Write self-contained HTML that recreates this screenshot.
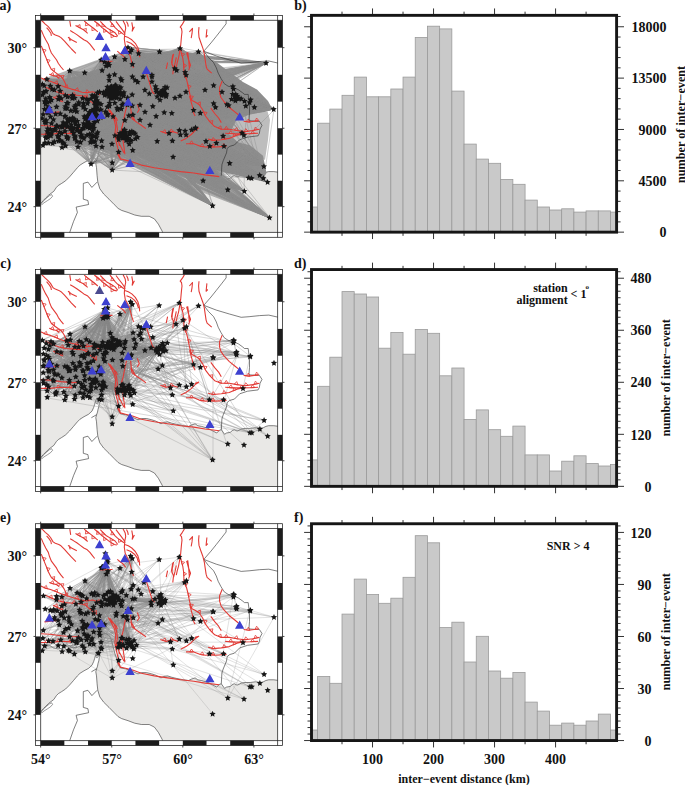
<!DOCTYPE html><html><head><meta charset="utf-8"><style>
html,body{margin:0;padding:0;background:#fff;}
svg{display:block;}
.t14{font-family:"Liberation Serif", serif;font-weight:bold;font-size:14px;fill:#111;}
.t12{font-family:"Liberation Serif", serif;font-weight:bold;font-size:12px;fill:#111;}
.t7{font-family:"Liberation Serif", serif;font-weight:bold;font-size:7px;fill:#111;}
.ty{font-family:"Liberation Serif", serif;font-weight:bold;font-size:12.2px;fill:#111;}
</style></head><body>
<svg width="685" height="785" viewBox="0 0 685 785">
<rect width="685" height="785" fill="#fff"/>
<g transform="translate(0,0.00)">
<clipPath id="mc0"><rect x="40.65" y="20.30" width="236.95" height="212.10"/></clipPath>
<g clip-path="url(#mc0)">
<rect x="40.65" y="20.30" width="236.95" height="212.10" fill="#fff"/>
<path d="M39.0 136.1 L40.6 136.1 L45.0 136.1 L49.7 137.2 L53.2 139.6 L57.9 140.7 L61.4 140.2 L66.0 138.4 L69.5 137.2 L71.9 139.0 L75.4 139.6 L78.9 138.4 L82.4 137.2 L85.9 135.5 L89.4 133.1 L92.9 130.8 L95.0 127.0 L97.0 124.5 L101.0 124.6 L106.0 125.5 L109.5 127.5 L111.5 132.0 L113.0 138.0 L114.8 145.0 L116.8 150.9 L118.5 157.1 L120.3 159.7 L125.5 160.6 L130.8 162.4 L138.0 165.7 L141.3 164.4 L146.5 164.4 L151.8 165.7 L155.7 167.0 L161.0 169.7 L163.6 168.3 L167.6 167.7 L171.5 169.0 L176.8 170.3 L183.3 171.6 L188.6 172.3 L191.2 171.0 L195.1 169.7 L197.8 171.6 L201.6 172.3 L208.1 174.3 L216.7 178.9 L219.3 176.2 L221.3 175.6 L224.6 180.2 L226.5 178.9 L230.5 178.2 L232.4 176.2 L234.4 175.6 L237.0 176.9 L239.0 176.2 L241.0 174.9 L245.0 174.3 L250.2 174.3 L255.4 173.6 L260.7 174.3 L263.3 173.6 L265.9 172.3 L268.6 171.6 L273.8 171.6 L279.0 172.3 L279.0 234.0 L163.0 234.0 L162.3 231.4 L158.4 224.2 L154.4 218.9 L149.2 216.3 L141.3 216.3 L134.7 215.0 L128.1 212.5 L121.6 210.4 L118.1 208.4 L114.2 204.5 L109.0 199.2 L103.7 194.0 L99.8 188.7 L97.8 182.1 L97.1 175.6 L96.5 167.7 L95.8 163.6 L96.6 160.6 L97.5 158.0 L98.0 155.3 L98.8 152.7 L99.3 149.2 L98.8 146.1 L97.5 144.8 L96.2 145.2 L95.4 147.5 L94.6 150.5 L93.6 153.5 L92.0 157.0 L88.5 160.2 L84.0 162.6 L80.0 165.1 L77.4 167.7 L73.5 172.3 L69.5 176.9 L65.6 180.8 L61.7 183.4 L58.4 185.4 L56.4 187.4 L53.8 191.3 L51.1 193.3 L48.5 195.3 L45.9 197.9 L43.3 200.5 L40.6 203.8 L39.0 205.0 Z" fill="#e9e8e6" stroke="#333" stroke-width="0.6"/>
<path d="M41.2 203.6 L43.5 200.8 L46.5 198.2 L49.5 195.6 L51.6 194.6 L52.6 196.2 L50.5 198.6 L47.5 200.6 L44.0 202.8 L41.8 204.6 Z" fill="#fff" stroke="#333" stroke-width="0.5"/>
<path d="M70.8 137.5 L73.0 136.6 L76.2 137.1 L76.4 138.9 L73.5 139.5 L71.0 139.1 Z" fill="#fff" stroke="#333" stroke-width="0.5"/>
<path d="M96.0 147.5 L97.2 146.0 L98.3 147.2 L97.5 149.5 L96.3 149.4 Z" fill="#fff" stroke="#333" stroke-width="0.5"/>
<path d="M40.0 79.5 L48.7 76.8 L59.4 73.2 L70.0 69.6 L82.5 65.2 L95.0 60.7 L103.9 58.1 L114.6 54.5 L127.0 51.0 L137.7 49.7 L160.0 50.0 L160.0 53.0 L137.0 55.0 L119.3 61.0 L101.6 68.0 L80.4 76.0 L59.2 81.0 L40.0 87.0 Z" fill="#b4b4b4"/><path d="M232.0 112.0 L250.0 110.0 L266.0 106.0 L270.0 120.0 L268.0 140.0 L265.0 160.0 L250.0 150.0 L236.0 146.0 L226.0 136.0 L228.0 120.0 Z" fill="#bdbdbd"/><path d="M40.0 86.0 L59.2 80.5 L80.4 75.5 L101.6 67.0 L119.3 60.5 L137.0 54.5 L158.1 52.5 L179.3 51.0 L198.8 54.0 L214.7 61.0 L228.8 71.5 L243.0 82.0 L257.0 89.5 L268.0 101.0 L272.0 108.5 L264.1 112.0 L250.0 114.0 L236.0 121.0 L229.0 134.6 L236.0 141.7 L250.0 145.2 L263.0 155.8 L266.5 173.0 L263.0 179.5 L250.0 177.0 L228.8 173.5 L214.7 170.0 L193.5 166.4 L172.3 161.1 L151.1 157.6 L133.4 155.8 L119.3 152.3 L108.7 150.5 L98.1 148.7 L83.9 145.2 L66.3 141.7 L52.1 138.1 L40.0 136.4 Z" fill="#8e8e8e"/><path d="M213 206l-170 -121M213 206l-136 -75M213 206l-136 -75M213 206l-140 -85M213 206l-86 -70M213 206l-117 -94M213 206l-94 -70M213 206l-75 -68M213 206l-169 -113M213 206l-81 -65M213 206l-116 -98M213 206l-145 -109M213 206l-103 -126M213 206l-111 -59M213 206l-166 -85M213 206l-140 -86M213 206l-92 -118M213 206l-162 -120M213 206l-119 -82M213 206l-144 -84M213 206l-98 -108M213 206l-129 -99M213 206l-133 -74M213 206l-86 -70M213 206l-98 -103M213 206l-134 -103M213 206l-116 -98M213 206l-82 -66M213 206l-89 -110M213 206l-148 -74M213 206l-106 -113M213 206l-170 -111M213 206l-91 -111M213 206l-107 -114M213 206l-99 -116M213 206l-90 -73M213 206l-158 -116M213 206l-120 -88M213 206l-155 -80M213 206l-120 -79M213 206l-88 -74M213 206l-154 -109M213 206l-163 -98M213 206l-93 -112M213 206l-88 -70M213 206l-145 -109M213 206l-98 -117M213 206l-125 -86M213 206l-139 -87M213 206l-91 -101M213 206l-107 -113M213 206l-103 -110M213 206l-84 -90M213 206l-94 -70M213 206l-84 -90M213 206l-156 -80M213 206l-136 -94M213 206l-164 -93M213 206l-162 -120M213 206l-114 -103M213 206l-146 -83M213 206l-117 -92M213 206l-169 -91M213 206l-94 -70M213 206l-86 -65M213 206l-148 -90M213 206l-145 -86M213 206l-88 -74M213 206l-148 -90M213 206l-147 -110M213 206l-99 -112M213 206l-102 -111M213 206l-168 -97M213 206l-94 -70M213 206l-103 -126M213 206l-77 -67M213 206l-92 -118M213 206l-103 -100M213 206l-105 -99M213 206l-146 -103M213 206l-80 -111M213 206l-117 -97M213 206l-90 -102M213 206l-97 -118M213 206l-163 -104M213 206l-154 -107M213 206l-168 -85M213 206l-140 -108M213 206l-162 -89M213 206l-130 -107M213 206l-118 -84M213 206l-105 -115M213 206l-167 -102M213 206l-96 -118M213 206l-151 -107M213 206l-140 -86M213 206l-152 -92M213 206l-168 -97M213 206l-98 -113M213 206l-116 -100M213 206l-129 -100M213 206l-133 -74M213 206l-156 -99M213 206l-111 -59M213 206l-162 -89M213 206l-77 -67M213 206l-83 -72M213 206l-162 -76M213 206l-117 -89M213 206l-118 -84M213 206l-156 -99M213 206l-95 -98M213 206l-92 -118M213 206l-87 -68M213 206l-133 -74M213 206l-87 -73M213 206l-89 -113M213 206l-115 -89M213 206l-100 -112M213 206l-140 -75M213 206l-126 -80M213 206l-98 -103M213 206l-136 -75M213 206l-120 -110M213 206l-154 -107M213 206l-130 -77M213 206l-92 -118M213 206l-161 -82M213 206l-162 -120M213 206l-154 -109M213 206l-86 -70M213 206l-98 -108M213 206l-147 -99M213 206l-170 -121M213 206l-117 -101M213 206l-86 -70M213 206l-97 -117M213 206l-142 -95M213 206l-149 -83M213 206l-163 -109M213 206l-148 -74M213 206l-123 -78M213 206l-88 -74M213 206l-91 -101M213 206l-90 -68M213 206l-146 -80M213 206l-170 -121M213 206l-112 -88M213 206l-141 -81M213 206l-170 -121M213 206l-168 -120M213 206l-151 -79M213 206l-104 -116M213 206l-105 -119M213 206l-145 -80M213 206l-120 -75M213 206l-120 -110M213 206l-126 -88M213 206l-145 -103M213 206l-128 -87M270 218l-211 -131M270 218l-154 -132M270 218l-209 -127M270 218l-172 -125M270 218l-183 -94M270 218l-172 -125M270 218l-220 -110M270 218l-162 -131M270 218l-151 -78M270 218l-209 -127M270 218l-164 -125M270 218l-160 -126M270 218l-197 -97M270 218l-161 -128M270 218l-197 -119M270 218l-164 -106M270 218l-177 -87M270 218l-192 -97M270 218l-147 -82M270 218l-198 -88M270 218l-224 -114M270 218l-220 -116M270 218l-204 -109M270 218l-204 -101M270 218l-199 -90M270 218l-160 -112M270 218l-162 -123M270 218l-138 -77M270 218l-146 -125M270 218l-132 -136M270 218l-213 -92M270 218l-140 -86M270 218l-151 -126M270 218l-183 -94M270 218l-145 -97M270 218l-208 -119M270 218l-201 -96M270 218l-204 -111M270 218l-173 -114M270 218l-155 -120M270 218l-175 -96M270 218l-225 -96M270 218l-227 -123M270 218l-200 -99M270 218l-175 -108M270 218l-142 -78M270 218l-160 -112M270 218l-140 -83M270 218l-142 -113M270 218l-154 -127M270 218l-169 -108M270 218l-153 -122M270 218l-140 -74M270 218l-175 -121M270 218l-180 -105M270 218l-200 -99M270 218l-174 -104M270 218l-174 -113M270 218l-152 -110M270 218l-180 -103M270 218l-151 -126M270 218l-177 -87M270 218l-199 -90M270 218l-215 -89M270 218l-153 -130M270 218l-202 -98M270 218l-183 -100M270 218l-154 -132M270 218l-155 -129M270 218l-152 -124M270 218l-150 -84M270 218l-138 -77M270 218l-156 -128M270 218l-143 -81M270 218l-140 -85M270 218l-180 -105M270 218l-132 -80M270 218l-225 -96M270 218l-177 -91M270 218l-164 -125M270 218l-180 -94M270 218l-162 -131M270 218l-156 -122M270 218l-182 -96M270 218l-155 -120M270 218l-174 -101M270 218l-198 -93M270 218l-184 -99M270 218l-180 -90M270 218l-146 -84M270 218l-194 -93M270 218l-182 -102M270 218l-204 -102M270 218l-182 -114M270 218l-142 -80M270 218l-177 -105M270 218l-162 -125M270 218l-150 -124M270 218l-143 -82M270 218l-222 -106M270 218l-134 -79M270 218l-222 -86M270 218l-174 -106M270 218l-136 -85M270 218l-197 -100M270 218l-175 -96M270 218l-155 -82M270 218l-145 -87M270 218l-204 -102M270 218l-187 -119M270 218l-208 -91M270 218l-160 -115M270 218l-134 -137M270 218l-215 -128M270 218l-173 -114M270 218l-199 -90M270 218l-178 -119M270 218l-227 -99M270 218l-219 -132M270 218l-149 -125M270 218l-162 -103M270 218l-208 -119M270 218l-159 -131M270 218l-162 -111M270 218l-197 -122M270 218l-219 -88M270 218l-138 -86M270 218l-154 -132M270 218l-224 -114M270 218l-178 -90M270 218l-202 -91M270 218l-214 -87M270 218l-222 -86M270 218l-147 -113M270 218l-220 -107M270 218l-175 -109M270 218l-161 -122M270 218l-153 -129M270 218l-175 -116M270 218l-146 -84M270 218l-172 -102M270 218l-220 -120M270 218l-140 -84M270 218l-193 -106M270 218l-179 -105M270 218l-172 -97M270 218l-204 -93M270 218l-217 -128M270 218l-187 -89M270 218l-145 -88M270 218l-177 -91M270 218l-186 -110M270 218l-134 -84M270 218l-182 -91M270 218l-208 -119M270 218l-224 -95M270 218l-195 -120M270 218l-154 -127M270 218l-220 -107M270 218l-174 -106M270 218l-155 -115M270 218l-208 -92M270 218l-204 -86M270 218l-149 -119M270 218l-155 -129M270 218l-143 -77M270 218l-137 -112M270 218l-152 -126M270 218l-183 -94M270 218l-147 -84M270 218l-136 -85M270 218l-179 -105M270 218l-134 -137M270 218l-182 -117M270 218l-224 -119M270 218l-172 -125M270 218l-200 -99M270 218l-180 -103M270 218l-147 -85M270 218l-223 -97M270 218l-160 -137M270 218l-223 -97M270 218l-224 -114M270 218l-221 -110M270 218l-137 -123M270 218l-178 -90M270 218l-162 -102M270 218l-155 -120M270 218l-200 -99M270 218l-220 -107M266 63l-132 70M266 63l-136 -11M266 63l-141 70M266 63l-188 84M266 63l-149 24M266 63l-165 -3M266 63l-128 -10M266 63l-135 78M266 63l-182 76M266 63l-138 35M266 63l-172 59M266 63l-152 -6M266 63l-107 -11M266 63l-148 28M266 63l-215 37M266 63l-153 54M266 63l-198 57M266 63l-107 -11M266 63l-136 -11M266 63l-134 43M266 63l-204 62M266 63l-86 -15M266 63l-141 -4M266 63l-208 74M266 63l-165 -3M266 63l-192 65M266 63l-180 63M266 63l-195 64M266 63l-175 36M266 63l-174 53M266 63l-221 41M266 63l-141 -4M266 63l-216 34M266 63l-206 51M266 63l-198 74M266 63l-199 64M266 63l-166 46M266 63l-174 64M266 63l-154 35M266 63l-218 50M266 63l-128 -10M266 63l-171 33M266 63l-141 -4M266 63l-152 -6M266 63l-187 39M266 63l-216 34M266 63l-138 -16M266 63l-213 57M266 63l-138 -16M266 63l-223 82M266 63l-171 46M266 63l-194 67M266 63l-208 36M266 63l-133 52M266 63l-171 46M266 63l-146 36M266 63l-140 72M266 63l-143 31M266 63l-151 28M266 63l-138 -16M266 63l-189 65M266 63l-68 -11M266 63l-135 -13M266 63l-201 62M266 63l-223 29M266 63l-170 74M266 63l-135 -13M266 63l-128 -10M266 63l-138 -16M266 63l-183 40M266 63l-141 -4M266 63l-169 46M266 63l-192 56M266 63l-187 39M266 63l-107 -11M266 63l-136 -11M266 63l-128 -10M266 63l-165 -3M266 63l-147 73M266 63l-189 58M266 63l-146 36M266 63l-161 28M266 63l-213 80M266 63l-134 68M266 63l-136 77M266 63l-148 28M266 63l-152 25M266 63l-173 61M266 63l-205 78M266 63l-177 52M266 63l-172 46M266 63l-145 24M266 63l-191 46M266 63l-208 23M266 63l-176 50M266 63l-136 -11M266 63l-165 -3M266 63l-158 27M266 63l-173 63M266 63l-141 -4M266 63l-180 55M266 63l-201 45M266 63l-169 52M266 63l-135 -13M266 63l-136 -11M266 63l-170 83M266 63l-170 48M266 63l-208 73M266 63l-183 44M266 63l-179 40M274 109l-178 37M274 109l-179 -13M274 109l-142 -60M274 109l-173 8M274 109l-196 19M274 109l-227 11M274 109l-178 37M274 109l-225 34M274 109l-149 23M274 109l-163 -22M274 109l-228 -11M274 109l-159 -52M274 109l-199 1M274 109l-114 -58M274 109l-180 -12M274 109l-144 -57M274 109l-75 -58M274 109l-94 -61M274 109l-94 -61M274 109l-166 -18M274 109l-182 32M274 109l-180 32M274 109l-157 -12M274 109l-200 10M274 109l-152 -15M274 109l-142 -60M274 109l-192 25M274 109l-136 -27M274 109l-201 12M274 109l-182 1M274 109l-210 34M274 109l-135 -56M274 109l-142 -60M274 109l-151 28M274 109l-161 -17M274 109l-168 -16M274 109l-206 -12M274 109l-198 15M274 109l-231 -14M274 109l-149 -50M274 109l-166 5M274 109l-159 -52M274 109l-159 -52M274 109l-192 27M274 109l-157 -11M274 109l-214 -18M274 109l-226 4M274 109l-135 -56M274 109l-160 -12M274 109l-228 29M274 109l-158 -19M274 109l-217 17M274 109l-149 -50M274 109l-154 -15M274 109l-189 7M274 109l-211 33M274 109l-114 -58M274 109l-201 -14M274 109l-172 -49M274 109l-149 -50M274 109l-172 -49M274 109l-231 36M274 109l-149 -50M274 109l-195 -7M274 109l-144 -57M274 109l-226 2M274 109l-232 9M274 109l-149 -50M274 109l-164 -3M274 109l-94 -61M274 109l-184 15M274 109l-189 7M274 109l-201 -11M274 109l-229 -0M274 109l-160 -20M274 109l-178 8M274 109l-197 2M274 109l-149 21M274 109l-187 26M274 109l-162 35M274 109l-185 18M274 109l-189 10M274 109l-151 -15M274 109l-229 -0M274 109l-223 27M274 109l-179 -0M274 109l-197 21M274 109l-157 -11M274 109l-166 -17M274 109l-94 -61M274 109l-156 -18M274 109l-149 -50M274 109l-146 -62M274 109l-181 8M274 109l-197 32M274 109l-216 17M274 109l-155 27M274 109l-149 -50M274 109l-142 -60M274 109l-206 -12M274 109l-176 12M274 109l-183 4M274 109l-157 -16M274 109l-164 -3M274 109l-183 -11M274 109l-75 -58M274 109l-187 -10M274 109l-224 -12M274 109l-149 -50M274 109l-149 -50M274 109l-181 27M274 109l-114 -58M274 109l-144 -57M274 109l-187 26M274 109l-176 7M274 109l-219 -19M274 109l-184 6M274 109l-159 -52M274 109l-178 4M274 109l-142 -60M268 182l-222 -59M268 182l-173 -73M268 182l-153 -85M268 182l-201 -74M268 182l-184 -59M268 182l-173 -80M268 182l-175 -70M268 182l-195 -84M268 182l-176 -55M268 182l-218 -72M268 182l-164 -90M268 182l-138 -50M268 182l-133 -48M268 182l-224 -90M268 182l-218 -74M268 182l-142 -44M268 182l-153 -85M268 182l-202 -57M268 182l-140 -44M268 182l-160 -90M268 182l-145 -78M268 182l-140 -44M268 182l-222 -78M268 182l-171 -85M268 182l-161 -89M268 182l-130 -100M268 182l-155 -89M268 182l-198 -63M268 182l-171 -77M268 182l-207 -91M268 182l-166 -41M268 182l-149 -91M268 182l-145 -49M268 182l-147 -90M268 182l-140 -77M268 182l-188 -50M268 182l-224 -68M268 182l-181 -58M268 182l-145 -49M268 182l-138 -48M268 182l-200 -56M268 182l-218 -74M268 182l-144 -88M268 182l-192 -61M268 182l-178 -58M268 182l-195 -86M268 182l-147 -95M268 182l-207 -91M268 182l-223 -73M268 182l-182 -73M268 182l-171 -79M268 182l-146 -73M268 182l-173 -73M268 182l-220 -70M268 182l-226 -64M268 182l-162 -70M268 182l-144 -86M268 182l-203 -51M268 182l-167 -65M268 182l-143 -52M268 182l-155 -88M268 182l-157 -95M268 182l-197 -55M268 182l-184 -76M268 182l-133 -48M268 182l-219 -69M268 182l-138 -49M268 182l-172 -68M268 182l-144 -48M268 182l-184 -76M268 182l-175 -65M268 182l-142 -46M268 182l-180 -55M268 182l-174 -85M268 182l-135 -87M268 182l-176 -72M268 182l-200 -63M268 182l-142 -49M268 182l-167 -65M268 182l-181 -65M268 182l-192 -73M268 182l-200 -56M268 182l-189 -78M268 182l-216 -82M268 182l-171 -74M268 182l-171 -75M268 182l-225 -98M268 182l-170 -89M268 182l-202 -74M268 182l-200 -56M268 182l-153 -47M268 182l-194 -54M268 182l-167 -65M268 182l-183 -66M268 182l-175 -87M268 182l-140 -42M268 182l-200 -79M268 182l-156 -89M268 182l-144 -86M268 182l-193 -71M268 182l-145 -88M268 182l-149 -91M268 182l-189 -78M268 182l-162 -70M268 182l-209 -83M268 182l-223 -96M268 182l-143 -52M268 182l-160 -68M268 182l-138 -48M268 182l-192 -58M268 182l-180 -62M268 182l-191 -51M268 182l-181 -58M268 182l-173 -73M268 182l-218 -81M268 182l-180 -62M268 182l-195 -87M268 182l-166 -35M268 182l-172 -68M268 182l-217 -53M264 166l-131 -52M264 166l-173 -32M264 166l-168 -59M264 166l-219 -46M264 166l-139 -35M264 166l-177 -31M264 166l-139 -107M264 166l-139 -107M264 166l-185 -41M264 166l-65 -115M264 166l-168 -55M264 166l-166 -74M264 166l-193 -56M264 166l-134 -114M264 166l-134 -114M264 166l-136 -62M264 166l-150 -73M264 166l-132 -72M264 166l-139 -28M264 166l-210 -77M264 166l-185 -64M264 166l-199 -41M264 166l-212 -77M264 166l-134 -114M264 166l-154 -64M264 166l-216 -54M264 166l-209 -36M264 166l-132 -72M264 166l-163 -57M264 166l-206 -67M264 166l-139 -107M264 166l-132 -117M264 166l-180 -43M264 166l-216 -29M264 166l-132 -117M264 166l-136 -119M264 166l-221 -82M264 166l-179 -48M264 166l-84 -118M264 166l-216 -38M264 166l-222 -48M264 166l-175 -54M264 166l-216 -38M264 166l-104 -115M264 166l-138 -30M264 166l-125 -113M264 166l-134 -114M264 166l-201 -44M264 166l-132 -117M264 166l-181 -68M264 166l-220 -74M264 166l-166 -51M264 166l-199 -60M264 166l-144 -67M264 166l-160 -74M264 166l-152 -80M264 166l-194 -38M264 166l-219 -24M264 166l-210 -25M264 166l-166 -34M264 166l-153 -68M264 166l-145 -79M264 166l-84 -118M264 166l-132 -117M264 166l-185 -41M264 166l-148 -76M264 166l-206 -80M264 166l-134 -114M264 166l-177 -51M264 166l-163 -107M264 166l-163 -107M264 166l-163 -107M264 166l-134 -114M264 166l-175 -52M264 166l-212 -34M264 166l-84 -118M264 166l-197 -59M264 166l-148 -77M264 166l-174 -43M264 166l-209 -36M264 166l-147 -78M264 166l-216 -29M264 166l-168 -50M264 166l-136 -119M264 166l-157 -80M264 166l-130 -34M264 166l-212 -43M264 166l-199 -41M264 166l-147 -73M264 166l-170 -44M264 166l-150 -69M264 166l-139 -107M264 166l-149 -63M264 166l-134 -114M264 166l-140 -37M264 166l-149 -110M264 166l-214 -69M264 166l-178 -49M264 166l-104 -115M264 166l-197 -30M244 191l-153 -64M244 191l-133 -98M244 191l-135 -88M244 191l-194 -74M244 191l-179 -66M244 191l-119 -55M244 191l-126 -56M244 191l-158 -92M244 191l-139 -98M244 191l-120 -59M244 191l-196 -78M244 191l-178 -83M244 191l-152 -76M244 191l-182 -64M244 191l-150 -63M244 191l-143 -50M244 191l-192 -102M244 191l-121 -54M244 191l-167 -70M244 191l-122 -86M244 191l-202 -107M244 191l-143 -50M244 191l-137 -76M244 191l-142 -44M244 191l-118 -56M244 191l-172 -60M244 191l-139 -98M244 191l-200 -90M244 191l-195 -90M244 191l-149 -82M244 191l-126 -100M244 191l-202 -107M244 191l-117 -93M244 191l-149 -86M244 191l-121 -54M244 191l-173 -64M244 191l-173 -64M244 191l-181 -69M244 191l-119 -58M244 191l-148 -88M244 191l-132 -97M244 191l-200 -90M244 191l-128 -93M244 191l-199 -70M244 191l-171 -70M244 191l-167 -60M244 191l-157 -64M244 191l-169 -70M244 191l-191 -72M244 191l-179 -75M244 191l-198 -71M244 191l-170 -72M244 191l-201 -99M244 191l-196 -78M244 191l-135 -85M244 191l-140 -96M244 191l-179 -96M244 191l-150 -69M244 191l-148 -84M244 191l-172 -60M244 191l-143 -81M244 191l-131 -75M244 191l-165 -59M244 191l-172 -61M244 191l-152 -81M244 191l-193 -68M244 191l-202 -96M244 191l-152 -74M244 191l-107 -109M244 191l-131 -95M244 191l-117 -86M244 191l-130 -99M244 191l-109 -57M244 191l-192 -102M244 191l-122 -56M244 191l-170 -63M244 191l-122 -59M244 191l-135 -88M244 191l-202 -96M244 191l-143 -87M228 190l-144 -83M228 190l-144 -83M228 190l-135 -77M228 190l-182 -91M228 190l-121 -75M228 190l-139 -78M228 190l-140 -89M228 190l-114 -92M228 190l-180 -77M228 190l-113 -54M228 190l-118 -98M228 190l-107 -81M228 190l-100 -50M228 190l-138 -62M228 190l-133 -81M228 190l-160 -64M228 190l-138 -62M228 190l-122 -98M228 190l-153 -83M228 190l-108 -91M228 190l-155 -72M228 190l-132 -73M228 190l-145 -91M228 190l-104 -54M228 190l-178 -82M228 190l-117 -92M228 190l-149 -87M228 190l-173 -59M228 190l-96 -58M228 190l-172 -76M228 190l-101 -54M228 190l-167 -91M228 190l-144 -83M228 190l-180 -61M228 190l-103 -57M228 190l-161 -87M228 190l-90 -52M228 190l-178 -82M228 190l-161 -82M228 190l-92 -51M228 190l-117 -103M228 190l-177 -60M228 190l-170 -91M228 190l-112 -92M228 190l-180 -78M228 190l-182 -98M228 190l-109 -50M228 190l-105 -96M228 190l-132 -76M228 190l-135 -72M228 190l-102 -54M228 190l-182 -67M228 190l-136 -79M228 190l-119 -94M228 190l-140 -70M228 190l-163 -73M228 190l-159 -71M228 190l-96 -95M228 190l-133 -85M228 190l-131 -84M228 190l-104 -97M228 190l-133 -93M228 190l-168 -76M228 190l-144 -66M228 190l-129 -87M228 190l-133 -93M228 190l-114 -100M228 190l-181 -78M228 190l-126 -49M228 190l-171 -64M228 190l-156 -91M228 190l-109 -50M228 190l-120 -98M228 190l-182 -86M228 190l-111 -96M228 190l-115 -97M228 190l-160 -63M228 190l-152 -65M228 190l-140 -69M228 190l-122 -97M203 181l-117 -57M203 181l-158 -72M203 181l-124 -76M203 181l-87 -83M203 181l-76 -44M203 181l-91 -37M203 181l-70 -66M203 181l-92 -94M203 181l-68 -42M203 181l-123 -49M203 181l-88 -78M203 181l-87 -95M203 181l-78 -48M203 181l-115 -60M203 181l-115 -61M203 181l-145 -94M203 181l-94 -100M203 181l-79 -88M203 181l-80 -87M203 181l-147 -67M203 181l-86 -87M203 181l-120 -77M203 181l-134 -62M203 181l-79 -47M203 181l-89 -93M203 181l-128 -60M203 181l-156 -79M203 181l-118 -72M203 181l-146 -54M203 181l-126 -60M203 181l-93 -82M203 181l-131 -50M203 181l-74 -65M203 181l-106 -73M203 181l-84 -44M203 181l-117 -63M203 181l-120 -82M203 181l-85 -89M203 181l-115 -59M203 181l-136 -78M203 181l-90 -87M203 181l-87 -83M203 181l-120 -82M203 181l-78 -48M203 181l-68 -47M203 181l-87 -83M203 181l-117 -55M203 181l-104 -78M203 181l-141 -55M203 181l-157 -58M203 181l-111 -65M203 181l-83 -88M203 181l-89 -88M203 181l-112 -82M203 181l-113 -57M203 181l-77 -45M203 181l-130 -63M203 181l-122 -49M203 181l-89 -93M203 181l-138 -49M91 164l159 -61M91 164l-31 -32M91 164l75 -70M91 164l25 -78M91 164l-17 -31M91 164l153 -29M91 164l115 -23M91 164l160 -64M91 164l19 -68M91 164l15 -52M91 164l-41 -34M91 164l-25 -27M91 164l41 -32M91 164l84 -96M91 164l-23 -44M91 164l123 -78M91 164l133 -18M91 164l27 -73M91 164l73 -52M91 164l-49 -46M91 164l-44 -53M91 164l20 -73M91 164l-44 -53M91 164l-46 -63M91 164l-39 -33M91 164l78 -31M91 164l-24 -56M91 164l69 -71M91 164l-45 -43M91 164l5 -57M91 164l5 -52M91 164l142 -70M91 164l4 -67M91 164l32 -68M91 164l6 -55M91 164l-24 -56M91 164l71 -68M91 164l29 -72M91 164l68 -112M91 164l-2 -52M91 164l24 -61M91 164l29 -72M91 164l-16 -28M91 164l33 -34M91 164l32 -68M91 164l-26 -68M91 164l40 -23M91 164l18 -84M91 164l10 -60M91 164l-26 -47M91 164l15 -72M91 164l2 -51M91 164l-45 -41M91 164l-42 -54M91 164l17 -74M91 164l141 -65M91 164l28 -77M91 164l89 -29M91 164l-44 -62M91 164l-24 -41M112 170l-5 -77M112 170l-5 -79M112 170l-64 -41M112 170l2 -81M112 170l-20 -60M112 170l139 8M112 170l31 -93M112 170l18 -36M112 170l-28 -31M112 170l112 -24M112 170l64 -100M112 170l25 -88M112 170l-2 -74M112 170l124 -73M112 170l-45 -31M112 170l-45 -31M112 170l10 -37M112 170l-54 -84M112 170l14 -32M112 170l53 -83M112 170l-26 -52M112 170l154 -107M112 170l-60 -39M112 170l-2 -75M112 170l-40 -52M112 170l83 -42M112 170l-35 -42M112 170l-15 -55M112 170l-7 -77M112 170l154 -107M112 170l124 -72M112 170l-5 -83M112 170l-47 -53M112 170l-38 -72M112 170l-50 -44M112 170l-58 -41M112 170l13 -50M112 170l-66 -78M112 170l52 -75M112 170l115 -66M112 170l18 -36M112 170l-23 -58M112 170l98 -24M112 170l54 -73M112 170l54 -73M112 170l41 -64M112 170l-55 -44M112 170l44 -54M112 170l20 -64M112 170l-2 -74M160 52l-8 23M160 52l-52 55M160 52l-115 34M160 52l-62 41M160 52l53 154M160 52l-114 85M160 52l62 40M160 52l-114 85M160 52l4 40M160 52l80 47M160 52l5 41M160 52l74 37M160 52l-92 74M160 52l-79 79M160 52l-88 78M160 52l-24 28M160 52l-94 80M160 52l4 41M160 52l-99 89M160 52l-32 46M160 52l-30 82M160 52l-32 86M160 52l-36 42M160 52l-93 56M160 52l-77 47M160 52l-30 80M160 52l-45 51M160 52l-101 35M160 52l-2 90M160 52l-84 69M160 52l-105 77M160 52l77 45M160 52l-51 44M160 52l-111 61M160 52l-79 91M160 52l-67 75M160 52l-70 60M160 52l-32 86M160 52l73 35M160 52l64 84M160 52l82 81M160 52l5 38M160 52l-28 89M160 52l-30 81M160 52l-108 79M160 52l27 23M160 52l-92 45M160 52l-56 41M160 52l-114 69M160 52l-93 74M160 52l-46 36M160 52l77 46M160 52l54 52M160 52l56 56M160 52l-63 52M160 52l34 58M160 52l-69 90M160 52l100 124M160 52l-107 37M160 52l-62 63M180 48l-93 55M180 48l52 51M180 48l-67 45M180 48l-119 85M180 48l-64 49M180 48l-70 46M180 48l-16 45M180 48l-27 58M180 48l83 130M180 48l-134 43M180 48l62 84M180 48l-63 60M180 48l-131 60M180 48l-107 50M180 48l-97 57M180 48l6 27M180 48l48 141M180 48l-35 64M180 48l-126 41M180 48l-42 89M180 48l64 143M180 48l-31 45M180 48l-133 54M180 48l-88 62M180 48l-119 78M180 48l-88 67M180 48l-18 47M180 48l-134 75M180 48l-128 83M180 48l-72 42M180 48l-66 44M180 48l53 38M180 48l-99 88M180 48l6 27M180 48l-86 74M180 48l-107 50M180 48l-63 45M180 48l26 93M180 48l-123 58M180 48l-113 60M180 48l57 48M180 48l-81 54M180 48l-87 82M180 48l-14 46M180 48l-24 41M180 48l-93 55M180 48l-97 50M180 48l-72 43M180 48l-134 90M180 48l-103 79M180 48l-84 89M180 48l16 79M180 48l-112 78M180 48l-72 42M180 48l-133 63M180 48l-130 53M180 48l-134 55M180 48l-85 57M180 48l-134 88M198 52l26 94M198 52l-25 105M198 52l-81 42M198 52l-87 41M198 52l-154 70M198 52l-72 84M198 52l-137 82M198 52l-123 85M198 52l-80 84M198 52l-7 78M198 52l37 43M198 52l-116 77M198 52l-123 85M198 52l-126 44M198 52l-34 41M198 52l-81 36M198 52l-89 51M198 52l-78 47M198 52l-155 94M198 52l-38 40M198 52l44 81M198 52l-26 89M198 52l-101 81M198 52l-101 41M198 52l-70 64M198 52l-108 61M198 52l-39 41M198 52l-33 44M198 52l-138 39M198 52l-91 39M198 52l-86 46M198 52l-117 83M198 52l-153 52M198 52l-63 82M198 52l-80 39M198 52l-91 41M198 52l-107 89M198 52l-105 72M198 52l-152 40M198 52l-80 84M198 52l-49 42M198 52l-149 59M198 52l-118 79M198 52l-73 84M198 52l-115 55M198 52l-126 78M198 52l-75 82M198 52l-108 83M198 52l-142 74M198 52l-69 81M198 52l-13 20M198 52l-32 42M198 52l-150 91M198 52l-76 82M198 52l47 54M198 52l-108 61M198 52l-7 78M198 52l-78 82M198 52l75 58M198 52l-138 89M251 100l-164 18M251 100l-189 26M251 100l-171 32M251 100l-143 -9M251 100l-136 -43M251 100l-149 -40M251 100l-180 29M251 100l-167 24M251 100l-119 -50M251 100l-121 35M251 100l-136 -43M251 100l-167 7M251 100l-167 28M251 100l-209 19M251 100l-196 -10M251 100l-126 -40M251 100l-207 -7M251 100l-130 -7M251 100l-200 30M251 100l-129 5M251 100l-156 10M251 100l-154 1M251 100l-126 32M251 100l-135 -14M251 100l-136 -43M251 100l-135 -14M251 100l-128 33M251 100l-135 -14M251 100l-52 -48M251 100l-112 -46M251 100l-183 3M251 100l-152 3M251 100l-112 -46M251 100l-201 8M251 100l-177 19M251 100l-184 23M251 100l-71 -51M251 100l-203 12M251 100l-158 16M251 100l-141 -8M251 100l-121 -48M251 100l-149 -40M251 100l-187 23M251 100l-203 12M251 100l-174 31M251 100l-71 -51M251 100l-175 9M251 100l-203 32M251 100l-136 -43M251 100l-184 9M251 100l-149 47M251 100l-135 -14M251 100l-190 41M251 100l-180 11M251 100l-112 -46M251 100l-149 -40M251 100l-190 -9M251 100l-71 -51M251 100l-134 -2M251 100l-158 16M70 71l38 20M70 71l3 25M70 71l-21 72M70 71l41 24M70 71l22 25M70 71l4 58M70 71l111 64M70 71l154 75M70 71l66 68M70 71l68 11M70 71l44 17M70 71l4 62M70 71l198 111M70 71l110 25M70 71l44 26M70 71l31 39M70 71l165 26M70 71l-3 32M70 71l95 22M70 71l26 46M70 71l-26 21M70 71l3 50M70 71l47 37M70 71l147 72M70 71l46 17M70 71l25 31M70 71l4 62M70 71l-25 38M70 71l-4 36M70 71l-5 61M70 71l-27 74M70 71l47 17M70 71l-25 72M70 71l-7 72M70 71l34 22M70 71l62 61M70 71l-11 65M70 71l-11 70M70 71l46 18M70 71l46 20M70 71l62 35M70 71l170 28M70 71l8 50M70 71l45 14M70 71l93 20M70 71l24 57M70 71l-11 26M70 71l153 65M70 71l154 75M70 71l152 21M70 71l21 42M70 71l-8 56M70 71l49 65M70 71l50 18M70 71l18 51M70 71l194 108M70 71l50 28M70 71l-20 37M70 71l-18 60M70 71l-17 73M70 71l37 44M70 71l27 63M70 71l18 30M70 71l43 46M70 71l41 27M70 71l95 19M70 71l46 20M70 71l-10 43M70 71l40 21M70 71l164 18M85 73l27 26M85 73l6 62M85 73l13 60M85 73l160 28M85 73l151 28M85 73l-2 64M85 73l17 74M85 73l80 22M85 73l-22 55M85 73l139 73M85 73l3 31M85 73l152 24M85 73l51 66M85 73l81 22M85 73l60 17M85 73l8 54M85 73l-39 18M85 73l65 21M85 73l36 20M85 73l111 55M85 73l185 145M85 73l-4 59M85 73l34 19M85 73l41 64M85 73l-40 29M85 73l-1 35M85 73l23 14M85 73l148 21M85 73l3 47M85 73l67 4M85 73l80 15M85 73l-3 64M85 73l71 17M85 73l81 23M85 73l30 30M85 73l-10 34M85 73l-6 53M85 73l29 25M85 73l-6 30M85 73l132 70M85 73l80 22M85 73l-17 47M85 73l154 26M85 73l2 63M85 73l-39 26M85 73l100 58M85 73l160 28M85 73l-23 61M85 73l29 20M85 73l10 24M85 73l-18 35M85 73l-19 52M85 73l22 43M85 73l9 55M85 73l92 -2M85 73l-1 66M85 73l68 34M85 73l-39 31M85 73l111 55M85 73l-12 23M85 73l160 28M85 73l-30 56M85 73l-37 59M85 73l53 65M85 73l34 64M85 73l6 70M85 73l87 40M85 73l11 32M85 73l21 20M85 73l29 20M102 70l-20 64M102 70l-19 58M102 70l3 21M102 70l-14 30M102 70l-37 46M102 70l50 11M102 70l-15 29M102 70l-24 76M102 70l-18 53M102 70l-47 59M102 70l-35 68M102 70l73 -2M102 70l142 121M102 70l-28 48M102 70l1 22M102 70l133 25M102 70l-19 67M102 70l-20 66M102 70l-27 51M102 70l-5 46M102 70l108 76M102 70l148 29M102 70l-41 70M102 70l-30 49M102 70l-25 51M102 70l-15 45M102 70l161 108M102 70l51 36M102 70l28 64M102 70l33 68M102 70l126 119M102 70l26 68M102 70l-10 65M102 70l-8 65M102 70l77 60M102 70l7 26M102 70l15 23M102 70l55 19M102 70l24 67M102 70l134 27M102 70l16 21M102 70l-57 72M102 70l27 74M102 70l12 27M102 70l-5 39M102 70l-15 45M102 70l-28 36M102 70l134 26M102 70l22 22M102 70l-11 28M47 79l187 10M47 79l72 57M47 79l73 20M47 79l82 36M47 79l71 12M47 79l21 58M47 79l117 13M47 79l177 67M47 79l109 10M47 79l49 38M47 79l180 25M47 79l188 21M47 79l118 11M47 79l117 33M47 79l119 15M47 79l190 17M47 79l-2 64M47 79l213 96M47 79l204 20M47 79l20 46M47 79l177 67M47 79l46 56M47 79l96 -3M47 79l67 13M47 79l29 30M47 79l67 18M47 79l52 24M47 79l1 28M47 79l55 61M47 79l82 36M47 79l106 27M47 79l77 56M47 79l202 98M47 79l14 19M47 79l46 47M47 79l223 138M47 79l73 9M47 79l0 52M47 79l21 48M47 79l20 44M47 79l66 10M47 79l15 46M47 79l10 27M47 79l18 37M47 79l41 42M47 79l217 87M47 79l113 21M44 86l47 13M44 86l78 48M44 86l47 13M44 86l72 -0M44 86l56 32M44 86l61 7M44 86l225 132M44 86l129 71M44 86l30 12M44 86l11 45M44 86l8 45M44 86l34 40M44 86l18 42M44 86l151 42M44 86l28 13M44 86l89 29M44 86l191 10M44 86l219 93M44 86l2 35M44 86l73 8M44 86l80 7M44 86l23 34M44 86l86 49M44 86l36 46M44 86l87 55M44 86l70 12M44 86l58 61M44 86l136 10M44 86l70 12M44 86l56 32M44 86l51 11M44 86l63 1M44 86l123 2M44 86l8 58M44 86l69 7M44 86l78 -5M44 86l106 39M44 86l50 10M44 86l189 1M44 86l112 4M108 63l-12 40M108 63l54 27M108 63l17 67M108 63l-28 68M108 63l-30 84M108 63l14 69M108 63l48 26M108 63l-57 60M108 63l-64 46M108 63l-64 46M108 63l15 75M108 63l-48 77M108 63l-22 36M108 63l-14 46M108 63l-14 59M108 63l-30 84M108 63l57 24M108 63l15 31M108 63l-31 58M108 63l53 32M108 63l58 31M108 63l6 34M108 63l127 31M108 63l-12 83M108 63l4 81M108 63l37 27M108 63l-14 59M108 63l-20 64M108 63l52 37M108 63l1 33M108 63l126 32M108 63l-46 79M108 63l-57 60M108 63l-55 56M108 63l-52 62M108 63l-60 49M108 63l48 29M108 63l-16 52M108 63l24 31M108 63l-58 23M108 63l-25 65M108 63l134 70M108 63l-41 33M108 63l71 67M108 63l143 115M108 63l-4 32M108 63l16 66M108 63l-66 21M108 63l158 -0M108 63l-21 58M101 60l162 118M101 60l13 38M101 60l59 40M101 60l34 79M101 60l132 27M101 60l127 130M101 60l-9 58M101 60l168 158M101 60l4 52M101 60l65 37M101 60l-2 32M101 60l16 34M101 60l72 97M101 60l-47 69M101 60l78 70M101 60l-26 77M101 60l-8 64M101 60l63 33M101 60l18 76M101 60l72 97M101 60l-31 69M101 60l22 36M101 60l-45 66M101 60l64 36M101 60l13 29M101 60l63 33M101 60l21 73M101 60l-9 53M101 60l68 73M101 60l32 73M101 60l-7 50M101 60l112 44M101 60l-9 67M101 60l-34 49M101 60l42 17M101 60l63 53M101 60l-8 64M101 60l115 83M101 60l145 46M101 60l26 38M101 60l-50 64M101 60l-57 26M101 60l-51 57M101 60l8 43M101 60l34 79M101 60l-0 44M101 60l-24 61M101 60l56 81M101 60l105 81M101 60l-34 49M115 57l-18 77M115 57l4 79M115 57l50 38M115 57l2 32M115 57l-47 70M115 57l48 34M115 57l58 84M115 57l-27 70M115 57l-25 67M115 57l-20 40M115 57l84 -5M115 57l129 78M115 57l52 37M115 57l-42 39M115 57l71 35M115 57l-42 63M115 57l17 84M115 57l-23 71M115 57l137 122M115 57l-53 70M115 57l-68 64M115 57l-57 69M115 57l42 60M115 57l101 51M115 57l101 51M115 57l-48 69M115 57l145 119M115 57l-21 40M115 57l-37 71M115 57l52 40M115 57l62 14M115 57l-27 65M115 57l-20 52M115 57l-53 77M115 57l131 49M115 57l134 121M115 57l9 37M115 57l-55 75M115 57l-40 79M115 57l-19 60M132 50l120 129M132 50l-5 86M132 50l-37 59M132 50l48 -1M132 50l-66 96M132 50l74 92M132 50l-4 48M132 50l-37 46M132 50l-84 79M132 50l-39 46M132 50l26 47M132 50l-59 46M132 50l-7 81M132 50l-21 49M132 50l-66 75M132 50l32 44M132 50l-48 78M132 50l-65 58M132 50l-42 85M132 50l-48 58M132 50l-13 42M132 50l-68 73M132 50l-36 96M132 50l48 46M132 50l-14 60M132 50l-1 90M132 50l-35 84M132 50l101 37M132 50l135 13M132 50l-9 55M132 50l-24 43M132 50l-82 61M132 50l-14 44M132 50l132 117M132 50l32 43M132 50l64 79M132 50l-64 89M132 50l142 60M132 50l-73 87M132 50l104 45M254 107l-162 8M254 107l-147 8M254 107l-211 7M254 107l-130 -48M254 107l-196 29M254 107l-148 -15M254 107l-74 -59M254 107l-159 -2M254 107l-188 -4M254 107l-95 -56M254 107l-157 9M254 107l-158 30M254 107l-140 -14M254 107l-192 35M254 107l-208 -16M254 107l-188 -4M254 107l-146 -11M254 107l-74 -59M254 107l-116 -54M254 107l-145 -27M254 107l-208 -16M254 107l-183 20M254 107l-197 19M254 107l-147 -13M254 107l-192 40M254 107l-171 -2M254 107l-116 -54M254 107l-199 23M254 107l-172 30M254 107l-162 8M254 107l-176 40M254 107l-140 -14M254 107l-210 15M254 107l-126 -60M254 107l-141 -15M254 107l-189 -1M254 107l-180 28M254 107l-123 -58M254 107l-95 -56M254 107l-95 -56M254 107l-156 -4M254 107l-56 -56M254 107l-144 -20M254 107l-182 10M254 107l-127 -3M254 107l-126 -60M254 107l-182 10M254 107l-138 -9M254 107l-140 -51M254 107l-56 -56M254 107l-126 -60M254 107l-192 40M254 107l-141 -15M254 107l-167 19M254 107l-153 -48M254 107l-74 -59M254 107l-124 -55M254 107l-153 -48M254 107l-122 8M254 107l-172 21M246 106l-151 -9M246 106l-197 37M246 106l-200 31M246 106l-198 2M246 106l-159 -7M246 106l-199 25M246 106l-150 6M246 106l-107 -52M246 106l-162 -3M246 106l-131 -49M246 106l-134 38M246 106l-130 -8M246 106l-107 -52M246 106l-114 -56M246 106l-152 16M246 106l-171 32M246 106l-158 -2M246 106l-181 25M246 106l-173 -8M246 106l-153 12M246 106l-173 -11M246 106l-129 2M246 106l-118 32M246 106l-165 36M246 106l-86 -54M246 106l-116 -54M246 106l-180 1M246 106l-149 -6M246 106l-114 -56M246 106l-120 34M246 106l-199 25M246 106l-132 -18M246 106l-162 -3M246 106l-47 -54M246 106l-121 -47M246 106l-114 -11M246 106l-116 -54M246 106l-194 18M246 106l-197 28M246 106l-185 -8M246 106l-179 2M246 106l-114 -56M246 106l-182 37M246 106l-149 -1M246 106l-183 21M246 106l-118 -58M246 106l-180 -10M246 106l-107 -52M246 106l-86 -54M246 106l-152 22M260 175l-153 -60M260 175l-138 -81M260 175l-135 -37M260 175l-169 -62M260 175l-173 -76M260 175l-187 -77M260 175l-214 -84M260 175l-163 -72M260 175l-137 -72M260 175l-187 -80M260 175l-137 -72M260 175l-146 -86M260 175l-134 -35M260 175l-145 -40M260 175l-165 -80M260 175l-160 -83M260 175l-187 -54M260 175l-135 -55M260 175l-150 -95M260 175l-152 -61M260 175l-170 -52M260 175l-216 -83M260 175l-189 -48M260 175l-146 -78M260 175l-158 -35M260 175l-214 -52M260 175l-200 -84M260 175l-146 -78M260 175l-135 -42M260 175l-208 -75M260 175l-137 -72M260 175l-140 -87M260 175l-143 -88M260 175l-140 -82M260 175l-165 -80M260 175l-166 -79M260 175l-150 -84M260 175l-212 -44M260 175l-214 -52M260 175l-154 -84M260 175l-143 -82M260 175l-185 -65M260 175l-214 -84M260 175l-187 -54M260 175l-143 -82M260 175l-153 -83M260 175l-137 -38M260 175l-139 -83M260 175l-146 -83M260 175l-169 -77M260 175l-143 -88M260 175l-217 -91M260 175l-163 -67M260 175l-172 -72M260 175l-205 -45M260 175l-202 -49M260 175l-149 -85M260 175l-195 -59M260 175l-217 -81M260 175l-213 -55M252 178l-139 -85M252 178l-151 -61M252 178l-141 -91M252 178l-144 -63M252 178l-188 -56M252 178l-185 -70M252 178l-164 -63M252 178l-207 -56M252 178l-200 -55M252 178l-144 -71M252 178l-185 -70M252 178l-127 -46M252 178l-163 -51M252 178l-195 -53M252 178l-146 -87M252 178l-164 -59M252 178l-189 -51M252 178l-134 -87M252 178l-186 -62M252 178l-124 -40M252 178l-156 -61M252 178l-123 -63M252 178l-185 -55M252 178l-154 -69M252 178l-122 -46M252 178l-159 -63M252 178l-181 -50M252 178l-201 -92M252 178l-209 -94M252 178l-164 -78M252 178l-177 -80M252 178l-129 -45M252 178l-136 -93M252 178l-159 -66M252 178l-122 -45M252 178l-203 -66M252 178l-138 -86M252 178l-129 -43M252 178l-138 -82M252 178l-155 -81M252 178l-126 -45M252 178l-119 -73M252 178l-141 -88M252 178l-138 -62M252 178l-191 -87M252 178l-140 -85M252 178l-157 -50M252 178l-200 -55M252 178l-130 -84M252 178l-143 -88M252 178l-179 -80M252 178l-142 -82M252 178l-142 -72M252 178l-184 -75M252 178l-130 -69M252 178l-138 -86M252 178l-159 -63M252 178l-133 -87M252 178l-146 -87M252 178l-165 -53M160 100l-95 9M67 125l-20 -46M245 101l19 77M52 133l0 -44M165 87l-119 33M120 94l-22 15M93 136l-5 -9M59 97l38 24M233 94l-114 45M65 125l26 2M75 136l32 -43M44 86l220 81M194 110l-124 -39M50 86l55 6M79 104l40 31M93 127l-0 -14M244 135l-67 -65M96 146l-5 18M126 138l3 -22M100 110l-24 32M117 88l39 1M91 99l-2 16M81 136l44 -6M117 94l2 -6M95 109l69 -16M153 106l-37 -16M128 98l-4 36M115 103l-57 -17M236 97l-1 -2M166 95l-96 24M94 142l142 -44M122 80l-55 45M116 98l-21 7M123 94l-42 41M153 106l-75 21M117 88l45 7M117 88l11 9M46 99l47 14M95 117l-1 11M157 89l78 8M96 112l-50 25M73 98l194 -35M81 131l-30 -45M56 114l54 -18M111 86l-67 -1M87 104l20 -10M63 142l97 -42M93 113l71 -20M129 144l-37 -34M45 109l50 -4M134 133l-30 -40M166 97l-120 42M86 126l-28 -40M157 141l76 -52M87 135l22 -55M108 114l20 26M92 116l-6 8M123 104l-39 35M224 146l-148 -41M116 86l-64 45M46 104l187 -17M203 181l-144 -40M79 104l14 11M72 98l-20 33M45 101l30 5M67 108l16 29M76 109l47 28M156 116l-63 25M62 148l187 30M244 191l-185 -59M75 121l-15 -7M111 91l2 26M227 104l10 -8M125 59l-37 44M125 138l112 -41M203 181l71 -71M157 89l-112 33M230 163l-170 -50M61 98l36 7M63 123l9 -27M45 101l3 36M164 112l-39 20M90 124l12 23M66 146l120 -74M130 132l-63 -9M73 121l36 -41M119 140l145 39M122 136l122 56M236 95l-69 -7M166 94l-3 -3M57 107l39 10M45 121l36 10M59 141l52 -54M260 175l-128 -70M48 129l116 -35M118 91l131 11M229 106l-157 19M82 135l46 -37M180 48l66 58M65 117l51 -28M47 79l75 1M115 89l-69 15M46 92l62 23M126 138l-80 -17M95 97l97 33M229 106l-115 -13M92 141l-8 -18M107 93l-33 40M96 112l128 35M130 134l-6 0M162 90l-44 46M87 116l27 -23M93 124l15 -61M140 120l-12 18M73 118l102 -20M61 133l6 5M46 99l22 28M67 125l-12 4M88 121l30 -11M45 143l130 -45M88 127l91 3M124 130l32 -40M205 90l5 56M92 110l41 5M124 93l93 50M160 93l56 14M59 141l79 -4M47 131l-3 -30M97 93l43 12M138 82l-76 45M132 50l25 42M166 95l34 18M156 90l-42 8M88 101l28 -3M223 136l-158 -41M77 112l137 -26M196 128l-130 -3M156 116l107 62M56 114l97 -8M130 134l-20 -43M94 97l141 -1M70 71l-26 21M132 95l109 4M58 136l46 -43M98 115l-30 4M270 218l-94 -120M114 94l113 11M121 79l12 36M47 131l73 -43M140 120l-80 12M95 97l108 84M84 128l13 -20M130 133l-38 -22M205 90l-89 -1M101 110l65 -15M123 94l-27 11M224 146l-100 -14M108 91l-44 52M117 88l13 44M62 126l15 5M126 135l-60 -13M162 90l-106 36M92 96l-25 31M119 87l-59 27M110 103l-28 32M110 95l-43 9M111 91l-47 52M115 88l3 47M120 92l-49 32M84 128l40 -32M93 118l18 -19M70 129l-20 -43M71 127l46 -32M91 99l155 7M115 136l-57 -9M113 94l37 31M83 103l27 -16M95 97l71 -2M117 94l17 39M179 130l-23 -41M66 146l22 -26M161 92l-114 19M93 124l-3 -11M227 104l-138 10M58 126l37 -17M105 95l-30 42M164 93l-42 39M90 128l23 -30M237 96l-141 18M112 98l1 -5M216 143l-127 -19M103 93l27 -41M131 140l-14 -42M96 105l-53 -10M164 93l-73 20M185 131l-93 -0M97 105l-6 33M124 93l-23 12M119 152l19 -70M104 62l23 43M116 98l-51 48M67 123l52 13M74 128l-6 9M119 152l97 -45M140 120l-15 13M81 131l14 -29M46 137l182 53M99 92l15 1M108 114l56 -21M46 138l22 -18M206 141l-105 -24M156 90l7 3M254 107l-174 35M139 54l-14 82M71 111l54 21M165 90l80 11M186 135l-128 2M107 107l-62 -3M98 133l59 -41M89 115l6 -6M97 100l-14 28M106 66l-41 65M84 117l13 -1M46 121l77 13M119 140l114 -53M113 94l123 1M130 134l-10 -40M61 127l53 -39M97 105l-16 26M108 90l-41 49M121 79l-71 7M172 113l52 33M89 134l-47 -50M67 108l45 -10M99 92l15 11M94 97l7 7M91 139l71 -44M60 91l3 32M124 130l-5 -41M270 218l-175 -116M117 94l-51 52M156 87l-37 5M123 138l-28 -29M58 99l57 36M115 85l-6 -5M87 99l1 21M164 93l-113 43M70 129l23 13M113 96l5 40M96 138l-35 -39M252 178l-135 -81M61 98l51 72M117 96l-22 14M90 128l-25 -12M128 138l-53 -31M115 88l3 48M61 133l31 -16M235 101l-113 37M126 140l-51 -4M97 93l-35 50M106 112l-54 21M115 57l-31 82M124 130l0 8M109 65l-17 50M120 94l-51 28M65 131l63 7M113 93l-37 16M120 133l-19 -23M165 87l-70 18M83 103l13 -6M74 128l38 34M83 107l153 -10M153 106l-33 -18M43 114l80 24M106 112l136 21M74 128l34 -36M50 102l67 -6M46 137l30 -32M164 93l-44 6M48 113l84 -36M56 114l17 7M196 128l-122 1M172 141l-53 -54M49 108l107 8M75 138l152 -34M96 114l90 -39M192 130l-69 3M93 127l131 20M107 87l-23 -14M164 93l-27 44M185 72l30 35M123 96l110 -7M52 89l54 -23M125 130l44 3M124 130l-6 22M160 100l-87 18M49 108l195 83M42 85l124 10M97 134l67 -39M124 130l-56 7M62 127l10 -31M119 152l-55 -9M194 110l-146 -8M48 137l85 13M67 103l6 15M118 110l134 69M145 90l-31 2M89 112l146 -14M125 59l111 38M110 96l-32 25M74 119l5 -15M167 87l-44 8M128 138l11 -85M108 91l6 5M93 136l37 -2M109 96l34 -19M133 150l-10 -15M237 98l-156 39M57 107l4 7M230 163l-73 -74M164 93l-80 31M116 89l119 8M83 103l-12 24M67 126l65 -62M233 86l-58 -18M69 121l26 -26M72 98l-3 -28M92 116l-38 -26M65 107l-0 25M58 86l66 6M119 136l-76 9M125 133l-57 -30M92 96l9 14M75 121l48 17M67 125l1 1M156 87l-62 37M114 92l-30 36M95 109l155 -9M72 98l52 -6M115 136l25 -31M128 98l-33 44M210 146l23 -60M164 93l-34 39M96 105l36 26M48 143l18 -6M92 127l144 -30M214 86l-148 21M88 119l-42 -16M143 77l30 80M117 94l-25 48M114 93l-69 9M108 92l-29 33M76 125l34 -22M68 97l160 93M58 136l29 -10M73 98l23 16M99 103l-49 -1M71 111l22 2M89 115l16 -3M65 109l67 23M83 103l36 -16M92 110l141 -24M163 94l-101 32M48 129l53 -19M94 110l-35 -13M132 50l-17 86M97 109l-0 -4M58 137l176 -40M60 91l15 45M123 94l-5 -3M94 128l-20 -17M73 121l-14 15M80 142l93 15M135 139l-42 -3M72 130l18 -2M120 92l-8 1M120 92l-38 6M87 116l-41 5M198 52l-70 -4M236 97l-152 -24M72 120l18 23M97 121l24 -34M67 125l9 -1M115 88l-53 54M130 134l-17 -44M116 89l-3 7M77 121l108 -49M198 52l52 48M129 116l-19 -24M198 52l-135 71M196 128l-69 12M119 140l-44 -4M94 136l-9 -63M120 88l45 2M83 107l144 83M274 109l-198 -0M164 93l-111 51M45 121l86 20M160 93l-77 35M95 117l-28 9M76 105l137 101M57 107l59 -18M50 97l47 6M153 106l-78 -8M96 97l11 -5M65 117l6 8M119 136l-32 -1M123 94l-36 5M175 98l-132 -3M132 106l-72 35M162 96l-66 18M123 134l4 -29M83 98l53 40M123 94l-77 44M116 89l-5 9M62 148l49 -61M229 106l-124 -44M166 94l-99 9M70 71l194 108M84 117l56 -12M152 82l-26 55M161 92l80 7M236 98l-190 1M117 88l55 25M128 48l-58 81M96 146l-21 -10M180 96l33 110M50 86l-3 43M251 100l-199 0M139 54l-72 69M92 116l-11 19M93 113l-48 -3M120 133l10 -81M83 107l166 -5M249 178l-132 -70M86 124l94 -75M66 137l-19 -8M108 114l-52 12M105 95l8 21M96 146l-53 -1M117 96l-68 38M88 121l-25 22M94 97l-21 21M196 128l-4 1M116 98l-28 29M169 133l-73 -30M72 96l-14 3M45 109l78 -5M214 104l-56 -7M84 139l-9 -17M106 92l-21 -19M46 99l40 27M130 133l-5 -1M91 139l71 -48M79 125l39 -34M172 113l42 -28M88 122l-21 1M117 94l4 -1M196 128l18 -24M58 86l59 7M128 98l-33 24M46 123l110 -36M86 126l36 7M52 133l5 -7M236 95l-161 41M67 108l17 -5M117 88l-74 7M214 104l-146 35M123 96l-11 2M224 146l-147 -18M46 138l68 -42M120 99l-30 25M128 138l-33 3M132 106l-38 22M268 182l-26 -49M111 98l20 42M123 134l-7 -46M118 110l3 -22M92 96l27 40M117 96l-24 22M109 96l-60 38M113 96l-13 14M96 107l84 -11M57 107l101 34M115 89l118 5M96 114l-17 12M81 136l40 -49M107 93l-59 9M119 136l-71 -34M109 106l-51 -20M61 98l102 -4M126 140l-47 -36M180 96l-65 -21M49 110l194 25M117 88l82 -37M249 178l-138 -83M124 93l76 20M115 89l70 -17M160 93l-63 7M68 137l-23 -36M130 134l-57 -1M101 60l23 76M94 128l-27 -2M128 48l-44 69M135 80l-18 7M88 101l6 1M71 111l26 -10M124 134l-78 -11M46 99l71 -11M49 108l116 -21M71 127l62 23M117 88l-24 39M70 71l20 44M108 114l-19 1M58 136l66 -43M128 138l77 -48M83 103l168 75M233 86l-182 49M250 103l-167 35M123 138l-72 -21M121 88l-44 34M118 91l-37 40M97 93l16 -0M145 90l11 26M113 94l9 39M79 103l16 -1M130 132l33 -38M166 97l3 37M107 87l-29 38M153 106l-110 -22M156 90l-39 4M82 137l84 -40M76 125l-8 -28M173 157l-123 -55M124 132l-20 -70M152 82l-68 35M115 136l9 -6M132 106l-18 -12M54 90l96 35M108 91l-24 16M126 140l37 -48M223 136l-140 -38M115 103l-6 -27M96 97l137 -11M115 89l-24 53M60 132l67 3M48 113l69 -19M83 137l32 -52M160 100l-94 37M99 92l29 -45M57 107l-2 -17M65 125l37 -55M119 152l-74 -30M162 96l-39 42M101 110l63 -17M85 73l165 30M268 182l-154 -92M95 97l36 44M125 130l138 48M65 131l44 -51M93 136l65 -39M67 103l95 -7M121 95l-49 23M47 131l117 -38M250 103l-192 33M65 131l115 -83M263 178l-99 -85M149 94l-65 45M128 98l-15 -5M143 77l21 17M88 119l76 -27M46 99l63 -34M83 107l-37 31M180 48l52 51M118 110l55 31M125 133l-80 -11M47 102l219 -39M73 98l-27 25M130 133l107 -36M149 94l-33 -5M175 68l-125 40M43 145l78 -51M237 96l-192 8M111 91l126 6M118 91l-37 43M160 100l-117 14M72 130l12 9M112 170l2 -113M46 121l65 -30M83 107l79 -17M65 109l49 -21M206 141l-110 -44M46 138l5 -21M117 94l-47 35M117 94l-57 39M90 128l15 -66M93 136l-16 -24M206 141l-85 -32M88 122l34 -17M236 98l-35 15M52 131l45 7M114 88l115 18M120 94l144 85M50 102l43 11M239 99l-143 5M152 77l93 24M53 143l207 32M126 135l-39 -32M122 133l-76 5M242 133l-145 1M60 132l2 -5M246 106l-10 -8M58 136l10 -39M102 141l75 -70M45 101l51 12M165 90l-94 21M88 122l93 13M101 104l-5 -1M83 103l-32 20M180 48l-120 84M56 114l18 5M74 107l-31 39M116 98l-23 44M58 136l70 -88M108 91l-62 13M237 98l-137 -5M120 99l-69 24M71 111l110 24M71 125l-20 -25M49 108l16 0M88 127l19 -12M43 114l71 -22M128 140l-42 -22M46 99l26 -0M126 135l-46 -4M46 104l62 -13M87 135l154 -36M106 92l-27 13M101 118l-20 14M115 103l10 27M140 120l-43 -20M164 93l81 8M52 133l4 -19M234 89l-166 48M99 103l-32 5M48 113l12 1M48 129l59 -36M244 135l-148 11M131 140l-6 -10M130 134l-21 -69M166 95l-70 10M87 116l-41 7M61 133l105 -39M242 133l-154 -11M114 92l-1 4M86 126l-35 10M101 104l-29 -6M74 133l-13 -6M119 136l-41 -8M122 132l-32 2M157 141l-71 -15M115 136l6 -48M196 128l-78 -34M244 191l2 -85M244 135l-169 2M95 109l-12 -2M166 97l-70 9M53 143l8 -3M48 113l60 -23M117 94l55 20M47 131l90 6M72 98l45 11M60 114l1 20M66 137l35 -32M110 92l126 9M84 117l16 -7M68 137l-23 -17M123 134l-76 -22M123 134l-34 1M96 107l143 -9M112 98l1 18M69 121l169 -25M145 90l-23 45M72 131l108 4M117 88l-21 29M94 122l-17 19M74 119l48 14M85 73l9 69M66 146l27 -19M95 109l-3 -13M96 97l-50 26M106 93l-40 14M60 132l57 -24M93 127l-49 -34M62 126l54 -36M236 95l-113 41M44 86l50 50M88 101l-21 8M50 86l199 17M65 116l48 -26M56 114l46 33M157 141l-68 -13M132 106l-14 -15M140 120l-69 -9M61 98l-1 42M111 86l-52 10M112 163l11 -68M162 96l-41 3M175 98l-11 14M123 134l-15 -70M91 113l-14 28M43 114l62 -3M94 102l-16 3M164 93l-19 -3M65 116l43 -26M198 52l-31 36M68 97l82 -3M121 88l-15 -22M83 107l77 -7M120 94l132 85M164 93l-78 16M244 135l-112 -71M214 86l-164 12M180 96l-63 -2M224 146l-170 -56M165 90l-50 7M62 127l5 -31M108 91l50 50M75 137l42 -43M115 136l119 -47M85 119l-38 -17M175 68l-98 73M222 92l-174 16M196 128l-112 10M235 96l-140 46M117 94l-24 22M100 110l12 -16M164 95l-76 6M92 96l118 51M106 92l-40 4M45 121l37 16M45 101l77 31M43 114l-1 -30M115 89l-15 3M115 57l12 79M62 127l-5 8M108 91l-63 10M152 82l-106 22M106 66l-34 65M69 119l97 -25M48 108l165 -4M89 115l8 -10M135 80l-92 12M113 96l54 -9M48 112l109 -23M95 105l142 -9M107 87l65 54M185 72l-111 47M79 104l-6 -6M97 134l-33 9M124 93l-76 15M79 125l158 -28M61 133l203 33M119 152l7 -16M88 119l-23 -24M119 87l-73 16M97 134l1 -19M107 93l18 43M246 106l-14 -7M67 125l28 -3M237 98l-103 35M172 141l-92 -10M152 82l-36 7M94 97l31 41M157 89l107 89M86 124l10 -16M110 96l-17 40M236 98l-117 38M89 115l56 -3M251 100l-129 9M58 86l14 43M194 110l-136 17M227 104l-134 26M123 96l-36 39M115 57l-44 54M152 75l-37 28M97 100l59 -11M72 120l161 -31M152 75l-109 39M164 93l8 20M114 88l10 8M89 134l104 -24M213 206l-135 -78M81 136l75 -50M132 64l-58 46M96 105l27 32M83 103l84 -16M96 105l1 0M87 104l27 -1M101 110l16 -21M203 181l-71 -49M97 108l11 -17M96 112l9 -16M48 108l189 -12M46 138l55 -28M91 99l-49 20M97 105l17 -8M68 103l186 4M96 146l-19 -18M114 98l79 13M52 89l153 1M138 82l65 99M152 75l8 18M120 99l-68 34M157 97l-75 41M44 86l6 0M69 121l48 -28M131 141l-35 -3M172 113l-107 -5M69 119l63 -13M130 134l56 -42M244 135l-119 3M99 103l-40 34M61 133l17 -29M43 95l78 4M129 116l28 26M54 142l109 -48M107 93l-10 15M60 91l61 -3M93 127l39 -77M73 133l181 -25M185 131l-94 33M164 93l42 48M50 97l75 41M87 116l53 4M77 112l-31 25M73 121l79 -39M109 106l-8 -46M98 115l144 18M113 94l20 -17M164 92l-96 45M91 135l-25 -28M94 102l-29 44M156 90l-34 15M102 147l-6 -42M102 141l7 -77M46 138l61 -23M57 107l37 -10M67 123l31 -6M140 120l-31 -24M223 136l-91 -59M206 141l-113 -10M78 147l-7 -20M47 111l18 -3M88 119l13 -10M233 86l-69 6M70 71l174 64M62 126l155 18M124 130l-62 -3M94 128l21 -40M160 100l-45 -43M42 85l21 59M160 100l-40 33M232 99l-122 -3M152 82l-37 54M112 144l-42 -73M133 115l-25 -1M52 133l98 -8M95 97l-20 42M79 125l16 -24M115 89l-72 6M130 132l-18 12M125 59l-77 54M46 123l2 -11M163 94l-74 18M54 90l57 3M98 115l32 19M47 79l32 23M67 108l50 -15M84 128l68 -46M111 86l-42 33M152 77l99 23M124 134l-38 -16M108 91l5 71M116 86l-0 5M48 113l41 -1M97 105l98 23M106 112l17 24M47 131l45 -19M165 90l-33 42M206 141l-141 -35M97 93l154 86M128 138l-53 -31M59 97l68 8M110 95l49 -43M52 133l-1 -47M45 109l64 -13M116 91l111 14M97 105l-30 2M115 136l41 -44M43 95l82 37M164 93l-41 2M98 115l-4 -18M67 108l147 -22M107 87l-14 55M133 115l-22 -17M180 48l-83 60M186 75l-98 26M203 181l-89 -88M68 103l118 -11M164 93l-65 10M233 86l-137 60M114 98l-49 18M97 108l-46 28M117 96l-30 22M166 97l19 -24M92 110l31 -7M87 99l7 23M234 89l-17 54M122 133l63 -2M53 143l37 -20M58 86l4 41M90 128l35 2M67 103l59 35M97 116l25 16M96 138l-2 -42M125 133l-24 -29M89 115l-39 -29M64 143l169 -49M93 127l8 -22M51 124l41 3M164 95l-94 34M194 110l-107 25M86 124l-14 -26M249 178l-134 -42M58 136l30 -14M79 103l2 40M49 108l184 -22M163 91l-91 5M50 130l65 -44M123 94l-17 -1M114 92l-69 9M83 98l-16 38M110 92l-38 33M112 170l13 -40M234 89l-150 18M157 97l-92 12M114 92l52 2M90 124l27 -36M160 100l-100 32M126 140l-41 -21M120 99l-49 28M77 128l-35 -33M123 104l-78 5M79 125l44 -31M71 111l25 35M252 178l-156 -65M67 123l48 -25M62 126l63 -5M75 136l47 -55M254 107l-169 12M241 99l-69 14M252 178l-131 -79M194 110l23 33M46 91l25 20M72 120l94 -26M167 87l-74 54M232 99l-133 4M82 135l150 -35M180 48l-134 42M122 105l-34 17M107 93l-15 17M192 130l-84 -37M74 107l132 34M99 103l62 -11M47 131l44 -33M180 96l-108 2M80 132l18 -15M97 93l12 10M67 125l48 -69M89 115l28 -21M58 127l51 -37M98 115l-0 6M117 96l11 -48M73 121l27 -29M145 90l61 51M118 91l16 41M96 103l78 -35M79 104l149 85M185 131l-94 33M149 94l-49 16M132 50l-30 10M88 127l-43 -23M70 71l3 27M117 88l-30 35M50 102l45 4M268 182l-173 -60M60 91l170 72M165 87l-1 25M127 136l-31 -19M97 121l88 10M123 138l-17 -45M70 71l-18 53M51 136l-3 -28M122 133l115 -37M72 98l164 -2M113 117l-4 -20M115 57l57 56M120 94l1 -15M72 130l133 -40M102 70l55 19M95 142l140 -45M117 88l8 42M244 191l-145 -88M143 77l88 22M251 100l-126 38M117 88l21 50M94 142l-48 -38M49 134l58 -41M194 110l34 80M101 110l21 26M128 138l-31 -4M86 118l78 -24M90 124l73 -33M230 163l-117 -69M143 77l-3 28M115 88l9 50M65 131l85 -6M121 109l39 -9M55 130l111 -36M75 98l158 -4M42 85l80 51M46 123l70 -25M56 126l9 -10M186 75l-62 60M152 82l-23 62M210 146l-84 -6M79 125l53 -76M123 137l-6 -29M76 105l88 -12M114 98l-39 27M252 178l-129 -46M57 107l210 -44M126 140l-18 -50M270 218l-152 -110M246 106l-124 30M85 109l27 61M109 106l22 35M161 92l-114 39M250 103l-130 -9M84 128l3 -29M169 133l-90 -31M53 143l-7 -45M58 136l10 -33M74 119l111 12M152 77l-44 13M131 141l-8 -7M50 102l32 35M110 96l13 -2M111 86l-16 25M166 95l-70 9M180 135l-72 -45M89 134l146 -37M123 133l11 -0M52 89l-1 47M108 91l3 7M185 131l-129 -5M73 133l92 -45M49 108l46 9M245 101l-51 9M274 109l-216 -23M58 86l52 10M132 50l20 32M152 77l-82 -6M74 107l39 -19M124 132l-42 5M48 143l59 -51M124 130l-49 -9M73 118l164 -20M162 90l-100 37M123 94l-18 1M268 182l-209 -45M74 107l19 -10M107 107l15 -3M150 125l-35 -37M166 95l67 -8M64 143l200 23M46 121l86 -44M79 103l106 -30M83 106l45 10M110 103l123 -9M92 127l23 -24M79 125l29 -18M115 89l-17 26M61 133l-15 -13M86 118l120 24M192 130l-29 -35M250 103l-160 10M76 109l-23 -20M43 145l81 -16M115 103l58 54M121 88l115 7M118 91l67 -19M73 98l55 40M233 94l-185 18M229 106l-139 18M56 126l41 -33M87 99l-20 8M117 108l76 2M96 97l37 35M127 136l-39 -21M101 104l-6 -8M216 107l-148 12M244 135l-198 -31M117 94l52 40M172 113l65 -16M117 94l45 2M55 129l64 7M127 105l-31 33M169 133l-72 -25M101 60l8 46M76 105l1 25M126 138l-61 -42M109 65l-12 67M114 93l150 74M120 92l-46 14M69 121l29 -6M67 126l-9 -27M132 64l-66 44M120 99l32 -17M74 133l36 -41M44 86l48 32M143 77l-28 12M235 101l-134 9M109 65l64 92M79 103l48 34M46 104l55 13M121 88l89 59M54 90l-6 53M196 128l-69 8M117 88l-3 5M135 134l-37 -19M84 124l-36 8M124 130l5 3M104 62l-22 75M52 89l38 24M101 60l-32 11M120 88l-66 1M163 91l-106 36M175 98l-103 33M92 110l-46 -6M80 132l186 -69M169 133l-101 -30M42 84l121 8M76 105l-31 16M122 136l44 -42M87 99l9 6M108 114l-35 19M110 103l118 87M122 136l54 -65M236 98l-120 -9M126 138l-73 6M125 133l-20 -38M86 118l129 -10M94 97l58 -20M117 88l49 9M132 50l-77 40M55 130l107 -40M127 136l34 -44M163 91l-118 18M46 138l25 -13M124 130l-29 -21M43 95l10 -6M138 82l-70 15M93 124l-51 -6M89 115l12 -11M114 88l10 46M55 129l19 -10M71 125l3 8M44 86l70 3M233 94l-184 40M126 138l119 -37M65 131l162 -27M94 102l-39 12M89 112l159 66M140 120l-22 -10M244 191l-202 -96M67 126l182 -24M138 82l-14 14M164 93l-112 38M51 100l27 47M163 91l-116 40M67 103l-23 -17M192 130l-104 -29M74 133l-24 -31M102 141l-50 -10M116 86l10 52M99 92l74 65M102 141l50 -64M108 91l-0 -1M128 138l-63 -32M116 98l-58 39M96 97l-31 34M235 101l-127 -5M46 123l71 -15M120 133l-1 3M102 147l164 -84M66 146l61 -10M102 147l23 -14M213 206l-40 -49M235 97l-177 29M77 121l-19 20M97 100l55 -19M166 95l-118 43M43 114l37 17M164 112l-89 -7M91 164l-3 -45M56 126l14 3M42 118l3 -9M161 92l-92 29M130 134l26 -45M119 136l-29 -12M76 125l32 -33M95 142l-34 -43M266 63l-204 62M46 104l168 -0M47 79l81 25M132 77l-66 46M67 103l163 60M161 92l42 89M164 93l-74 30M116 89l-25 24M270 218l-154 -129M214 86l-86 -38M68 137l49 -42M96 97l18 -9M115 136l4 0M95 105l110 -15M82 137l-16 -11M92 141l65 -52M117 88l5 -8M96 114l66 -23M160 52l-44 34M74 107l69 -30M85 109l-39 28M117 94l-29 27M175 98l-120 32M114 92l18 13M65 125l133 -73M120 99l-53 -2M101 104l63 -11M74 111l21 -2M138 82l-72 26M106 92l57 -1M235 101l-130 -8M62 126l68 8M241 99l-114 37M180 96l-56 39M68 127l47 9M249 178l15 0M230 163l-123 -68M186 75l-81 16M274 109l-10 69M160 93l-92 33M45 143l72 -35M180 96l-54 42M61 98l94 -12M121 88l-31 36M53 143l45 -11M164 93l-38 40M97 93l118 15M97 100l33 32M118 91l3 -4M233 86l-124 -11M73 98l163 3M200 113l-128 7M50 130l55 -38M73 95l20 40M67 123l-8 14M164 93l-80 35M106 66l-18 53M234 89l-175 48M117 94l-43 35M75 138l131 3M43 145l221 21M118 91l-75 1M83 107l-9 21M87 104l30 -16M85 119l95 -70M236 95l-139 39M66 137l-6 -46M108 92l138 14M93 136l29 -41M72 131l107 -0M44 86l21 39M77 112l76 -5M43 145l53 -34M125 133l88 -47M49 134l48 -37M60 91l-3 36M164 93l-31 40M43 114l31 5M58 99l63 -21M91 113l27 -22M161 92l-115 29M73 121l51 13M93 113l3 -4M252 178l-136 -93M175 68l-125 42M110 96l12 40M92 127l143 -30M117 94l-71 43M216 143l-149 -17M43 95l137 36M71 125l16 -9M110 92l2 -5M94 128l-22 2M116 98l69 33M216 107l-98 2M42 84l2 25M245 101l-164 30M172 141l-93 -9M123 134l-26 -28M130 52l-51 52M61 133l5 -10M244 191l-85 -98M95 105l91 -30M50 86l63 10M52 131l39 -32M223 136l-101 -3M48 143l23 -16M42 118l197 -20M115 103l-22 24M274 109l-151 -15M72 130l22 -8M109 96l-1 -5M84 124l41 12M123 104l22 8M80 132l31 -41M86 118l168 -10M86 124l94 -75M206 141l-118 -22M244 191l-112 -96M76 109l110 22M110 103l5 -6M95 105l134 0M94 102l15 4M160 52l-51 38M49 110l38 5M108 114l0 -24M46 137l29 0M173 157l-94 -53M116 98l-0 -12M117 94l147 73M111 86l-56 28M239 99l-143 -1M67 108l59 32M205 90l-72 25M241 99l-164 29M93 118l-4 9M152 75l-32 17M117 94l120 2M186 75l53 24M179 130l-29 -5M62 127l10 -6M117 88l-17 5M109 96l155 70M51 117l72 19M108 63l-52 62M132 132l-25 -37M107 115l73 -67M101 118l-43 9M47 131l1 6M126 136l-20 -70M119 136l-56 7M49 108l16 17M123 94l-52 33M101 60l128 103M58 136l63 -27M121 79l-20 39M163 94l-92 34M115 57l159 52M233 94l-70 -4M123 137l-66 -12M112 163l-54 -27M83 129l122 -39M124 135l2 5M90 128l33 10M97 134l-4 -7M241 99l19 77M101 110l16 -16M111 91l19 -39M53 143l14 -21M52 131l-6 -39M67 108l178 83M80 132l11 32M175 98l-52 6M50 102l89 -48M186 92l-124 56M175 68l-98 62M102 147l-42 -33M83 98l118 15M65 131l170 -34M67 139l58 -3M95 96l-10 21M46 121l44 -7M62 148l11 -30M114 94l1 -5M96 103l17 -14M97 109l33 25M65 131l60 5M196 128l-26 5M44 86l47 49M128 140l66 -30M43 114l75 -23M87 99l41 -52M164 93l-84 38M76 125l26 22M117 88l-71 10M94 97l-18 12M121 79l-45 46M216 107l-91 22M210 146l58 36M69 119l41 -23M70 71l25 25M90 124l27 -36M95 117l45 3M48 137l-1 -6M102 70l84 22M123 104l63 31M92 127l26 -18M77 128l12 6M58 99l104 -5M88 122l128 -14M75 138l34 -42M90 142l33 -39M124 130l-77 -17M250 103l-85 -13M128 140l-36 -30M76 105l54 -53M95 109l13 -2M152 75l-13 -21M46 92l127 65M135 134l-18 -26M98 133l-37 -42M96 114l-51 -5M91 99l-4 17M97 121l-48 -19M223 136l-126 -20M104 62l-15 72M108 114l-19 20M54 142l49 -49M57 107l18 31M244 191l-160 -118M107 107l-13 -10M224 146l-86 -9M156 87l80 11M65 117l19 22M120 88l-14 -22M103 93l-49 -3M109 96l-15 1M186 75l-57 69M203 181l-71 -116M74 119l3 23M156 116l-114 -32M80 142l-35 -38M50 102l5 27M95 97l-4 2M53 120l181 -24M108 114l-50 -15M76 125l33 -35M164 112l-70 15M62 126l30 2M109 106l13 26M115 57l99 47M75 136l16 -23M88 122l-45 -27M109 76l-7 -5M96 138l84 -89M67 108l68 26M108 90l-64 12M112 170l-30 -33M66 146l99 -56M94 110l85 21M115 57l-12 14M157 141l-65 -15M75 121l17 5M120 99l20 21M109 65l-8 45M113 117l24 21M130 134l34 -40M114 93l119 1M87 99l10 1M67 103l119 -11M96 103l-19 38M186 75l-135 25M93 124l-42 9M83 107l36 -20M132 106l-47 13M119 87l-62 39M93 124l-47 -45M124 132l51 -34M97 121l167 45M46 104l134 26M196 128l-148 1M109 106l2 -13M230 163l-157 -45M68 137l-6 -12M62 127l30 -10M114 98l-5 -6M106 93l90 36M164 93l-1 -3M213 206l-130 -77M67 126l-25 -8M74 119l22 -22M165 87l-116 23M132 50l34 46M93 124l-28 22M96 97l11 -4M60 91l106 4M72 130l16 -3M68 120l165 -26M59 141l3 -42M109 106l-17 30M65 107l50 -16M94 142l-47 -50M97 93l-51 -1M241 99l-164 22M93 118l-23 -47M164 112l-72 0M91 139l159 -39M108 91l-29 34M162 96l-46 -5M88 121l25 -28M67 123l42 -27M109 76l-58 24M222 92l-129 26M85 119l80 -29M84 128l-22 20M92 116l22 -18M145 90l-37 17M108 63l-62 75M233 94l-52 41M89 115l-6 -9M93 113l59 -38M249 178l-125 -85M110 92l46 -5M68 127l118 -35M114 94l116 70M242 133l-148 -36M111 98l45 -12M85 119l38 -25M69 121l15 2M166 97l-46 37M132 132l-24 -68M228 190l-103 -130M119 136l-52 -33M235 101l-187 33M86 126l66 -44M108 91l61 42M130 133l-63 -25M83 107l-5 -5M97 121l-37 20M119 140l95 -54M94 142l130 4M203 181l-133 -52M130 134l-8 1M96 114l24 -21M216 143l-98 -4M97 100l0 16M72 98l2 30M133 150l-58 -40M46 99l20 -3M167 87l-70 45M51 136l33 -19M138 137l-67 -9M46 137l120 -42M65 125l102 -38M107 115l-30 6M122 132l-8 -76M97 121l-42 9M92 110l39 31M79 103l19 14M270 218l-225 -109M113 94l-51 32M156 116l-30 24M115 57l-24 78M94 110l-44 -24M115 57l12 84M117 96l-68 12M46 104l134 -56M228 190l-139 -75M77 121l46 -25M118 91l-24 5M96 97l19 -9M125 133l119 58" fill="none" stroke="#8e8e8e" stroke-width="0.4"/>
<path d="M226.1 19.5 L226.1 23.8 L221.5 29.7 L216.3 36.3 L211.0 42.9 L203.8 51.2 M203.8 51.2 L216.3 56.0 L229.4 59.9 L241.2 63.2 L249.1 62.6 L259.6 61.5 L268.8 61.0 L279.0 63.3 M203.8 51.2 L208.4 57.3 L213.6 62.6 L216.3 67.8 L218.2 73.1 L220.9 78.3 L224.2 83.6 L228.1 86.2 L233.4 87.5 L238.6 89.9 L242.6 92.8 L244.5 94.4 L248.2 94.4 L248.9 100.3 L249.5 106.9 L249.5 113.5 L248.9 120.7 L254.1 121.1 L259.4 121.3 L262.0 125.3 L260.0 129.2 L259.4 133.2 L258.1 135.8 L247.6 137.1 L239.7 139.7 L234.4 145.0 L229.8 146.3 L227.2 148.3 L226.5 152.9 L223.2 160.8 L221.9 164.8 L221.3 175.6 M97.1 182.1 L91.9 187.4 L87.9 182.1 L83.3 183.4 L83.3 199.2 L87.9 200.5 L88.6 204.5 L76.1 207.1 L77.4 212.4 L73.5 221.6 L69.5 233.0 M91.4 163.6 L96.6 160.6" fill="none" stroke="#2a2a2a" stroke-width="0.6"/>
<path d="M40.5 19.8 L42.2 21.0 L45.3 24.1 L48.3 26.7 L50.5 29.3 L53.1 33.7 L55.3 35.0 L58.8 36.3 L61.0 37.6 L64.5 41.1 L68.0 45.1 L71.5 49.0 L75.9 53.4 M46.6 27.6 L48.8 30.2 L50.9 33.3 L51.4 35.9 M41.3 30.2 L43.5 35.4 L45.7 39.8 L48.3 44.2 L49.6 48.6 L51.4 53.0 L54.0 56.5 L56.6 60.0 L58.4 63.5 L61.0 67.0 L63.5 70.0 M41.3 45.9 L43.1 50.3 L44.8 54.7 L46.6 59.1 L48.3 63.5 L50.1 67.0 L51.4 69.4 L54.9 72.1 L58.4 74.7 L61.0 76.4 L63.6 79.9 L65.4 83.4 L66.3 86.9 M69.8 21.0 L70.7 26.7 M70.2 30.6 L73.3 32.4 L76.8 34.6 L80.3 37.2 L83.8 39.8 L87.3 41.6 L89.9 44.2 L92.6 47.7 L94.7 50.3 M68.0 37.2 L71.5 39.8 L76.8 42.5 M68.9 37.0 L70.2 41.2 M75.5 25.4 L79.4 27.6 L83.4 29.7 L87.7 33.3 M84.2 21.0 L87.3 23.6 L90.8 26.2 L94.3 28.9 L97.8 31.9 M94.3 21.0 L96.9 23.2 L98.7 24.9 M95.0 21.4 L98.5 24.1 L102.0 27.6 L105.5 30.2 L109.9 33.7 L114.3 36.3 L116.9 36.8 M100.3 21.4 L102.9 24.1 L106.4 27.6 L110.8 30.2 L115.1 32.8 L117.8 36.3 M109.9 21.0 L112.5 24.1 L115.1 27.6 L117.8 30.2 L120.4 31.9 L123.9 34.6 M116.0 21.4 L118.6 24.9 L121.3 28.4 L123.9 31.9 L125.2 34.6 M123.0 20.5 L125.2 24.9 L125.7 28.4 L124.8 32.8 L124.3 39.0 L125.2 45.1 L127.4 49.5 L130.0 55.6 L131.8 62.6 L133.5 67.8 M126.5 21.4 L127.8 24.1 L128.3 26.7 M131.8 22.3 L132.7 27.6 L132.2 31.1 L134.4 26.7 M124.8 36.3 L128.3 37.6 L131.8 39.8 L135.3 43.3 L137.9 47.7 L139.2 52.1 L139.7 57.3 M126.5 41.6 L130.9 43.3 L134.4 46.0 L137.0 49.5 L138.4 53.8 M117.3 51.2 L120.4 53.8 L123.0 55.6 L125.7 59.1 M100.3 61.7 L112.5 61.3 M184.2 20.0 L184.2 21.0 L182.4 24.1 L180.2 27.1 L181.5 28.4 L182.0 31.9 L181.5 36.3 L181.1 40.7 L180.7 45.1 L180.2 48.6 L179.3 53.8 L178.5 58.2 L177.2 62.6 L176.3 67.0 M180.7 49.5 L181.5 53.8 L182.8 58.2 L183.7 64.3 L184.0 74.3 L186.6 79.6 L187.9 84.8 L189.2 91.4 L190.5 97.0 L192.0 100.5 L195.0 102.0 L199.0 104.5 L202.5 109.5 L205.5 116.0 L209.5 121.3 L214.7 126.6 L221.3 129.2 M189.5 96.0 L192.5 106.9 L193.8 113.5 L195.1 116.1 M189.4 31.9 L192.5 28.4 L192.0 33.7 L191.2 38.1 M199.0 27.1 L198.6 31.9 L199.0 37.2 L200.8 42.5 L203.0 48.6 L204.3 53.8 L205.2 60.0 L206.1 66.0 L207.1 69.1 L211.7 73.1 M206.9 29.3 L206.1 37.2 L207.8 35.4 M173.6 53.8 L172.3 60.0 L171.9 65.2 M176.3 57.3 L175.0 63.5 L173.6 68.8 M187.7 52.1 L188.5 58.2 L189.0 64.3 L189.4 68.8 M167.6 62.5 L166.2 69.0 M172.8 54.6 L171.5 62.5 L173.5 67.7 L172.8 74.3 M186.6 52.6 L188.6 59.8 L190.5 65.1 L188.6 70.4 M146.5 73.6 L148.5 79.6 L150.5 86.1 L152.4 92.0 L154.5 94.0 M222.2 81.0 L219.6 87.5 L219.6 93.0 L221.0 97.5 L224.2 102.0 L229.4 107.5 L235.1 112.1 L238.4 114.8 M243.6 121.3 L249.0 122.0 L254.0 121.3 L258.0 120.8 M221.3 129.2 L229.2 129.2 L237.0 130.5 L244.9 131.6 L252.8 130.5 L259.4 129.2 M225.2 133.2 L233.1 133.8 L241.0 133.8 L250.2 133.6 L258.1 133.2 M208.1 139.1 L213.4 140.4 L221.3 139.7 L229.2 138.4 L237.0 135.1 L242.3 133.8 M186.0 143.7 L193.8 143.7 L200.4 146.3 L205.5 147.0 L210.8 146.6 L216.0 147.0 L221.3 146.6 L226.5 146.3 M210.8 108.2 L214.7 113.5 L218.6 118.0 L221.3 122.6 M195.0 129.2 L199.0 128.0 M160.3 131.2 L166.2 133.2 L172.8 131.6 L178.1 133.2 M180.7 141.0 L186.0 138.4 L191.2 134.5 L195.1 130.5 L199.1 127.9 M130.8 113.5 L132.1 118.7 L137.3 122.6 L141.3 125.3 L145.9 128.6 M137.3 104.3 L139.3 109.5 L137.3 112.8 M121.6 126.6 L122.2 131.6 L122.9 139.7 L124.2 148.9 L124.9 154.2 M108.3 109.2 L111.6 115.0 L114.5 120.8 L115.7 126.6 L114.9 134.9 L116.1 141.5 L117.8 148.1 L119.0 154.7 L120.7 159.7 M109.9 110.1 L114.1 115.9 L116.5 122.5 L117.4 129.1 L116.5 136.5 L119.0 143.2 L121.5 148.1 L124.0 153.1 M126.5 106.8 L124.8 114.2 L123.2 122.5 L121.5 129.1 L119.9 134.9 M110.8 112.5 L116.5 118.3 L117.4 120.8 M130.6 106.8 L131.4 114.2 L134.7 120.0 M115.0 136.0 L118.5 140.0 L119.5 146.0 M117.7 154.4 L120.3 158.8 L125.5 160.1 L132.6 161.9 L141.3 165.1 L154.4 167.7 L167.6 169.7 L180.7 171.6 L193.8 173.0 L205.0 174.9 L219.3 176.6 M49.2 74.2 L53.1 75.6 L56.6 76.4 L58.8 78.2 M40.5 77.8 L41.8 78.2 L45.3 79.9 L50.5 81.3 L55.8 83.4 L61.0 85.6 L66.3 87.4 L71.5 89.1 L76.8 90.5 L82.0 92.2 L87.3 92.6 L92.6 91.8 L96.1 93.1 L100.0 94.8 M45.3 86.9 L49.6 89.1 L54.9 91.3 L60.1 93.1 L65.4 94.4 L70.7 94.8 L76.8 95.3 L82.0 95.7 L85.5 97.0 L89.0 100.1 L93.4 103.6 L96.9 106.2 M53.1 97.0 L57.5 99.2 L61.9 101.4 M44.4 113.7 L59.3 111.9 M40.5 125.5 L50.0 126.0 L61.0 127.5 L73.0 128.5 L80.0 128.0 M40.5 134.3 L50.0 134.3 L61.0 133.1 L72.0 133.7" fill="none" stroke="#e23a35" stroke-width="1.1" stroke-linejoin="round"/>
<path d="M42.7 49.2L46.1 50.0L44.1 52.8ZM46.7 59.4L50.1 60.2L48.1 63.0ZM51.4 69.4L54.7 68.3L54.4 71.7ZM60.5 75.7L63.9 75.5L62.7 78.7ZM43.7 79.5L46.3 77.2L47.4 80.5ZM54.2 82.7L57.1 80.8L57.7 84.2ZM64.4 86.8L67.2 84.6L68.0 88.0ZM74.9 90.0L77.5 87.7L78.6 91.0ZM85.6 92.9L87.0 89.7L89.4 92.3ZM96.3 93.2L99.2 91.3L99.8 94.7ZM48.9 88.8L51.8 86.9L52.4 90.3ZM60.1 93.1L62.7 90.7L63.8 94.0ZM72.0 94.9L74.1 92.2L75.7 95.2ZM84.1 95.8L87.5 94.9L87.0 98.3ZM93.3 103.5L96.6 102.3L96.4 105.8ZM224.4 129.2L226.3 126.3L228.2 129.2ZM234.3 130.1L236.7 127.5L238.1 130.7ZM244.2 131.7L245.7 128.6L248.0 131.2ZM254.1 130.2L255.4 127.0L257.8 129.5ZM228.8 133.5L230.9 130.7L232.6 133.8ZM239.8 133.8L241.6 130.9L243.6 133.7ZM250.8 133.6L252.5 130.6L254.6 133.4ZM211.6 140.6L213.2 137.5L215.3 140.2ZM222.5 139.5L223.9 136.3L226.2 138.9ZM233.1 136.8L233.7 133.4L236.6 135.3ZM246.2 121.6L248.4 119.0L249.9 122.1ZM255.1 121.2L256.6 118.0L258.9 120.7ZM189.6 143.7L191.5 140.8L193.4 143.7ZM200.1 146.3L202.4 143.6L203.9 146.8ZM211.0 146.6L213.2 143.9L214.8 146.9ZM222.0 146.6L223.7 143.6L225.8 146.3ZM162.3 131.9L165.0 129.7L165.9 133.1ZM170.0 132.3L171.1 129.0L173.7 131.4ZM97.2 22.8L96.5 26.2L99.9 25.5ZM103.8 28.9L103.6 32.4L106.8 31.2ZM111.0 34.3L111.1 37.8L114.2 36.3ZM102.4 23.6L101.7 27.0L105.1 26.3ZM110.2 29.8L110.3 33.3L113.4 31.8ZM111.9 23.3L110.7 26.6L114.2 26.4ZM118.6 30.7L118.6 34.2L121.8 32.8ZM76.9 26.2L80.0 24.6L80.2 28.1ZM83.1 29.4L86.4 28.4L86.0 31.9ZM85.8 22.3L85.4 25.8L88.7 24.8ZM92.1 27.2L91.9 30.7L95.2 29.6ZM50.2 74.6L53.0 72.5L53.8 75.9ZM56.1 76.0L59.4 75.0L59.1 78.4ZM54.1 97.5L57.1 95.7L57.5 99.2ZM59.5 100.2L62.4 98.4L62.8 101.9ZM44.6 134.3L46.5 131.4L48.4 134.3ZM56.6 133.6L58.1 130.5L60.3 133.2ZM68.5 133.5L70.6 130.7L72.3 133.7ZM181.3 53.1L184.6 54.1L182.4 56.7ZM183.7 63.8L186.6 65.6L183.8 67.6ZM184.2 74.7L187.6 75.1L185.9 78.1ZM187.9 85.0L191.2 86.3L188.7 88.7ZM190.0 95.8L193.4 96.4L191.5 99.3ZM197.2 103.4L200.3 101.9L200.4 105.4ZM203.7 112.0L207.1 112.5L205.2 115.4ZM209.5 121.3L212.9 120.6L212.1 124.0ZM218.0 127.9L220.8 125.9L221.5 129.3Z" fill="none" stroke="#e23a35" stroke-width="0.8" stroke-linejoin="round"/>
<path d="M159.5 48.5L160.4 50.5L162.6 50.8L161.0 52.3L161.4 54.5L159.5 53.4L157.6 54.5L158.0 52.3L156.4 50.8L158.6 50.5ZM180.0 45.2L180.9 47.2L183.1 47.5L181.5 49.0L181.9 51.2L180.0 50.1L178.1 51.2L178.5 49.0L176.9 47.5L179.1 47.2ZM198.4 48.5L199.3 50.5L201.5 50.8L199.9 52.3L200.3 54.5L198.4 53.4L196.5 54.5L196.9 52.3L195.3 50.8L197.5 50.5ZM266.1 59.8L267.0 61.8L269.2 62.1L267.6 63.6L268.0 65.8L266.1 64.7L264.2 65.8L264.6 63.6L263.0 62.1L265.2 61.8ZM174.7 65.2L175.6 67.2L177.8 67.5L176.2 69.0L176.6 71.2L174.7 70.1L172.8 71.2L173.2 69.0L171.6 67.5L173.8 67.2ZM176.6 67.1L177.5 69.1L179.7 69.4L178.1 70.9L178.5 73.1L176.6 72.0L174.7 73.1L175.1 70.9L173.5 69.4L175.7 69.1ZM185.1 69.0L186.0 71.0L188.2 71.3L186.6 72.8L187.0 75.0L185.1 73.9L183.2 75.0L183.6 72.8L182.0 71.3L184.2 71.0ZM186.1 71.8L187.0 73.8L189.2 74.1L187.6 75.6L188.0 77.8L186.1 76.7L184.2 77.8L184.6 75.6L183.0 74.1L185.2 73.8ZM151.9 71.8L152.8 73.8L155.0 74.1L153.4 75.6L153.8 77.8L151.9 76.7L150.0 77.8L150.4 75.6L148.8 74.1L151.0 73.8ZM151.9 78.4L152.8 80.4L155.0 80.7L153.4 82.2L153.8 84.4L151.9 83.3L150.0 84.4L150.4 82.2L148.8 80.7L151.0 80.4ZM213.6 82.2L214.5 84.2L216.7 84.5L215.1 86.0L215.5 88.2L213.6 87.1L211.7 88.2L212.1 86.0L210.5 84.5L212.7 84.2ZM232.9 83.2L233.8 85.2L236.0 85.5L234.4 87.0L234.8 89.2L232.9 88.1L231.0 89.2L231.4 87.0L229.8 85.5L232.0 85.2ZM233.5 85.7L234.4 87.7L236.6 88.0L235.0 89.5L235.4 91.7L233.5 90.6L231.6 91.7L232.0 89.5L230.4 88.0L232.6 87.7ZM237.3 92.7L238.2 94.7L240.4 95.0L238.8 96.5L239.2 98.7L237.3 97.6L235.4 98.7L235.8 96.5L234.2 95.0L236.4 94.7ZM239.2 95.5L240.1 97.5L242.3 97.8L240.7 99.3L241.1 101.5L239.2 100.4L237.3 101.5L237.7 99.3L236.1 97.8L238.3 97.5ZM235.4 97.4L236.3 99.4L238.5 99.7L236.9 101.2L237.3 103.4L235.4 102.3L233.5 103.4L233.9 101.2L232.3 99.7L234.5 99.4ZM241.1 95.5L242.0 97.5L244.2 97.8L242.6 99.3L243.0 101.5L241.1 100.4L239.2 101.5L239.6 99.3L238.0 97.8L240.2 97.5ZM231.6 95.9L232.5 97.9L234.7 98.2L233.1 99.7L233.5 101.9L231.6 100.8L229.7 101.9L230.1 99.7L228.5 98.2L230.7 97.9ZM250.6 96.5L251.5 98.5L253.7 98.8L252.1 100.3L252.5 102.5L250.6 101.4L248.7 102.5L249.1 100.3L247.5 98.8L249.7 98.5ZM249.6 99.3L250.5 101.3L252.7 101.6L251.1 103.1L251.5 105.3L249.6 104.2L247.7 105.3L248.1 103.1L246.5 101.6L248.7 101.3ZM245.8 102.7L246.7 104.7L248.9 105.0L247.3 106.5L247.7 108.7L245.8 107.6L243.9 108.7L244.3 106.5L242.7 105.0L244.9 104.7ZM254.4 104.1L255.3 106.1L257.5 106.4L255.9 107.9L256.3 110.1L254.4 109.0L252.5 110.1L252.9 107.9L251.3 106.4L253.5 106.1ZM273.7 106.0L274.6 108.0L276.8 108.3L275.2 109.8L275.6 112.0L273.7 110.9L271.8 112.0L272.2 109.8L270.6 108.3L272.8 108.0ZM213.6 100.3L214.5 102.3L216.7 102.6L215.1 104.1L215.5 106.3L213.6 105.2L211.7 106.3L212.1 104.1L210.5 102.6L212.7 102.3ZM215.5 104.1L216.4 106.1L218.6 106.4L217.0 107.9L217.4 110.1L215.5 109.0L213.6 110.1L214.0 107.9L212.4 106.4L214.6 106.1ZM226.9 101.2L227.8 103.2L230.0 103.5L228.4 105.0L228.8 107.2L226.9 106.1L225.0 107.2L225.4 105.0L223.8 103.5L226.0 103.2ZM228.7 102.2L229.6 104.2L231.8 104.5L230.2 106.0L230.6 108.2L228.7 107.1L226.8 108.2L227.2 106.0L225.6 104.5L227.8 104.2ZM180.0 92.7L180.9 94.7L183.1 95.0L181.5 96.5L181.9 98.7L180.0 97.6L178.1 98.7L178.5 96.5L176.9 95.0L179.1 94.7ZM152.8 103.1L153.7 105.1L155.9 105.4L154.3 106.9L154.7 109.1L152.8 108.0L150.9 109.1L151.3 106.9L149.7 105.4L151.9 105.1ZM164.2 109.2L165.1 111.2L167.3 111.5L165.7 113.0L166.1 115.2L164.2 114.1L162.3 115.2L162.7 113.0L161.1 111.5L163.3 111.2ZM171.8 109.9L172.7 111.9L174.9 112.2L173.3 113.7L173.7 115.9L171.8 114.8L169.9 115.9L170.3 113.7L168.7 112.2L170.9 111.9ZM156.1 113.0L157.0 115.0L159.2 115.3L157.6 116.8L158.0 119.0L156.1 117.9L154.2 119.0L154.6 116.8L153.0 115.3L155.2 115.0ZM193.6 106.9L194.5 108.9L196.7 109.2L195.1 110.7L195.5 112.9L193.6 111.8L191.7 112.9L192.1 110.7L190.5 109.2L192.7 108.9ZM200.3 109.8L201.2 111.8L203.4 112.1L201.8 113.6L202.2 115.8L200.3 114.7L198.4 115.8L198.8 113.6L197.2 112.1L199.4 111.8ZM195.5 124.4L196.4 126.4L198.6 126.7L197.0 128.2L197.4 130.4L195.5 129.3L193.6 130.4L194.0 128.2L192.4 126.7L194.6 126.4ZM169.0 130.0L169.9 132.0L172.1 132.3L170.5 133.8L170.9 136.0L169.0 134.9L167.1 136.0L167.5 133.8L165.9 132.3L168.1 132.0ZM179.4 127.1L180.3 129.1L182.5 129.4L180.9 130.9L181.3 133.1L179.4 132.0L177.5 133.1L177.9 130.9L176.3 129.4L178.5 129.1ZM185.1 127.7L186.0 129.7L188.2 130.0L186.6 131.5L187.0 133.7L185.1 132.6L183.2 133.7L183.6 131.5L182.0 130.0L184.2 129.7ZM180.4 131.5L181.3 133.5L183.5 133.8L181.9 135.3L182.3 137.5L180.4 136.4L178.5 137.5L178.9 135.3L177.3 133.8L179.5 133.5ZM186.1 131.5L187.0 133.5L189.2 133.8L187.6 135.3L188.0 137.5L186.1 136.4L184.2 137.5L184.6 135.3L183.0 133.8L185.2 133.5ZM191.7 126.6L192.6 128.6L194.8 128.9L193.2 130.4L193.6 132.6L191.7 131.5L189.8 132.6L190.2 130.4L188.6 128.9L190.8 128.6ZM195.5 125.2L196.4 127.2L198.6 127.5L197.0 129.0L197.4 131.2L195.5 130.1L193.6 131.2L194.0 129.0L192.4 127.5L194.6 127.2ZM157.2 138.0L158.1 140.0L160.3 140.3L158.7 141.8L159.1 144.0L157.2 142.9L155.3 144.0L155.7 141.8L154.1 140.3L156.3 140.0ZM172.4 137.6L173.3 139.6L175.5 139.9L173.9 141.4L174.3 143.6L172.4 142.5L170.5 143.6L170.9 141.4L169.3 139.9L171.5 139.6ZM206.0 138.0L206.9 140.0L209.1 140.3L207.5 141.8L207.9 144.0L206.0 142.9L204.1 144.0L204.5 141.8L202.9 140.3L205.1 140.0ZM209.8 142.9L210.7 144.9L212.9 145.2L211.3 146.7L211.7 148.9L209.8 147.8L207.9 148.9L208.3 146.7L206.7 145.2L208.9 144.9ZM216.4 139.8L217.3 141.8L219.5 142.1L217.9 143.6L218.3 145.8L216.4 144.7L214.5 145.8L214.9 143.6L213.3 142.1L215.5 141.8ZM224.0 142.9L224.9 144.9L227.1 145.2L225.5 146.7L225.9 148.9L224.0 147.8L222.1 148.9L222.5 146.7L220.9 145.2L223.1 144.9ZM223.1 132.8L224.0 134.8L226.2 135.1L224.6 136.6L225.0 138.8L223.1 137.7L221.2 138.8L221.6 136.6L220.0 135.1L222.2 134.8ZM242.0 129.6L242.9 131.6L245.1 131.9L243.5 133.4L243.9 135.6L242.0 134.5L240.1 135.6L240.5 133.4L238.9 131.9L241.1 131.6ZM243.9 131.9L244.8 133.9L247.0 134.2L245.4 135.7L245.8 137.9L243.9 136.8L242.0 137.9L242.4 135.7L240.8 134.2L243.0 133.9ZM173.1 153.7L174.0 155.7L176.2 156.0L174.6 157.5L175.0 159.7L173.1 158.6L171.2 159.7L171.6 157.5L170.0 156.0L172.2 155.7ZM229.7 160.0L230.6 162.0L232.8 162.3L231.2 163.8L231.6 166.0L229.7 164.9L227.8 166.0L228.2 163.8L226.6 162.3L228.8 162.0ZM263.9 163.2L264.8 165.2L267.0 165.5L265.4 167.0L265.8 169.2L263.9 168.1L262.0 169.2L262.4 167.0L260.8 165.5L263.0 165.2ZM203.1 177.4L204.0 179.4L206.2 179.7L204.6 181.2L205.0 183.4L203.1 182.3L201.2 183.4L201.6 181.2L200.0 179.7L202.2 179.4ZM227.8 186.5L228.7 188.5L230.9 188.8L229.3 190.3L229.7 192.5L227.8 191.4L225.9 192.5L226.3 190.3L224.7 188.8L226.9 188.5ZM244.3 187.9L245.2 189.9L247.4 190.2L245.8 191.7L246.2 193.9L244.3 192.8L242.4 193.9L242.8 191.7L241.2 190.2L243.4 189.9ZM248.7 174.6L249.6 176.6L251.8 176.9L250.2 178.4L250.6 180.6L248.7 179.5L246.8 180.6L247.2 178.4L245.6 176.9L247.8 176.6ZM251.5 175.1L252.4 177.1L254.6 177.4L253.0 178.9L253.4 181.1L251.5 180.0L249.6 181.1L250.0 178.9L248.4 177.4L250.6 177.1ZM259.7 172.1L260.6 174.1L262.8 174.4L261.2 175.9L261.6 178.1L259.7 177.0L257.8 178.1L258.2 175.9L256.6 174.4L258.8 174.1ZM263.3 175.1L264.2 177.1L266.4 177.4L264.8 178.9L265.2 181.1L263.3 180.0L261.4 181.1L261.8 178.9L260.2 177.4L262.4 177.1ZM267.6 178.9L268.5 180.9L270.7 181.2L269.1 182.7L269.5 184.9L267.6 183.8L265.7 184.9L266.1 182.7L264.5 181.2L266.7 180.9ZM212.6 202.5L213.5 204.5L215.7 204.8L214.1 206.3L214.5 208.5L212.6 207.4L210.7 208.5L211.1 206.3L209.5 204.8L211.7 204.5ZM269.5 214.4L270.4 216.4L272.6 216.7L271.0 218.2L271.4 220.4L269.5 219.3L267.6 220.4L268.0 218.2L266.4 216.7L268.6 216.4ZM91.0 160.7L91.9 162.7L94.1 163.0L92.5 164.5L92.9 166.7L91.0 165.6L89.1 166.7L89.5 164.5L87.9 163.0L90.1 162.7ZM112.2 166.7L113.1 168.7L115.3 169.0L113.7 170.5L114.1 172.7L112.2 171.6L110.3 172.7L110.7 170.5L109.1 169.0L111.3 168.7ZM112.2 159.5L113.1 161.5L115.3 161.8L113.7 163.3L114.1 165.5L112.2 164.4L110.3 165.5L110.7 163.3L109.1 161.8L111.3 161.5ZM132.7 147.0L133.6 149.0L135.8 149.3L134.2 150.8L134.6 153.0L132.7 151.9L130.8 153.0L131.2 150.8L129.6 149.3L131.8 149.0ZM118.6 148.8L119.5 150.8L121.7 151.1L120.1 152.6L120.5 154.8L118.6 153.7L116.7 154.8L117.1 152.6L115.5 151.1L117.7 150.8ZM101.6 137.5L102.5 139.5L104.7 139.8L103.1 141.3L103.5 143.5L101.6 142.4L99.7 143.5L100.1 141.3L98.5 139.8L100.7 139.5ZM69.7 67.6L70.6 69.6L72.8 69.9L71.2 71.4L71.6 73.6L69.7 72.5L67.8 73.6L68.2 71.4L66.6 69.9L68.8 69.6ZM84.7 69.4L85.6 71.4L87.8 71.7L86.2 73.2L86.6 75.4L84.7 74.3L82.8 75.4L83.2 73.2L81.6 71.7L83.8 71.4ZM102.1 67.2L103.0 69.2L105.2 69.5L103.6 71.0L104.0 73.2L102.1 72.1L100.2 73.2L100.6 71.0L99.0 69.5L101.2 69.2ZM108.3 60.1L109.2 62.1L111.4 62.4L109.8 63.9L110.2 66.1L108.3 65.0L106.4 66.1L106.8 63.9L105.2 62.4L107.4 62.1ZM109.2 61.9L110.1 63.9L112.3 64.2L110.7 65.7L111.1 67.9L109.2 66.8L107.3 67.9L107.7 65.7L106.1 64.2L108.3 63.9ZM101.2 56.6L102.1 58.6L104.3 58.9L102.7 60.4L103.1 62.6L101.2 61.5L99.3 62.6L99.7 60.4L98.1 58.9L100.3 58.6ZM114.6 53.5L115.5 55.5L117.7 55.8L116.1 57.3L116.5 59.5L114.6 58.4L112.7 59.5L113.1 57.3L111.5 55.8L113.7 55.5ZM124.9 56.0L125.8 58.0L128.0 58.3L126.4 59.8L126.8 62.0L124.9 60.9L123.0 62.0L123.4 59.8L121.8 58.3L124.0 58.0ZM131.5 46.4L132.4 48.4L134.6 48.7L133.0 50.2L133.4 52.4L131.5 51.3L129.6 52.4L130.0 50.2L128.4 48.7L130.6 48.4ZM138.6 50.3L139.5 52.3L141.7 52.6L140.1 54.1L140.5 56.3L138.6 55.2L136.7 56.3L137.1 54.1L135.5 52.6L137.7 52.3ZM132.4 61.0L133.3 63.0L135.5 63.3L133.9 64.8L134.3 67.0L132.4 65.9L130.5 67.0L130.9 64.8L129.3 63.3L131.5 63.0ZM109.2 72.6L110.1 74.6L112.3 74.9L110.7 76.4L111.1 78.6L109.2 77.5L107.3 78.6L107.7 76.4L106.1 74.9L108.3 74.6ZM114.6 71.3L115.5 73.3L117.7 73.6L116.1 75.1L116.5 77.3L114.6 76.2L112.7 77.3L113.1 75.1L111.5 73.6L113.7 73.3ZM109.2 77.0L110.1 79.0L112.3 79.3L110.7 80.8L111.1 83.0L109.2 81.9L107.3 83.0L107.7 80.8L106.1 79.3L108.3 79.0ZM120.8 75.3L121.7 77.3L123.9 77.6L122.3 79.1L122.7 81.3L120.8 80.2L118.9 81.3L119.3 79.1L117.7 77.6L119.9 77.3ZM121.7 77.0L122.6 79.0L124.8 79.3L123.2 80.8L123.6 83.0L121.7 81.9L119.8 83.0L120.2 80.8L118.6 79.3L120.8 79.0ZM132.4 73.5L133.3 75.5L135.5 75.8L133.9 77.3L134.3 79.5L132.4 78.4L130.5 79.5L130.9 77.3L129.3 75.8L131.5 75.5ZM135.1 77.0L136.0 79.0L138.2 79.3L136.6 80.8L137.0 83.0L135.1 81.9L133.2 83.0L133.6 80.8L132.0 79.3L134.2 79.0ZM137.7 78.8L138.6 80.8L140.8 81.1L139.2 82.6L139.6 84.8L137.7 83.7L135.8 84.8L136.2 82.6L134.6 81.1L136.8 80.8ZM143.1 73.5L144.0 75.5L146.2 75.8L144.6 77.3L145.0 79.5L143.1 78.4L141.2 79.5L141.6 77.3L140.0 75.8L142.2 75.5ZM152.0 73.5L152.9 75.5L155.1 75.8L153.5 77.3L153.9 79.5L152.0 78.4L150.1 79.5L150.5 77.3L148.9 75.8L151.1 75.5ZM144.9 86.8L145.8 88.8L148.0 89.1L146.4 90.6L146.8 92.8L144.9 91.7L143.0 92.8L143.4 90.6L141.8 89.1L144.0 88.8ZM149.3 90.4L150.2 92.4L152.4 92.7L150.8 94.2L151.2 96.4L149.3 95.3L147.4 96.4L147.8 94.2L146.2 92.7L148.4 92.4ZM155.5 83.3L156.4 85.3L158.6 85.6L157.0 87.1L157.4 89.3L155.5 88.2L153.6 89.3L154.0 87.1L152.4 85.6L154.6 85.3ZM156.4 88.6L157.3 90.6L159.5 90.9L157.9 92.4L158.3 94.6L156.4 93.5L154.5 94.6L154.9 92.4L153.3 90.9L155.5 90.6ZM46.9 76.1L47.8 78.1L50.0 78.4L48.4 79.9L48.8 82.1L46.9 81.0L45.0 82.1L45.4 79.9L43.8 78.4L46.0 78.1ZM44.2 82.4L45.1 84.4L47.3 84.7L45.7 86.2L46.1 88.4L44.2 87.3L42.3 88.4L42.7 86.2L41.1 84.7L43.3 84.4ZM46.0 87.7L46.9 89.7L49.1 90.0L47.5 91.5L47.9 93.7L46.0 92.6L44.1 93.7L44.5 91.5L42.9 90.0L45.1 89.7ZM128.0 44.2L128.9 46.2L131.1 46.5L129.5 48.0L129.9 50.2L128.0 49.1L126.1 50.2L126.5 48.0L124.9 46.5L127.1 46.2ZM130.0 48.7L130.9 50.7L133.1 51.0L131.5 52.5L131.9 54.7L130.0 53.6L128.1 54.7L128.5 52.5L126.9 51.0L129.1 50.7ZM104.5 58.7L105.4 60.7L107.6 61.0L106.0 62.5L106.4 64.7L104.5 63.6L102.6 64.7L103.0 62.5L101.4 61.0L103.6 60.7ZM106.0 62.7L106.9 64.7L109.1 65.0L107.5 66.5L107.9 68.7L106.0 67.6L104.1 68.7L104.5 66.5L102.9 65.0L105.1 64.7ZM140.0 101.7L140.9 103.7L143.1 104.0L141.5 105.5L141.9 107.7L140.0 106.6L138.1 107.7L138.5 105.5L136.9 104.0L139.1 103.7ZM145.0 108.7L145.9 110.7L148.1 111.0L146.5 112.5L146.9 114.7L145.0 113.6L143.1 114.7L143.5 112.5L141.9 111.0L144.1 110.7ZM150.0 121.7L150.9 123.7L153.1 124.0L151.5 125.5L151.9 127.7L150.0 126.6L148.1 127.7L148.5 125.5L146.9 124.0L149.1 123.7ZM140.0 116.7L140.9 118.7L143.1 119.0L141.5 120.5L141.9 122.7L140.0 121.6L138.1 122.7L138.5 120.5L136.9 119.0L139.1 118.7ZM62.0 144.2L62.9 146.2L65.1 146.5L63.5 148.0L63.9 150.2L62.0 149.1L60.1 150.2L60.5 148.0L58.9 146.5L61.1 146.2ZM65.6 142.5L66.5 144.5L68.7 144.8L67.1 146.3L67.5 148.5L65.6 147.4L63.7 148.5L64.1 146.3L62.5 144.8L64.7 144.5ZM78.0 143.7L78.9 145.7L81.1 146.0L79.5 147.5L79.9 149.7L78.0 148.6L76.1 149.7L76.5 147.5L74.9 146.0L77.1 145.7ZM96.0 142.7L96.9 144.7L99.1 145.0L97.5 146.5L97.9 148.7L96.0 147.6L94.1 148.7L94.5 146.5L92.9 145.0L95.1 144.7ZM102.0 143.7L102.9 145.7L105.1 146.0L103.5 147.5L103.9 149.7L102.0 148.6L100.1 149.7L100.5 147.5L98.9 146.0L101.1 145.7ZM112.0 140.7L112.9 142.7L115.1 143.0L113.5 144.5L113.9 146.7L112.0 145.6L110.1 146.7L110.5 144.5L108.9 143.0L111.1 142.7ZM160.0 96.7L160.9 98.7L163.1 99.0L161.5 100.5L161.9 102.7L160.0 101.6L158.1 102.7L158.5 100.5L156.9 99.0L159.1 98.7ZM175.0 94.7L175.9 96.7L178.1 97.0L176.5 98.5L176.9 100.7L175.0 99.6L173.1 100.7L173.5 98.5L171.9 97.0L174.1 96.7ZM186.0 88.7L186.9 90.7L189.1 91.0L187.5 92.5L187.9 94.7L186.0 93.6L184.1 94.7L184.5 92.5L182.9 91.0L185.1 90.7ZM205.0 86.7L205.9 88.7L208.1 89.0L206.5 90.5L206.9 92.7L205.0 91.6L203.1 92.7L203.5 90.5L201.9 89.0L204.1 88.7ZM222.0 88.7L222.9 90.7L225.1 91.0L223.5 92.5L223.9 94.7L222.0 93.6L220.1 94.7L220.5 92.5L218.9 91.0L221.1 90.7ZM120.1 95.8L121.0 97.8L123.2 98.1L121.6 99.6L122.0 101.8L120.1 100.7L118.1 101.8L118.6 99.6L116.9 98.1L119.2 97.8ZM113.4 86.5L114.3 88.5L116.5 88.8L114.9 90.3L115.3 92.5L113.4 91.4L111.4 92.5L111.9 90.3L110.2 88.8L112.4 88.5ZM107.0 89.8L107.9 91.9L110.1 92.1L108.5 93.6L108.9 95.8L107.0 94.7L105.1 95.8L105.5 93.6L103.9 92.1L106.1 91.9ZM107.4 83.7L108.3 85.7L110.5 85.9L108.9 87.5L109.3 89.6L107.4 88.5L105.4 89.6L105.9 87.5L104.2 85.9L106.4 85.7ZM114.1 90.3L115.0 92.3L117.2 92.5L115.6 94.0L116.0 96.2L114.1 95.1L112.2 96.2L112.6 94.0L111.0 92.5L113.2 92.3ZM116.0 85.9L116.9 87.9L119.1 88.1L117.5 89.7L117.9 91.8L116.0 90.7L114.1 91.8L114.5 89.7L112.9 88.1L115.1 87.9ZM113.0 89.4L114.0 91.4L116.2 91.7L114.5 93.2L115.0 95.4L113.0 94.3L111.1 95.4L111.5 93.2L109.9 91.7L112.1 91.4ZM104.7 92.0L105.6 94.0L107.9 94.2L106.2 95.7L106.7 97.9L104.7 96.8L102.8 97.9L103.2 95.7L101.6 94.2L103.8 94.0ZM114.8 99.7L115.7 101.8L117.9 102.0L116.3 103.5L116.7 105.7L114.8 104.6L112.8 105.7L113.3 103.5L111.6 102.0L113.8 101.8ZM114.1 89.1L115.0 91.1L117.3 91.4L115.6 92.9L116.1 95.1L114.1 94.0L112.2 95.1L112.6 92.9L111.0 91.4L113.2 91.1ZM119.8 90.5L120.7 92.6L122.9 92.8L121.3 94.3L121.7 96.5L119.8 95.4L117.8 96.5L118.3 94.3L116.6 92.8L118.8 92.6ZM118.0 88.2L118.9 90.2L121.1 90.4L119.5 92.0L119.9 94.1L118.0 93.0L116.1 94.1L116.5 92.0L114.9 90.4L117.1 90.2ZM114.2 94.0L115.1 96.0L117.3 96.3L115.7 97.8L116.1 100.0L114.2 98.9L112.3 100.0L112.7 97.8L111.1 96.3L113.3 96.0ZM116.8 90.2L117.8 92.3L120.0 92.5L118.3 94.0L118.8 96.2L116.8 95.1L114.9 96.2L115.3 94.0L113.7 92.5L115.9 92.3ZM107.0 91.6L108.0 93.6L110.2 93.9L108.6 95.4L109.0 97.5L107.0 96.5L105.1 97.5L105.5 95.4L103.9 93.9L106.1 93.6ZM113.4 92.7L114.4 94.7L116.6 95.0L114.9 96.5L115.4 98.7L113.4 97.6L111.5 98.7L111.9 96.5L110.3 95.0L112.5 94.7ZM114.2 94.3L115.1 96.3L117.3 96.6L115.7 98.1L116.1 100.2L114.2 99.2L112.2 100.2L112.7 98.1L111.1 96.6L113.3 96.3ZM112.7 90.5L113.6 92.6L115.9 92.8L114.2 94.3L114.7 96.5L112.7 95.4L110.8 96.5L111.2 94.3L109.6 92.8L111.8 92.6ZM116.7 85.1L117.6 87.2L119.8 87.4L118.2 88.9L118.6 91.1L116.7 90.0L114.7 91.1L115.2 88.9L113.5 87.4L115.7 87.2ZM110.8 87.6L111.7 89.6L113.9 89.9L112.3 91.4L112.7 93.6L110.8 92.5L108.9 93.6L109.3 91.4L107.7 89.9L109.9 89.6ZM123.9 89.3L124.8 91.3L127.0 91.6L125.4 93.1L125.8 95.3L123.9 94.2L122.0 95.3L122.4 93.1L120.8 91.6L123.0 91.3ZM116.6 92.3L117.5 94.3L119.7 94.6L118.1 96.1L118.5 98.3L116.6 97.2L114.6 98.3L115.1 96.1L113.4 94.6L115.7 94.3ZM111.5 83.2L112.4 85.2L114.6 85.5L113.0 87.0L113.4 89.2L111.5 88.1L109.5 89.2L109.9 87.0L108.3 85.5L110.5 85.2ZM118.3 88.0L119.2 90.0L121.4 90.3L119.8 91.8L120.2 94.0L118.3 92.9L116.4 94.0L116.8 91.8L115.2 90.3L117.4 90.0ZM116.9 84.2L117.9 86.2L120.1 86.5L118.5 88.0L118.9 90.2L116.9 89.1L115.0 90.2L115.4 88.0L113.8 86.5L116.0 86.2ZM110.6 95.0L111.5 97.0L113.7 97.3L112.1 98.8L112.5 100.9L110.6 99.9L108.7 100.9L109.1 98.8L107.5 97.3L109.7 97.0ZM120.9 84.2L121.8 86.2L124.0 86.5L122.4 88.0L122.8 90.2L120.9 89.1L118.9 90.2L119.4 88.0L117.7 86.5L119.9 86.2ZM105.7 89.5L106.6 91.5L108.8 91.8L107.2 93.3L107.6 95.5L105.7 94.4L103.7 95.5L104.2 93.3L102.5 91.8L104.7 91.5ZM117.0 90.4L117.9 92.4L120.1 92.7L118.5 94.2L118.9 96.3L117.0 95.3L115.1 96.3L115.5 94.2L113.9 92.7L116.1 92.4ZM114.7 85.5L115.6 87.6L117.8 87.8L116.2 89.3L116.6 91.5L114.7 90.4L112.7 91.5L113.2 89.3L111.5 87.8L113.7 87.6ZM116.2 94.4L117.2 96.4L119.4 96.7L117.7 98.2L118.2 100.4L116.2 99.3L114.3 100.4L114.7 98.2L113.1 96.7L115.3 96.4ZM110.6 83.7L111.5 85.7L113.7 86.0L112.1 87.5L112.5 89.6L110.6 88.6L108.7 89.6L109.1 87.5L107.5 86.0L109.7 85.7ZM108.8 92.9L109.8 94.9L112.0 95.2L110.3 96.7L110.8 98.9L108.8 97.8L106.9 98.9L107.3 96.7L105.7 95.2L107.9 94.9ZM103.5 89.3L104.4 91.3L106.6 91.6L105.0 93.1L105.4 95.3L103.5 94.2L101.5 95.3L102.0 93.1L100.3 91.6L102.5 91.3ZM107.5 89.1L108.5 91.2L110.7 91.4L109.1 92.9L109.5 95.1L107.5 94.0L105.6 95.1L106.0 92.9L104.4 91.4L106.6 91.2ZM111.7 89.8L112.6 91.8L114.8 92.0L113.2 93.6L113.6 95.7L111.7 94.7L109.7 95.7L110.1 93.6L108.5 92.0L110.7 91.8ZM121.3 91.5L122.2 93.5L124.4 93.7L122.8 95.3L123.2 97.4L121.3 96.4L119.3 97.4L119.8 95.3L118.1 93.7L120.3 93.5ZM120.3 89.1L121.3 91.1L123.5 91.4L121.8 92.9L122.3 95.1L120.3 94.0L118.4 95.1L118.8 92.9L117.2 91.4L119.4 91.1ZM110.4 91.3L111.3 93.3L113.5 93.6L111.9 95.1L112.3 97.3L110.4 96.2L108.4 97.3L108.9 95.1L107.2 93.6L109.4 93.3ZM97.4 89.5L98.3 91.6L100.5 91.8L98.9 93.3L99.3 95.5L97.4 94.4L95.5 95.5L95.9 93.3L94.3 91.8L96.5 91.6ZM113.9 84.5L114.8 86.5L117.0 86.8L115.4 88.3L115.8 90.5L113.9 89.4L111.9 90.5L112.4 88.3L110.7 86.8L112.9 86.5ZM115.6 87.4L116.5 89.4L118.7 89.6L117.1 91.1L117.5 93.3L115.6 92.2L113.6 93.3L114.0 91.1L112.4 89.6L114.6 89.4ZM99.5 88.8L100.4 90.8L102.6 91.1L101.0 92.6L101.4 94.8L99.5 93.7L97.5 94.8L98.0 92.6L96.3 91.1L98.5 90.8ZM107.6 87.5L108.5 89.5L110.8 89.8L109.1 91.3L109.6 93.5L107.6 92.4L105.7 93.5L106.1 91.3L104.5 89.8L106.7 89.5ZM112.2 95.0L113.1 97.0L115.3 97.2L113.7 98.7L114.1 100.9L112.2 99.8L110.2 100.9L110.7 98.7L109.0 97.2L111.2 97.0ZM113.6 89.6L114.5 91.6L116.7 91.9L115.1 93.4L115.5 95.6L113.6 94.5L111.6 95.6L112.1 93.4L110.4 91.9L112.6 91.6ZM115.1 82.1L116.1 84.1L118.3 84.4L116.6 85.9L117.1 88.1L115.1 87.0L113.2 88.1L113.6 85.9L112.0 84.4L114.2 84.1ZM119.8 85.2L120.8 87.2L123.0 87.5L121.3 89.0L121.8 91.1L119.8 90.1L117.9 91.1L118.3 89.0L116.7 87.5L118.9 87.2ZM115.4 85.0L116.3 87.0L118.6 87.2L116.9 88.8L117.4 90.9L115.4 89.9L113.5 90.9L113.9 88.8L112.3 87.2L114.5 87.0ZM107.6 88.0L108.6 90.1L110.8 90.3L109.1 91.8L109.6 94.0L107.6 92.9L105.7 94.0L106.1 91.8L104.5 90.3L106.7 90.1ZM123.4 92.6L124.4 94.6L126.6 94.9L124.9 96.4L125.4 98.6L123.4 97.5L121.5 98.6L121.9 96.4L120.3 94.9L122.5 94.6ZM109.7 88.5L110.6 90.5L112.8 90.8L111.2 92.3L111.6 94.5L109.7 93.4L107.7 94.5L108.2 92.3L106.5 90.8L108.7 90.5ZM106.7 89.6L107.6 91.6L109.8 91.8L108.2 93.3L108.6 95.5L106.7 94.4L104.7 95.5L105.2 93.3L103.5 91.8L105.7 91.6ZM109.8 92.7L110.8 94.8L113.0 95.0L111.4 96.5L111.8 98.7L109.8 97.6L107.9 98.7L108.3 96.5L106.7 95.0L108.9 94.8ZM105.5 88.3L106.5 90.3L108.7 90.6L107.0 92.1L107.5 94.3L105.5 93.2L103.6 94.3L104.0 92.1L102.4 90.6L104.6 90.3ZM108.4 86.7L109.3 88.7L111.5 89.0L109.9 90.5L110.3 92.7L108.4 91.6L106.4 92.7L106.9 90.5L105.2 89.0L107.4 88.7ZM116.9 90.2L117.8 92.2L120.0 92.5L118.4 94.0L118.9 96.2L116.9 95.1L115.0 96.2L115.4 94.0L113.8 92.5L116.0 92.2ZM116.2 94.7L117.1 96.7L119.4 97.0L117.7 98.5L118.2 100.7L116.2 99.6L114.3 100.7L114.7 98.5L113.1 97.0L115.3 96.7ZM119.3 83.9L120.3 86.0L122.5 86.2L120.8 87.7L121.3 89.9L119.3 88.8L117.4 89.9L117.8 87.7L116.2 86.2L118.4 86.0ZM116.0 82.3L116.9 84.3L119.1 84.6L117.5 86.1L117.9 88.3L116.0 87.2L114.0 88.3L114.4 86.1L112.8 84.6L115.0 84.3ZM48.1 104.3L49.1 106.3L51.3 106.5L49.6 108.1L50.1 110.2L48.1 109.2L46.2 110.2L46.6 108.1L45.0 106.5L47.2 106.3ZM58.2 83.0L59.1 85.0L61.3 85.3L59.7 86.8L60.1 89.0L58.2 87.9L56.2 89.0L56.6 86.8L55.0 85.3L57.2 85.0ZM42.4 81.1L43.3 83.1L45.5 83.4L43.9 84.9L44.3 87.1L42.4 86.0L40.5 87.1L40.9 84.9L39.3 83.4L41.5 83.1ZM60.1 87.7L61.1 89.7L63.3 90.0L61.6 91.5L62.1 93.7L60.1 92.6L58.2 93.7L58.6 91.5L57.0 90.0L59.2 89.7ZM44.6 98.2L45.6 100.2L47.8 100.5L46.1 102.0L46.6 104.2L44.6 103.1L42.7 104.2L43.1 102.0L41.5 100.5L43.7 100.2ZM50.3 82.6L51.2 84.7L53.4 84.9L51.8 86.4L52.2 88.6L50.3 87.5L48.3 88.6L48.8 86.4L47.1 84.9L49.3 84.7ZM45.8 95.5L46.8 97.5L49.0 97.7L47.3 99.3L47.8 101.4L45.8 100.4L43.9 101.4L44.3 99.3L42.7 97.7L44.9 97.5ZM46.0 88.3L47.0 90.4L49.2 90.6L47.5 92.1L48.0 94.3L46.0 93.2L44.1 94.3L44.5 92.1L42.9 90.6L45.1 90.4ZM59.1 93.4L60.0 95.5L62.2 95.7L60.6 97.2L61.0 99.4L59.1 98.3L57.1 99.4L57.6 97.2L55.9 95.7L58.1 95.5ZM49.7 94.0L50.7 96.0L52.9 96.2L51.2 97.8L51.7 99.9L49.7 98.8L47.8 99.9L48.2 97.8L46.6 96.2L48.8 96.0ZM42.6 91.5L43.5 93.5L45.7 93.8L44.1 95.3L44.5 97.5L42.6 96.4L40.6 97.5L41.1 95.3L39.4 93.8L41.6 93.5ZM52.1 86.0L53.0 88.0L55.2 88.2L53.6 89.8L54.0 91.9L52.1 90.8L50.2 91.9L50.6 89.8L49.0 88.2L51.2 88.0ZM44.6 105.9L45.5 107.9L47.7 108.2L46.1 109.7L46.5 111.9L44.6 110.8L42.7 111.9L43.1 109.7L41.5 108.2L43.7 107.9ZM54.2 86.6L55.2 88.6L57.4 88.8L55.7 90.3L56.2 92.5L54.2 91.4L52.3 92.5L52.7 90.3L51.1 88.8L53.3 88.6ZM56.5 103.6L57.5 105.6L59.7 105.9L58.0 107.4L58.5 109.5L56.5 108.5L54.6 109.5L55.0 107.4L53.4 105.9L55.6 105.6ZM42.5 81.2L43.4 83.2L45.6 83.5L44.0 85.0L44.4 87.2L42.5 86.1L40.6 87.2L41.0 85.0L39.4 83.5L41.6 83.2ZM45.5 100.8L46.4 102.8L48.7 103.1L47.0 104.6L47.5 106.8L45.5 105.7L43.6 106.8L44.0 104.6L42.4 103.1L44.6 102.8ZM45.8 100.4L46.8 102.4L49.0 102.7L47.4 104.2L47.8 106.4L45.8 105.3L43.9 106.4L44.3 104.2L42.7 102.7L44.9 102.4ZM58.3 96.0L59.2 98.0L61.4 98.2L59.8 99.7L60.2 101.9L58.3 100.8L56.3 101.9L56.8 99.7L55.1 98.2L57.3 98.0ZM47.3 108.0L48.2 110.0L50.4 110.3L48.8 111.8L49.2 114.0L47.3 112.9L45.4 114.0L45.8 111.8L44.2 110.3L46.4 110.0ZM61.1 95.2L62.1 97.2L64.3 97.4L62.7 99.0L63.1 101.1L61.1 100.0L59.2 101.1L59.6 99.0L58.0 97.4L60.2 97.2ZM47.4 98.9L48.3 100.9L50.5 101.1L48.9 102.6L49.3 104.8L47.4 103.7L45.4 104.8L45.9 102.6L44.2 101.1L46.4 100.9ZM51.5 96.8L52.4 98.8L54.6 99.1L53.0 100.6L53.4 102.8L51.5 101.7L49.5 102.8L50.0 100.6L48.3 99.1L50.5 98.8ZM49.7 98.4L50.6 100.4L52.8 100.6L51.2 102.2L51.6 104.3L49.7 103.3L47.8 104.3L48.2 102.2L46.6 100.6L48.8 100.4ZM43.4 89.1L44.3 91.1L46.5 91.3L44.9 92.9L45.4 95.0L43.4 93.9L41.5 95.0L41.9 92.9L40.3 91.3L42.5 91.1ZM65.2 105.2L66.2 107.2L68.4 107.5L66.7 109.0L67.2 111.2L65.2 110.1L63.3 111.2L63.7 109.0L62.1 107.5L64.3 107.2ZM49.4 104.7L50.3 106.8L52.5 107.0L50.9 108.5L51.3 110.7L49.4 109.6L47.4 110.7L47.8 108.5L46.2 107.0L48.4 106.8ZM49.4 107.0L50.4 109.0L52.6 109.3L51.0 110.8L51.4 113.0L49.4 111.9L47.5 113.0L47.9 110.8L46.3 109.3L48.5 109.0ZM89.3 111.7L90.2 113.7L92.4 114.0L90.8 115.5L91.2 117.6L89.3 116.6L87.4 117.6L87.8 115.5L86.2 114.0L88.4 113.7ZM72.6 92.1L73.5 94.1L75.7 94.4L74.1 95.9L74.5 98.1L72.6 97.0L70.6 98.1L71.1 95.9L69.4 94.4L71.6 94.1ZM93.9 93.5L94.8 95.5L97.0 95.8L95.4 97.3L95.8 99.5L93.9 98.4L91.9 99.5L92.4 97.3L90.7 95.8L92.9 95.5ZM91.9 137.9L92.8 139.9L95.0 140.2L93.4 141.7L93.8 143.9L91.9 142.8L89.9 143.9L90.4 141.7L88.7 140.2L90.9 139.9ZM83.4 99.9L84.3 102.0L86.5 102.2L84.9 103.7L85.3 105.9L83.4 104.8L81.4 105.9L81.9 103.7L80.3 102.2L82.5 102.0ZM93.5 138.4L94.4 140.5L96.6 140.7L95.0 142.2L95.4 144.4L93.5 143.3L91.6 144.4L92.0 142.2L90.4 140.7L92.6 140.5ZM87.9 116.1L88.9 118.1L91.1 118.4L89.4 119.9L89.9 122.1L87.9 121.0L86.0 122.1L86.4 119.9L84.8 118.4L87.0 118.1ZM76.9 108.4L77.8 110.4L80.0 110.6L78.4 112.1L78.8 114.3L76.9 113.2L74.9 114.3L75.3 112.1L73.7 110.6L75.9 110.4ZM71.0 124.1L71.9 126.1L74.1 126.3L72.5 127.8L72.9 130.0L71.0 128.9L69.1 130.0L69.5 127.8L67.9 126.3L70.1 126.1ZM78.7 101.0L79.7 103.0L81.9 103.3L80.2 104.8L80.7 107.0L78.7 105.9L76.8 107.0L77.2 104.8L75.6 103.3L77.8 103.0ZM67.6 123.7L68.5 125.7L70.7 125.9L69.1 127.5L69.5 129.6L67.6 128.5L65.6 129.6L66.0 127.5L64.4 125.9L66.6 125.7ZM74.1 115.7L75.0 117.7L77.2 118.0L75.6 119.5L76.0 121.7L74.1 120.6L72.1 121.7L72.6 119.5L70.9 118.0L73.1 117.7ZM75.1 133.5L76.0 135.6L78.2 135.8L76.6 137.3L77.0 139.5L75.1 138.4L73.1 139.5L73.6 137.3L71.9 135.8L74.1 135.6ZM94.6 92.6L95.5 94.6L97.7 94.8L96.1 96.4L96.5 98.5L94.6 97.5L92.6 98.5L93.1 96.4L91.5 94.8L93.7 94.6ZM70.8 107.4L71.8 109.5L74.0 109.7L72.3 111.2L72.8 113.4L70.8 112.3L68.9 113.4L69.3 111.2L67.7 109.7L69.9 109.5ZM97.6 129.3L98.5 131.3L100.7 131.5L99.1 133.1L99.5 135.2L97.6 134.2L95.6 135.2L96.1 133.1L94.4 131.5L96.6 131.3ZM75.5 101.9L76.5 103.9L78.7 104.2L77.0 105.7L77.5 107.9L75.5 106.8L73.6 107.9L74.0 105.7L72.4 104.2L74.6 103.9ZM86.9 131.9L87.9 133.9L90.1 134.2L88.4 135.7L88.9 137.9L86.9 136.8L85.0 137.9L85.4 135.7L83.8 134.2L86.0 133.9ZM95.7 108.2L96.6 110.2L98.8 110.5L97.2 112.0L97.6 114.2L95.7 113.1L93.8 114.2L94.2 112.0L92.6 110.5L94.8 110.2ZM94.0 124.7L94.9 126.7L97.1 127.0L95.5 128.5L95.9 130.7L94.0 129.6L92.1 130.7L92.5 128.5L90.9 127.0L93.1 126.7ZM80.5 139.0L81.4 141.0L83.6 141.3L82.0 142.8L82.4 145.0L80.5 143.9L78.5 145.0L79.0 142.8L77.3 141.3L79.5 141.0ZM72.0 126.5L72.9 128.5L75.1 128.8L73.5 130.3L73.9 132.5L72.0 131.4L70.0 132.5L70.5 130.3L68.8 128.8L71.0 128.5ZM66.9 99.8L67.8 101.9L70.0 102.1L68.4 103.6L68.8 105.8L66.9 104.7L64.9 105.8L65.4 103.6L63.7 102.1L65.9 101.9ZM95.0 101.9L95.9 103.9L98.1 104.2L96.5 105.7L96.9 107.9L95.0 106.8L93.0 107.9L93.5 105.7L91.8 104.2L94.0 103.9ZM89.8 120.5L90.7 122.5L92.9 122.8L91.3 124.3L91.7 126.5L89.8 125.4L87.9 126.5L88.3 124.3L86.7 122.8L88.9 122.5ZM92.6 109.4L93.5 111.4L95.7 111.6L94.1 113.2L94.5 115.3L92.6 114.3L90.7 115.3L91.1 113.2L89.5 111.6L91.7 111.4ZM75.6 105.7L76.5 107.7L78.7 108.0L77.1 109.5L77.5 111.6L75.6 110.6L73.6 111.6L74.1 109.5L72.4 108.0L74.6 107.7ZM93.5 120.7L94.4 122.7L96.6 123.0L95.0 124.5L95.4 126.7L93.5 125.6L91.6 126.7L92.0 124.5L90.4 123.0L92.6 122.7ZM96.4 134.3L97.4 136.3L99.6 136.6L98.0 138.1L98.4 140.3L96.4 139.2L94.5 140.3L94.9 138.1L93.3 136.6L95.5 136.3ZM68.6 118.2L69.5 120.2L71.7 120.4L70.1 121.9L70.5 124.1L68.6 123.0L66.7 124.1L67.1 121.9L65.5 120.4L67.7 120.2ZM67.5 93.6L68.5 95.6L70.7 95.9L69.1 97.4L69.5 99.5L67.5 98.5L65.6 99.5L66.0 97.4L64.4 95.9L66.6 95.6ZM66.5 133.3L67.4 135.3L69.6 135.6L68.0 137.1L68.4 139.2L66.5 138.2L64.5 139.2L65.0 137.1L63.4 135.6L65.6 135.3ZM90.8 131.5L91.7 133.5L93.9 133.7L92.3 135.3L92.7 137.4L90.8 136.4L88.9 137.4L89.3 135.3L87.7 133.7L89.9 133.5ZM75.6 121.2L76.5 123.2L78.7 123.5L77.1 125.0L77.5 127.2L75.6 126.1L73.7 127.2L74.1 125.0L72.5 123.5L74.7 123.2ZM90.6 109.8L91.5 111.9L93.7 112.1L92.1 113.6L92.5 115.8L90.6 114.7L88.6 115.8L89.1 113.6L87.4 112.1L89.7 111.9ZM83.4 102.4L84.3 104.5L86.5 104.7L84.9 106.2L85.3 108.4L83.4 107.3L81.5 108.4L81.9 106.2L80.3 104.7L82.5 104.5ZM66.8 104.5L67.7 106.5L69.9 106.8L68.3 108.3L68.7 110.5L66.8 109.4L64.8 110.5L65.3 108.3L63.6 106.8L65.8 106.5ZM94.3 118.8L95.2 120.8L97.4 121.1L95.8 122.6L96.2 124.8L94.3 123.7L92.3 124.8L92.8 122.6L91.1 121.1L93.4 120.8ZM95.5 113.7L96.4 115.7L98.6 116.0L97.0 117.5L97.4 119.6L95.5 118.6L93.5 119.6L93.9 117.5L92.3 116.0L94.5 115.7ZM73.4 129.5L74.4 131.5L76.6 131.8L74.9 133.3L75.4 135.4L73.4 134.4L71.5 135.4L71.9 133.3L70.3 131.8L72.5 131.5ZM92.1 92.3L93.1 94.3L95.3 94.6L93.7 96.1L94.1 98.3L92.1 97.2L90.2 98.3L90.6 96.1L89.0 94.6L91.2 94.3ZM86.8 96.1L87.7 98.1L89.9 98.4L88.3 99.9L88.7 102.1L86.8 101.0L84.9 102.1L85.3 99.9L83.7 98.4L85.9 98.1ZM67.9 134.2L68.8 136.2L71.1 136.5L69.4 138.0L69.9 140.2L67.9 139.1L66.0 140.2L66.4 138.0L64.8 136.5L67.0 136.2ZM65.4 103.2L66.3 105.2L68.5 105.5L66.9 107.0L67.3 109.2L65.4 108.1L63.4 109.2L63.9 107.0L62.2 105.5L64.4 105.2ZM97.6 111.9L98.5 113.9L100.7 114.2L99.1 115.7L99.5 117.9L97.6 116.8L95.7 117.9L96.1 115.7L94.5 114.2L96.7 113.9ZM67.9 99.7L68.9 101.8L71.1 102.0L69.4 103.5L69.9 105.7L67.9 104.6L66.0 105.7L66.4 103.5L64.8 102.0L67.0 101.8ZM72.2 127.4L73.1 129.4L75.3 129.7L73.7 131.2L74.1 133.4L72.2 132.3L70.3 133.4L70.7 131.2L69.1 129.7L71.3 129.4ZM67.5 135.4L68.4 137.4L70.6 137.7L69.0 139.2L69.4 141.4L67.5 140.3L65.6 141.4L66.0 139.2L64.4 137.7L66.6 137.4ZM76.9 138.3L77.8 140.3L80.0 140.6L78.4 142.1L78.8 144.2L76.9 143.2L74.9 144.2L75.4 142.1L73.7 140.6L75.9 140.3ZM94.9 105.8L95.8 107.8L98.1 108.1L96.4 109.6L96.9 111.8L94.9 110.7L93.0 111.8L93.4 109.6L91.8 108.1L94.0 107.8ZM72.6 114.6L73.5 116.6L75.8 116.9L74.1 118.4L74.6 120.6L72.6 119.5L70.7 120.6L71.1 118.4L69.5 116.9L71.7 116.6ZM67.4 123.0L68.3 125.0L70.5 125.3L68.9 126.8L69.3 129.0L67.4 127.9L65.5 129.0L65.9 126.8L64.3 125.3L66.5 125.0ZM65.3 92.2L66.3 94.2L68.5 94.5L66.9 96.0L67.3 98.2L65.3 97.1L63.4 98.2L63.8 96.0L62.2 94.5L64.4 94.2ZM97.4 105.9L98.3 107.9L100.5 108.2L98.9 109.7L99.3 111.9L97.4 110.8L95.5 111.9L95.9 109.7L94.3 108.2L96.5 107.9ZM84.3 113.3L85.2 115.3L87.4 115.6L85.8 117.1L86.2 119.3L84.3 118.2L82.3 119.3L82.8 117.1L81.1 115.6L83.4 115.3ZM74.7 94.7L75.6 96.7L77.8 97.0L76.2 98.5L76.6 100.7L74.7 99.6L72.7 100.7L73.1 98.5L71.5 97.0L73.7 96.7ZM95.1 138.3L96.0 140.3L98.2 140.5L96.6 142.0L97.0 144.2L95.1 143.1L93.1 144.2L93.5 142.0L91.9 140.5L94.1 140.3ZM97.0 97.0L97.9 99.1L100.1 99.3L98.5 100.8L98.9 103.0L97.0 101.9L95.0 103.0L95.5 100.8L93.8 99.3L96.0 99.1ZM71.3 121.4L72.2 123.4L74.5 123.6L72.8 125.1L73.3 127.3L71.3 126.2L69.4 127.3L69.8 125.1L68.2 123.6L70.4 123.4ZM97.3 117.8L98.2 119.8L100.5 120.0L98.8 121.5L99.3 123.7L97.3 122.6L95.4 123.7L95.8 121.5L94.2 120.0L96.4 119.8ZM87.4 123.5L88.3 125.5L90.5 125.7L88.9 127.3L89.3 129.4L87.4 128.4L85.5 129.4L85.9 127.3L84.3 125.7L86.5 125.5ZM72.8 117.7L73.7 119.7L75.9 120.0L74.3 121.5L74.7 123.7L72.8 122.6L70.9 123.7L71.3 121.5L69.7 120.0L71.9 119.7ZM74.4 103.5L75.4 105.5L77.6 105.8L76.0 107.3L76.4 109.5L74.4 108.4L72.5 109.5L72.9 107.3L71.3 105.8L73.5 105.5ZM66.8 105.2L67.7 107.2L69.9 107.5L68.3 109.0L68.7 111.1L66.8 110.1L64.8 111.1L65.3 109.0L63.6 107.5L65.8 107.2ZM97.4 113.2L98.4 115.2L100.6 115.5L98.9 117.0L99.4 119.2L97.4 118.1L95.5 119.2L95.9 117.0L94.3 115.5L96.5 115.2ZM86.2 122.6L87.1 124.6L89.3 124.9L87.7 126.4L88.1 128.6L86.2 127.5L84.2 128.6L84.7 126.4L83.0 124.9L85.2 124.6ZM96.0 110.4L96.9 112.5L99.1 112.7L97.5 114.2L97.9 116.4L96.0 115.3L94.0 116.4L94.5 114.2L92.8 112.7L95.1 112.5ZM74.4 107.4L75.4 109.4L77.6 109.7L75.9 111.2L76.4 113.4L74.4 112.3L72.5 113.4L72.9 111.2L71.3 109.7L73.5 109.4ZM74.8 132.4L75.7 134.4L77.9 134.6L76.3 136.2L76.7 138.3L74.8 137.2L72.8 138.3L73.3 136.2L71.6 134.6L73.8 134.4ZM94.4 106.2L95.3 108.3L97.5 108.5L95.9 110.0L96.3 112.2L94.4 111.1L92.4 112.2L92.9 110.0L91.2 108.5L93.4 108.3ZM75.4 117.8L76.3 119.8L78.5 120.1L76.9 121.6L77.3 123.8L75.4 122.7L73.4 123.8L73.9 121.6L72.2 120.1L74.4 119.8ZM83.7 120.3L84.6 122.3L86.8 122.6L85.2 124.1L85.6 126.3L83.7 125.2L81.7 126.3L82.2 124.1L80.5 122.6L82.8 122.3ZM72.3 92.7L73.3 94.7L75.5 95.0L73.8 96.5L74.3 98.6L72.3 97.6L70.4 98.6L70.8 96.5L69.2 95.0L71.4 94.7ZM72.3 95.2L73.2 97.2L75.4 97.5L73.8 99.0L74.2 101.1L72.3 100.1L70.3 101.1L70.8 99.0L69.1 97.5L71.4 97.2ZM82.7 95.1L83.7 97.1L85.9 97.4L84.2 98.9L84.7 101.1L82.7 100.0L80.8 101.1L81.2 98.9L79.6 97.4L81.8 97.1ZM66.6 122.2L67.5 124.2L69.7 124.5L68.1 126.0L68.5 128.2L66.6 127.1L64.6 128.2L65.0 126.0L63.4 124.5L65.6 124.2ZM73.9 129.7L74.8 131.7L77.0 132.0L75.4 133.5L75.8 135.7L73.9 134.6L71.9 135.7L72.4 133.5L70.7 132.0L73.0 131.7ZM80.8 133.1L81.7 135.1L83.9 135.4L82.3 136.9L82.7 139.1L80.8 138.0L78.8 139.1L79.3 136.9L77.6 135.4L79.8 135.1ZM69.2 115.8L70.2 117.8L72.4 118.0L70.7 119.6L71.2 121.7L69.2 120.7L67.3 121.7L67.7 119.6L66.1 118.0L68.3 117.8ZM91.0 95.4L92.0 97.4L94.2 97.7L92.5 99.2L93.0 101.4L91.0 100.3L89.1 101.4L89.5 99.2L87.9 97.7L90.1 97.4ZM96.3 100.0L97.2 102.0L99.4 102.3L97.8 103.8L98.2 106.0L96.3 104.9L94.3 106.0L94.8 103.8L93.1 102.3L95.3 102.0ZM90.4 139.0L91.3 141.0L93.5 141.3L91.9 142.8L92.3 144.9L90.4 143.9L88.5 144.9L88.9 142.8L87.3 141.3L89.5 141.0ZM91.9 107.0L92.9 109.1L95.1 109.3L93.4 110.8L93.9 113.0L91.9 111.9L90.0 113.0L90.4 110.8L88.8 109.3L91.0 109.1ZM67.6 116.4L68.6 118.4L70.8 118.7L69.1 120.2L69.6 122.4L67.6 121.3L65.7 122.4L66.1 120.2L64.5 118.7L66.7 118.4ZM95.3 105.8L96.2 107.8L98.4 108.1L96.8 109.6L97.2 111.8L95.3 110.7L93.3 111.8L93.8 109.6L92.1 108.1L94.3 107.8ZM94.4 98.5L95.3 100.5L97.5 100.8L95.9 102.3L96.3 104.5L94.4 103.4L92.4 104.5L92.9 102.3L91.2 100.8L93.5 100.5ZM95.0 93.2L95.9 95.2L98.1 95.5L96.5 97.0L96.9 99.2L95.0 98.1L93.0 99.2L93.4 97.0L91.8 95.5L94.0 95.2ZM74.7 135.0L75.7 137.1L77.9 137.3L76.3 138.8L76.7 141.0L74.7 139.9L72.8 141.0L73.2 138.8L71.6 137.3L73.8 137.1ZM91.3 135.2L92.3 137.3L94.5 137.5L92.8 139.0L93.3 141.2L91.3 140.1L89.4 141.2L89.8 139.0L88.2 137.5L90.4 137.3ZM92.6 127.5L93.5 129.5L95.7 129.8L94.1 131.3L94.5 133.5L92.6 132.4L90.6 133.5L91.1 131.3L89.4 129.8L91.7 129.5ZM87.4 100.3L88.4 102.3L90.6 102.5L89.0 104.0L89.4 106.2L87.4 105.1L85.5 106.2L85.9 104.0L84.3 102.5L86.5 102.3ZM78.7 99.3L79.6 101.3L81.8 101.6L80.2 103.1L80.6 105.2L78.7 104.2L76.8 105.2L77.2 103.1L75.6 101.6L77.8 101.3ZM88.3 123.8L89.2 125.8L91.4 126.0L89.8 127.5L90.2 129.7L88.3 128.6L86.4 129.7L86.8 127.5L85.2 126.0L87.4 125.8ZM72.6 94.8L73.5 96.8L75.7 97.1L74.1 98.6L74.5 100.8L72.6 99.7L70.6 100.8L71.1 98.6L69.4 97.1L71.7 96.8ZM96.8 130.5L97.7 132.5L99.9 132.8L98.3 134.3L98.7 136.5L96.8 135.4L94.8 136.5L95.2 134.3L93.6 132.8L95.8 132.5ZM55.2 127.1L56.1 129.1L58.3 129.4L56.7 130.9L57.1 133.1L55.2 132.0L53.2 133.1L53.7 130.9L52.0 129.4L54.3 129.1ZM62.4 124.1L63.4 126.1L65.6 126.4L63.9 127.9L64.4 130.1L62.4 129.0L60.5 130.1L60.9 127.9L59.3 126.4L61.5 126.1ZM51.5 120.2L52.4 122.2L54.6 122.5L53.0 124.0L53.4 126.2L51.5 125.1L49.6 126.2L50.0 124.0L48.4 122.5L50.6 122.2ZM48.2 109.5L49.1 111.5L51.3 111.8L49.7 113.3L50.1 115.5L48.2 114.4L46.3 115.5L46.7 113.3L45.1 111.8L47.3 111.5ZM57.5 122.9L58.4 124.9L60.7 125.1L59.0 126.7L59.5 128.8L57.5 127.8L55.6 128.8L56.0 126.7L54.4 125.1L56.6 124.9ZM55.7 110.8L56.6 112.8L58.8 113.1L57.2 114.6L57.6 116.8L55.7 115.7L53.8 116.8L54.2 114.6L52.6 113.1L54.8 112.8ZM50.5 113.4L51.4 115.4L53.7 115.7L52.0 117.2L52.5 119.4L50.5 118.3L48.6 119.4L49.0 117.2L47.4 115.7L49.6 115.4ZM45.0 117.5L45.9 119.5L48.1 119.8L46.5 121.3L46.9 123.5L45.0 122.4L43.1 123.5L43.5 121.3L41.9 119.8L44.1 119.5ZM61.9 122.2L62.8 124.2L65.0 124.5L63.4 126.0L63.8 128.2L61.9 127.1L60.0 128.2L60.4 126.0L58.8 124.5L61.0 124.2ZM51.6 129.5L52.6 131.5L54.8 131.8L53.1 133.3L53.6 135.5L51.6 134.4L49.7 135.5L50.1 133.3L48.5 131.8L50.7 131.5ZM47.6 109.0L48.5 111.0L50.7 111.2L49.1 112.7L49.5 114.9L47.6 113.8L45.7 114.9L46.1 112.7L44.5 111.2L46.7 111.0ZM54.7 125.7L55.6 127.7L57.8 128.0L56.2 129.5L56.6 131.7L54.7 130.6L52.7 131.7L53.2 129.5L51.6 128.0L53.8 127.7ZM57.6 123.6L58.5 125.6L60.7 125.9L59.1 127.4L59.5 129.6L57.6 128.5L55.6 129.6L56.1 127.4L54.4 125.9L56.6 125.6ZM58.5 133.6L59.4 135.6L61.6 135.8L60.0 137.4L60.4 139.5L58.5 138.5L56.5 139.5L57.0 137.4L55.3 135.8L57.5 135.6ZM47.7 125.5L48.7 127.6L50.9 127.8L49.2 129.3L49.7 131.5L47.7 130.4L45.8 131.5L46.2 129.3L44.6 127.8L46.8 127.6ZM53.5 116.4L54.4 118.4L56.6 118.6L55.0 120.1L55.4 122.3L53.5 121.2L51.6 122.3L52.0 120.1L50.4 118.6L52.6 118.4ZM51.9 127.8L52.8 129.8L55.0 130.0L53.4 131.5L53.8 133.7L51.9 132.6L50.0 133.7L50.4 131.5L48.8 130.0L51.0 129.8ZM63.8 139.9L64.7 141.9L66.9 142.2L65.3 143.7L65.7 145.9L63.8 144.8L61.8 145.9L62.3 143.7L60.6 142.2L62.8 141.9ZM48.6 130.7L49.5 132.7L51.7 133.0L50.1 134.5L50.5 136.6L48.6 135.6L46.7 136.6L47.1 134.5L45.5 133.0L47.7 132.7ZM43.2 111.1L44.1 113.2L46.3 113.4L44.7 114.9L45.1 117.1L43.2 116.0L41.2 117.1L41.7 114.9L40.0 113.4L42.2 113.2ZM54.3 138.5L55.2 140.6L57.4 140.8L55.8 142.3L56.2 144.5L54.3 143.4L52.3 144.5L52.8 142.3L51.1 140.8L53.3 140.6ZM45.8 134.7L46.8 136.8L49.0 137.0L47.3 138.5L47.8 140.7L45.8 139.6L43.9 140.7L44.3 138.5L42.7 137.0L44.9 136.8ZM63.2 119.3L64.1 121.3L66.3 121.6L64.7 123.1L65.1 125.3L63.2 124.2L61.3 125.3L61.7 123.1L60.1 121.6L62.3 121.3ZM58.6 137.6L59.6 139.6L61.8 139.8L60.1 141.4L60.6 143.5L58.6 142.4L56.7 143.5L57.1 141.4L55.5 139.8L57.7 139.6ZM50.9 132.5L51.8 134.6L54.1 134.8L52.4 136.3L52.9 138.5L50.9 137.4L49.0 138.5L49.4 136.3L47.8 134.8L50.0 134.6ZM59.7 128.9L60.6 130.9L62.8 131.2L61.2 132.7L61.6 134.9L59.7 133.8L57.7 134.9L58.2 132.7L56.5 131.2L58.7 130.9ZM62.6 139.2L63.5 141.2L65.7 141.5L64.1 143.0L64.5 145.2L62.6 144.1L60.6 145.2L61.0 143.0L59.4 141.5L61.6 141.2ZM65.0 128.1L66.0 130.1L68.2 130.4L66.5 131.9L67.0 134.1L65.0 133.0L63.1 134.1L63.5 131.9L61.9 130.4L64.1 130.1ZM46.2 117.2L47.2 119.2L49.4 119.5L47.7 121.0L48.2 123.2L46.2 122.1L44.3 123.2L44.7 121.0L43.1 119.5L45.3 119.2ZM47.2 128.1L48.2 130.1L50.4 130.3L48.7 131.9L49.2 134.0L47.2 132.9L45.3 134.0L45.7 131.9L44.1 130.3L46.3 130.1ZM60.2 110.5L61.1 112.5L63.3 112.8L61.7 114.3L62.1 116.4L60.2 115.4L58.2 116.4L58.7 114.3L57.0 112.8L59.3 112.5ZM58.4 133.1L59.3 135.1L61.5 135.4L59.9 136.9L60.3 139.1L58.4 138.0L56.4 139.1L56.9 136.9L55.2 135.4L57.4 135.1ZM50.4 126.2L51.3 128.2L53.5 128.5L51.9 130.0L52.3 132.2L50.4 131.1L48.4 132.2L48.8 130.0L47.2 128.5L49.4 128.2ZM46.0 133.5L46.9 135.5L49.1 135.8L47.5 137.3L47.9 139.5L46.0 138.4L44.0 139.5L44.4 137.3L42.8 135.8L45.0 135.5ZM43.0 142.1L43.9 144.1L46.1 144.3L44.5 145.9L44.9 148.0L43.0 146.9L41.0 148.0L41.5 145.9L39.8 144.3L42.0 144.1ZM61.4 130.1L62.3 132.1L64.5 132.3L62.9 133.9L63.3 136.0L61.4 135.0L59.5 136.0L59.9 133.9L58.3 132.3L60.5 132.1ZM48.4 139.7L49.4 141.8L51.6 142.0L49.9 143.5L50.4 145.7L48.4 144.6L46.5 145.7L46.9 143.5L45.3 142.0L47.5 141.8ZM65.0 113.4L66.0 115.4L68.2 115.7L66.5 117.2L67.0 119.4L65.0 118.3L63.1 119.4L63.5 117.2L61.9 115.7L64.1 115.4ZM60.6 137.3L61.5 139.3L63.8 139.6L62.1 141.1L62.6 143.3L60.6 142.2L58.7 143.3L59.1 141.1L57.5 139.6L59.7 139.3ZM57.8 132.5L58.8 134.5L61.0 134.8L59.3 136.3L59.8 138.5L57.8 137.4L55.9 138.5L56.3 136.3L54.7 134.8L56.9 134.5ZM52.7 140.1L53.6 142.1L55.8 142.4L54.2 143.9L54.6 146.1L52.7 145.0L50.7 146.1L51.2 143.9L49.5 142.4L51.8 142.1ZM65.3 121.7L66.2 123.7L68.4 124.0L66.8 125.5L67.2 127.7L65.3 126.6L63.4 127.7L63.8 125.5L62.2 124.0L64.4 123.7ZM61.3 123.4L62.2 125.4L64.4 125.7L62.8 127.2L63.2 129.4L61.3 128.3L59.3 129.4L59.8 127.2L58.1 125.7L60.3 125.4ZM46.0 119.8L46.9 121.8L49.1 122.0L47.5 123.6L47.9 125.7L46.0 124.6L44.0 125.7L44.4 123.6L42.8 122.0L45.0 121.8ZM45.0 139.6L46.0 141.6L48.2 141.9L46.5 143.4L47.0 145.6L45.0 144.5L43.1 145.6L43.5 143.4L41.9 141.9L44.1 141.6ZM65.0 112.8L66.0 114.8L68.2 115.0L66.5 116.5L67.0 118.7L65.0 117.6L63.1 118.7L63.5 116.5L61.9 115.0L64.1 114.8ZM56.4 122.6L57.3 124.6L59.6 124.9L57.9 126.4L58.4 128.5L56.4 127.5L54.5 128.5L54.9 126.4L53.3 124.9L55.5 124.6ZM44.8 118.7L45.8 120.8L48.0 121.0L46.3 122.5L46.8 124.7L44.8 123.6L42.9 124.7L43.3 122.5L41.7 121.0L43.9 120.8ZM48.0 134.2L48.9 136.2L51.1 136.5L49.5 138.0L49.9 140.2L48.0 139.1L46.0 140.2L46.5 138.0L44.8 136.5L47.0 136.2ZM42.1 115.2L43.0 117.2L45.2 117.4L43.6 118.9L44.0 121.1L42.1 120.0L40.2 121.1L40.6 118.9L39.0 117.4L41.2 117.2ZM82.7 125.2L83.6 127.3L85.8 127.5L84.2 129.0L84.6 131.2L82.7 130.1L80.7 131.2L81.2 129.0L79.5 127.5L81.7 127.3ZM77.4 117.8L78.3 119.9L80.5 120.1L78.9 121.6L79.3 123.8L77.4 122.7L75.4 123.8L75.8 121.6L74.2 120.1L76.4 119.9ZM86.4 120.6L87.4 122.6L89.6 122.9L87.9 124.4L88.4 126.6L86.4 125.5L84.5 126.6L84.9 124.4L83.3 122.9L85.5 122.6ZM82.1 133.2L83.0 135.3L85.2 135.5L83.6 137.0L84.0 139.2L82.1 138.1L80.2 139.2L80.6 137.0L79.0 135.5L81.2 135.3ZM82.6 133.9L83.6 135.9L85.8 136.2L84.2 137.7L84.6 139.9L82.6 138.8L80.7 139.9L81.1 137.7L79.5 136.2L81.7 135.9ZM83.9 135.3L84.9 137.3L87.1 137.6L85.4 139.1L85.9 141.3L83.9 140.2L82.0 141.3L82.4 139.1L80.8 137.6L83.0 137.3ZM87.3 112.4L88.2 114.4L90.4 114.7L88.8 116.2L89.2 118.4L87.3 117.3L85.3 118.4L85.7 116.2L84.1 114.7L86.3 114.4ZM92.7 123.2L93.6 125.3L95.8 125.5L94.2 127.0L94.6 129.2L92.7 128.1L90.7 129.2L91.2 127.0L89.5 125.5L91.7 125.3ZM70.2 125.5L71.2 127.5L73.4 127.8L71.8 129.3L72.2 131.5L70.2 130.4L68.3 131.5L68.7 129.3L67.1 127.8L69.3 127.5ZM85.1 115.7L86.0 117.7L88.2 117.9L86.6 119.5L87.0 121.6L85.1 120.5L83.1 121.6L83.6 119.5L81.9 117.9L84.2 117.7ZM79.7 128.5L80.7 130.5L82.9 130.8L81.3 132.3L81.7 134.5L79.7 133.4L77.8 134.5L78.2 132.3L76.6 130.8L78.8 130.5ZM93.9 132.7L94.8 134.7L97.0 135.0L95.4 136.5L95.8 138.7L93.9 137.6L91.9 138.7L92.4 136.5L90.7 135.0L93.0 134.7ZM92.6 132.5L93.5 134.6L95.7 134.8L94.1 136.3L94.5 138.5L92.6 137.4L90.6 138.5L91.1 136.3L89.4 134.8L91.6 134.6ZM66.6 119.6L67.5 121.6L69.7 121.9L68.1 123.4L68.5 125.6L66.6 124.5L64.7 125.6L65.1 123.4L63.5 121.9L65.7 121.6ZM85.3 105.9L86.2 107.9L88.4 108.2L86.8 109.7L87.3 111.9L85.3 110.8L83.4 111.9L83.8 109.7L82.2 108.2L84.4 107.9ZM89.4 130.9L90.3 133.0L92.5 133.2L90.9 134.7L91.3 136.9L89.4 135.8L87.5 136.9L87.9 134.7L86.3 133.2L88.5 133.0ZM78.6 122.0L79.5 124.1L81.7 124.3L80.1 125.8L80.5 128.0L78.6 126.9L76.6 128.0L77.1 125.8L75.4 124.3L77.6 124.1ZM77.4 124.6L78.4 126.6L80.6 126.9L78.9 128.4L79.4 130.5L77.4 129.5L75.5 130.5L75.9 128.4L74.3 126.9L76.5 126.6ZM83.7 124.6L84.6 126.7L86.9 126.9L85.2 128.4L85.7 130.6L83.7 129.5L81.8 130.6L82.2 128.4L80.6 126.9L82.8 126.7ZM76.8 127.4L77.8 129.4L80.0 129.7L78.4 131.2L78.8 133.4L76.8 132.3L74.9 133.4L75.3 131.2L73.7 129.7L75.9 129.4ZM81.6 131.4L82.5 133.4L84.8 133.6L83.1 135.1L83.6 137.3L81.6 136.2L79.7 137.3L80.1 135.1L78.5 133.6L80.7 133.4ZM86.2 114.3L87.1 116.3L89.3 116.6L87.7 118.1L88.1 120.3L86.2 119.2L84.3 120.3L84.7 118.1L83.1 116.6L85.3 116.3ZM73.9 125.2L74.8 127.2L77.0 127.5L75.4 129.0L75.8 131.2L73.9 130.1L72.0 131.2L72.4 129.0L70.8 127.5L73.0 127.2ZM80.6 128.0L81.5 130.0L83.7 130.3L82.1 131.8L82.5 134.0L80.6 132.9L78.7 134.0L79.1 131.8L77.5 130.3L79.7 130.0ZM89.6 124.8L90.6 126.9L92.8 127.1L91.2 128.6L91.6 130.8L89.6 129.7L87.7 130.8L88.1 128.6L86.5 127.1L88.7 126.9ZM72.2 116.3L73.1 118.4L75.3 118.6L73.7 120.1L74.1 122.3L72.2 121.2L70.3 122.3L70.7 120.1L69.1 118.6L71.3 118.4ZM88.0 117.3L88.9 119.4L91.1 119.6L89.5 121.1L89.9 123.3L88.0 122.2L86.1 123.3L86.5 121.1L84.9 119.6L87.1 119.4ZM91.8 124.1L92.7 126.1L94.9 126.3L93.3 127.9L93.7 130.0L91.8 128.9L89.8 130.0L90.3 127.9L88.6 126.3L90.8 126.1ZM87.6 118.5L88.6 120.5L90.8 120.8L89.1 122.3L89.6 124.5L87.6 123.4L85.7 124.5L86.1 122.3L84.5 120.8L86.7 120.5ZM83.3 104.0L84.2 106.0L86.4 106.3L84.8 107.8L85.2 109.9L83.3 108.9L81.4 109.9L81.8 107.8L80.2 106.3L82.4 106.0ZM126.0 134.5L126.9 136.6L129.1 136.8L127.5 138.3L127.9 140.5L126.0 139.4L124.0 140.5L124.5 138.3L122.8 136.8L125.0 136.6ZM122.5 130.0L123.4 132.0L125.7 132.3L124.0 133.8L124.5 136.0L122.5 134.9L120.6 136.0L121.0 133.8L119.4 132.3L121.6 132.0ZM126.7 132.9L127.7 134.9L129.9 135.2L128.2 136.7L128.7 138.9L126.7 137.8L124.8 138.9L125.2 136.7L123.6 135.2L125.8 134.9ZM123.0 134.9L123.9 136.9L126.1 137.1L124.5 138.7L124.9 140.8L123.0 139.7L121.0 140.8L121.5 138.7L119.8 137.1L122.0 136.9ZM118.8 136.3L119.7 138.3L121.9 138.5L120.3 140.1L120.7 142.2L118.8 141.2L116.8 142.2L117.3 140.1L115.6 138.5L117.8 138.3ZM120.0 130.1L120.9 132.1L123.1 132.3L121.5 133.9L121.9 136.0L120.0 134.9L118.0 136.0L118.5 133.9L116.8 132.3L119.1 132.1ZM133.7 129.5L134.6 131.5L136.8 131.8L135.2 133.3L135.6 135.5L133.7 134.4L131.7 135.5L132.2 133.3L130.5 131.8L132.7 131.5ZM118.7 132.9L119.7 135.0L121.9 135.2L120.2 136.7L120.7 138.9L118.7 137.8L116.8 138.9L117.2 136.7L115.6 135.2L117.8 135.0ZM122.4 129.1L123.3 131.1L125.5 131.4L123.9 132.9L124.3 135.1L122.4 134.0L120.5 135.1L120.9 132.9L119.3 131.4L121.5 131.1ZM123.5 130.3L124.4 132.3L126.6 132.6L125.0 134.1L125.4 136.3L123.5 135.2L121.6 136.3L122.0 134.1L120.4 132.6L122.6 132.3ZM122.1 129.4L123.1 131.4L125.3 131.7L123.6 133.2L124.1 135.4L122.1 134.3L120.2 135.4L120.6 133.2L119.0 131.7L121.2 131.4ZM135.1 130.5L136.0 132.6L138.2 132.8L136.6 134.3L137.0 136.5L135.1 135.4L133.1 136.5L133.6 134.3L131.9 132.8L134.1 132.6ZM131.9 128.2L132.8 130.2L135.0 130.5L133.4 132.0L133.8 134.2L131.9 133.1L129.9 134.2L130.4 132.0L128.7 130.5L130.9 130.2ZM129.7 128.7L130.7 130.7L132.9 131.0L131.2 132.5L131.7 134.7L129.7 133.6L127.8 134.7L128.2 132.5L126.6 131.0L128.8 130.7ZM124.7 134.7L125.6 136.8L127.8 137.0L126.2 138.5L126.6 140.7L124.7 139.6L122.8 140.7L123.2 138.5L121.6 137.0L123.8 136.8ZM124.3 126.4L125.3 128.4L127.5 128.7L125.9 130.2L126.3 132.4L124.3 131.3L122.4 132.4L122.8 130.2L121.2 128.7L123.4 128.4ZM124.2 132.2L125.2 134.2L127.4 134.5L125.7 136.0L126.2 138.2L124.2 137.1L122.3 138.2L122.7 136.0L121.1 134.5L123.3 134.2ZM129.9 129.5L130.8 131.5L133.0 131.8L131.4 133.3L131.8 135.5L129.9 134.4L127.9 135.5L128.4 133.3L126.7 131.8L128.9 131.5ZM125.5 132.9L126.4 134.9L128.6 135.2L127.0 136.7L127.4 138.9L125.5 137.8L123.6 138.9L124.0 136.7L122.4 135.2L124.6 134.9ZM118.8 132.4L119.7 134.4L121.9 134.6L120.3 136.1L120.7 138.3L118.8 137.2L116.8 138.3L117.2 136.1L115.6 134.6L117.8 134.4ZM122.9 134.1L123.8 136.1L126.0 136.4L124.4 137.9L124.8 140.1L122.9 139.0L120.9 140.1L121.4 137.9L119.7 136.4L121.9 136.1ZM126.4 132.2L127.4 134.2L129.6 134.4L128.0 136.0L128.4 138.1L126.4 137.1L124.5 138.1L124.9 136.0L123.3 134.4L125.5 134.2ZM114.9 132.4L115.9 134.4L118.1 134.6L116.4 136.1L116.9 138.3L114.9 137.2L113.0 138.3L113.4 136.1L111.8 134.6L114.0 134.4ZM125.1 129.7L126.1 131.7L128.3 132.0L126.7 133.5L127.1 135.6L125.1 134.6L123.2 135.6L123.6 133.5L122.0 132.0L124.2 131.7ZM124.4 128.7L125.4 130.7L127.6 130.9L126.0 132.4L126.4 134.6L124.4 133.5L122.5 134.6L122.9 132.4L121.3 130.9L123.5 130.7ZM127.9 134.8L128.8 136.8L131.0 137.1L129.4 138.6L129.8 140.8L127.9 139.7L125.9 140.8L126.4 138.6L124.7 137.1L126.9 136.8ZM130.0 131.0L130.9 133.1L133.1 133.3L131.5 134.8L131.9 137.0L130.0 135.9L128.0 137.0L128.5 134.8L126.8 133.3L129.1 133.1ZM135.4 135.4L136.3 137.5L138.5 137.7L136.9 139.2L137.3 141.4L135.4 140.3L133.5 141.4L133.9 139.2L132.3 137.7L134.5 137.5ZM122.3 132.3L123.2 134.3L125.4 134.5L123.8 136.0L124.2 138.2L122.3 137.1L120.3 138.2L120.8 136.0L119.1 134.5L121.3 134.3ZM118.9 132.3L119.8 134.3L122.0 134.6L120.4 136.1L120.8 138.3L118.9 137.2L116.9 138.3L117.3 136.1L115.7 134.6L117.9 134.3ZM130.6 136.8L131.5 138.8L133.7 139.0L132.1 140.5L132.5 142.7L130.6 141.6L128.6 142.7L129.1 140.5L127.4 139.0L129.6 138.8ZM124.9 127.0L125.8 129.0L128.0 129.3L126.4 130.8L126.8 132.9L124.9 131.9L123.0 132.9L123.4 130.8L121.8 129.3L124.0 129.0ZM126.2 137.1L127.1 139.1L129.3 139.3L127.7 140.8L128.1 143.0L126.2 141.9L124.2 143.0L124.6 140.8L123.0 139.3L125.2 139.1ZM127.7 136.8L128.7 138.8L130.9 139.1L129.2 140.6L129.7 142.8L127.7 141.7L125.8 142.8L126.2 140.6L124.6 139.1L126.8 138.8ZM131.1 137.7L132.1 139.7L134.3 140.0L132.6 141.5L133.1 143.7L131.1 142.6L129.2 143.7L129.6 141.5L128.0 140.0L130.2 139.7ZM130.0 130.6L130.9 132.6L133.1 132.9L131.5 134.4L131.9 136.5L130.0 135.5L128.1 136.5L128.5 134.4L126.9 132.9L129.1 132.6ZM129.2 140.8L130.2 142.8L132.4 143.1L130.7 144.6L131.2 146.8L129.2 145.7L127.3 146.8L127.7 144.6L126.1 143.1L128.3 142.8ZM124.4 126.8L125.3 128.8L127.5 129.0L125.9 130.6L126.4 132.7L124.4 131.6L122.5 132.7L122.9 130.6L121.3 129.0L123.5 128.8ZM137.5 134.0L138.5 136.0L140.7 136.3L139.0 137.8L139.5 140.0L137.5 138.9L135.6 140.0L136.0 137.8L134.4 136.3L136.6 136.0ZM123.9 130.8L124.8 132.8L127.0 133.0L125.4 134.5L125.8 136.7L123.9 135.6L121.9 136.7L122.4 134.5L120.7 133.0L122.9 132.8ZM89.2 108.9L90.2 110.9L92.4 111.2L90.7 112.7L91.2 114.9L89.2 113.8L87.3 114.9L87.7 112.7L86.1 111.2L88.3 110.9ZM101.0 100.9L101.9 102.9L104.1 103.2L102.5 104.7L102.9 106.9L101.0 105.8L99.1 106.9L99.5 104.7L97.9 103.2L100.1 102.9ZM97.0 102.1L98.0 104.2L100.2 104.4L98.5 105.9L99.0 108.1L97.0 107.0L95.1 108.1L95.5 105.9L93.9 104.4L96.1 104.2ZM107.5 103.6L108.4 105.6L110.6 105.9L109.0 107.4L109.4 109.6L107.5 108.5L105.5 109.6L106.0 107.4L104.3 105.9L106.5 105.6ZM109.7 99.7L110.6 101.7L112.8 102.0L111.2 103.5L111.6 105.6L109.7 104.6L107.7 105.6L108.2 103.5L106.5 102.0L108.7 101.7ZM95.7 101.8L96.6 103.8L98.9 104.1L97.2 105.6L97.7 107.8L95.7 106.7L93.8 107.8L94.2 105.6L92.6 104.1L94.8 103.8ZM96.2 104.2L97.2 106.2L99.4 106.4L97.7 107.9L98.2 110.1L96.2 109.0L94.3 110.1L94.7 107.9L93.1 106.4L95.3 106.2ZM107.2 112.0L108.1 114.0L110.3 114.2L108.7 115.7L109.1 117.9L107.2 116.8L105.2 117.9L105.7 115.7L104.0 114.2L106.2 114.0ZM92.5 112.4L93.4 114.4L95.6 114.6L94.0 116.2L94.4 118.3L92.5 117.3L90.6 118.3L91.0 116.2L89.4 114.6L91.6 114.4ZM100.7 114.2L101.6 116.3L103.8 116.5L102.2 118.0L102.6 120.2L100.7 119.1L98.7 120.2L99.2 118.0L97.5 116.5L99.7 116.3ZM98.8 99.7L99.8 101.7L102.0 102.0L100.3 103.5L100.8 105.6L98.8 104.6L96.9 105.6L97.3 103.5L95.7 102.0L97.9 101.7ZM105.5 108.4L106.5 110.5L108.7 110.7L107.0 112.2L107.5 114.4L105.5 113.3L103.6 114.4L104.0 112.2L102.4 110.7L104.6 110.5ZM96.8 104.8L97.7 106.9L99.9 107.1L98.3 108.6L98.7 110.8L96.8 109.7L94.9 110.8L95.3 108.6L93.7 107.1L95.9 106.9ZM100.9 106.6L101.8 108.6L104.1 108.8L102.4 110.4L102.9 112.5L100.9 111.5L99.0 112.5L99.4 110.4L97.8 108.8L100.0 108.6ZM88.0 97.5L88.9 99.5L91.1 99.7L89.5 101.3L89.9 103.4L88.0 102.4L86.1 103.4L86.5 101.3L84.9 99.7L87.1 99.5ZM100.4 106.3L101.3 108.3L103.5 108.5L101.9 110.0L102.3 112.2L100.4 111.1L98.4 112.2L98.9 110.0L97.2 108.5L99.5 108.3ZM96.3 94.1L97.3 96.2L99.5 96.4L97.8 97.9L98.3 100.1L96.3 99.0L94.4 100.1L94.8 97.9L93.2 96.4L95.4 96.2ZM109.4 102.9L110.3 104.9L112.5 105.1L110.9 106.6L111.3 108.8L109.4 107.7L107.5 108.8L107.9 106.6L106.3 105.1L108.5 104.9ZM92.7 114.3L93.6 116.3L95.8 116.5L94.2 118.1L94.6 120.2L92.7 119.2L90.7 120.2L91.2 118.1L89.5 116.5L91.7 116.3ZM107.9 110.9L108.9 112.9L111.1 113.2L109.4 114.7L109.9 116.9L107.9 115.8L106.0 116.9L106.4 114.7L104.8 113.2L107.0 112.9ZM165.9 91.4L166.9 93.4L169.1 93.7L167.4 95.2L167.9 97.4L165.9 96.3L164.0 97.4L164.4 95.2L162.8 93.7L165.0 93.4ZM159.6 89.8L160.5 91.8L162.7 92.1L161.1 93.6L161.5 95.8L159.6 94.7L157.7 95.8L158.1 93.6L156.5 92.1L158.7 91.8ZM164.2 91.6L165.2 93.6L167.4 93.9L165.8 95.4L166.2 97.6L164.2 96.5L162.3 97.6L162.7 95.4L161.1 93.9L163.3 93.6ZM164.7 86.7L165.6 88.7L167.8 89.0L166.2 90.5L166.6 92.6L164.7 91.6L162.7 92.6L163.2 90.5L161.5 89.0L163.7 88.7ZM160.9 88.7L161.8 90.7L164.0 91.0L162.4 92.5L162.8 94.7L160.9 93.6L158.9 94.7L159.4 92.5L157.7 91.0L160.0 90.7ZM162.3 87.1L163.2 89.1L165.5 89.4L163.8 90.9L164.3 93.0L162.3 92.0L160.4 93.0L160.8 90.9L159.2 89.4L161.4 89.1ZM156.6 86.1L157.5 88.1L159.8 88.3L158.1 89.8L158.6 92.0L156.6 90.9L154.7 92.0L155.1 89.8L153.5 88.3L155.7 88.1ZM164.1 89.7L165.0 91.7L167.2 91.9L165.6 93.5L166.0 95.6L164.1 94.6L162.1 95.6L162.6 93.5L160.9 91.9L163.1 91.7ZM165.0 84.0L166.0 86.1L168.2 86.3L166.5 87.8L167.0 90.0L165.0 88.9L163.1 90.0L163.5 87.8L161.9 86.3L164.1 86.1ZM161.5 92.4L162.5 94.4L164.7 94.7L163.0 96.2L163.5 98.3L161.5 97.3L159.6 98.3L160.0 96.2L158.4 94.7L160.6 94.4ZM156.1 86.5L157.1 88.5L159.3 88.7L157.6 90.2L158.1 92.4L156.1 91.3L154.2 92.4L154.6 90.2L153.0 88.7L155.2 88.5ZM157.2 93.3L158.1 95.4L160.3 95.6L158.7 97.1L159.1 99.3L157.2 98.2L155.2 99.3L155.7 97.1L154.0 95.6L156.2 95.4ZM163.1 88.0L164.0 90.0L166.2 90.3L164.6 91.8L165.0 93.9L163.1 92.9L161.2 93.9L161.6 91.8L160.0 90.3L162.2 90.0ZM163.5 89.4L164.5 91.4L166.7 91.7L165.0 93.2L165.5 95.4L163.5 94.3L161.6 95.4L162.0 93.2L160.4 91.7L162.6 91.4ZM166.2 93.2L167.1 95.2L169.3 95.5L167.7 97.0L168.1 99.2L166.2 98.1L164.2 99.2L164.7 97.0L163.0 95.5L165.2 95.2ZM166.2 90.7L167.1 92.7L169.3 93.0L167.7 94.5L168.1 96.7L166.2 95.6L164.3 96.7L164.7 94.5L163.1 93.0L165.3 92.7ZM165.7 92.1L166.6 94.2L168.8 94.4L167.2 95.9L167.6 98.1L165.7 97.0L163.7 98.1L164.2 95.9L162.5 94.4L164.7 94.2ZM167.1 84.2L168.0 86.2L170.2 86.5L168.6 88.0L169.0 90.2L167.1 89.1L165.1 90.2L165.6 88.0L163.9 86.5L166.1 86.2ZM164.2 89.9L165.1 92.0L167.3 92.2L165.7 93.7L166.1 95.9L164.2 94.8L162.3 95.9L162.7 93.7L161.1 92.2L163.3 92.0ZM163.6 89.0L164.5 91.0L166.7 91.2L165.1 92.7L165.5 94.9L163.6 93.8L161.6 94.9L162.1 92.7L160.4 91.2L162.6 91.0ZM162.7 91.2L163.7 93.2L165.9 93.5L164.2 95.0L164.7 97.2L162.7 96.1L160.8 97.2L161.2 95.0L159.6 93.5L161.8 93.2ZM163.7 90.1L164.6 92.1L166.8 92.4L165.2 93.9L165.6 96.1L163.7 95.0L161.8 96.1L162.2 93.9L160.6 92.4L162.8 92.1ZM234.8 92.6L235.7 94.6L237.9 94.8L236.3 96.3L236.7 98.5L234.8 97.4L232.8 98.5L233.3 96.3L231.6 94.8L233.9 94.6ZM235.8 91.2L236.7 93.3L238.9 93.5L237.3 95.0L237.7 97.2L235.8 96.1L233.8 97.2L234.2 95.0L232.6 93.5L234.8 93.3ZM236.5 93.6L237.4 95.6L239.6 95.9L238.0 97.4L238.4 99.5L236.5 98.5L234.5 99.5L234.9 97.4L233.3 95.9L235.5 95.6ZM232.6 90.9L233.5 92.9L235.7 93.1L234.1 94.6L234.6 96.8L232.6 95.7L230.7 96.8L231.1 94.6L229.5 93.1L231.7 92.9ZM236.6 94.3L237.5 96.3L239.7 96.5L238.1 98.0L238.5 100.2L236.6 99.1L234.7 100.2L235.1 98.0L233.5 96.5L235.7 96.3ZM244.5 97.9L245.5 99.9L247.7 100.1L246.0 101.6L246.5 103.8L244.5 102.7L242.6 103.8L243.0 101.6L241.4 100.1L243.6 99.9ZM235.7 94.5L236.6 96.5L238.8 96.7L237.2 98.2L237.6 100.4L235.7 99.3L233.7 100.4L234.1 98.2L232.5 96.7L234.7 96.5ZM235.0 93.7L235.9 95.7L238.1 96.0L236.5 97.5L236.9 99.7L235.0 98.6L233.0 99.7L233.5 97.5L231.8 96.0L234.0 95.7ZM122.9 100.4L123.8 102.4L126.0 102.7L124.4 104.2L124.8 106.4L122.9 105.3L121.0 106.4L121.4 104.2L119.8 102.7L122.0 102.4ZM121.3 105.6L122.2 107.7L124.4 107.9L122.8 109.4L123.2 111.6L121.3 110.5L119.3 111.6L119.8 109.4L118.1 107.9L120.3 107.7ZM128.9 112.4L129.8 114.5L132.0 114.7L130.4 116.2L130.8 118.4L128.9 117.3L126.9 118.4L127.4 116.2L125.7 114.7L127.9 114.5ZM117.1 104.8L118.1 106.8L120.3 107.0L118.7 108.5L119.1 110.7L117.1 109.6L115.2 110.7L115.6 108.5L114.0 107.0L116.2 106.8ZM122.8 91.1L123.7 93.1L125.9 93.3L124.3 94.9L124.7 97.0L122.8 95.9L120.8 97.0L121.2 94.9L119.6 93.3L121.8 93.1ZM123.2 90.8L124.1 92.9L126.3 93.1L124.7 94.6L125.1 96.8L123.2 95.7L121.3 96.8L121.7 94.6L120.1 93.1L122.3 92.9ZM124.8 117.1L125.8 119.1L128.0 119.4L126.3 120.9L126.8 123.1L124.8 122.0L122.9 123.1L123.3 120.9L121.7 119.4L123.9 119.1ZM132.8 111.6L133.8 113.6L136.0 113.9L134.3 115.4L134.8 117.6L132.8 116.5L130.9 117.6L131.3 115.4L129.7 113.9L131.9 113.6ZM132.2 91.4L133.1 93.4L135.3 93.7L133.7 95.2L134.1 97.4L132.2 96.3L130.2 97.4L130.7 95.2L129.0 93.7L131.2 93.4ZM127.5 101.6L128.4 103.6L130.6 103.8L129.0 105.3L129.4 107.5L127.5 106.4L125.5 107.5L126.0 105.3L124.3 103.8L126.6 103.6ZM127.6 94.5L128.5 96.5L130.7 96.8L129.1 98.3L129.5 100.4L127.6 99.4L125.7 100.4L126.1 98.3L124.5 96.8L126.7 96.5ZM113.1 113.3L114.0 115.3L116.2 115.6L114.6 117.1L115.0 119.3L113.1 118.2L111.2 119.3L111.6 117.1L110.0 115.6L112.2 115.3ZM132.2 102.5L133.1 104.6L135.3 104.8L133.7 106.3L134.1 108.5L132.2 107.4L130.2 108.5L130.6 106.3L129.0 104.8L131.2 104.6ZM122.1 101.8L123.0 103.8L125.2 104.1L123.6 105.6L124.0 107.8L122.1 106.7L120.1 107.8L120.5 105.6L118.9 104.1L121.1 103.8ZM117.6 106.5L118.5 108.5L120.7 108.7L119.1 110.2L119.5 112.4L117.6 111.3L115.6 112.4L116.1 110.2L114.4 108.7L116.6 108.5Z" fill="#161616"/>
<path d="M99.6 31.7L104.2 40.0L94.9 40.0ZM106.0 42.9L110.7 51.2L101.3 51.2ZM105.5 52.0L110.2 60.3L100.8 60.3ZM124.8 45.7L129.4 54.0L120.1 54.0ZM146.3 65.7L151.0 74.0L141.7 74.0ZM128.1 97.5L132.8 105.8L123.4 105.8ZM49.4 105.0L54.0 113.3L44.8 113.3ZM92.1 112.0L96.8 120.3L87.4 120.3ZM101.1 110.8L105.8 119.1L96.4 119.1ZM239.7 112.3L244.3 120.6L235.0 120.6ZM130.1 158.6L134.8 166.9L125.4 166.9ZM209.8 165.7L214.5 174.0L205.2 174.0Z" fill="#3d40cf"/>
</g></g>
<rect x="40.65" y="15.50" width="23.70" height="4.80" fill="#1c1c1c"/>
<rect x="40.65" y="232.40" width="23.70" height="4.90" fill="#1c1c1c"/>
<rect x="88.04" y="15.50" width="23.70" height="4.80" fill="#1c1c1c"/>
<rect x="88.04" y="232.40" width="23.70" height="4.90" fill="#1c1c1c"/>
<rect x="135.43" y="15.50" width="23.69" height="4.80" fill="#1c1c1c"/>
<rect x="135.43" y="232.40" width="23.69" height="4.90" fill="#1c1c1c"/>
<rect x="182.82" y="15.50" width="23.69" height="4.80" fill="#1c1c1c"/>
<rect x="182.82" y="232.40" width="23.69" height="4.90" fill="#1c1c1c"/>
<rect x="230.21" y="15.50" width="23.70" height="4.80" fill="#1c1c1c"/>
<rect x="230.21" y="232.40" width="23.70" height="4.90" fill="#1c1c1c"/>
<rect x="35.50" y="20.30" width="5.15" height="27.38" fill="#1c1c1c"/>
<rect x="277.60" y="20.30" width="4.85" height="27.38" fill="#1c1c1c"/>
<rect x="35.50" y="74.79" width="5.15" height="26.85" fill="#1c1c1c"/>
<rect x="277.60" y="74.79" width="4.85" height="26.85" fill="#1c1c1c"/>
<rect x="35.50" y="128.24" width="5.15" height="26.36" fill="#1c1c1c"/>
<rect x="277.60" y="128.24" width="4.85" height="26.36" fill="#1c1c1c"/>
<rect x="35.50" y="180.74" width="5.15" height="25.93" fill="#1c1c1c"/>
<rect x="277.60" y="180.74" width="4.85" height="25.93" fill="#1c1c1c"/>
<rect x="35.50" y="15.50" width="246.95" height="221.80" fill="none" stroke="#1c1c1c" stroke-width="0.75"/>
<path d="M35.50 20.30H282.45M35.50 232.40H282.45M40.65 15.50V237.30M277.60 15.50V237.30" fill="none" stroke="#1c1c1c" stroke-width="0.75"/>
<path d="M40.65 15.50V13.50M40.65 237.30V239.30M111.74 15.50V13.50M111.74 237.30V239.30M182.82 15.50V13.50M182.82 237.30V239.30M253.91 15.50V13.50M253.91 237.30V239.30M35.50 206.67H33.50M282.45 206.67H284.45M35.50 128.24H33.50M282.45 128.24H284.45M35.50 47.68H33.50M282.45 47.68H284.45" stroke="#1c1c1c" stroke-width="0.8" fill="none"/>
<text x="27" y="212.07" text-anchor="end" class="t14">24&#176;</text>
<text x="27" y="133.64" text-anchor="end" class="t14">27&#176;</text>
<text x="27" y="53.08" text-anchor="end" class="t14">30&#176;</text>
<g fill="#c9c9c9" stroke="#9a9a9a" stroke-width="0.8"><rect x="311.50" y="207.00" width="6.10" height="25.15"/><rect x="317.60" y="123.20" width="12.20" height="108.95"/><rect x="329.81" y="109.10" width="12.20" height="123.05"/><rect x="342.01" y="95.30" width="12.20" height="136.85"/><rect x="354.21" y="77.10" width="12.20" height="155.05"/><rect x="366.42" y="96.80" width="12.20" height="135.35"/><rect x="378.62" y="96.80" width="12.20" height="135.35"/><rect x="390.83" y="89.00" width="12.20" height="143.15"/><rect x="403.03" y="77.10" width="12.20" height="155.05"/><rect x="415.23" y="37.50" width="12.20" height="194.65"/><rect x="427.44" y="26.20" width="12.20" height="205.95"/><rect x="439.64" y="28.90" width="12.20" height="203.25"/><rect x="451.85" y="91.10" width="12.20" height="141.05"/><rect x="464.05" y="144.10" width="12.20" height="88.05"/><rect x="476.25" y="159.10" width="12.20" height="73.05"/><rect x="488.46" y="163.30" width="12.20" height="68.85"/><rect x="500.66" y="179.50" width="12.20" height="52.65"/><rect x="512.87" y="184.30" width="12.20" height="47.85"/><rect x="525.07" y="200.10" width="12.20" height="32.05"/><rect x="537.27" y="207.00" width="12.20" height="25.15"/><rect x="549.48" y="210.00" width="12.20" height="22.15"/><rect x="561.68" y="208.80" width="12.20" height="23.35"/><rect x="573.89" y="212.10" width="12.20" height="20.05"/><rect x="586.09" y="210.90" width="12.20" height="21.25"/><rect x="598.29" y="210.90" width="12.20" height="21.25"/><rect x="610.50" y="212.10" width="6.10" height="20.05"/></g>
<path d="M311.50 232.15H304.10M616.60 232.15H624.00M311.50 221.88H307.50M616.60 221.88H620.60M311.50 211.61H307.50M616.60 211.61H620.60M311.50 201.34H307.50M616.60 201.34H620.60M311.50 191.07H307.50M616.60 191.07H620.60M311.50 180.80H304.10M616.60 180.80H624.00M311.50 170.53H307.50M616.60 170.53H620.60M311.50 160.26H307.50M616.60 160.26H620.60M311.50 149.99H307.50M616.60 149.99H620.60M311.50 139.72H307.50M616.60 139.72H620.60M311.50 129.46H304.10M616.60 129.46H624.00M311.50 119.19H307.50M616.60 119.19H620.60M311.50 108.92H307.50M616.60 108.92H620.60M311.50 98.65H307.50M616.60 98.65H620.60M311.50 88.38H307.50M616.60 88.38H620.60M311.50 78.11H304.10M616.60 78.11H624.00M311.50 67.84H307.50M616.60 67.84H620.60M311.50 57.57H307.50M616.60 57.57H620.60M311.50 47.30H307.50M616.60 47.30H620.60M311.50 37.03H307.50M616.60 37.03H620.60M311.50 26.76H304.10M616.60 26.76H624.00M311.50 16.49H307.50M616.60 16.49H620.60M342.01 15.35V11.65M342.01 232.15V235.85M372.52 15.35V8.45M372.52 232.15V239.05M403.03 15.35V11.65M403.03 232.15V235.85M433.54 15.35V8.45M433.54 232.15V239.05M464.05 15.35V11.65M464.05 232.15V235.85M494.56 15.35V8.45M494.56 232.15V239.05M525.07 15.35V11.65M525.07 232.15V235.85M555.58 15.35V8.45M555.58 232.15V239.05M586.09 15.35V11.65M586.09 232.15V235.85" stroke="#1c1c1c" stroke-width="0.9" fill="none"/>
<rect x="311.50" y="15.35" width="305.10" height="216.80" fill="none" stroke="#161616" stroke-width="2.9"/>
<text x="666.5" y="237.35" text-anchor="end" class="t14">0</text>
<text x="666.5" y="186.00" text-anchor="end" class="t14">4500</text>
<text x="666.5" y="134.66" text-anchor="end" class="t14">9000</text>
<text x="666.5" y="83.31" text-anchor="end" class="t14">13500</text>
<text x="666.5" y="31.96" text-anchor="end" class="t14">18000</text>
<g transform="translate(0,254.10)">
<clipPath id="mc1"><rect x="40.65" y="20.30" width="236.95" height="212.10"/></clipPath>
<g clip-path="url(#mc1)">
<rect x="40.65" y="20.30" width="236.95" height="212.10" fill="#fff"/>
<path d="M39.0 136.1 L40.6 136.1 L45.0 136.1 L49.7 137.2 L53.2 139.6 L57.9 140.7 L61.4 140.2 L66.0 138.4 L69.5 137.2 L71.9 139.0 L75.4 139.6 L78.9 138.4 L82.4 137.2 L85.9 135.5 L89.4 133.1 L92.9 130.8 L95.0 127.0 L97.0 124.5 L101.0 124.6 L106.0 125.5 L109.5 127.5 L111.5 132.0 L113.0 138.0 L114.8 145.0 L116.8 150.9 L118.5 157.1 L120.3 159.7 L125.5 160.6 L130.8 162.4 L138.0 165.7 L141.3 164.4 L146.5 164.4 L151.8 165.7 L155.7 167.0 L161.0 169.7 L163.6 168.3 L167.6 167.7 L171.5 169.0 L176.8 170.3 L183.3 171.6 L188.6 172.3 L191.2 171.0 L195.1 169.7 L197.8 171.6 L201.6 172.3 L208.1 174.3 L216.7 178.9 L219.3 176.2 L221.3 175.6 L224.6 180.2 L226.5 178.9 L230.5 178.2 L232.4 176.2 L234.4 175.6 L237.0 176.9 L239.0 176.2 L241.0 174.9 L245.0 174.3 L250.2 174.3 L255.4 173.6 L260.7 174.3 L263.3 173.6 L265.9 172.3 L268.6 171.6 L273.8 171.6 L279.0 172.3 L279.0 234.0 L163.0 234.0 L162.3 231.4 L158.4 224.2 L154.4 218.9 L149.2 216.3 L141.3 216.3 L134.7 215.0 L128.1 212.5 L121.6 210.4 L118.1 208.4 L114.2 204.5 L109.0 199.2 L103.7 194.0 L99.8 188.7 L97.8 182.1 L97.1 175.6 L96.5 167.7 L95.8 163.6 L96.6 160.6 L97.5 158.0 L98.0 155.3 L98.8 152.7 L99.3 149.2 L98.8 146.1 L97.5 144.8 L96.2 145.2 L95.4 147.5 L94.6 150.5 L93.6 153.5 L92.0 157.0 L88.5 160.2 L84.0 162.6 L80.0 165.1 L77.4 167.7 L73.5 172.3 L69.5 176.9 L65.6 180.8 L61.7 183.4 L58.4 185.4 L56.4 187.4 L53.8 191.3 L51.1 193.3 L48.5 195.3 L45.9 197.9 L43.3 200.5 L40.6 203.8 L39.0 205.0 Z" fill="#e9e8e6" stroke="#333" stroke-width="0.6"/>
<path d="M41.2 203.6 L43.5 200.8 L46.5 198.2 L49.5 195.6 L51.6 194.6 L52.6 196.2 L50.5 198.6 L47.5 200.6 L44.0 202.8 L41.8 204.6 Z" fill="#fff" stroke="#333" stroke-width="0.5"/>
<path d="M70.8 137.5 L73.0 136.6 L76.2 137.1 L76.4 138.9 L73.5 139.5 L71.0 139.1 Z" fill="#fff" stroke="#333" stroke-width="0.5"/>
<path d="M96.0 147.5 L97.2 146.0 L98.3 147.2 L97.5 149.5 L96.3 149.4 Z" fill="#fff" stroke="#333" stroke-width="0.5"/>
<path d="M95 91l-46 26M44 105l95 -24M112 90l-20 44M159 95l-92 -8M80 112l-4 11M105 98l19 -4M130 139l-7 -4M105 107l10 -14M209 146l-53 -51M183 66l-61 40M124 141l-27 -13M86 86l30 5M122 135l-1 -4M192 130l-12 -81M102 146l-9 -19M123 137l10 14M87 142l-4 -41M51 110l-3 6M135 94l-10 39M157 98l-51 34M61 98l-14 3M84 117l-19 29M67 87l18 -14M120 88l40 7M108 63l4 43M81 102l31 -15M125 87l-17 5M85 126l6 11M83 143l4 -30M80 139l27 -47M179 131l-34 -34M123 112l48 22M129 131l2 -30M85 73l25 7M86 136l81 -47M105 98l-63 -12M131 101l-31 20M125 94l-33 39M128 135l-14 -39M186 73l-28 22M91 133l32 -3M83 143l19 -8M213 206l-101 -112M117 86l46 3M110 91l20 12M65 146l37 -55M130 103l-10 -43M157 98l-34 14M103 131l-30 -31M99 145l-14 -10M186 73l-25 18M57 97l8 15M103 134l-36 -47M112 90l-23 9M61 98l5 44M96 126l17 -33M97 99l14 -8M105 98l-3 -9M116 91l-1 1M118 137l50 -48M142 85l-25 5M135 94l-17 -4M129 135l-16 -42M134 139l16 -66M123 112l18 -33M119 152l75 -42M49 133l55 -41M43 119l74 20M153 83l-73 55M81 130l8 8M106 133l-58 -17M91 130l137 60M112 90l-7 8M162 111l-108 8M102 146l-2 -50M134 85l-31 49M117 90l1 45M114 85l-38 56M119 152l73 -22M107 99l16 14M186 73l-132 47M89 138l23 -48M111 89l20 12M90 88l66 9M122 106l-54 -15M87 109l-18 19M61 98l-15 -9M122 106l-5 28M111 89l-44 24M158 94l-71 6M252 179l-187 -66M70 86l-4 1M95 125l-47 -22M112 94l-28 46M101 91l-7 -0M110 91l-67 36M85 121l29 -26M135 94l-37 -2M66 142l170 -43M108 89l-32 53M81 102l12 -1M128 133l-16 -43M102 93l-7 -2M87 113l-2 -41M85 126l33 12M47 102l87 -16M142 85l-39 46M87 142l12 -29M55 139l107 -27M160 94l23 -28M75 116l-6 11M83 143l76 -49M83 92l4 17M109 93l-15 -3M159 93l-50 -0M134 85l-90 44M106 62l-31 31M80 112l14 -22M47 102l53 11M70 116l55 -26M54 116l16 1M162 111l-23 -30M67 113l74 -34M70 80l-26 32M49 118l124 39M103 134l-9 -40M74 132l87 -41M115 93l-11 8M100 131l83 -65M65 112l21 -27M90 144l-32 -23M104 55l12 35M104 129l19 6M183 66l-25 28M55 139l1 -0M109 93l8 45M122 106l-15 -15M141 74l-86 66M100 96l28 39M159 95l-78 15M105 93l-3 37M129 131l-19 -52M125 89l-13 5M76 114l15 -5M116 91l-74 -5M167 89l-55 17M159 94l-30 41M61 98l48 -5M44 94l30 51M75 141l16 -8M104 92l59 5M83 117l48 25M48 123l91 -42M170 134l-64 -72M75 141l31 -78M100 131l-0 14M116 91l-29 18M113 93l72 -19M64 138l12 -24M75 113l29 -12M54 127l49 1M95 129l-13 5M103 100l-17 -15M86 86l15 6M145 96l-96 20M101 91l2 36M93 127l27 -67M124 133l39 -22M112 163l17 -29M85 126l27 -43M121 90l-9 4M100 131l25 -37M124 133l-81 -15M84 101l16 -5M112 170l50 -79M102 93l-11 44M106 133l-59 -43M237 98l-122 -5M88 115l9 13M104 101l-7 17M104 92l8 2M121 136l3 -3M98 92l12 -1M90 108l-42 24M88 99l68 -4M104 129l-30 -29M107 99l-53 17M55 139l32 -39M43 100l116 -6M70 116l44 -21M142 85l94 14M129 135l-5 -2M70 116l-2 -26M268 182l-146 -76M129 131l-12 7M54 119l179 -33M151 94l-21 9M87 100l146 -11M86 86l19 -29M50 92l45 37M101 91l-21 21M159 94l0 1M133 79l-11 52M57 138l54 -49M68 114l22 29M129 135l-23 -3M55 121l35 -12M50 92l31 18M159 94l-39 -3M102 141l-11 -32M157 98l2 -5M61 98l-8 27M90 88l19 0M123 131l-68 -10M117 90l-65 20M166 97l-76 -9M73 100l10 -8M70 116l30 30M224 146l-120 -46M119 90l-2 -0M49 116l55 -24M120 60l36 35M95 125l-42 -9M139 81l-3 9M103 88l3 5M90 88l30 -0M200 113l-145 7M108 89l9 2M237 98l-193 2M105 93l-30 19M90 88l4 19M117 135l14 -34M48 116l6 3M104 129l-28 -16M103 88l-13 -1M90 88l-43 43M75 116l48 21M83 143l-13 -63M55 139l118 18M128 133l-79 -16M142 85l-38 20M125 138l37 -47M108 89l12 -1M107 91l15 40M80 139l49 -3M87 142l-44 -13M159 51l-47 111M99 113l-15 27M118 137l-14 -32M105 57l3 6M158 115l-30 20M48 116l48 18M70 86l42 -2M74 132l-31 -5M55 121l62 -31M84 132l35 4M124 133l35 -40M103 64l3 -2M70 80l9 7M62 124l41 7M167 89l69 12M170 134l81 45M125 138l4 -3M61 98l22 45M118 138l4 -7M61 98l-17 13M49 133l82 9M79 93l18 35M117 90l-51 52M141 79l-56 43M106 133l-36 -6M47 143l76 -10M151 94l-98 32M132 135l-42 -10M82 89l3 38M86 86l-21 27M125 89l-5 1M73 109l33 23M163 89l36 -37M99 145l-15 -24M93 127l2 -2M102 141l-2 -10M112 163l-31 -61M83 143l-8 1M49 116l40 -2M106 133l19 6M70 116l62 19M75 113l84 -61M56 140l-7 -28M112 90l-21 44M129 133l-71 -13M112 90l-28 27M109 93l-65 1M84 101l14 -9M84 132l3 -19M186 133l-10 -63M61 98l64 -11M82 134l32 -49M105 93l36 -8M119 152l-1 -63M117 135l-5 -29M104 105l-4 26M159 93l-59 37M153 83l-49 17M100 131l61 -37M151 94l-39 1M49 116l54 17M252 179l8 -4M139 81l-32 12M87 109l41 23M102 93l3 15M53 126l42 -35M172 141l-66 -50M90 108l32 -2M97 128l-12 -2M112 90l51 22M125 87l-3 12M55 121l46 -29M48 95l-0 21M47 102l147 9M54 116l7 -17M124 133l-19 -76M95 129l-41 -39M51 110l43 -16M75 145l9 -28M104 92l-54 13M133 79l-20 7M82 89l-17 24M264 166l-85 -35M129 135l-60 -19M49 105l42 32M47 131l65 -36M104 129l11 -37M122 99l2 42M108 63l-64 49M42 86l109 8M95 125l-12 19M90 125l147 -27M122 106l-42 32M109 93l4 -7M183 66l-71 40M108 54l-37 32M234 87l-147 55M122 135l-2 -45M67 113l26 14M51 110l36 -10M91 137l10 -17M159 94l5 1M88 100l-4 17M112 83l-8 46M170 134l-83 8M48 95l6 24M69 117l38 -56M95 91l7 0M48 116l33 -14M87 100l-15 9M107 93l-11 33M110 91l10 -3M105 107l-36 9M122 106l-49 3M79 108l43 27M70 116l44 -24M43 112l90 24M82 89l63 8M49 133l53 -41M102 141l61 -52M111 89l-24 11M98 118l53 -24M132 50l-42 87M122 131l36 -36M111 89l31 -4M87 142l-17 -26M131 101l-49 -12M103 131l-18 -10M117 89l-6 5M117 89l-45 20M91 130l-24 -17M75 113l9 -9M55 121l209 46M134 139l-43 -5M105 107l-22 9M107 93l2 -0M76 123l60 -33M104 92l9 78M44 94l135 37M55 139l56 -44M117 86l-32 40M51 110l28 -23M79 108l24 -8M112 170l-28 -69M76 114l47 17M84 117l20 -25M68 114l51 -24M119 90l-12 -30M186 73l-56 30M116 90l-69 53M44 106l26 9M99 113l25 -19M102 136l-2 -5M114 85l-30 32M101 120l-5 5M126 136l-44 -2M113 86l9 13M80 139l-32 -36M130 103l-27 25M43 100l30 9M116 90l-20 43M46 89l73 47M90 88l25 5M124 133l4 -1M104 55l-1 73M80 112l-12 2M131 101l-49 16M122 99l-52 -13M160 95l32 35M112 87l-7 -30M75 141l16 -11M46 89l-2 5M83 143l-14 -27M90 125l-14 -2M101 120l11 -33M67 87l39 -24M81 102l18 11M159 100l-18 -26M112 94l-45 19M76 123l-29 14M159 94l21 37M135 94l59 17M81 102l24 -9M69 126l31 -6M105 93l-4 -1M47 137l-3 -25M85 126l50 -33M139 81l-96 48M97 99l25 7M144 74l-69 41M125 89l4 42M110 79l3 14M85 126l-41 0M252 179l-131 -42M126 136l-1 2M67 113l-2 -0M111 89l-28 55M90 88l17 6M102 146l24 -58M126 136l46 5M66 142l36 -49M156 96l6 -5M129 131l-6 -1M43 119l11 8M128 135l-29 11M104 55l37 24M87 100l14 -9M115 93l10 46M126 136l-9 -46M48 95l27 18M43 119l65 -56M158 115l6 -23M123 131l-27 -5M53 126l17 -9M48 103l33 31M114 92l15 41M112 170l13 -31M260 175l8 7M86 136l31 -49M157 98l-100 13M166 97l-3 -8M173 157l-45 -22M119 90l-28 43M103 134l-33 -17M79 93l9 7M102 141l62 -49M49 116l71 -29M48 95l27 -2M44 112l11 9M88 115l28 -25M112 163l-68 -69M113 93l59 48M93 101l36 35M129 135l-80 -3M53 126l20 -26M75 116l19 -25M68 91l22 34M47 137l34 -35M117 86l-1 4M103 134l-13 10M104 129l-9 -39M114 85l-30 55M134 85l7 -7M114 92l-16 -0M65 112l10 33M166 97l28 14M103 134l-16 -34M68 114l46 -22M108 89l-47 10M122 106l-42 32M103 64l33 26M108 63l-6 30M67 113l1 -22M114 85l12 2M49 133l55 -28M97 99l65 -8M117 90l-17 22M99 113l-55 -19M105 107l-47 14M162 91l-118 38M84 117l-10 -17M43 100l64 -39M84 132l57 -54M54 116l41 -22M81 110l30 -21M87 142l-31 -31M163 89l-66 39M163 89l-49 6M95 91l66 3M166 97l-59 2M172 141l-14 -46M122 106l-80 -20M86 136l48 -50M106 63l-16 46M86 86l47 51M134 85l25 8M113 86l-7 -22M94 90l5 41M73 109l12 17M84 104l3 38M111 89l6 -3M105 98l14 -7M112 95l-33 -7M114 95l9 41M87 100l-12 13M97 128l56 -45M75 141l24 -29M101 120l61 -29M80 112l2 -23M87 109l71 -15M123 131l-7 -39M72 98l140 108M47 131l49 3M139 81l73 125M122 106l-21 -15M133 79l-89 51M55 139l-6 -21M122 106l7 27M164 92l-79 34M70 86l-27 26M124 133l5 2M81 130l37 22M123 131l-32 6M104 55l8 39M81 130l2 -13M198 52l-145 74M160 95l-113 36M114 92l-30 40M75 145l7 -11M114 95l146 80M142 85l21 12M157 98l-34 32M104 129l-19 -8M98 118l69 -29M90 88l-47 -1M99 113l21 -22M88 100l18 -37M97 128l-22 -14M43 119l136 -70M128 135l-0 -2M61 98l1 25M185 74l65 104M102 136l29 5M129 135l-24 -28M141 79l-7 7M90 108l22 -25M107 99l-59 17M85 126l-1 13M120 90l-6 -5M122 131l6 1M120 90l-58 33M123 137l-15 -48M159 95l-40 -5M129 133l-80 -30M107 92l22 43M48 95l73 36M43 126l27 -46M224 146l13 -45M114 85l-60 42M114 92l-0 3M159 93l-74 -21M86 136l1 -22M157 98l-64 3M129 135l-1 0M98 92l34 -42M134 85l-29 -28M114 92l3 -3M159 95l-72 14M81 130l-37 -24M158 115l-24 -30M61 98l-10 11M120 88l-4 4M86 136l38 -3M102 141l-50 -31M96 126l23 -35M42 86l60 45M107 99l0 -7M54 127l-0 -11M91 133l22 -48M114 85l-2 9M103 88l-13 -1M128 133l1 3M133 136l25 -43M68 114l29 4M224 146l-103 -9M90 108l-11 -0M70 86l3 23M82 89l40 42M57 112l28 15M84 117l-5 11M125 138l-34 -2M95 129l0 -38M131 48l26 47M95 91l78 66M81 130l117 -78M167 89l-10 9M61 98l32 2M57 97l-13 14M116 91l-36 20M106 62l-8 56M105 93l-2 7M159 94l-24 0M49 116l74 15M106 62l3 26M104 55l-29 59M72 98l52 -4M75 93l-26 23M43 112l8 -2M130 103l33 -11M156 96l-17 -24M250 102l-7 32M129 135l-12 -44M126 136l-41 -10M102 93l-7 -3M101 91l21 15M73 109l18 28M47 137l26 -37M43 119l0 8M47 137l-3 -31M66 142l6 -44M99 145l41 -67M134 139l-6 -6M88 100l18 -37M121 90l-48 19M107 99l55 -8M134 139l27 -48M113 86l-10 6M170 134l-67 -5M65 146l5 -30M113 86l-5 -23M125 138l37 -47M162 111l-57 -14M119 152l-11 -63M74 132l37 -43M104 92l6 1M159 94l4 4M105 98l12 -8M120 136l-35 -15M87 142l-44 -30M160 94l-118 -8M82 134l1 10M112 94l-5 -1M76 114l-6 -34M106 63l-63 49M252 179l-183 -62M123 131l22 -34M250 102l-17 -13M151 94l-48 34M114 92l8 7M70 80l47 6M116 91l2 43M49 116l5 -27M79 87l34 -2M179 49l-97 40M47 131l18 15M129 131l107 -32M103 88l7 5M80 112l56 -22M117 135l-8 -47M112 95l1 -9M112 90l-43 27M106 133l-57 -37M91 130l-38 -4M110 79l20 -31M80 112l-8 -14M123 112l127 -9M78 128l12 -20M103 88l-3 57M112 83l156 99M87 109l27 -17M62 124l-15 19M105 57l-11 33M162 91l14 -21M80 139l133 67M163 94l-3 -0M93 107l27 30M107 59l-14 68M106 63l-4 30M252 179l-204 -35M81 110l-38 16M54 90l50 2M133 150l-38 -21M129 131l-54 -19M134 85l-40 5M125 89l16 -11M159 95l-90 19M121 136l-12 -49M104 129l52 -33M129 135l-4 -46M107 92l-6 28M106 63l-49 48M80 139l44 -5M108 54l48 43M49 116l87 -27M44 106l20 31M107 93l-38 23M100 131l-24 -8M244 191l-86 -76M135 94l66 19M194 110l-83 -20M117 135l-8 -42M89 138l19 -44M104 55l58 56M160 95l-29 46M119 152l-15 -18M61 98l118 33M110 79l-45 33M123 137l-7 -45M91 130l34 -43M87 100l-4 1M122 99l36 -4M109 88l-27 46M118 137l-69 -21M108 94l-33 19M134 139l-24 -60M65 112l-22 6M96 126l-53 1M142 85l-28 8M124 133l5 2M67 113l8 0M224 146l-143 -36M49 112l21 4M124 133l7 -32M69 117l-13 24M88 100l8 26M110 79l45 17M131 141l-52 -54M55 139l-7 -27M105 93l-2 11M159 94l-41 -7M47 131l86 -52M237 101l-176 -2M84 140l-28 -1M112 106l-6 -15M81 102l29 -11M183 66l-75 28M69 117l72 -38M69 117l11 22M213 104l-144 25M236 99l-116 -9M87 100l72 1M213 206l-40 -65M84 104l26 -13M43 126l207 -24M106 62l11 25M103 128l-7 6M179 49l-85 41M121 90l32 -7M56 140l9 6M46 89l54 7M112 106l-7 -12M88 100l-15 0M139 81l-14 8M51 88l61 2M96 126l-47 -14M84 104l-23 -5M125 94l-7 -8M43 119l130 38M94 94l-1 13M130 103l-81 -11M250 179l14 -12M139 81l21 13M151 73l-44 20M83 92l61 -18M102 136l-26 -13M164 92l-69 33M133 136l-22 -42M70 80l81 -7M112 87l19 13M123 137l-36 -28M134 139l-14 -2M117 89l-28 35M103 88l-1 57M84 117l25 -23M110 79l31 6M141 74l-34 19M69 117l-2 -4M105 98l-52 18M102 136l5 -43M185 74l-136 42M81 102l52 -23M82 89l40 18M121 90l-7 5M94 94l29 18M136 90l-89 47M129 135l30 -41M125 89l67 41M117 89l12 42M94 94l-7 6M49 118l21 -2M84 140l14 -22M112 83l22 55M105 98l-52 -8M54 116l41 -22M84 140l168 39M133 136l-67 -50M183 66l-32 7M124 133l-68 7M151 94l-18 42M68 114l39 -55M55 139l13 -24M97 128l-7 -19M89 138l16 -44M83 143l-33 -52M112 106l1 -21M130 139l-87 -27M106 62l3 26M141 79l39 -30M55 139l-12 -9M49 112l2 -24M84 140l27 -49M50 92l54 -36M112 170l-9 -39M108 63l-15 38M112 95l-58 -5M209 146l-81 -13M125 94l-81 25M82 134l40 -3M49 116l74 15M90 125l28 -35M122 99l-79 30M68 114l-7 -16M85 126l37 5M91 133l-48 -33M160 94l3 0M116 91l26 -17M95 91l38 -12M106 62l-5 59M128 133l1 6M176 70l-37 3M90 125l7 -26M69 128l41 -38M144 74l28 67M104 92l7 -1M156 96l-3 -13M163 94l1 -2M112 170l-19 -63M112 87l138 15M122 131l-28 -2M42 86l26 30M122 99l7 32M200 113l27 77M128 133l-6 -1M213 206l-134 -113M183 66l-75 28M159 95l-58 1M115 93l15 46M75 93l37 -5M112 87l-8 17M179 49l-82 69M81 130l-33 -27M114 85l45 9M162 91l-65 37M233 86l-131 45M130 103l-8 33M131 48l-0 55M117 89l-33 32M141 79l-52 20M84 140l5 -2M69 128l-12 -31M123 112l-18 -11M99 113l-25 19M83 117l-13 -1M162 91l1 -2M91 133l23 -41M107 99l-46 -0M130 103l28 -9M44 94l14 27M86 86l43 48M112 87l-3 6M81 102l35 -11M88 99l7 27M87 113l34 23M109 93l-7 -0M88 115l15 -23M101 120l-32 -4M124 141l-19 -34M69 126l64 -47M116 90l-4 -7M44 112l0 -5M185 74l-26 21M125 89l-81 22M93 127l-50 -0M107 61l-2 33M128 135l16 -60M82 134l78 -39M122 106l-15 -13M122 99l-57 13M84 101l150 -15M111 89l-14 39M213 206l-87 -118M103 100l-1 31M85 126l5 17M96 126l62 -32M79 87l-4 6M49 118l83 18M117 90l-15 2M86 86l-6 24M125 94l-41 23M103 134l-8 -9M103 88l-28 5M234 87l2 12M105 93l-35 23M114 95l-38 20M68 114l1 2M94 94l20 2M61 98l0 -0M103 64l29 -14M79 87l7 -2M134 85l-22 9M132 135l-1 6M49 116l-0 -13M48 123l19 -37M107 91l28 48M64 138l50 -53M112 106l43 -10M76 123l44 14M43 112l0 -12M99 113l18 22M124 133l33 -35M108 89l5 4M44 129l50 -35M62 124l56 13M144 74l15 19M76 123l-22 4M121 90l-7 -5M67 113l35 23M159 51l-115 60M111 89l-26 37M65 112l4 4M97 99l8 2M116 91l-26 17M73 109l7 -1M121 90l-29 43M100 96l3 4M112 83l18 19M141 74l-38 26M54 116l26 -28M145 96l-61 5M107 92l-2 -35M112 95l5 -4M117 86l42 14M120 60l-3 30M76 114l33 -20M110 79l-61 38M105 98l7 -14M107 92l-4 8M144 74l89 14M80 112l-13 1M61 98l11 -0M88 100l30 -11M49 116l7 24M50 92l-1 11M107 99l1 -40M109 88l-34 25M160 95l-111 22M90 88l31 3M112 106l20 44M54 119l14 -29M151 73l-71 66M48 103l55 -3M144 74l-90 41M113 86l-49 52M112 90l0 16M84 132l13 -4M113 93l44 5M96 134l-3 -7M120 90l51 43M131 141l4 -2M73 109l-11 15M44 105l64 -13M101 91l-28 18M68 91l32 5M213 104l-68 -7M209 146l-122 -32M128 135l-45 -43M88 99l74 -10M75 113l5 26M117 86l21 -14M120 136l-76 -18M93 127l-23 -41M112 90l12 4M103 88l-8 3M104 105l161 62M57 112l11 -21M100 96l22 35M68 114l33 27M128 135l-25 -43M114 85l4 50M97 128l-14 -36M112 90l6 -3M93 127l120 -23M56 140l-2 -13M163 89l73 10M70 116l13 1M159 94l24 -28M82 134l8 10M88 99l-8 11M72 98l29 -7M79 108l-21 12M123 112l-3 24M112 90l-4 -27M122 99l9 42M129 135l-45 -18M176 70l-23 13M101 120l-11 -12M57 112l36 -5M83 92l-4 16M79 93l-5 7M122 131l6 1M101 91l58 9M87 100l64 -6M151 73l-34 17M86 136l2 6M107 99l5 -15M81 102l22 26M75 113l12 -13M83 143l24 -52M128 133l-17 -44M113 93l-1 -10M157 98l-74 18M123 112l10 -33M133 136l-22 -47M116 90l35 4M76 123l-2 9M132 135l-41 2M233 89l-104 50M160 94l-9 -0M72 98l10 -9M85 126l-15 -46M125 94l-17 -35M64 138l-8 2M102 146l10 -52M125 89l-76 14M86 136l-13 -27M47 102l3 3M86 86l-38 10M47 102l86 -23M98 92l10 -3M111 89l9 1M44 106l36 32M120 136l-68 -27M84 101l-3 9M84 104l40 -10M84 117l-23 -18M55 121l-11 -15M109 88l-8 33M183 66l3 67M141 74l-19 38M133 136l-84 -31M74 132l24 -40M73 109l3 5M104 92l-48 29M114 85l-8 8M113 86l2 7M82 134l-35 -3M121 136l2 -6M99 113l35 -19M141 74l109 29M57 112l54 -21M186 73l23 73M122 131l4 5M81 110l-35 -21M70 80l37 11M100 131l-5 -41M75 113l32 -21M179 49l-92 60M99 113l-50 5M103 88l-52 -1M51 88l33 13M104 105l19 27M159 95l-40 57M68 114l15 29M136 90l-29 -31M98 118l20 21M108 54l126 35M119 90l-12 1M130 139l-12 -4M102 146l-29 -46M50 92l56 6M85 126l-2 -10M125 87l54 44M163 94l-0 3M57 97l-10 4M158 94l-55 6M122 131l-66 8M114 92l3 -3M105 57l7 38M65 146l16 -44M108 89l21 47M108 54l-35 55M110 79l-31 29M88 115l63 -21M90 88l51 -9M198 52l-142 86M167 89l-81 47M123 112l-79 -0M139 73l-27 11M48 95l-4 11M44 129l36 -21M131 101l-40 29M75 145l11 -9M159 93l75 -7M87 109l20 -17M132 50l-15 36M162 91l-113 21M123 131l-22 -10M113 93l-23 32M106 63l11 23M57 138l25 -50M250 103l-87 -8M70 80l34 49M122 131l-65 -19M48 123l53 17M70 86l53 26M160 95l-80 44M47 131l78 -37M72 98l18 39M163 89l-44 1M84 101l14 -9M89 138l-46 -9M88 115l-19 2M43 100l129 41M104 92l-17 17M122 135l-53 -19M112 95l-19 6M44 112l-1 7M43 126l86 8M162 111l-59 -19M61 98l21 -10M151 73l-82 41M69 117l6 25M120 136l-39 2M99 113l-18 -3M112 90l-6 -27M78 128l84 -39M159 95l-57 -2M81 102l132 104M119 152l-35 -12M84 132l32 -41M107 99l-49 22M112 87l-0 7M48 116l32 -4M75 141l9 -15M106 133l-51 -13M75 113l27 18M107 91l85 39M112 106l-9 -14M95 125l33 10M264 166l-220 -37M42 86l43 40M82 89l52 -3M102 136l57 -42M179 49l-41 24M106 62l23 70M42 86l45 14M113 86l-4 7M159 51l-52 8M99 113l-6 -12M172 141l-44 -6M93 101l-29 37M121 136l-9 26M47 137l58 -43M129 135l-54 10M162 91l-101 7M162 111l17 20M68 114l5 -14M43 119l58 -26M107 93l85 37M48 95l110 -1M50 92l16 50M87 113l72 -62M107 99l50 -0M179 131l-56 -0M108 89l10 1M144 74l16 20M70 116l61 -13M100 131l-18 3M112 90l10 17M67 113l-12 26M160 94l-61 51M179 131l-86 -24M121 136l7 -2M82 89l8 20M124 133l34 -38M114 92l-28 43M90 125l29 27M75 93l34 -5M120 136l-2 -2M112 94l-64 49M107 91l2 2M105 107l54 -14M82 134l9 -0M84 101l-4 7M121 136l-77 -25M186 133l-7 -2M57 112l66 1M141 79l26 10M91 133l8 -21M42 86l61 43M51 88l105 9M117 89l42 11M98 92l-19 -5M108 94l-9 37M107 93l-39 21M88 115l13 21M75 93l34 1M108 94l50 -0M88 99l35 13M66 142l85 -48M74 132l-5 -4M250 179l-180 -99M86 86l33 5M107 91l0 -31M105 93l-30 -0M84 140l17 -48M117 90l-10 3M49 105l40 33M120 136l14 -0M200 113l-89 -30M159 100l-34 -13M84 101l-35 11M106 133l-54 -23M80 139l-36 -33M159 51l-45 41M88 100l13 20M132 135l-47 -9M250 179l10 -4M79 93l-35 13M236 99l-2 -12M49 112l30 -19M85 121l-36 11M49 112l48 -13M159 100l-90 15M250 102l-135 -9M88 99l-13 15M46 89l104 -17M115 93l5 -33M54 90l-5 13M126 136l-15 -47M47 137l40 -28M85 121l26 -31M186 73l-2 2M108 89l-21 20M84 132l12 1M132 135l-41 -2M114 95l-24 29M56 140l66 -34M102 146l-41 -47M116 90l-74 -4M123 112l-11 -25M100 96l-12 19M157 98l103 77M43 112l22 0M125 89l17 -4M86 136l-31 -16M69 126l42 -36M95 125l3 -7M118 138l-28 -14M125 87l-31 4M124 133l9 -54M141 79l-29 11M118 138l-14 -47M124 133l-10 -41M119 152l-7 -65M105 57l3 -3M139 81l24 13M133 79l104 19M122 131l-15 -39M111 89l-7 40M98 118l-31 -5M98 118l-15 26M112 94l2 -9M200 113l-72 21M80 112l26 21M81 110l63 -36M44 94l26 -8M133 79l-24 14M132 135l-75 -24M112 163l-61 -53M88 99l37 39M120 60l-24 66M96 134l-1 -5M87 100l25 6M84 132l49 4M163 89l-57 -26M91 133l-7 -32M107 93l-12 -2M120 60l-33 82M54 119l47 21M162 91l-34 44M129 133l1 6M83 117l41 17M81 110l-24 -13M164 92l28 38M44 112l31 1M79 108l-31 15M131 141l-47 -24M69 128l-26 -2M128 135l-78 -43M80 112l-5 4M234 87l-127 4M114 92l-13 0M109 88l-42 -1M128 133l-5 -2M75 93l92 -4M250 179l-87 -90M104 105l1 -49M79 87l41 -27M68 91l-7 7M102 93l5 -32M122 106l-74 -11M105 93l15 -6M83 143l10 -37M160 94l-82 34M131 101l-18 -15M95 129l-25 -49M78 128l9 -19M95 91l-46 25M90 88l11 33M74 132l-19 8M100 96l-56 33M128 135l3 -34M125 87l-36 0M163 97l3 -1M48 116l57 -23M159 95l-48 -4M237 101l-54 -35M159 95l-37 11M114 95l7 41M47 131l66 -25M109 93l-27 -4M134 85l4 -13M124 133l-1 -34M75 141l161 -40M102 93l-19 24M102 141l14 -49M122 131l36 -37M156 95l-74 39M183 66l26 80M87 142l148 -43M44 94l41 -21M120 90l-50 25M228 190l-146 -60M51 110l4 29M134 85l-34 11M85 121l-31 -32M112 106l40 -23M101 91l59 4M107 91l7 -6M134 85l-1 -7M112 90l-27 42M93 101l32 38M56 140l-7 -28M53 126l49 15M104 105l25 29M112 106l-40 3M213 206l0 -103M170 134l-66 -33M128 133l-70 -12M123 112l-57 30M123 137l-14 -49M87 109l18 -2M209 146l-134 -53M136 90l-15 1M69 126l63 -76M130 103l43 54M237 101l-27 45M75 145l21 -19M113 86l87 28M114 92l19 -14M139 73l25 22M53 126l31 14M98 92l36 -7M106 60l12 77M106 60l-16 28M106 60l18 81M106 60l26 75M106 60l-33 49M106 60l12 77M106 60l24 43M106 60l-64 26M106 60l-38 31M106 60l24 79M106 60l-27 27M106 60l-26 52M106 60l-63 52M106 60l-19 49M106 60l-37 57M106 60l-32 72M106 60l-37 57M106 60l8 35M106 60l-49 78M106 60l5 29M106 60l-52 30M106 60l8 32M106 60l3 33M106 60l-52 30M106 60l-20 26M106 60l11 75M106 60l-8 58M106 60l28 25M106 60l-38 54M106 60l12 77M106 60l-1 33M106 60l-3 28M106 60l-22 44M106 60l-57 45M106 60l-41 86M106 60l-62 69M106 60l-59 42M106 60l-51 61M106 60l24 43M106 60l-9 68M106 60l-5 60M106 60l20 76M106 60l-62 69M106 60l4 31M106 60l23 71M106 60l11 26M106 60l-21 66M106 60l-63 52M106 60l-10 74M106 60l16 75M106 60l-4 76M106 60l-9 68M106 60l-16 28M106 60l12 77M106 60l-22 44M106 60l6 27M106 60l-51 61M106 60l-11 31M106 60l-19 40M106 60l-62 69M106 60l-51 79M106 60l25 81M106 60l-38 31M106 60l-59 77M106 60l19 78M106 60l19 29M106 60l10 30M106 60l-58 56M106 60l-42 78M106 60l-24 74M106 60l-37 57M106 60l6 27M106 60l-3 71M106 60l8 25M106 60l-57 58M106 60l-52 56M106 60l-55 50M106 60l4 19M106 60l-62 34M106 60l-8 58M106 60l-58 63M106 60l-59 71M106 60l-38 31M106 60l-34 38M106 60l-12 30M106 60l-16 84M106 60l-2 41M106 60l3 33M106 60l-12 34M106 60l-36 56M106 60l-4 33M106 60l6 27M106 60l6 30M106 60l11 29M106 60l-52 30M106 60l6 30M106 60l20 76M106 60l16 71M106 60l6 23M106 60l14 28M106 60l-2 32M106 60l-34 38M106 60l6 34M106 60l-45 38M106 60l-34 38M106 60l-30 54M106 60l-21 61M106 60l-37 57M106 60l5 29M106 60l12 78M106 60l-16 84M106 60l-21 66M106 60l-16 48M106 60l3 33M106 60l-3 74M106 60l-37 57M106 60l4 31M106 60l7 33M106 60l-45 38M106 60l22 73M106 60l-7 85M106 60l12 78M106 60l14 76M106 60l-62 46M106 60l-16 65M106 60l-37 57M106 60l-62 34M106 60l-38 31M106 60l-16 28M106 60l-63 66M106 60l24 79M106 60l-4 33M106 60l4 31M106 60l-2 45M106 60l11 30M106 60l-28 68M106 60l-7 85M106 60l-4 81M106 60l14 28M106 60l25 41M105 56l-30 60M105 56l15 32M105 56l-36 72M105 56l-58 87M105 56l15 80M105 56l-58 75M105 56l-21 45M105 56l-44 42M105 56l34 25M105 56l-38 31M105 56l4 37M105 56l-12 45M105 56l5 23M105 56l-9 78M105 56l-9 78M105 56l-37 58M105 56l-6 57M105 56l-9 78M105 56l-10 69M105 56l-63 30M105 56l-56 49M105 56l-35 30M105 56l10 37M105 56l7 31M105 56l-30 37M105 56l-4 35M105 56l-29 58M105 56l12 30M105 56l-35 60M105 56l-51 34M105 56l12 34M105 56l-39 86M105 56l-29 58M105 56l-51 63M105 56l-31 76M105 56l8 37M105 56l-12 71M105 56l25 83M105 56l-44 42M105 56l15 80M105 56l-50 83M105 56l-35 24M105 56l0 42M105 56l-17 59M105 56l24 79M105 56l-23 33M105 56l25 47M105 56l-39 86M105 56l-56 49M105 56l9 36M105 56l-25 83M105 56l-15 52M105 56l5 35M105 56l-5 75M105 56l-36 72M105 56l-25 56M105 56l24 79M105 56l-30 37M105 56l-1 49M105 56l24 77M85 73l34 18M85 73l44 63M85 73l-41 21M85 73l-13 25M85 73l27 33M85 73l-16 54M85 73l43 62M85 73l-5 39M85 73l44 61M85 73l29 23M85 73l6 64M85 73l10 52M85 73l-42 54M85 73l13 19M85 73l5 36M85 73l38 58M85 73l-15 7M85 73l25 18M85 73l-10 40M85 73l19 57M85 73l-28 66M85 73l10 52M85 73l-13 25M85 73l-38 71M85 73l35 18M85 73l35 18M85 73l-4 29M85 73l-28 66M85 73l-42 27M85 73l35 18M132 50l-27 57M132 50l-3 85M132 50l-20 56M132 50l-32 46M132 50l-29 84M132 50l-68 88M132 50l-20 37M132 50l-35 49M132 50l-22 41M132 50l-23 43M132 50l-89 76M132 50l-28 42M132 50l-34 42M132 50l-62 66M132 50l-77 71M132 50l-7 88M132 50l-12 40M132 50l-10 56M132 50l-25 42M132 50l-56 73M132 50l-16 40M132 50l-9 62M132 50l-59 59M132 50l-42 94M132 50l-65 63M132 50l-71 48M132 50l-12 40M132 50l-37 41M132 50l-27 57M132 50l-75 88M132 50l-83 55M132 50l-1 51M132 50l-37 75M132 50l-12 86M132 50l-44 65M132 50l-21 39M132 50l-51 80M132 50l-25 49M132 50l-13 40M132 50l-37 41" fill="none" stroke="#8a8a8a" stroke-width="0.38" stroke-opacity="0.85"/>
<path d="M226.1 19.5 L226.1 23.8 L221.5 29.7 L216.3 36.3 L211.0 42.9 L203.8 51.2 M203.8 51.2 L216.3 56.0 L229.4 59.9 L241.2 63.2 L249.1 62.6 L259.6 61.5 L268.8 61.0 L279.0 63.3 M203.8 51.2 L208.4 57.3 L213.6 62.6 L216.3 67.8 L218.2 73.1 L220.9 78.3 L224.2 83.6 L228.1 86.2 L233.4 87.5 L238.6 89.9 L242.6 92.8 L244.5 94.4 L248.2 94.4 L248.9 100.3 L249.5 106.9 L249.5 113.5 L248.9 120.7 L254.1 121.1 L259.4 121.3 L262.0 125.3 L260.0 129.2 L259.4 133.2 L258.1 135.8 L247.6 137.1 L239.7 139.7 L234.4 145.0 L229.8 146.3 L227.2 148.3 L226.5 152.9 L223.2 160.8 L221.9 164.8 L221.3 175.6 M97.1 182.1 L91.9 187.4 L87.9 182.1 L83.3 183.4 L83.3 199.2 L87.9 200.5 L88.6 204.5 L76.1 207.1 L77.4 212.4 L73.5 221.6 L69.5 233.0 M91.4 163.6 L96.6 160.6" fill="none" stroke="#2a2a2a" stroke-width="0.6"/>
<path d="M40.5 19.8 L42.2 21.0 L45.3 24.1 L48.3 26.7 L50.5 29.3 L53.1 33.7 L55.3 35.0 L58.8 36.3 L61.0 37.6 L64.5 41.1 L68.0 45.1 L71.5 49.0 L75.9 53.4 M46.6 27.6 L48.8 30.2 L50.9 33.3 L51.4 35.9 M41.3 30.2 L43.5 35.4 L45.7 39.8 L48.3 44.2 L49.6 48.6 L51.4 53.0 L54.0 56.5 L56.6 60.0 L58.4 63.5 L61.0 67.0 L63.5 70.0 M41.3 45.9 L43.1 50.3 L44.8 54.7 L46.6 59.1 L48.3 63.5 L50.1 67.0 L51.4 69.4 L54.9 72.1 L58.4 74.7 L61.0 76.4 L63.6 79.9 L65.4 83.4 L66.3 86.9 M69.8 21.0 L70.7 26.7 M70.2 30.6 L73.3 32.4 L76.8 34.6 L80.3 37.2 L83.8 39.8 L87.3 41.6 L89.9 44.2 L92.6 47.7 L94.7 50.3 M68.0 37.2 L71.5 39.8 L76.8 42.5 M68.9 37.0 L70.2 41.2 M75.5 25.4 L79.4 27.6 L83.4 29.7 L87.7 33.3 M84.2 21.0 L87.3 23.6 L90.8 26.2 L94.3 28.9 L97.8 31.9 M94.3 21.0 L96.9 23.2 L98.7 24.9 M95.0 21.4 L98.5 24.1 L102.0 27.6 L105.5 30.2 L109.9 33.7 L114.3 36.3 L116.9 36.8 M100.3 21.4 L102.9 24.1 L106.4 27.6 L110.8 30.2 L115.1 32.8 L117.8 36.3 M109.9 21.0 L112.5 24.1 L115.1 27.6 L117.8 30.2 L120.4 31.9 L123.9 34.6 M116.0 21.4 L118.6 24.9 L121.3 28.4 L123.9 31.9 L125.2 34.6 M123.0 20.5 L125.2 24.9 L125.7 28.4 L124.8 32.8 L124.3 39.0 L125.2 45.1 L127.4 49.5 L130.0 55.6 L131.8 62.6 L133.5 67.8 M126.5 21.4 L127.8 24.1 L128.3 26.7 M131.8 22.3 L132.7 27.6 L132.2 31.1 L134.4 26.7 M124.8 36.3 L128.3 37.6 L131.8 39.8 L135.3 43.3 L137.9 47.7 L139.2 52.1 L139.7 57.3 M126.5 41.6 L130.9 43.3 L134.4 46.0 L137.0 49.5 L138.4 53.8 M117.3 51.2 L120.4 53.8 L123.0 55.6 L125.7 59.1 M100.3 61.7 L112.5 61.3 M184.2 20.0 L184.2 21.0 L182.4 24.1 L180.2 27.1 L181.5 28.4 L182.0 31.9 L181.5 36.3 L181.1 40.7 L180.7 45.1 L180.2 48.6 L179.3 53.8 L178.5 58.2 L177.2 62.6 L176.3 67.0 M180.7 49.5 L181.5 53.8 L182.8 58.2 L183.7 64.3 L184.0 74.3 L186.6 79.6 L187.9 84.8 L189.2 91.4 L190.5 97.0 L192.0 100.5 L195.0 102.0 L199.0 104.5 L202.5 109.5 L205.5 116.0 L209.5 121.3 L214.7 126.6 L221.3 129.2 M189.5 96.0 L192.5 106.9 L193.8 113.5 L195.1 116.1 M189.4 31.9 L192.5 28.4 L192.0 33.7 L191.2 38.1 M199.0 27.1 L198.6 31.9 L199.0 37.2 L200.8 42.5 L203.0 48.6 L204.3 53.8 L205.2 60.0 L206.1 66.0 L207.1 69.1 L211.7 73.1 M206.9 29.3 L206.1 37.2 L207.8 35.4 M173.6 53.8 L172.3 60.0 L171.9 65.2 M176.3 57.3 L175.0 63.5 L173.6 68.8 M187.7 52.1 L188.5 58.2 L189.0 64.3 L189.4 68.8 M167.6 62.5 L166.2 69.0 M172.8 54.6 L171.5 62.5 L173.5 67.7 L172.8 74.3 M186.6 52.6 L188.6 59.8 L190.5 65.1 L188.6 70.4 M146.5 73.6 L148.5 79.6 L150.5 86.1 L152.4 92.0 L154.5 94.0 M222.2 81.0 L219.6 87.5 L219.6 93.0 L221.0 97.5 L224.2 102.0 L229.4 107.5 L235.1 112.1 L238.4 114.8 M243.6 121.3 L249.0 122.0 L254.0 121.3 L258.0 120.8 M221.3 129.2 L229.2 129.2 L237.0 130.5 L244.9 131.6 L252.8 130.5 L259.4 129.2 M225.2 133.2 L233.1 133.8 L241.0 133.8 L250.2 133.6 L258.1 133.2 M208.1 139.1 L213.4 140.4 L221.3 139.7 L229.2 138.4 L237.0 135.1 L242.3 133.8 M186.0 143.7 L193.8 143.7 L200.4 146.3 L205.5 147.0 L210.8 146.6 L216.0 147.0 L221.3 146.6 L226.5 146.3 M210.8 108.2 L214.7 113.5 L218.6 118.0 L221.3 122.6 M195.0 129.2 L199.0 128.0 M160.3 131.2 L166.2 133.2 L172.8 131.6 L178.1 133.2 M180.7 141.0 L186.0 138.4 L191.2 134.5 L195.1 130.5 L199.1 127.9 M130.8 113.5 L132.1 118.7 L137.3 122.6 L141.3 125.3 L145.9 128.6 M137.3 104.3 L139.3 109.5 L137.3 112.8 M121.6 126.6 L122.2 131.6 L122.9 139.7 L124.2 148.9 L124.9 154.2 M108.3 109.2 L111.6 115.0 L114.5 120.8 L115.7 126.6 L114.9 134.9 L116.1 141.5 L117.8 148.1 L119.0 154.7 L120.7 159.7 M109.9 110.1 L114.1 115.9 L116.5 122.5 L117.4 129.1 L116.5 136.5 L119.0 143.2 L121.5 148.1 L124.0 153.1 M126.5 106.8 L124.8 114.2 L123.2 122.5 L121.5 129.1 L119.9 134.9 M110.8 112.5 L116.5 118.3 L117.4 120.8 M130.6 106.8 L131.4 114.2 L134.7 120.0 M115.0 136.0 L118.5 140.0 L119.5 146.0 M117.7 154.4 L120.3 158.8 L125.5 160.1 L132.6 161.9 L141.3 165.1 L154.4 167.7 L167.6 169.7 L180.7 171.6 L193.8 173.0 L205.0 174.9 L219.3 176.6 M49.2 74.2 L53.1 75.6 L56.6 76.4 L58.8 78.2 M40.5 77.8 L41.8 78.2 L45.3 79.9 L50.5 81.3 L55.8 83.4 L61.0 85.6 L66.3 87.4 L71.5 89.1 L76.8 90.5 L82.0 92.2 L87.3 92.6 L92.6 91.8 L96.1 93.1 L100.0 94.8 M45.3 86.9 L49.6 89.1 L54.9 91.3 L60.1 93.1 L65.4 94.4 L70.7 94.8 L76.8 95.3 L82.0 95.7 L85.5 97.0 L89.0 100.1 L93.4 103.6 L96.9 106.2 M53.1 97.0 L57.5 99.2 L61.9 101.4 M44.4 113.7 L59.3 111.9 M40.5 125.5 L50.0 126.0 L61.0 127.5 L73.0 128.5 L80.0 128.0 M40.5 134.3 L50.0 134.3 L61.0 133.1 L72.0 133.7" fill="none" stroke="#e23a35" stroke-width="1.1" stroke-linejoin="round"/>
<path d="M42.7 49.2L46.1 50.0L44.1 52.8ZM46.7 59.4L50.1 60.2L48.1 63.0ZM51.4 69.4L54.7 68.3L54.4 71.7ZM60.5 75.7L63.9 75.5L62.7 78.7ZM43.7 79.5L46.3 77.2L47.4 80.5ZM54.2 82.7L57.1 80.8L57.7 84.2ZM64.4 86.8L67.2 84.6L68.0 88.0ZM74.9 90.0L77.5 87.7L78.6 91.0ZM85.6 92.9L87.0 89.7L89.4 92.3ZM96.3 93.2L99.2 91.3L99.8 94.7ZM48.9 88.8L51.8 86.9L52.4 90.3ZM60.1 93.1L62.7 90.7L63.8 94.0ZM72.0 94.9L74.1 92.2L75.7 95.2ZM84.1 95.8L87.5 94.9L87.0 98.3ZM93.3 103.5L96.6 102.3L96.4 105.8ZM224.4 129.2L226.3 126.3L228.2 129.2ZM234.3 130.1L236.7 127.5L238.1 130.7ZM244.2 131.7L245.7 128.6L248.0 131.2ZM254.1 130.2L255.4 127.0L257.8 129.5ZM228.8 133.5L230.9 130.7L232.6 133.8ZM239.8 133.8L241.6 130.9L243.6 133.7ZM250.8 133.6L252.5 130.6L254.6 133.4ZM211.6 140.6L213.2 137.5L215.3 140.2ZM222.5 139.5L223.9 136.3L226.2 138.9ZM233.1 136.8L233.7 133.4L236.6 135.3ZM246.2 121.6L248.4 119.0L249.9 122.1ZM255.1 121.2L256.6 118.0L258.9 120.7ZM189.6 143.7L191.5 140.8L193.4 143.7ZM200.1 146.3L202.4 143.6L203.9 146.8ZM211.0 146.6L213.2 143.9L214.8 146.9ZM222.0 146.6L223.7 143.6L225.8 146.3ZM162.3 131.9L165.0 129.7L165.9 133.1ZM170.0 132.3L171.1 129.0L173.7 131.4ZM97.2 22.8L96.5 26.2L99.9 25.5ZM103.8 28.9L103.6 32.4L106.8 31.2ZM111.0 34.3L111.1 37.8L114.2 36.3ZM102.4 23.6L101.7 27.0L105.1 26.3ZM110.2 29.8L110.3 33.3L113.4 31.8ZM111.9 23.3L110.7 26.6L114.2 26.4ZM118.6 30.7L118.6 34.2L121.8 32.8ZM76.9 26.2L80.0 24.6L80.2 28.1ZM83.1 29.4L86.4 28.4L86.0 31.9ZM85.8 22.3L85.4 25.8L88.7 24.8ZM92.1 27.2L91.9 30.7L95.2 29.6ZM50.2 74.6L53.0 72.5L53.8 75.9ZM56.1 76.0L59.4 75.0L59.1 78.4ZM54.1 97.5L57.1 95.7L57.5 99.2ZM59.5 100.2L62.4 98.4L62.8 101.9ZM44.6 134.3L46.5 131.4L48.4 134.3ZM56.6 133.6L58.1 130.5L60.3 133.2ZM68.5 133.5L70.6 130.7L72.3 133.7ZM181.3 53.1L184.6 54.1L182.4 56.7ZM183.7 63.8L186.6 65.6L183.8 67.6ZM184.2 74.7L187.6 75.1L185.9 78.1ZM187.9 85.0L191.2 86.3L188.7 88.7ZM190.0 95.8L193.4 96.4L191.5 99.3ZM197.2 103.4L200.3 101.9L200.4 105.4ZM203.7 112.0L207.1 112.5L205.2 115.4ZM209.5 121.3L212.9 120.6L212.1 124.0ZM218.0 127.9L220.8 125.9L221.5 129.3Z" fill="none" stroke="#e23a35" stroke-width="0.8" stroke-linejoin="round"/>
<path d="M159.2 48.1L160.1 50.1L162.3 50.4L160.7 51.9L161.1 54.1L159.2 53.0L157.3 54.1L157.7 51.9L156.1 50.4L158.3 50.1ZM179.3 45.6L180.2 47.6L182.4 47.9L180.8 49.4L181.2 51.6L179.3 50.5L177.4 51.6L177.8 49.4L176.2 47.9L178.4 47.6ZM198.5 48.5L199.4 50.5L201.6 50.8L200.0 52.3L200.4 54.5L198.5 53.4L196.6 54.5L197.0 52.3L195.4 50.8L197.6 50.5ZM85.0 69.3L85.9 71.3L88.1 71.6L86.5 73.1L86.9 75.3L85.0 74.2L83.1 75.3L83.5 73.1L81.9 71.6L84.1 71.3ZM234.1 83.4L235.0 85.4L237.2 85.7L235.6 87.2L236.0 89.4L234.1 88.3L232.2 89.4L232.6 87.2L231.0 85.7L233.2 85.4ZM235.9 95.8L236.8 97.8L239.0 98.1L237.4 99.6L237.8 101.8L235.9 100.7L234.0 101.8L234.4 99.6L232.8 98.1L235.0 97.8ZM250.0 99.3L250.9 101.3L253.1 101.6L251.5 103.1L251.9 105.3L250.0 104.2L248.1 105.3L248.5 103.1L246.9 101.6L249.1 101.3ZM274.0 105.7L274.9 107.7L277.1 108.0L275.5 109.5L275.9 111.7L274.0 110.6L272.1 111.7L272.5 109.5L270.9 108.0L273.1 107.7ZM212.9 100.0L213.8 102.0L216.0 102.3L214.4 103.8L214.8 106.0L212.9 104.9L211.0 106.0L211.4 103.8L209.8 102.3L212.0 102.0ZM193.5 107.1L194.4 109.1L196.6 109.4L195.0 110.9L195.4 113.1L193.5 112.0L191.6 113.1L192.0 110.9L190.4 109.4L192.6 109.1ZM200.5 109.9L201.4 111.9L203.6 112.2L202.0 113.7L202.4 115.9L200.5 114.8L198.6 115.9L199.0 113.7L197.4 112.2L199.6 111.9ZM170.5 130.4L171.4 132.4L173.6 132.7L172.0 134.2L172.4 136.4L170.5 135.3L168.6 136.4L169.0 134.2L167.4 132.7L169.6 132.4ZM179.3 127.6L180.2 129.6L182.4 129.9L180.8 131.4L181.2 133.6L179.3 132.5L177.4 133.6L177.8 131.4L176.2 129.9L178.4 129.6ZM186.4 129.3L187.3 131.3L189.5 131.6L187.9 133.1L188.3 135.3L186.4 134.2L184.5 135.3L184.9 133.1L183.3 131.6L185.5 131.3ZM191.7 126.9L192.6 128.9L194.8 129.2L193.2 130.7L193.6 132.9L191.7 131.8L189.8 132.9L190.2 130.7L188.6 129.2L190.8 128.9ZM172.3 137.5L173.2 139.5L175.4 139.8L173.8 141.3L174.2 143.5L172.3 142.4L170.4 143.5L170.8 141.3L169.2 139.8L171.4 139.5ZM209.4 142.4L210.3 144.4L212.5 144.7L210.9 146.2L211.3 148.4L209.4 147.3L207.5 148.4L207.9 146.2L206.3 144.7L208.5 144.4ZM223.5 142.4L224.4 144.4L226.6 144.7L225.0 146.2L225.4 148.4L223.5 147.3L221.6 148.4L222.0 146.2L220.4 144.7L222.6 144.4ZM243.0 131.1L243.9 133.1L246.1 133.4L244.5 134.9L244.9 137.1L243.0 136.0L241.1 137.1L241.5 134.9L239.9 133.4L242.1 133.1ZM264.1 162.9L265.0 164.9L267.2 165.2L265.6 166.7L266.0 168.9L264.1 167.8L262.2 168.9L262.6 166.7L261.0 165.2L263.2 164.9ZM259.9 171.7L260.8 173.7L263.0 174.0L261.4 175.5L261.8 177.7L259.9 176.6L258.0 177.7L258.4 175.5L256.8 174.0L259.0 173.7ZM250.0 175.3L250.9 177.3L253.1 177.6L251.5 179.1L251.9 181.3L250.0 180.2L248.1 181.3L248.5 179.1L246.9 177.6L249.1 177.3ZM251.8 175.3L252.7 177.3L254.9 177.6L253.3 179.1L253.7 181.3L251.8 180.2L249.9 181.3L250.3 179.1L248.7 177.6L250.9 177.3ZM267.7 178.8L268.6 180.8L270.8 181.1L269.2 182.6L269.6 184.8L267.7 183.7L265.8 184.8L266.2 182.6L264.6 181.1L266.8 180.8ZM227.8 186.6L228.7 188.6L230.9 188.9L229.3 190.4L229.7 192.6L227.8 191.5L225.9 192.6L226.3 190.4L224.7 188.9L226.9 188.6ZM244.0 187.6L244.9 189.6L247.1 189.9L245.5 191.4L245.9 193.6L244.0 192.5L242.1 193.6L242.5 191.4L240.9 189.9L243.1 189.6ZM212.6 202.5L213.5 204.5L215.7 204.8L214.1 206.3L214.5 208.5L212.6 207.4L210.7 208.5L211.1 206.3L209.5 204.8L211.7 204.5ZM173.3 153.4L174.2 155.4L176.4 155.7L174.8 157.2L175.2 159.4L173.3 158.3L171.4 159.4L171.8 157.2L170.2 155.7L172.4 155.4ZM112.2 159.4L113.1 161.4L115.3 161.7L113.7 163.2L114.1 165.4L112.2 164.3L110.3 165.4L110.7 163.2L109.1 161.7L111.3 161.4ZM112.2 166.4L113.1 168.4L115.3 168.7L113.7 170.2L114.1 172.4L112.2 171.3L110.3 172.4L110.7 170.2L109.1 168.7L111.3 168.4ZM132.7 147.0L133.6 149.0L135.8 149.3L134.2 150.8L134.6 153.0L132.7 151.9L130.8 153.0L131.2 150.8L129.6 149.3L131.8 149.0ZM118.6 148.8L119.5 150.8L121.7 151.1L120.1 152.6L120.5 154.8L118.6 153.7L116.7 154.8L117.1 152.6L115.5 151.1L117.7 150.8ZM101.6 137.5L102.5 139.5L104.7 139.8L103.1 141.3L103.5 143.5L101.6 142.4L99.7 143.5L100.1 141.3L98.5 139.8L100.7 139.5ZM83.9 136.4L84.8 138.4L87.0 138.7L85.4 140.2L85.8 142.4L83.9 141.3L82.0 142.4L82.4 140.2L80.8 138.7L83.0 138.4ZM63.8 134.6L64.7 136.6L66.9 136.9L65.3 138.4L65.7 140.6L63.8 139.5L61.9 140.6L62.3 138.4L60.7 136.9L62.9 136.6ZM48.6 129.3L49.5 131.3L51.7 131.6L50.1 133.1L50.5 135.3L48.6 134.2L46.7 135.3L47.1 133.1L45.5 131.6L47.7 131.3ZM184.6 71.0L185.5 73.0L187.7 73.3L186.1 74.8L186.5 77.0L184.6 75.9L182.7 77.0L183.1 74.8L181.5 73.3L183.7 73.0ZM186.4 69.3L187.3 71.3L189.5 71.6L187.9 73.1L188.3 75.3L186.4 74.2L184.5 75.3L184.9 73.1L183.3 71.6L185.5 71.3ZM132.3 47.0L133.2 49.0L135.4 49.3L133.8 50.8L134.2 53.0L132.3 51.9L130.4 53.0L130.8 50.8L129.2 49.3L131.4 49.0ZM130.6 44.5L131.5 46.5L133.7 46.8L132.1 48.3L132.5 50.5L130.6 49.4L128.7 50.5L129.1 48.3L127.5 46.8L129.7 46.5ZM162.4 108.1L163.3 110.1L165.5 110.4L163.9 111.9L164.3 114.1L162.4 113.0L160.5 114.1L160.9 111.9L159.3 110.4L161.5 110.1ZM158.1 111.7L159.0 113.7L161.2 114.0L159.6 115.5L160.0 117.7L158.1 116.6L156.2 117.7L156.6 115.5L155.0 114.0L157.2 113.7ZM151.1 90.5L152.0 92.5L154.2 92.8L152.6 94.3L153.0 96.5L151.1 95.4L149.2 96.5L149.6 94.3L148.0 92.8L150.2 92.5ZM152.8 79.9L153.7 81.9L155.9 82.2L154.3 83.7L154.7 85.9L152.8 84.8L150.9 85.9L151.3 83.7L149.7 82.2L151.9 81.9ZM144.0 71.0L144.9 73.0L147.1 73.3L145.5 74.8L145.9 77.0L144.0 75.9L142.1 77.0L142.5 74.8L140.9 73.3L143.1 73.0ZM233.4 82.9L234.3 84.9L236.5 85.2L234.9 86.7L235.3 88.9L233.4 87.8L231.5 88.9L231.9 86.7L230.3 85.2L232.5 84.9ZM233.4 85.5L234.3 87.5L236.5 87.8L234.9 89.3L235.3 91.5L233.4 90.4L231.5 91.5L231.9 89.3L230.3 87.8L232.5 87.5ZM236.6 94.7L237.5 96.7L239.7 97.0L238.1 98.5L238.5 100.7L236.6 99.6L234.7 100.7L235.1 98.5L233.5 97.0L235.7 96.7ZM236.6 97.4L237.5 99.4L239.7 99.7L238.1 101.2L238.5 103.4L236.6 102.3L234.7 103.4L235.1 101.2L233.5 99.7L235.7 99.4ZM250.4 98.7L251.3 100.7L253.5 101.0L251.9 102.5L252.3 104.7L250.4 103.6L248.5 104.7L248.9 102.5L247.3 101.0L249.5 100.7ZM213.4 100.3L214.3 102.3L216.5 102.6L214.9 104.1L215.3 106.3L213.4 105.2L211.5 106.3L211.9 104.1L210.3 102.6L212.5 102.3ZM176.0 66.7L176.9 68.7L179.1 69.0L177.5 70.5L177.9 72.7L176.0 71.6L174.1 72.7L174.5 70.5L172.9 69.0L175.1 68.7ZM183.0 62.7L183.9 64.7L186.1 65.0L184.5 66.5L184.9 68.7L183.0 67.6L181.1 68.7L181.5 66.5L179.9 65.0L182.1 64.7ZM105.0 53.7L105.9 55.7L108.1 56.0L106.5 57.5L106.9 59.7L105.0 58.6L103.1 59.7L103.5 57.5L101.9 56.0L104.1 55.7ZM108.0 59.7L108.9 61.7L111.1 62.0L109.5 63.5L109.9 65.7L108.0 64.6L106.1 65.7L106.5 63.5L104.9 62.0L107.1 61.7ZM120.0 56.7L120.9 58.7L123.1 59.0L121.5 60.5L121.9 62.7L120.0 61.6L118.1 62.7L118.5 60.5L116.9 59.0L119.1 58.7ZM70.0 76.7L70.9 78.7L73.1 79.0L71.5 80.5L71.9 82.7L70.0 81.6L68.1 82.7L68.5 80.5L66.9 79.0L69.1 78.7ZM124.7 86.0L125.6 88.1L127.8 88.3L126.2 89.8L126.6 92.0L124.7 90.9L122.8 92.0L123.2 89.8L121.6 88.3L123.8 88.1ZM115.0 89.3L115.9 91.3L118.1 91.6L116.5 93.1L116.9 95.3L115.0 94.2L113.0 95.3L113.5 93.1L111.8 91.6L114.0 91.3ZM117.2 83.1L118.1 85.1L120.3 85.4L118.7 86.9L119.1 89.1L117.2 88.0L115.2 89.1L115.7 86.9L114.0 85.4L116.2 85.1ZM110.9 85.7L111.9 87.7L114.1 88.0L112.4 89.5L112.9 91.7L110.9 90.6L109.0 91.7L109.4 89.5L107.8 88.0L110.0 87.7ZM107.6 85.3L108.6 87.3L110.8 87.6L109.1 89.1L109.6 91.3L107.6 90.2L105.7 91.3L106.1 89.1L104.5 87.6L106.7 87.3ZM110.4 87.6L111.4 89.6L113.6 89.8L111.9 91.3L112.4 93.5L110.4 92.4L108.5 93.5L108.9 91.3L107.3 89.8L109.5 89.6ZM108.5 90.4L109.4 92.4L111.6 92.7L110.0 94.2L110.4 96.4L108.5 95.3L106.5 96.4L107.0 94.2L105.3 92.7L107.5 92.4ZM110.3 75.9L111.2 77.9L113.4 78.2L111.8 79.7L112.2 81.9L110.3 80.8L108.3 81.9L108.8 79.7L107.1 78.2L109.3 77.9ZM119.0 87.1L119.9 89.2L122.1 89.4L120.5 90.9L120.9 93.1L119.0 92.0L117.0 93.1L117.4 90.9L115.8 89.4L118.0 89.2ZM109.3 89.8L110.2 91.8L112.4 92.1L110.8 93.6L111.2 95.7L109.3 94.7L107.3 95.7L107.8 93.6L106.1 92.1L108.4 91.8ZM114.1 88.9L115.1 90.9L117.3 91.2L115.7 92.7L116.1 94.9L114.1 93.8L112.2 94.9L112.6 92.7L111.0 91.2L113.2 90.9ZM108.7 89.5L109.7 91.5L111.9 91.7L110.2 93.3L110.7 95.4L108.7 94.4L106.8 95.4L107.2 93.3L105.6 91.7L107.8 91.5ZM105.3 94.5L106.2 96.5L108.5 96.8L106.8 98.3L107.3 100.4L105.3 99.4L103.4 100.4L103.8 98.3L102.2 96.8L104.4 96.5ZM106.7 87.9L107.6 89.9L109.8 90.2L108.2 91.7L108.6 93.8L106.7 92.8L104.7 93.8L105.2 91.7L103.5 90.2L105.7 89.9ZM113.1 89.6L114.0 91.6L116.2 91.9L114.6 93.4L115.0 95.5L113.1 94.5L111.2 95.5L111.6 93.4L110.0 91.9L112.2 91.6ZM111.8 90.6L112.7 92.7L114.9 92.9L113.3 94.4L113.7 96.6L111.8 95.5L109.8 96.6L110.3 94.4L108.6 92.9L110.8 92.7ZM94.8 87.8L95.8 89.8L98.0 90.0L96.3 91.6L96.8 93.7L94.8 92.6L92.9 93.7L93.3 91.6L91.7 90.0L93.9 89.8ZM111.6 86.4L112.5 88.5L114.7 88.7L113.1 90.2L113.5 92.4L111.6 91.3L109.6 92.4L110.0 90.2L108.4 88.7L110.6 88.5ZM120.0 84.3L120.9 86.3L123.1 86.6L121.5 88.1L121.9 90.2L120.0 89.2L118.1 90.2L118.5 88.1L116.9 86.6L119.1 86.3ZM111.9 80.0L112.9 82.1L115.1 82.3L113.4 83.8L113.9 86.0L111.9 84.9L110.0 86.0L110.4 83.8L108.8 82.3L111.0 82.1ZM113.7 81.7L114.6 83.7L116.9 83.9L115.2 85.4L115.7 87.6L113.7 86.5L111.8 87.6L112.2 85.4L110.6 83.9L112.8 83.7ZM104.5 97.6L105.4 99.7L107.6 99.9L106.0 101.4L106.4 103.6L104.5 102.5L102.5 103.6L103.0 101.4L101.3 99.9L103.5 99.7ZM115.9 88.1L116.8 90.2L119.0 90.4L117.4 91.9L117.8 94.1L115.9 93.0L113.9 94.1L114.4 91.9L112.7 90.4L114.9 90.2ZM113.2 82.4L114.1 84.4L116.3 84.6L114.7 86.2L115.1 88.3L113.2 87.2L111.3 88.3L111.7 86.2L110.1 84.6L112.3 84.4ZM107.0 89.9L108.0 91.9L110.2 92.2L108.5 93.7L109.0 95.9L107.0 94.8L105.1 95.9L105.5 93.7L103.9 92.2L106.1 91.9ZM101.6 89.3L102.6 91.3L104.8 91.6L103.2 93.1L103.6 95.2L101.6 94.2L99.7 95.2L100.1 93.1L98.5 91.6L100.7 91.3ZM103.6 88.7L104.5 90.7L106.7 90.9L105.1 92.4L105.5 94.6L103.6 93.5L101.6 94.6L102.1 92.4L100.4 90.9L102.6 90.7ZM106.7 95.3L107.6 97.3L109.8 97.6L108.2 99.1L108.6 101.2L106.7 100.2L104.8 101.2L105.2 99.1L103.6 97.6L105.8 97.3ZM117.5 86.1L118.4 88.1L120.6 88.4L119.0 89.9L119.4 92.0L117.5 91.0L115.6 92.0L116.0 89.9L114.4 88.4L116.6 88.1ZM102.8 85.0L103.7 87.0L105.9 87.3L104.3 88.8L104.7 91.0L102.8 89.9L100.8 91.0L101.2 88.8L99.6 87.3L101.8 87.0ZM112.1 84.1L113.0 86.2L115.2 86.4L113.6 87.9L114.0 90.1L112.1 89.0L110.1 90.1L110.5 87.9L108.9 86.4L111.1 86.2ZM113.8 92.2L114.7 94.2L116.9 94.5L115.3 96.0L115.7 98.2L113.8 97.1L111.8 98.2L112.3 96.0L110.6 94.5L112.8 94.2ZM112.1 86.4L113.0 88.4L115.2 88.7L113.6 90.2L114.0 92.4L112.1 91.3L110.1 92.4L110.6 90.2L108.9 88.7L111.1 88.4ZM116.3 87.0L117.2 89.0L119.4 89.3L117.8 90.8L118.2 92.9L116.3 91.9L114.4 92.9L114.8 90.8L113.2 89.3L115.4 89.0ZM116.7 86.9L117.6 88.9L119.8 89.2L118.2 90.7L118.6 92.9L116.7 91.8L114.7 92.9L115.1 90.7L113.5 89.2L115.7 88.9ZM120.5 87.0L121.5 89.1L123.7 89.3L122.1 90.8L122.5 93.0L120.5 91.9L118.6 93.0L119.0 90.8L117.4 89.3L119.6 89.1ZM107.0 88.6L107.9 90.6L110.1 90.9L108.5 92.4L108.9 94.5L107.0 93.5L105.0 94.5L105.5 92.4L103.8 90.9L106.0 90.6ZM109.1 84.4L110.1 86.4L112.3 86.6L110.6 88.2L111.1 90.3L109.1 89.2L107.2 90.3L107.6 88.2L106.0 86.6L108.2 86.4ZM111.7 91.2L112.6 93.2L114.8 93.5L113.2 95.0L113.6 97.2L111.7 96.1L109.8 97.2L110.2 95.0L108.6 93.5L110.8 93.2ZM101.4 88.0L102.3 90.0L104.5 90.3L102.9 91.8L103.3 94.0L101.4 92.9L99.4 94.0L99.9 91.8L98.2 90.3L100.4 90.0ZM81.9 85.4L82.8 87.4L85.0 87.7L83.4 89.2L83.8 91.3L81.9 90.3L79.9 91.3L80.4 89.2L78.8 87.7L81.0 87.4ZM94.5 125.7L95.4 127.7L97.6 128.0L96.0 129.5L96.4 131.7L94.5 130.6L92.6 131.7L93.0 129.5L91.4 128.0L93.6 127.7ZM100.1 92.6L101.0 94.6L103.2 94.8L101.6 96.4L102.0 98.5L100.1 97.5L98.2 98.5L98.6 96.4L97.0 94.8L99.2 94.6ZM89.7 84.3L90.6 86.4L92.8 86.6L91.2 88.1L91.6 90.3L89.7 89.2L87.7 90.3L88.2 88.1L86.5 86.6L88.7 86.4ZM83.8 97.6L84.7 99.7L86.9 99.9L85.3 101.4L85.7 103.6L83.8 102.5L81.8 103.6L82.3 101.4L80.6 99.9L82.9 99.7ZM56.5 135.0L57.4 137.0L59.6 137.3L58.0 138.8L58.4 141.0L56.5 139.9L54.6 141.0L55.0 138.8L53.4 137.3L55.6 137.0ZM48.8 113.1L49.7 115.1L51.9 115.4L50.3 116.9L50.7 119.1L48.8 118.0L46.9 119.1L47.3 116.9L45.7 115.4L47.9 115.1ZM96.7 95.9L97.6 97.9L99.8 98.2L98.2 99.7L98.6 101.8L96.7 100.8L94.7 101.8L95.1 99.7L93.5 98.2L95.7 97.9ZM55.5 135.3L56.4 137.3L58.6 137.6L57.0 139.1L57.4 141.3L55.5 140.2L53.5 141.3L54.0 139.1L52.3 137.6L54.5 137.3ZM69.1 125.2L70.0 127.2L72.2 127.4L70.6 128.9L71.0 131.1L69.1 130.0L67.1 131.1L67.6 128.9L65.9 127.4L68.1 127.2ZM44.0 103.2L45.0 105.2L47.2 105.4L45.5 107.0L46.0 109.1L44.0 108.1L42.1 109.1L42.5 107.0L40.9 105.4L43.1 105.2ZM53.0 122.4L53.9 124.4L56.1 124.7L54.5 126.2L54.9 128.4L53.0 127.3L51.1 128.4L51.5 126.2L49.9 124.7L52.1 124.4ZM47.3 139.9L48.2 141.9L50.4 142.2L48.8 143.7L49.2 145.9L47.3 144.8L45.4 145.9L45.8 143.7L44.2 142.2L46.4 141.9ZM43.6 125.9L44.6 127.9L46.8 128.2L45.1 129.7L45.6 131.9L43.6 130.8L41.7 131.9L42.1 129.7L40.5 128.2L42.7 127.9ZM43.4 96.6L44.3 98.6L46.5 98.8L44.9 100.3L45.3 102.5L43.4 101.4L41.4 102.5L41.8 100.3L40.2 98.8L42.4 98.6ZM94.1 90.4L95.0 92.5L97.2 92.7L95.6 94.2L96.0 96.4L94.1 95.3L92.1 96.4L92.5 94.2L90.9 92.7L93.1 92.5ZM53.8 123.6L54.7 125.6L56.9 125.9L55.3 127.4L55.7 129.5L53.8 128.5L51.8 129.5L52.3 127.4L50.6 125.9L52.8 125.6ZM66.7 83.4L67.6 85.4L69.8 85.7L68.2 87.2L68.6 89.3L66.7 88.3L64.7 89.3L65.2 87.2L63.5 85.7L65.7 85.4ZM105.4 90.1L106.3 92.1L108.5 92.4L106.9 93.9L107.3 96.1L105.4 95.0L103.4 96.1L103.9 93.9L102.2 92.4L104.4 92.1ZM44.3 102.0L45.3 104.1L47.5 104.3L45.8 105.8L46.3 108.0L44.3 106.9L42.4 108.0L42.8 105.8L41.2 104.3L43.4 104.1ZM81.4 126.7L82.3 128.8L84.5 129.0L82.9 130.5L83.3 132.7L81.4 131.6L79.4 132.7L79.9 130.5L78.2 129.0L80.4 128.8ZM49.2 101.6L50.2 103.6L52.4 103.9L50.7 105.4L51.2 107.6L49.2 106.5L47.3 107.6L47.7 105.4L46.1 103.9L48.3 103.6ZM44.0 108.5L44.9 110.5L47.1 110.8L45.5 112.3L45.9 114.5L44.0 113.4L42.0 114.5L42.5 112.3L40.8 110.8L43.0 110.5ZM91.0 126.6L92.0 128.6L94.2 128.9L92.5 130.4L93.0 132.5L91.0 131.5L89.1 132.5L89.5 130.4L87.9 128.9L90.1 128.6ZM99.7 127.6L100.7 129.6L102.9 129.8L101.2 131.3L101.7 133.5L99.7 132.4L97.8 133.5L98.2 131.3L96.6 129.8L98.8 129.6ZM97.2 124.4L98.1 126.4L100.3 126.7L98.7 128.2L99.1 130.4L97.2 129.3L95.3 130.4L95.7 128.2L94.1 126.7L96.3 126.4ZM72.3 94.7L73.2 96.7L75.4 97.0L73.8 98.5L74.2 100.7L72.3 99.6L70.3 100.7L70.8 98.5L69.1 97.0L71.3 96.7ZM84.3 100.3L85.2 102.3L87.4 102.6L85.8 104.1L86.2 106.3L84.3 105.2L82.4 106.3L82.8 104.1L81.2 102.6L83.4 102.3ZM48.5 108.5L49.5 110.5L51.7 110.7L50.0 112.3L50.5 114.4L48.5 113.3L46.6 114.4L47.0 112.3L45.4 110.7L47.6 110.5ZM98.0 88.6L98.9 90.6L101.1 90.9L99.5 92.4L99.9 94.6L98.0 93.5L96.0 94.6L96.5 92.4L94.8 90.9L97.1 90.6ZM79.4 105.1L80.4 107.1L82.6 107.3L80.9 108.9L81.4 111.0L79.4 109.9L77.5 111.0L77.9 108.9L76.3 107.3L78.5 107.1ZM74.9 89.6L75.9 91.6L78.1 91.9L76.5 93.4L76.9 95.6L74.9 94.5L73.0 95.6L73.4 93.4L71.8 91.9L74.0 91.6ZM103.4 96.8L104.4 98.8L106.6 99.0L104.9 100.6L105.4 102.7L103.4 101.6L101.5 102.7L101.9 100.6L100.3 99.0L102.5 98.8ZM80.8 106.7L81.7 108.7L83.9 109.0L82.3 110.5L82.7 112.7L80.8 111.6L78.8 112.7L79.3 110.5L77.7 109.0L79.9 108.7ZM43.2 115.3L44.1 117.3L46.3 117.6L44.7 119.1L45.1 121.3L43.2 120.2L41.2 121.3L41.6 119.1L40.0 117.6L42.2 117.3ZM51.0 84.2L51.9 86.2L54.1 86.5L52.5 88.0L52.9 90.2L51.0 89.1L49.1 90.2L49.5 88.0L47.9 86.5L50.1 86.2ZM44.1 90.7L45.1 92.7L47.3 93.0L45.7 94.5L46.1 96.7L44.1 95.6L42.2 96.7L42.6 94.5L41.0 93.0L43.2 92.7ZM48.1 120.1L49.1 122.1L51.3 122.4L49.6 123.9L50.1 126.0L48.1 125.0L46.2 126.0L46.6 123.9L45.0 122.4L47.2 122.1ZM74.5 141.7L75.5 143.7L77.7 144.0L76.0 145.5L76.5 147.6L74.5 146.6L72.6 147.6L73.0 145.5L71.4 144.0L73.6 143.7ZM101.8 142.4L102.7 144.4L104.9 144.6L103.3 146.2L103.7 148.3L101.8 147.2L99.8 148.3L100.3 146.2L98.6 144.6L100.9 144.4ZM56.9 108.3L57.8 110.3L60.0 110.6L58.4 112.1L58.8 114.2L56.9 113.2L54.9 114.2L55.4 112.1L53.7 110.6L55.9 110.3ZM58.0 117.4L59.0 119.4L61.2 119.6L59.6 121.1L60.0 123.3L58.0 122.2L56.1 123.3L56.5 121.1L54.9 119.6L57.1 119.4ZM81.9 130.3L82.9 132.3L85.1 132.6L83.5 134.1L83.9 136.3L81.9 135.2L80.0 136.3L80.4 134.1L78.8 132.6L81.0 132.3ZM87.4 96.6L88.3 98.6L90.5 98.9L88.9 100.4L89.3 102.6L87.4 101.5L85.5 102.6L85.9 100.4L84.3 98.9L86.5 98.6ZM69.1 113.3L70.0 115.3L72.2 115.6L70.6 117.1L71.0 119.3L69.1 118.2L67.1 119.3L67.6 117.1L65.9 115.6L68.1 115.3ZM42.3 82.9L43.2 84.9L45.4 85.2L43.8 86.7L44.2 88.9L42.3 87.8L40.4 88.9L40.8 86.7L39.2 85.2L41.4 84.9ZM68.2 87.6L69.1 89.6L71.3 89.9L69.7 91.4L70.1 93.6L68.2 92.5L66.2 93.6L66.7 91.4L65.0 89.9L67.2 89.6ZM88.3 95.6L89.3 97.7L91.5 97.9L89.8 99.4L90.3 101.6L88.3 100.5L86.4 101.6L86.8 99.4L85.2 97.9L87.4 97.7ZM48.4 92.0L49.3 94.0L51.5 94.2L49.9 95.8L50.3 97.9L48.4 96.9L46.4 97.9L46.9 95.8L45.2 94.2L47.5 94.0ZM56.8 94.2L57.7 96.2L60.0 96.5L58.3 98.0L58.8 100.1L56.8 99.1L54.9 100.1L55.3 98.0L53.7 96.5L55.9 96.2ZM75.3 109.5L76.3 111.5L78.5 111.8L76.8 113.3L77.3 115.5L75.3 114.4L73.4 115.5L73.8 113.3L72.2 111.8L74.4 111.5ZM61.8 120.5L62.8 122.5L65.0 122.8L63.3 124.3L63.8 126.5L61.8 125.4L59.9 126.5L60.3 124.3L58.7 122.8L60.9 122.5ZM55.6 136.9L56.5 138.9L58.7 139.2L57.1 140.7L57.5 142.9L55.6 141.8L53.7 142.9L54.1 140.7L52.5 139.2L54.7 138.9ZM103.6 125.9L104.6 127.9L106.8 128.2L105.1 129.7L105.6 131.9L103.6 130.8L101.7 131.9L102.1 129.7L100.5 128.2L102.7 127.9ZM69.8 112.4L70.7 114.4L72.9 114.7L71.3 116.2L71.7 118.4L69.8 117.3L67.8 118.4L68.3 116.2L66.6 114.7L68.8 114.4ZM79.2 83.9L80.1 85.9L82.3 86.2L80.7 87.7L81.1 89.8L79.2 88.8L77.2 89.8L77.7 87.7L76.1 86.2L78.3 85.9ZM68.8 113.3L69.7 115.3L71.9 115.5L70.3 117.0L70.7 119.2L68.8 118.1L66.8 119.2L67.2 117.0L65.6 115.5L67.8 115.3ZM53.6 86.5L54.5 88.5L56.7 88.8L55.1 90.3L55.5 92.5L53.6 91.4L51.7 92.5L52.1 90.3L50.5 88.8L52.7 88.5ZM93.4 103.4L94.3 105.4L96.5 105.7L94.9 107.2L95.3 109.4L93.4 108.3L91.4 109.4L91.9 107.2L90.2 105.7L92.4 105.4ZM75.2 137.8L76.2 139.8L78.4 140.1L76.7 141.6L77.2 143.8L75.2 142.7L73.3 143.8L73.7 141.6L72.1 140.1L74.3 139.8ZM81.1 98.7L82.0 100.7L84.2 100.9L82.6 102.4L83.0 104.6L81.1 103.5L79.1 104.6L79.6 102.4L77.9 100.9L80.1 100.7ZM104.9 103.8L105.9 105.8L108.1 106.1L106.5 107.6L106.9 109.7L104.9 108.7L103.0 109.7L103.4 107.6L101.8 106.1L104.0 105.8ZM43.2 123.2L44.2 125.2L46.4 125.5L44.7 127.0L45.2 129.2L43.2 128.1L41.3 129.2L41.7 127.0L40.1 125.5L42.3 125.2ZM48.5 99.7L49.4 101.7L51.6 101.9L50.0 103.5L50.4 105.6L48.5 104.6L46.5 105.6L47.0 103.5L45.3 101.9L47.5 101.7ZM95.8 122.4L96.7 124.4L98.9 124.7L97.3 126.2L97.7 128.4L95.8 127.3L93.9 128.4L94.3 126.2L92.7 124.7L94.9 124.4ZM43.0 108.7L43.9 110.7L46.1 111.0L44.5 112.5L44.9 114.7L43.0 113.6L41.1 114.7L41.5 112.5L39.9 111.0L42.1 110.7ZM68.3 110.8L69.2 112.8L71.4 113.1L69.8 114.6L70.2 116.8L68.3 115.7L66.3 116.8L66.8 114.6L65.1 113.1L67.4 112.8ZM55.3 117.2L56.3 119.2L58.5 119.5L56.8 121.0L57.3 123.2L55.3 122.1L53.4 123.2L53.8 121.0L52.2 119.5L54.4 119.2ZM46.7 98.3L47.7 100.3L49.9 100.6L48.2 102.1L48.7 104.3L46.7 103.2L44.8 104.3L45.2 102.1L43.6 100.6L45.8 100.3ZM65.9 138.7L66.8 140.7L69.0 141.0L67.4 142.5L67.8 144.7L65.9 143.6L63.9 144.7L64.4 142.5L62.7 141.0L64.9 140.7ZM46.9 127.5L47.8 129.5L50.0 129.8L48.4 131.3L48.8 133.5L46.9 132.4L45.0 133.5L45.4 131.3L43.8 129.8L46.0 129.5ZM54.3 116.1L55.2 118.2L57.4 118.4L55.8 119.9L56.3 122.1L54.3 121.0L52.4 122.1L52.8 119.9L51.2 118.4L53.4 118.2ZM67.1 109.4L68.0 111.4L70.2 111.7L68.6 113.2L69.0 115.4L67.1 114.3L65.1 115.4L65.6 113.2L63.9 111.7L66.1 111.4ZM90.2 105.2L91.2 107.2L93.4 107.5L91.7 109.0L92.2 111.2L90.2 110.1L88.3 111.2L88.7 109.0L87.1 107.5L89.3 107.2ZM49.8 88.2L50.7 90.3L52.9 90.5L51.3 92.0L51.7 94.2L49.8 93.1L47.9 94.2L48.3 92.0L46.7 90.5L48.9 90.3ZM47.2 133.4L48.1 135.4L50.3 135.7L48.7 137.2L49.1 139.4L47.2 138.3L45.2 139.4L45.6 137.2L44.0 135.7L46.2 135.4ZM83.0 140.2L84.0 142.2L86.2 142.5L84.5 144.0L85.0 146.2L83.0 145.1L81.1 146.2L81.5 144.0L79.9 142.5L82.1 142.2ZM86.3 82.2L87.3 84.2L89.5 84.5L87.8 86.0L88.3 88.2L86.3 87.1L84.4 88.2L84.8 86.0L83.2 84.5L85.4 84.2ZM84.2 128.9L85.1 130.9L87.3 131.2L85.7 132.7L86.1 134.9L84.2 133.8L82.2 134.9L82.7 132.7L81.0 131.2L83.3 130.9ZM88.3 111.6L89.2 113.6L91.4 113.9L89.8 115.4L90.2 117.5L88.3 116.5L86.4 117.5L86.8 115.4L85.2 113.9L87.4 113.6ZM64.9 109.0L65.8 111.1L68.0 111.3L66.4 112.8L66.8 115.0L64.9 113.9L62.9 115.0L63.4 112.8L61.7 111.3L64.0 111.1ZM93.1 97.4L94.0 99.4L96.3 99.7L94.6 101.2L95.1 103.3L93.1 102.3L91.2 103.3L91.6 101.2L90.0 99.7L92.2 99.4ZM75.7 110.3L76.6 112.3L78.8 112.6L77.2 114.1L77.6 116.3L75.7 115.2L73.7 116.3L74.2 114.1L72.5 112.6L74.8 112.3ZM103.1 130.6L104.0 132.6L106.2 132.8L104.6 134.4L105.0 136.5L103.1 135.5L101.2 136.5L101.6 134.4L100.0 132.8L102.2 132.6ZM101.7 132.5L102.6 134.6L104.8 134.8L103.2 136.3L103.6 138.5L101.7 137.4L99.7 138.5L100.1 136.3L98.5 134.8L100.7 134.6ZM61.0 95.1L61.9 97.1L64.1 97.3L62.5 98.9L62.9 101.0L61.0 99.9L59.1 101.0L59.5 98.9L57.9 97.3L60.1 97.1ZM73.3 96.8L74.2 98.8L76.4 99.1L74.8 100.6L75.2 102.8L73.3 101.7L71.3 102.8L71.8 100.6L70.1 99.1L72.4 98.8ZM69.4 122.8L70.3 124.8L72.5 125.1L70.9 126.6L71.3 128.8L69.4 127.7L67.4 128.8L67.9 126.6L66.2 125.1L68.4 124.8ZM100.8 117.0L101.7 119.0L103.9 119.3L102.3 120.8L102.7 123.0L100.8 121.9L98.8 123.0L99.3 120.8L97.7 119.3L99.9 119.0ZM94.3 86.6L95.3 88.7L97.5 88.9L95.8 90.4L96.3 92.6L94.3 91.5L92.4 92.6L92.8 90.4L91.2 88.9L93.4 88.7ZM64.8 142.6L65.7 144.6L67.9 144.8L66.3 146.3L66.7 148.5L64.8 147.4L62.8 148.5L63.3 146.3L61.6 144.8L63.9 144.6ZM51.4 106.5L52.3 108.6L54.5 108.8L52.9 110.3L53.3 112.5L51.4 111.4L49.4 112.5L49.9 110.3L48.2 108.8L50.4 108.6ZM46.3 86.0L47.2 88.1L49.4 88.3L47.8 89.8L48.2 92.0L46.3 90.9L44.3 92.0L44.8 89.8L43.1 88.3L45.3 88.1ZM99.3 142.0L100.2 144.0L102.5 144.3L100.8 145.8L101.3 148.0L99.3 146.9L97.4 148.0L97.8 145.8L96.2 144.3L98.4 144.0ZM83.5 88.7L84.4 90.7L86.6 90.9L85.0 92.5L85.4 94.6L83.5 93.6L81.5 94.6L82.0 92.5L80.3 90.9L82.5 90.7ZM61.0 95.1L61.9 97.1L64.1 97.3L62.5 98.9L62.9 101.0L61.0 99.9L59.0 101.0L59.5 98.9L57.8 97.3L60.0 97.1ZM84.9 122.9L85.9 124.9L88.1 125.2L86.4 126.7L86.9 128.9L84.9 127.8L83.0 128.9L83.4 126.7L81.8 125.2L84.0 124.9ZM70.1 113.2L71.0 115.2L73.2 115.5L71.6 117.0L72.0 119.2L70.1 118.1L68.1 119.2L68.6 117.0L66.9 115.5L69.2 115.2ZM49.2 114.2L50.1 116.3L52.3 116.5L50.7 118.0L51.1 120.2L49.2 119.1L47.2 120.2L47.7 118.0L46.0 116.5L48.2 116.3ZM102.8 127.6L103.7 129.6L105.9 129.8L104.3 131.3L104.7 133.5L102.8 132.4L100.9 133.5L101.3 131.3L99.7 129.8L101.9 129.6ZM48.2 112.7L49.1 114.7L51.3 115.0L49.7 116.5L50.1 118.7L48.2 117.6L46.2 118.7L46.6 116.5L45.0 115.0L47.2 114.7ZM87.8 96.7L88.7 98.7L90.9 98.9L89.3 100.4L89.7 102.6L87.8 101.5L85.8 102.6L86.3 100.4L84.6 98.9L86.9 98.7ZM99.3 109.3L100.2 111.3L102.4 111.6L100.8 113.1L101.2 115.2L99.3 114.2L97.3 115.2L97.8 113.1L96.1 111.6L98.3 111.3ZM87.0 105.8L87.9 107.8L90.1 108.0L88.5 109.5L88.9 111.7L87.0 110.6L85.1 111.7L85.5 109.5L83.9 108.0L86.1 107.8ZM105.7 129.2L106.6 131.3L108.8 131.5L107.2 133.0L107.6 135.2L105.7 134.1L103.7 135.2L104.2 133.0L102.6 131.5L104.8 131.3ZM78.7 89.7L79.6 91.7L81.8 92.0L80.2 93.5L80.6 95.6L78.7 94.6L76.8 95.6L77.2 93.5L75.6 92.0L77.8 91.7ZM70.2 82.5L71.2 84.5L73.4 84.8L71.7 86.3L72.2 88.5L70.2 87.4L68.3 88.5L68.7 86.3L67.1 84.8L69.3 84.5ZM80.1 135.4L81.0 137.4L83.2 137.7L81.6 139.2L82.0 141.3L80.1 140.3L78.2 141.3L78.6 139.2L77.0 137.7L79.2 137.4ZM53.5 112.3L54.5 114.3L56.7 114.6L55.1 116.1L55.5 118.3L53.5 117.2L51.6 118.3L52.0 116.1L50.4 114.6L52.6 114.3ZM72.9 105.8L73.8 107.8L76.0 108.1L74.4 109.6L74.8 111.8L72.9 110.7L70.9 111.8L71.4 109.6L69.7 108.1L71.9 107.8ZM87.5 138.8L88.4 140.8L90.6 141.1L89.0 142.6L89.4 144.7L87.5 143.7L85.5 144.7L86.0 142.6L84.3 141.1L86.5 140.8ZM87.1 110.0L88.1 112.0L90.3 112.3L88.7 113.8L89.1 116.0L87.1 114.9L85.2 116.0L85.6 113.8L84.0 112.3L86.2 112.0ZM103.6 101.2L104.5 103.2L106.7 103.5L105.1 105.0L105.5 107.2L103.6 106.1L101.6 107.2L102.1 105.0L100.4 103.5L102.6 103.2ZM89.7 121.5L90.7 123.5L92.9 123.8L91.2 125.3L91.7 127.5L89.7 126.4L87.8 127.5L88.2 125.3L86.6 123.8L88.8 123.5ZM90.7 133.5L91.7 135.5L93.9 135.8L92.2 137.3L92.7 139.5L90.7 138.4L88.8 139.5L89.2 137.3L87.6 135.8L89.8 135.5ZM85.7 132.3L86.7 134.4L88.9 134.6L87.3 136.1L87.7 138.3L85.7 137.2L83.8 138.3L84.2 136.1L82.6 134.6L84.8 134.4ZM74.3 128.7L75.2 130.7L77.4 130.9L75.8 132.4L76.2 134.6L74.3 133.5L72.3 134.6L72.8 132.4L71.1 130.9L73.4 130.7ZM95.2 121.3L96.2 123.3L98.4 123.6L96.7 125.1L97.2 127.3L95.2 126.2L93.3 127.3L93.7 125.1L92.1 123.6L94.3 123.3ZM92.9 123.3L93.8 125.3L96.1 125.6L94.4 127.1L94.9 129.2L92.9 128.2L91.0 129.2L91.4 127.1L89.8 125.6L92.0 125.3ZM80.0 108.6L81.0 110.6L83.2 110.9L81.5 112.4L82.0 114.6L80.0 113.5L78.1 114.6L78.5 112.4L76.9 110.9L79.1 110.6ZM75.4 112.3L76.3 114.3L78.5 114.6L76.9 116.1L77.3 118.2L75.4 117.2L73.4 118.2L73.8 116.1L72.2 114.6L74.4 114.3ZM103.1 124.5L104.0 126.5L106.2 126.8L104.6 128.3L105.0 130.5L103.1 129.4L101.1 130.5L101.5 128.3L99.9 126.8L102.1 126.5ZM82.6 113.2L83.5 115.2L85.7 115.5L84.1 117.0L84.5 119.2L82.6 118.1L80.7 119.2L81.1 117.0L79.5 115.5L81.7 115.2ZM97.8 114.5L98.7 116.6L100.9 116.8L99.3 118.3L99.7 120.5L97.8 119.4L95.8 120.5L96.3 118.3L94.6 116.8L96.8 116.6ZM95.9 130.3L96.8 132.3L99.0 132.6L97.4 134.1L97.8 136.3L95.9 135.2L93.9 136.3L94.4 134.1L92.7 132.6L94.9 132.3ZM84.6 118.1L85.5 120.1L87.7 120.3L86.1 121.8L86.5 124.0L84.6 122.9L82.6 124.0L83.1 121.8L81.4 120.3L83.6 120.1ZM83.6 113.4L84.5 115.4L86.8 115.7L85.1 117.2L85.6 119.4L83.6 118.3L81.7 119.4L82.1 117.2L80.5 115.7L82.7 115.4ZM89.2 134.5L90.1 136.5L92.3 136.8L90.7 138.3L91.1 140.5L89.2 139.4L87.3 140.5L87.7 138.3L86.1 136.8L88.3 136.5ZM91.1 130.0L92.1 132.1L94.3 132.3L92.6 133.8L93.1 136.0L91.1 134.9L89.2 136.0L89.6 133.8L88.0 132.3L90.2 132.1ZM78.4 124.8L79.3 126.9L81.5 127.1L79.9 128.6L80.3 130.8L78.4 129.7L76.5 130.8L76.9 128.6L75.3 127.1L77.5 126.9ZM75.8 119.5L76.7 121.5L78.9 121.8L77.3 123.3L77.7 125.5L75.8 124.4L73.8 125.5L74.3 123.3L72.6 121.8L74.9 121.5ZM89.8 140.2L90.8 142.3L93.0 142.5L91.3 144.0L91.8 146.2L89.8 145.1L87.9 146.2L88.3 144.0L86.7 142.5L88.9 142.3ZM84.6 122.9L85.5 125.0L87.7 125.2L86.1 126.7L86.5 128.9L84.6 127.8L82.6 128.9L83.1 126.7L81.4 125.2L83.6 125.0ZM117.5 133.3L118.4 135.3L120.7 135.6L119.0 137.1L119.5 139.3L117.5 138.2L115.6 139.3L116.0 137.1L114.4 135.6L116.6 135.3ZM122.4 127.8L123.4 129.8L125.6 130.1L123.9 131.6L124.4 133.7L122.4 132.7L120.5 133.7L120.9 131.6L119.3 130.1L121.5 129.8ZM119.5 133.2L120.5 135.2L122.7 135.5L121.0 137.0L121.5 139.2L119.5 138.1L117.6 139.2L118.0 137.0L116.4 135.5L118.6 135.2ZM125.0 135.1L125.9 137.1L128.1 137.4L126.5 138.9L126.9 141.0L125.0 140.0L123.1 141.0L123.5 138.9L121.9 137.4L124.1 137.1ZM125.8 132.7L126.7 134.7L129.0 135.0L127.3 136.5L127.8 138.7L125.8 137.6L123.9 138.7L124.3 136.5L122.7 135.0L124.9 134.7ZM134.3 135.5L135.3 137.5L137.5 137.8L135.8 139.3L136.3 141.5L134.3 140.4L132.4 141.5L132.8 139.3L131.2 137.8L133.4 137.5ZM130.8 137.9L131.8 139.9L134.0 140.2L132.3 141.7L132.8 143.8L130.8 142.8L128.9 143.8L129.3 141.7L127.7 140.2L129.9 139.9ZM128.1 129.2L129.0 131.2L131.2 131.5L129.6 133.0L130.0 135.2L128.1 134.1L126.2 135.2L126.6 133.0L125.0 131.5L127.2 131.2ZM123.0 127.2L123.9 129.2L126.1 129.5L124.5 131.0L124.9 133.2L123.0 132.1L121.1 133.2L121.5 131.0L119.9 129.5L122.1 129.2ZM128.8 131.3L129.7 133.3L131.9 133.6L130.3 135.1L130.7 137.2L128.8 136.2L126.8 137.2L127.3 135.1L125.6 133.6L127.8 133.3ZM129.6 135.6L130.5 137.6L132.7 137.9L131.1 139.4L131.5 141.6L129.6 140.5L127.6 141.6L128.1 139.4L126.4 137.9L128.6 137.6ZM122.9 133.3L123.9 135.4L126.1 135.6L124.4 137.1L124.9 139.3L122.9 138.2L121.0 139.3L121.4 137.1L119.8 135.6L122.0 135.4ZM133.4 133.0L134.3 135.0L136.5 135.3L134.9 136.8L135.3 139.0L133.4 137.9L131.4 139.0L131.9 136.8L130.2 135.3L132.4 135.0ZM131.7 132.0L132.6 134.0L134.8 134.3L133.2 135.8L133.6 138.0L131.7 136.9L129.7 138.0L130.2 135.8L128.5 134.3L130.7 134.0ZM122.2 131.9L123.2 133.9L125.4 134.2L123.7 135.7L124.2 137.9L122.2 136.8L120.3 137.9L120.7 135.7L119.1 134.2L121.3 133.9ZM117.5 135.2L118.5 137.2L120.7 137.5L119.0 139.0L119.5 141.2L117.5 140.1L115.6 141.2L116.0 139.0L114.4 137.5L116.6 137.2ZM124.4 137.4L125.3 139.4L127.5 139.7L125.9 141.2L126.3 143.4L124.4 142.3L122.5 143.4L122.9 141.2L121.3 139.7L123.5 139.4ZM120.8 133.1L121.7 135.2L124.0 135.4L122.3 136.9L122.8 139.1L120.8 138.0L118.9 139.1L119.3 136.9L117.7 135.4L119.9 135.2ZM128.7 132.0L129.6 134.0L131.9 134.3L130.2 135.8L130.7 138.0L128.7 136.9L126.8 138.0L127.2 135.8L125.6 134.3L127.8 134.0ZM128.9 130.0L129.8 132.1L132.1 132.3L130.4 133.8L130.9 136.0L128.9 134.9L127.0 136.0L127.4 133.8L125.8 132.3L128.0 132.1ZM121.6 127.7L122.5 129.8L124.7 130.0L123.1 131.5L123.5 133.7L121.6 132.6L119.7 133.7L120.1 131.5L118.5 130.0L120.7 129.8ZM124.2 129.8L125.1 131.8L127.3 132.1L125.7 133.6L126.1 135.8L124.2 134.7L122.2 135.8L122.6 133.6L121.0 132.1L123.2 131.8ZM128.2 131.4L129.1 133.4L131.3 133.7L129.7 135.2L130.1 137.4L128.2 136.3L126.3 137.4L126.7 135.2L125.1 133.7L127.3 133.4ZM123.7 130.1L124.6 132.1L126.8 132.4L125.2 133.9L125.6 136.1L123.7 135.0L121.7 136.1L122.2 133.9L120.5 132.4L122.7 132.1ZM117.4 131.4L118.4 133.4L120.6 133.7L118.9 135.2L119.4 137.4L117.4 136.3L115.5 137.4L115.9 135.2L114.3 133.7L116.5 133.4ZM129.1 128.0L130.0 130.0L132.2 130.3L130.6 131.8L131.0 134.0L129.1 132.9L127.1 134.0L127.6 131.8L125.9 130.3L128.2 130.0ZM160.1 91.7L161.0 93.8L163.2 94.0L161.6 95.5L162.0 97.7L160.1 96.6L158.2 97.7L158.6 95.5L157.0 94.0L159.2 93.8ZM158.5 90.3L159.5 92.3L161.7 92.6L160.1 94.1L160.5 96.2L158.5 95.2L156.6 96.2L157.0 94.1L155.4 92.6L157.6 92.3ZM159.5 97.1L160.4 99.2L162.6 99.4L161.0 100.9L161.4 103.1L159.5 102.0L157.5 103.1L158.0 100.9L156.3 99.4L158.6 99.2ZM165.9 93.3L166.9 95.3L169.1 95.6L167.4 97.1L167.9 99.3L165.9 98.2L164.0 99.3L164.4 97.1L162.8 95.6L165.0 95.3ZM158.6 91.7L159.5 93.7L161.7 93.9L160.1 95.5L160.5 97.6L158.6 96.6L156.6 97.6L157.1 95.5L155.4 93.9L157.7 93.7ZM160.4 90.8L161.3 92.8L163.6 93.1L161.9 94.6L162.4 96.8L160.4 95.7L158.5 96.8L158.9 94.6L157.3 93.1L159.5 92.8ZM159.0 90.2L159.9 92.2L162.1 92.5L160.5 94.0L160.9 96.1L159.0 95.1L157.0 96.1L157.5 94.0L155.8 92.5L158.0 92.2ZM158.3 90.6L159.2 92.6L161.4 92.9L159.8 94.4L160.2 96.6L158.3 95.5L156.3 96.6L156.8 94.4L155.1 92.9L157.4 92.6ZM167.2 85.5L168.2 87.6L170.4 87.8L168.7 89.3L169.2 91.5L167.2 90.4L165.3 91.5L165.7 89.3L164.1 87.8L166.3 87.6ZM156.3 91.2L157.3 93.2L159.5 93.5L157.8 95.0L158.3 97.2L156.3 96.1L154.4 97.2L154.8 95.0L153.2 93.5L155.4 93.2ZM163.8 88.6L164.7 90.6L166.9 90.8L165.3 92.3L165.8 94.5L163.8 93.4L161.9 94.5L162.3 92.3L160.7 90.8L162.9 90.6ZM163.1 91.0L164.0 93.0L166.2 93.3L164.6 94.8L165.0 97.0L163.1 95.9L161.2 97.0L161.6 94.8L160.0 93.3L162.2 93.0ZM163.0 93.9L163.9 95.9L166.1 96.2L164.5 97.7L164.9 99.9L163.0 98.8L161.0 99.9L161.4 97.7L159.8 96.2L162.0 95.9ZM158.7 91.7L159.6 93.7L161.8 94.0L160.2 95.5L160.6 97.7L158.7 96.6L156.8 97.7L157.2 95.5L155.6 94.0L157.8 93.7ZM161.7 87.6L162.6 89.6L164.9 89.9L163.2 91.4L163.7 93.6L161.7 92.5L159.8 93.6L160.2 91.4L158.6 89.9L160.8 89.6ZM162.8 85.7L163.7 87.8L165.9 88.0L164.3 89.5L164.7 91.7L162.8 90.6L160.8 91.7L161.3 89.5L159.6 88.0L161.9 87.8ZM155.7 93.0L156.7 95.0L158.9 95.3L157.2 96.8L157.7 98.9L155.7 97.9L153.8 98.9L154.2 96.8L152.6 95.3L154.8 95.0ZM157.1 94.9L158.0 96.9L160.2 97.1L158.6 98.6L159.0 100.8L157.1 99.7L155.1 100.8L155.6 98.6L153.9 97.1L156.1 96.9ZM131.3 97.5L132.3 99.5L134.5 99.8L132.8 101.3L133.3 103.5L131.3 102.4L129.4 103.5L129.8 101.3L128.2 99.8L130.4 99.5ZM119.6 87.1L120.5 89.1L122.8 89.4L121.1 90.9L121.6 93.1L119.6 92.0L117.7 93.1L118.1 90.9L116.5 89.4L118.7 89.1ZM124.5 90.7L125.5 92.7L127.7 93.0L126.0 94.5L126.5 96.7L124.5 95.6L122.6 96.7L123.0 94.5L121.4 93.0L123.6 92.7ZM134.6 90.4L135.5 92.4L137.7 92.7L136.1 94.2L136.5 96.4L134.6 95.3L132.6 96.4L133.1 94.2L131.4 92.7L133.6 92.4ZM125.4 84.0L126.3 86.0L128.5 86.3L126.9 87.8L127.3 90.0L125.4 88.9L123.4 90.0L123.9 87.8L122.2 86.3L124.4 86.0ZM122.8 108.8L123.8 110.8L126.0 111.1L124.3 112.6L124.8 114.8L122.8 113.7L120.9 114.8L121.3 112.6L119.7 111.1L121.9 110.8ZM122.3 95.7L123.2 97.7L125.4 97.9L123.8 99.4L124.2 101.6L122.3 100.5L120.3 101.6L120.7 99.4L119.1 97.9L121.3 97.7ZM122.1 103.0L123.0 105.0L125.2 105.3L123.6 106.8L124.0 108.9L122.1 107.9L120.1 108.9L120.6 106.8L118.9 105.3L121.1 105.0ZM130.4 99.2L131.3 101.2L133.6 101.5L131.9 103.0L132.4 105.2L130.4 104.1L128.5 105.2L128.9 103.0L127.3 101.5L129.5 101.2ZM112.4 102.6L113.4 104.6L115.6 104.8L113.9 106.3L114.4 108.5L112.4 107.4L110.5 108.5L110.9 106.3L109.3 104.8L111.5 104.6ZM144.9 93.1L145.9 95.1L148.1 95.4L146.4 96.9L146.9 99.1L144.9 98.0L143.0 99.1L143.4 96.9L141.8 95.4L144.0 95.1ZM139.2 77.9L140.1 79.9L142.3 80.2L140.7 81.7L141.1 83.9L139.2 82.8L137.2 83.9L137.7 81.7L136.0 80.2L138.2 79.9ZM134.1 82.0L135.0 84.0L137.2 84.3L135.6 85.8L136.0 88.0L134.1 86.9L132.2 88.0L132.6 85.8L131.0 84.3L133.2 84.0ZM150.6 69.5L151.5 71.5L153.7 71.8L152.1 73.3L152.5 75.5L150.6 74.4L148.7 75.5L149.1 73.3L147.5 71.8L149.7 71.5ZM138.5 69.2L139.5 71.2L141.7 71.5L140.1 73.0L140.5 75.2L138.5 74.1L136.6 75.2L137.0 73.0L135.4 71.5L137.6 71.2ZM133.0 75.3L134.0 77.4L136.2 77.6L134.5 79.1L135.0 81.3L133.0 80.2L131.1 81.3L131.5 79.1L129.9 77.6L132.1 77.4ZM141.5 70.7L142.4 72.7L144.6 73.0L143.0 74.5L143.4 76.6L141.5 75.6L139.5 76.6L140.0 74.5L138.3 73.0L140.6 72.7ZM135.8 86.4L136.8 88.5L139.0 88.7L137.4 90.2L137.8 92.4L135.8 91.3L133.9 92.4L134.3 90.2L132.7 88.7L134.9 88.5ZM141.6 81.7L142.5 83.7L144.7 83.9L143.1 85.4L143.5 87.6L141.6 86.5L139.6 87.6L140.1 85.4L138.4 83.9L140.6 83.7ZM140.8 75.3L141.7 77.3L143.9 77.6L142.3 79.1L142.7 81.3L140.8 80.2L138.9 81.3L139.3 79.1L137.7 77.6L139.9 77.3ZM107.1 57.3L108.0 59.4L110.2 59.6L108.6 61.1L109.0 63.3L107.1 62.2L105.1 63.3L105.6 61.1L103.9 59.6L106.1 59.4ZM106.0 59.9L106.9 61.9L109.1 62.2L107.5 63.7L107.9 65.9L106.0 64.8L104.0 65.9L104.5 63.7L102.8 62.2L105.1 61.9ZM106.0 59.3L106.9 61.3L109.1 61.6L107.5 63.1L107.9 65.3L106.0 64.2L104.1 65.3L104.5 63.1L102.9 61.6L105.1 61.3ZM106.0 58.4L107.0 60.4L109.2 60.7L107.5 62.2L108.0 64.4L106.0 63.3L104.1 64.4L104.5 62.2L102.9 60.7L105.1 60.4ZM104.3 51.8L105.2 53.8L107.4 54.1L105.8 55.6L106.2 57.8L104.3 56.7L102.3 57.8L102.8 55.6L101.1 54.1L103.3 53.8ZM103.0 60.8L104.0 62.8L106.2 63.1L104.5 64.6L105.0 66.8L103.0 65.7L101.1 66.8L101.5 64.6L99.9 63.1L102.1 62.8ZM107.3 55.8L108.2 57.8L110.4 58.0L108.8 59.5L109.2 61.7L107.3 60.6L105.4 61.7L105.8 59.5L104.2 58.0L106.4 57.8ZM107.6 50.4L108.5 52.4L110.7 52.7L109.1 54.2L109.5 56.4L107.6 55.3L105.6 56.4L106.1 54.2L104.4 52.7L106.6 52.4Z" fill="#161616"/>
<path d="M99.6 31.7L104.2 40.0L94.9 40.0Z" fill="#4b4b8f"/>
<path d="M106.0 42.9L110.7 51.2L101.3 51.2ZM105.5 52.0L110.2 60.3L100.8 60.3ZM124.8 45.7L129.4 54.0L120.1 54.0ZM146.3 65.7L151.0 74.0L141.7 74.0ZM128.1 97.5L132.8 105.8L123.4 105.8ZM49.4 105.0L54.0 113.3L44.8 113.3ZM92.1 112.0L96.8 120.3L87.4 120.3ZM101.1 110.8L105.8 119.1L96.4 119.1ZM239.7 112.3L244.3 120.6L235.0 120.6ZM130.1 158.6L134.8 166.9L125.4 166.9ZM209.8 165.7L214.5 174.0L205.2 174.0Z" fill="#3d40cf"/>
</g></g>
<rect x="40.65" y="269.60" width="23.70" height="4.80" fill="#1c1c1c"/>
<rect x="40.65" y="486.50" width="23.70" height="4.90" fill="#1c1c1c"/>
<rect x="88.04" y="269.60" width="23.70" height="4.80" fill="#1c1c1c"/>
<rect x="88.04" y="486.50" width="23.70" height="4.90" fill="#1c1c1c"/>
<rect x="135.43" y="269.60" width="23.69" height="4.80" fill="#1c1c1c"/>
<rect x="135.43" y="486.50" width="23.69" height="4.90" fill="#1c1c1c"/>
<rect x="182.82" y="269.60" width="23.69" height="4.80" fill="#1c1c1c"/>
<rect x="182.82" y="486.50" width="23.69" height="4.90" fill="#1c1c1c"/>
<rect x="230.21" y="269.60" width="23.70" height="4.80" fill="#1c1c1c"/>
<rect x="230.21" y="486.50" width="23.70" height="4.90" fill="#1c1c1c"/>
<rect x="35.50" y="274.40" width="5.15" height="27.38" fill="#1c1c1c"/>
<rect x="277.60" y="274.40" width="4.85" height="27.38" fill="#1c1c1c"/>
<rect x="35.50" y="328.89" width="5.15" height="26.85" fill="#1c1c1c"/>
<rect x="277.60" y="328.89" width="4.85" height="26.85" fill="#1c1c1c"/>
<rect x="35.50" y="382.34" width="5.15" height="26.36" fill="#1c1c1c"/>
<rect x="277.60" y="382.34" width="4.85" height="26.36" fill="#1c1c1c"/>
<rect x="35.50" y="434.84" width="5.15" height="25.93" fill="#1c1c1c"/>
<rect x="277.60" y="434.84" width="4.85" height="25.93" fill="#1c1c1c"/>
<rect x="35.50" y="269.60" width="246.95" height="221.80" fill="none" stroke="#1c1c1c" stroke-width="0.75"/>
<path d="M35.50 274.40H282.45M35.50 486.50H282.45M40.65 269.60V491.40M277.60 269.60V491.40" fill="none" stroke="#1c1c1c" stroke-width="0.75"/>
<path d="M40.65 269.60V267.60M40.65 491.40V493.40M111.74 269.60V267.60M111.74 491.40V493.40M182.82 269.60V267.60M182.82 491.40V493.40M253.91 269.60V267.60M253.91 491.40V493.40M35.50 460.77H33.50M282.45 460.77H284.45M35.50 382.34H33.50M282.45 382.34H284.45M35.50 301.78H33.50M282.45 301.78H284.45" stroke="#1c1c1c" stroke-width="0.8" fill="none"/>
<text x="27" y="466.17" text-anchor="end" class="t14">24&#176;</text>
<text x="27" y="387.74" text-anchor="end" class="t14">27&#176;</text>
<text x="27" y="307.18" text-anchor="end" class="t14">30&#176;</text>
<g fill="#c9c9c9" stroke="#9a9a9a" stroke-width="0.8"><rect x="311.50" y="459.90" width="6.10" height="26.45"/><rect x="317.60" y="386.30" width="12.20" height="100.05"/><rect x="329.81" y="357.20" width="12.20" height="129.15"/><rect x="342.01" y="291.60" width="12.20" height="194.75"/><rect x="354.21" y="294.00" width="12.20" height="192.35"/><rect x="366.42" y="297.00" width="12.20" height="189.35"/><rect x="378.62" y="348.20" width="12.20" height="138.15"/><rect x="390.83" y="332.40" width="12.20" height="153.95"/><rect x="403.03" y="354.20" width="12.20" height="132.15"/><rect x="415.23" y="329.40" width="12.20" height="156.95"/><rect x="427.44" y="333.30" width="12.20" height="153.05"/><rect x="439.64" y="375.80" width="12.20" height="110.55"/><rect x="451.85" y="368.00" width="12.20" height="118.35"/><rect x="464.05" y="419.50" width="12.20" height="66.85"/><rect x="476.25" y="409.90" width="12.20" height="76.45"/><rect x="488.46" y="429.70" width="12.20" height="56.65"/><rect x="500.66" y="436.30" width="12.20" height="50.05"/><rect x="512.87" y="426.10" width="12.20" height="60.25"/><rect x="525.07" y="454.90" width="12.20" height="31.45"/><rect x="537.27" y="454.90" width="12.20" height="31.45"/><rect x="549.48" y="471.00" width="12.20" height="15.35"/><rect x="561.68" y="461.20" width="12.20" height="25.15"/><rect x="573.89" y="455.80" width="12.20" height="30.55"/><rect x="586.09" y="463.60" width="12.20" height="22.75"/><rect x="598.29" y="466.00" width="12.20" height="20.35"/><rect x="610.50" y="464.50" width="6.10" height="21.85"/></g>
<path d="M311.50 486.35H304.10M616.60 486.35H624.00M311.50 479.85H307.50M616.60 479.85H620.60M311.50 473.34H307.50M616.60 473.34H620.60M311.50 466.84H307.50M616.60 466.84H620.60M311.50 460.33H307.50M616.60 460.33H620.60M311.50 453.83H307.50M616.60 453.83H620.60M311.50 447.33H307.50M616.60 447.33H620.60M311.50 440.82H307.50M616.60 440.82H620.60M311.50 434.32H304.10M616.60 434.32H624.00M311.50 427.81H307.50M616.60 427.81H620.60M311.50 421.31H307.50M616.60 421.31H620.60M311.50 414.81H307.50M616.60 414.81H620.60M311.50 408.30H307.50M616.60 408.30H620.60M311.50 401.80H307.50M616.60 401.80H620.60M311.50 395.29H307.50M616.60 395.29H620.60M311.50 388.79H307.50M616.60 388.79H620.60M311.50 382.29H304.10M616.60 382.29H624.00M311.50 375.78H307.50M616.60 375.78H620.60M311.50 369.28H307.50M616.60 369.28H620.60M311.50 362.77H307.50M616.60 362.77H620.60M311.50 356.27H307.50M616.60 356.27H620.60M311.50 349.77H307.50M616.60 349.77H620.60M311.50 343.26H307.50M616.60 343.26H620.60M311.50 336.76H307.50M616.60 336.76H620.60M311.50 330.25H304.10M616.60 330.25H624.00M311.50 323.75H307.50M616.60 323.75H620.60M311.50 317.25H307.50M616.60 317.25H620.60M311.50 310.74H307.50M616.60 310.74H620.60M311.50 304.24H307.50M616.60 304.24H620.60M311.50 297.73H307.50M616.60 297.73H620.60M311.50 291.23H307.50M616.60 291.23H620.60M311.50 284.73H307.50M616.60 284.73H620.60M311.50 278.22H304.10M616.60 278.22H624.00M311.50 271.72H307.50M616.60 271.72H620.60M342.01 269.55V265.85M342.01 486.35V490.05M372.52 269.55V262.65M372.52 486.35V493.25M403.03 269.55V265.85M403.03 486.35V490.05M433.54 269.55V262.65M433.54 486.35V493.25M464.05 269.55V265.85M464.05 486.35V490.05M494.56 269.55V262.65M494.56 486.35V493.25M525.07 269.55V265.85M525.07 486.35V490.05M555.58 269.55V262.65M555.58 486.35V493.25M586.09 269.55V265.85M586.09 486.35V490.05" stroke="#1c1c1c" stroke-width="0.9" fill="none"/>
<rect x="311.50" y="269.55" width="305.10" height="216.80" fill="none" stroke="#161616" stroke-width="2.9"/>
<text x="651.5" y="491.55" text-anchor="end" class="t14">0</text>
<text x="651.5" y="439.52" text-anchor="end" class="t14">120</text>
<text x="651.5" y="387.49" text-anchor="end" class="t14">240</text>
<text x="651.5" y="335.45" text-anchor="end" class="t14">360</text>
<text x="651.5" y="283.42" text-anchor="end" class="t14">480</text>
<g transform="translate(0,508.20)">
<clipPath id="mc2"><rect x="40.65" y="20.30" width="236.95" height="212.10"/></clipPath>
<g clip-path="url(#mc2)">
<rect x="40.65" y="20.30" width="236.95" height="212.10" fill="#fff"/>
<path d="M39.0 136.1 L40.6 136.1 L45.0 136.1 L49.7 137.2 L53.2 139.6 L57.9 140.7 L61.4 140.2 L66.0 138.4 L69.5 137.2 L71.9 139.0 L75.4 139.6 L78.9 138.4 L82.4 137.2 L85.9 135.5 L89.4 133.1 L92.9 130.8 L95.0 127.0 L97.0 124.5 L101.0 124.6 L106.0 125.5 L109.5 127.5 L111.5 132.0 L113.0 138.0 L114.8 145.0 L116.8 150.9 L118.5 157.1 L120.3 159.7 L125.5 160.6 L130.8 162.4 L138.0 165.7 L141.3 164.4 L146.5 164.4 L151.8 165.7 L155.7 167.0 L161.0 169.7 L163.6 168.3 L167.6 167.7 L171.5 169.0 L176.8 170.3 L183.3 171.6 L188.6 172.3 L191.2 171.0 L195.1 169.7 L197.8 171.6 L201.6 172.3 L208.1 174.3 L216.7 178.9 L219.3 176.2 L221.3 175.6 L224.6 180.2 L226.5 178.9 L230.5 178.2 L232.4 176.2 L234.4 175.6 L237.0 176.9 L239.0 176.2 L241.0 174.9 L245.0 174.3 L250.2 174.3 L255.4 173.6 L260.7 174.3 L263.3 173.6 L265.9 172.3 L268.6 171.6 L273.8 171.6 L279.0 172.3 L279.0 234.0 L163.0 234.0 L162.3 231.4 L158.4 224.2 L154.4 218.9 L149.2 216.3 L141.3 216.3 L134.7 215.0 L128.1 212.5 L121.6 210.4 L118.1 208.4 L114.2 204.5 L109.0 199.2 L103.7 194.0 L99.8 188.7 L97.8 182.1 L97.1 175.6 L96.5 167.7 L95.8 163.6 L96.6 160.6 L97.5 158.0 L98.0 155.3 L98.8 152.7 L99.3 149.2 L98.8 146.1 L97.5 144.8 L96.2 145.2 L95.4 147.5 L94.6 150.5 L93.6 153.5 L92.0 157.0 L88.5 160.2 L84.0 162.6 L80.0 165.1 L77.4 167.7 L73.5 172.3 L69.5 176.9 L65.6 180.8 L61.7 183.4 L58.4 185.4 L56.4 187.4 L53.8 191.3 L51.1 193.3 L48.5 195.3 L45.9 197.9 L43.3 200.5 L40.6 203.8 L39.0 205.0 Z" fill="#e9e8e6" stroke="#333" stroke-width="0.6"/>
<path d="M41.2 203.6 L43.5 200.8 L46.5 198.2 L49.5 195.6 L51.6 194.6 L52.6 196.2 L50.5 198.6 L47.5 200.6 L44.0 202.8 L41.8 204.6 Z" fill="#fff" stroke="#333" stroke-width="0.5"/>
<path d="M70.8 137.5 L73.0 136.6 L76.2 137.1 L76.4 138.9 L73.5 139.5 L71.0 139.1 Z" fill="#fff" stroke="#333" stroke-width="0.5"/>
<path d="M96.0 147.5 L97.2 146.0 L98.3 147.2 L97.5 149.5 L96.3 149.4 Z" fill="#fff" stroke="#333" stroke-width="0.5"/>
<path d="M113 93l6 -2M164 94l-5 -6M81 105l41 -23M43 122l16 -5M110 90l-2 -27M85 144l-4 -50M170 134l-101 9M101 98l-13 30M128 102l-5 -9M155 91l6 1M112 90l5 -2M76 96l21 -1M70 80l40 10M78 123l39 -15M57 103l27 23M243 134l-124 0M85 106l-24 2M132 50l29 40M98 145l36 -4M80 102l1 -8M101 98l5 -32M110 90l-46 48M69 113l62 -66M135 90l-61 55M117 89l13 47M116 88l-21 -4M122 130l6 -18M45 138l55 -18M94 105l23 -1M98 145l-22 -49M94 124l14 -32M135 90l78 13M99 112l-12 20M116 87l13 49M128 112l4 26M81 94l30 -10M133 91l31 3M158 115l3 -26M94 136l-8 8M161 89l-62 30M54 111l51 5M56 91l30 -1M85 106l36 -8M112 91l-18 -4M92 130l12 -14M58 112l78 25M121 96l-29 36M186 73l-87 54M102 95l11 -2M132 64l2 77M78 123l5 -10M122 98l-2 39M112 91l-4 5M56 91l14 -11M50 102l4 7M112 170l79 -40M108 92l-2 -6M87 132l-36 -30M252 179l-101 -85M112 91l-69 39M159 51l-82 71M131 48l-26 69M57 88l21 -4M62 89l70 50M250 102l24 7M93 99l17 -16M77 85l46 52M69 109l96 -17M64 138l97 -48M236 99l-2 -10M69 109l58 -1M42 142l57 -19M91 132l13 -16M100 120l-22 3M85 106l46 29M86 128l13 -20M165 95l-52 -5M60 105l10 -25M42 142l120 -31M101 98l17 -7M129 137l-47 1M80 104l5 -31M85 73l24 24M123 137l11 3M131 135l-10 -37M112 91l3 -0M131 81l-19 12M144 74l-85 42M76 135l44 -39M66 121l28 3M98 87l4 29M97 94l-16 -1M129 134l-45 -18M82 113l17 11M113 93l46 2M237 98l-57 33M132 64l-15 41M90 136l-2 -31M111 93l-5 -48M113 93l-11 -33M243 134l-82 -48M102 115l14 -27M113 87l7 -27M76 133l5 -28M112 90l50 5M123 108l-39 9M161 95l-27 46M105 116l-3 23M65 96l94 -8M159 96l-24 -5M111 90l-29 47M50 102l-7 20M85 144l6 -58M87 90l-3 49M88 127l-5 -40M43 130l12 -21M64 110l58 -17M233 89l-75 6M113 87l66 44M131 100l-66 3M112 91l-47 13M90 136l-6 4M85 144l-9 -48M95 111l-26 -2M118 89l42 3M116 107l63 -58M110 90l10 -30M73 133l13 -27M128 112l-49 18M102 59l4 7M119 92l42 3M105 116l-51 -15M93 101l16 -5M90 136l-6 4M129 134l30 -46M112 89l-7 2M70 143l63 7M128 102l31 -14M82 88l104 -15M76 96l16 34M91 132l-19 0M151 94l-57 30M112 91l-18 8M65 96l163 94M58 137l62 -42M88 128l-27 -21M134 140l-32 -45M129 131l-27 -72M92 130l-5 -40M105 91l-29 5M129 137l104 -51M250 179l-122 -67M117 89l-15 -29M162 111l-30 27M134 132l27 -41M93 101l28 -5M80 86l8 42M43 122l26 -9M164 94l-3 -2M129 134l-86 -4M161 90l3 2M58 137l75 13M56 91l33 44M112 89l46 6M112 91l-58 20M101 98l-40 -9M179 131l-93 -3M130 136l-28 -38M179 131l-18 -41M85 106l-8 17M69 113l18 -23M126 87l35 8M127 108l-70 -17M66 121l45 -38M112 170l-0 -79M165 92l19 -18M113 95l14 37M84 116l26 -23M70 80l28 65M111 90l-5 6M84 117l15 7M164 94l-70 30M94 105l69 6M99 107l-23 25M103 59l31 82M131 81l-13 10M133 110l117 69M91 132l31 -50M118 91l-7 -1M123 137l-57 -16M155 91l79 -4M43 122l58 -24M118 139l-16 -24M100 124l33 -33M82 119l-5 3M144 74l7 23M76 135l16 -4M134 132l-18 -25M123 137l-14 -54M101 98l-7 -13M110 90l55 5M162 111l-77 8M161 86l-41 -26M93 101l-7 5M53 133l180 -44M133 91l-45 26M94 87l17 3M82 88l15 -1M126 132l-38 -4M88 117l35 21M128 102l-49 28M94 124l17 -41M123 130l-62 2M128 102l37 -9M131 100l-26 -55M113 93l-3 -3M131 48l-37 51M88 127l44 -63M133 110l-2 -9M80 104l-11 6M108 84l3 7M159 51l-37 41M64 138l0 -28M102 115l8 -22M85 144l-41 -6M68 142l-3 -21M85 144l48 -34M105 116l-20 -0M132 50l-2 -2M116 87l5 -3M101 94l-9 37M233 86l-191 44M159 88l7 4M105 91l3 -37M100 120l34 21M80 102l54 39M112 90l1 1M74 146l-2 -13M77 85l29 -19M94 105l33 26M80 102l49 35M78 123l-13 -13M102 59l14 29M133 110l-51 10M155 91l-45 -1M213 104l-91 -11M115 91l-20 -6M82 119l34 -31M43 130l33 4M127 108l-16 -24M130 136l-67 -31M126 87l-76 15M69 113l18 16M71 116l-3 -7M102 59l-38 37M127 140l-78 -7M129 131l-38 -45M81 132l-4 3M69 120l19 -15M116 105l-18 40M99 112l66 -17M74 146l13 -16M159 95l-18 -9M129 131l-48 -37M81 105l12 19M69 109l86 -19M132 139l1 -62M234 87l-70 8M62 89l57 63M87 90l-5 15M159 95l-25 14M250 179l-116 -38M192 130l-70 -46M153 83l-20 -6M110 90l-6 -2M106 96l-42 28M161 92l0 -2M78 123l-25 -20M132 50l-31 91M118 91l4 -9M101 134l7 -50M88 127l3 5M63 105l37 15M116 107l-15 -14M192 130l-65 -22M115 91l-54 14M78 122l88 -31M127 140l-7 -4M100 127l16 -39M94 124l-25 -4M110 83l-56 28M104 59l-2 0M131 81l-50 6M153 83l-41 8M76 96l47 -13M77 85l17 2M111 90l-20 42M58 137l106 -43M95 84l-10 32M117 89l6 4M113 87l-2 4M116 105l6 -23M102 141l18 -6M50 102l27 32M109 96l52 -7M81 132l7 -3M102 95l-3 17M274 109l-151 -27M122 130l-28 -43M62 98l90 -1M109 96l13 -14M116 107l70 -35M77 85l17 39M86 119l48 -42M105 91l-19 37M94 124l11 -7M128 102l4 36M65 96l19 25M63 105l21 16M64 124l-5 13M106 66l-9 21M95 84l56 9M101 134l18 2M45 101l32 -16M84 117l-3 15M77 85l74 9M123 108l-61 -19M179 131l71 -29M65 103l41 -37M76 133l-22 -24M131 81l-14 8M186 73l-55 28M112 91l-50 16M250 103l-121 28M179 49l-18 46M233 89l-10 57M98 145l-30 -3M87 90l17 -3M66 121l4 8M264 166l-144 -106M108 63l10 26M113 97l3 -10M161 91l4 1M192 130l-68 6M155 91l-39 -3M112 89l-30 48M61 132l2 -27M172 141l-128 -3M111 90l-47 20M101 134l-21 -30M93 101l-29 24M87 130l-25 14M112 89l20 2M120 139l-61 -22M42 142l61 -55M121 96l-4 -7M134 140l-75 -3M64 124l2 -21M127 140l34 -49M123 137l-8 -47M151 94l-66 12M161 90l-84 44M69 120l93 -28M135 90l-22 2M76 135l58 -2M123 137l61 -62M213 103l-86 37M100 120l-45 -10M104 59l29 18M161 91l-41 44M130 136l-52 -14M45 101l36 4M94 105l6 18M81 87l70 7M112 91l4 3M82 137l6 -33M115 94l19 38M94 136l-19 10M237 98l-175 -9M81 105l-10 11M108 54l54 35M134 140l-19 -50M122 98l-59 7M81 105l38 31M112 91l18 45M164 94l-51 -1M126 87l-24 -28M108 84l-65 47M98 145l-33 -42M82 119l16 -7M132 64l-40 68M56 91l62 0M134 132l-13 -48M64 110l5 3M64 110l52 -22M131 100l31 11M155 91l-61 15M88 105l6 1M101 94l33 47M128 112l37 -17M130 136l-2 -24M119 92l42 -2M77 134l78 -43M110 90l-29 4M43 130l45 -26M81 105l-17 33M98 145l-15 -24M59 117l-3 -25M131 135l-49 -15M158 115l-38 24M82 119l-1 12M115 94l-17 51M224 146l-127 -51M186 133l-68 -41M64 110l95 -58M64 110l37 24M101 98l3 19M111 90l-35 6M104 88l146 15M107 52l79 80M101 94l19 41M99 112l-0 33M86 119l8 17M80 104l-37 -16M237 98l-3 -9M54 111l33 -21M274 109l-113 -23M274 109l-46 81M161 89l-107 20M112 89l4 18M88 128l-25 10M119 92l-5 5M159 88l85 103M108 92l-63 46M213 104l-80 -26M237 98l-145 32M86 119l26 -29M54 111l107 -19M112 91l-7 25M127 140l7 -63M250 102l-134 -14M82 137l30 -47M65 96l10 50M135 90l16 6M236 99l-105 -18M45 101l29 45M250 179l-149 -85M161 92l0 -6M80 102l2 3M165 92l-63 -33M102 95l7 1M86 128l-4 -15M122 82l-80 60M112 91l-0 0M101 98l-10 -12M98 87l13 -3M133 110l-12 -12M134 132l-12 -40M119 92l-50 28M131 100l-33 44M113 95l-68 6M80 102l19 43M101 140l-14 -10M65 103l4 10M116 107l-11 9M151 94l-41 -4M111 90l-1 -7M213 206l-94 -114M151 97l28 -48M111 84l-68 4M100 127l-27 5M94 124l0 -37M99 107l19 -16M100 124l61 -38M132 139l-11 -9M264 166l-209 -57M102 115l3 -70M135 90l-9 -3M100 127l114 -23M119 135l-42 -1M118 91l-2 16M100 120l-56 2M111 93l5 -5M118 89l-32 43M134 141l-22 -50M165 92l-79 40M119 136l-15 -20M129 131l-17 39M50 102l32 35M111 93l51 -4M76 135l54 1M70 129l54 -21M132 64l-79 39M123 137l-5 2M69 113l16 -7M133 91l-58 55M116 87l-23 18M113 95l-60 38M161 90l-118 40M118 89l-7 -5M165 92l-52 -5M244 191l-71 -34M78 122l55 -13M102 95l59 -9M99 107l-10 28M64 110l1 11M69 109l82 -12M112 91l75 42M123 137l-34 -9M161 91l18 40M250 103l-13 -5M233 89l-20 15M60 105l-10 -3M123 82l-9 15M86 128l6 2M170 134l-56 -43M131 100l13 -26M122 82l-20 -24M88 128l25 -41M101 98l3 -39M84 117l-40 21M58 112l23 19M113 87l-7 -1M118 89l2 7M161 92l-59 23M60 105l51 -15M76 133l10 -1M165 92l-35 -44M86 128l5 -42M85 106l36 -8M161 97l-29 -47M129 131l-24 -15M161 89l-1 2M71 116l141 -13M88 128l73 -42M121 96l-27 3M161 92l-8 -8M84 117l9 -30M141 86l-19 44M130 136l-34 -25M135 90l24 5M82 137l11 -39M83 121l2 -2M84 116l190 -7M119 92l14 -42M115 91l-13 4M132 64l-68 74M144 74l-85 42M119 152l-6 -63M133 77l-6 34M106 86l-15 46M95 84l11 12M112 170l-64 -37M64 110l58 28M237 101l-157 3M133 77l-4 57M100 127l13 -34M110 90l54 4M123 108l-59 -12M134 132l-15 4M69 109l44 -14M126 87l-70 1M118 89l13 11M109 96l-38 20M45 138l57 -22M237 101l-1 -2M81 132l37 8M102 115l77 15M118 139l2 -1M109 96l-14 -12M224 146l-97 -37M123 130l-5 9M165 92l-53 -3M98 145l14 -52M170 134l-37 -24M113 97l-65 36M237 101l-108 36M64 110l64 -8M116 107l-44 25M119 135l51 -1M126 132l-37 4M69 113l-7 -25M132 64l-49 24M57 103l75 -52M111 90l-29 29M100 124l35 -33M132 138l-54 -15M105 91l-11 45M127 140l3 -4M112 170l-17 -85M186 73l-70 16M118 139l-7 -49M161 89l32 21M115 94l149 72M108 96l-14 -12M53 103l9 -5M117 89l-62 21M104 88l-5 58M78 123l4 -29M82 137l11 -32M70 80l8 50M165 92l-33 -29M126 132l-83 -44M110 90l-11 18M84 140l42 -53M112 170l74 -97M134 132l-14 6M81 87l70 10M161 92l-38 1M116 88l-7 8M118 89l11 45M116 107l5 -12M106 96l-25 35M64 110l42 -44M110 90l-11 34M161 90l-62 17M100 120l34 -10M164 94l-32 45M82 119l12 -33M111 93l41 1M213 104l-112 -6M133 77l-32 21M99 107l-29 -27M165 92l-4 5M93 101l29 -3M132 138l-32 -11M101 94l-7 -7M62 143l72 -3M71 116l22 -29M185 74l-77 18M87 130l-5 -42M118 139l16 1M45 138l37 -51M134 140l-90 -53M100 120l-13 12M121 84l5 56M94 87l-13 -1M94 136l-24 -56M101 134l0 -36M165 95l-63 -36M93 99l-43 3M105 116l89 -6M127 135l-5 -42M179 49l-86 75M138 81l-11 20M101 134l25 -2M86 128l23 -32M119 152l-1 -13M53 103l55 -19M121 84l-45 51M43 88l45 17M60 105l174 -18M63 105l42 12M131 81l103 6M42 142l42 -26M108 92l14 6M87 90l7 -4M85 73l80 22M250 102l-191 15M69 120l92 -29M53 133l65 -42M88 117l31 -26M173 157l-3 -23M70 80l-15 29M113 93l7 -33M61 132l41 -16M119 136l-3 -31M63 105l12 41M81 132l31 -41M109 96l-39 -16M99 112l-19 -8M110 83l-28 36M132 50l32 42M84 126l20 -38M81 132l-2 -30M66 121l39 -64M132 64l48 67M78 122l-27 -20M84 117l15 7M69 113l42 -20M95 84l-15 17M101 140l83 -65M112 89l16 13M88 105l45 -27M250 102l-132 -11M65 96l23 20M91 86l43 47M94 105l67 -8M62 143l1 -19M108 54l-64 34M97 94l-16 -1M106 96l5 -6M88 128l71 -77M102 95l8 -12M81 132l-28 2M151 94l-18 57M123 137l50 3M110 83l16 25M82 88l-19 37M133 91l-24 5M117 89l45 4M117 89l3 46M87 130l35 -47M88 127l-8 -23M69 113l-16 20M90 136l49 -54M80 102l50 34M53 103l88 -17M224 146l-95 -9M90 136l24 -49M70 80l18 37M58 112l73 22M122 98l10 -17M62 89l-20 54M86 128l-23 -4M123 137l-39 -11M112 89l-47 14M102 59l11 34M91 86l41 53M58 112l121 19M78 123l-20 -20M126 87l-4 6M133 91l-16 14M112 170l-28 -54M134 141l-5 -4M50 102l37 28M62 89l76 -7M129 134l-43 -44M127 135l-18 -39M161 89l-59 -30M94 105l-48 -5M119 92l-21 -5M159 96l-61 50M244 191l-195 -58M128 102l-50 20M108 63l18 24M121 84l6 18M118 89l-21 -2M88 117l-10 6M91 132l44 -42M119 135l42 -45M53 133l35 -5M88 105l-15 28M105 116l-42 -12M123 130l64 3M90 136l-33 -48M108 84l-64 54M111 84l149 91M91 86l73 7M119 92l-31 35M88 127l-4 -2M99 107l24 1M161 89l-77 27M66 121l62 -9M66 121l47 -28M132 138l-49 -50M56 91l66 1M151 97l-52 30M141 86l23 8M135 90l-24 -7M132 50l-22 39M81 94l31 -4M97 94l5 3M99 107l32 -7M102 95l-8 41M101 94l31 41M94 136l-14 -34M99 107l19 -18M106 86l-48 26M123 130l51 27M110 90l3 3M110 83l-42 37M186 133l27 -29M98 145l25 -9M84 140l153 -42M82 119l12 -35M70 129l-24 -28M78 122l49 13M94 124l-6 -19M86 119l-14 -3M101 98l112 6M117 89l-27 47M161 97l-91 -17M95 111l-15 -25M161 92l-45 13M73 133l6 -3M98 87l14 4M186 133l78 34M133 110l-31 6M115 91l14 46M118 91l14 -27M90 136l61 -42M116 87l-31 18M58 137l11 -9M80 102l134 2M92 130l5 -36M110 90l12 -7M64 138l20 2M162 111l-85 23M84 140l102 -7M250 102l-23 88M113 93l-7 3M98 145l72 -11M92 130l41 -39M127 140l-57 -60M98 87l130 103M105 57l27 -7M104 59l-42 85M116 107l-36 -21M80 102l121 11M92 130l44 7M104 88l81 -13M94 124l11 -67M78 123l-5 10M165 92l71 6M237 98l0 3M108 54l-5 5M88 117l23 -34M159 51l2 35M112 163l20 -25M86 128l12 17M53 133l16 -13M100 127l19 25M121 84l1 -2M100 120l-40 -3M81 132l-16 -28M129 137l-73 -45M112 90l-18 -3M101 98l-7 -13M80 104l-18 -6M98 145l-56 -3M78 122l49 13M133 77l-3 -29M127 135l-15 -42M112 89l10 -7M112 91l-27 -18M113 87l9 43M49 133l60 -37M110 90l-5 -44M70 129l29 16M119 136l43 -25M115 94l-4 -4M132 139l-34 -27M86 119l-32 -8M82 88l152 -1M101 60l-17 57M61 132l0 -24M102 141l-15 -50M165 92l-4 -2M92 130l-7 -24M123 108l-18 -51M120 139l-35 -33M116 105l-20 -10M129 137l-56 -4M159 95l-30 36M98 87l-10 30M250 103l-181 7M88 105l-45 -17M233 89l-180 14M133 77l-40 59M119 92l-17 -32M65 96l20 20M78 130l83 -32M131 100l4 -10M87 130l12 -6M90 136l11 4M59 117l25 23M126 87l-45 -0M56 91l24 -6M101 134l26 -26M64 138l58 -8M53 133l65 6M102 95l-32 -15M128 112l-15 -19M68 142l19 -25M111 93l2 0M131 100l-1 -53M113 87l-10 1M88 128l125 -25M108 54l36 20M110 83l83 27M161 92l-29 47M101 94l57 21M76 135l29 -44M60 105l44 11M161 97l-60 42M101 140l-17 0M101 140l0 1M43 122l39 15M115 94l5 44M123 82l-40 5M108 92l-4 -4M77 134l30 -80M68 142l25 -18M98 87l7 4M116 87l10 52M122 130l-16 -33M132 64l-68 46M87 90l76 21M109 96l-49 9M112 91l-25 -1M115 94l19 47M123 108l90 -4M43 122l21 -12M102 59l77 -10M118 89l43 -3M43 122l27 -42M159 96l-8 -2M108 96l5 1M81 94l26 -41M133 110l22 -19M106 96l118 49M112 90l-68 32M165 95l-50 -4M100 127l-39 -20M61 107l1 -10M200 113l-93 -61M88 127l125 -24M93 101l-2 31M116 105l118 -18M112 90l-5 -4M121 84l-34 33M65 96l37 -36M105 57l8 40M244 191l-115 -60M43 122l50 -17M112 90l-26 54M131 135l-44 -18M105 116l8 46M224 146l-105 -57M165 92l-4 -1M110 83l-58 50M88 117l-6 15M127 140l36 -28M80 102l-3 -17M81 132l-5 3M250 102l-14 -3M194 110l-39 -20M121 96l-34 32M134 141l-25 -44M62 89l47 7M128 102l1 29M100 124l33 -33M141 86l-78 38M95 84l17 5M91 132l-38 -31M66 121l21 7M158 115l-39 20M117 89l16 2M76 96l-11 0M106 60l-11 24M106 60l4 30M106 60l23 74M106 60l22 42M106 60l-29 25M106 60l-49 28M106 60l-7 52M106 60l13 75M106 60l7 33M106 60l7 35M106 60l24 76M106 60l-12 45M106 60l13 75M106 60l-50 31M106 60l-7 47M106 60l-12 76M106 60l-4 81M106 60l-22 57M106 60l-50 31M106 60l3 36M106 60l17 70M106 60l30 77M106 60l-5 80M106 60l-28 70M106 60l-45 47M106 60l-45 47M106 60l-36 20M106 60l-6 60M106 60l-12 76M106 60l-6 64M106 60l-9 34M106 60l-44 38M106 60l13 75M106 60l-35 56M106 60l-9 34M106 60l-5 74M106 60l13 76M106 60l-49 43M106 60l14 79M106 60l-32 86M106 60l-13 39M106 60l5 30M106 60l15 36M106 60l-29 74M106 60l6 30M106 60l24 76M106 60l-49 28M106 60l-25 27M106 60l-48 52M106 60l-35 56M106 60l17 77M106 60l-61 41M106 60l4 23M106 60l24 76M106 60l10 47M106 60l-22 56M106 60l-44 83M106 60l-61 78M106 60l15 24M106 60l-7 52M106 60l-36 83M106 60l0 26M106 60l-44 38M106 60l-61 41M106 60l23 74M106 60l14 79M106 60l-18 57M106 60l-19 72M106 60l12 29M106 60l5 33M106 60l15 36M106 60l-24 59M106 60l-63 62M106 60l16 38M106 60l-53 43M106 60l-15 72M106 60l12 31M106 60l-2 28M106 60l16 70M106 60l-4 81M106 60l-28 70M106 60l6 31M106 60l-42 64M106 60l-5 34M106 60l23 71M106 60l-45 47M106 60l-12 45M106 60l-26 42M106 60l-5 74M106 60l-53 73M106 60l-30 73M106 60l25 40M106 60l2 24M106 60l23 71M106 60l7 33M106 60l4 23M106 60l-22 57M106 60l-29 25M106 60l7 33M106 60l-25 72M106 60l-14 70M106 60l25 40M106 60l28 81M106 60l28 81M106 60l7 37M106 60l27 31M106 60l-22 56M106 60l-47 57M106 60l26 78M106 60l-24 77M105 56l-43 42M105 56l-24 76M105 56l-63 86M105 56l-62 74M105 56l-18 34M105 56l-4 42M105 56l-27 74M105 56l-29 77M105 56l13 33M105 56l-47 81M105 56l14 80M105 56l-39 65M105 56l23 56M105 56l26 79M105 56l18 81M105 56l-48 47M105 56l5 34M105 56l-17 72M105 56l-10 28M105 56l17 42M105 56l-20 88M105 56l11 49M105 56l-51 55M105 56l22 79M105 56l-56 77M105 56l29 84M105 56l-3 39M105 56l-52 77M105 56l-51 45M105 56l-37 86M105 56l-22 65M105 56l25 80M105 56l24 81M105 56l-3 85M105 56l18 81M105 56l4 40M105 56l-10 28M105 56l24 81M105 56l24 75M105 56l-19 72M85 73l38 65M85 73l-3 15M85 73l14 35M85 73l-26 44M85 73l32 16M85 73l-22 32M85 73l-4 33M85 73l46 8M85 73l43 39M85 73l-1 67M85 73l12 22M85 73l30 22M85 73l37 25M85 73l23 23M85 73l20 18M85 73l9 51M85 73l37 57M85 73l-29 19M85 73l3 32M85 73l-11 73M85 73l28 21M85 73l30 18M85 73l36 23M85 73l16 21M132 50l-9 87M132 50l-20 41M132 50l-19 37M132 50l-89 72M132 50l-71 82M132 50l-16 37M132 50l-70 93M132 50l-4 62M132 50l-5 90M132 50l-28 38M132 50l-1 31M132 50l-48 90M132 50l-67 53M132 50l-4 62M132 50l-44 55M132 50l-67 46M132 50l-38 37M132 50l1 60M132 50l-21 40M132 50l-30 65M132 50l6 31M132 50l-34 37M132 50l-44 78M132 50l-71 57M132 50l-51 55M132 50l-77 59M132 50l-46 69M132 50l-0 88M132 50l-9 87M132 50l-21 40" fill="none" stroke="#8a8a8a" stroke-width="0.32" stroke-opacity="0.80"/>
<path d="M226.1 19.5 L226.1 23.8 L221.5 29.7 L216.3 36.3 L211.0 42.9 L203.8 51.2 M203.8 51.2 L216.3 56.0 L229.4 59.9 L241.2 63.2 L249.1 62.6 L259.6 61.5 L268.8 61.0 L279.0 63.3 M203.8 51.2 L208.4 57.3 L213.6 62.6 L216.3 67.8 L218.2 73.1 L220.9 78.3 L224.2 83.6 L228.1 86.2 L233.4 87.5 L238.6 89.9 L242.6 92.8 L244.5 94.4 L248.2 94.4 L248.9 100.3 L249.5 106.9 L249.5 113.5 L248.9 120.7 L254.1 121.1 L259.4 121.3 L262.0 125.3 L260.0 129.2 L259.4 133.2 L258.1 135.8 L247.6 137.1 L239.7 139.7 L234.4 145.0 L229.8 146.3 L227.2 148.3 L226.5 152.9 L223.2 160.8 L221.9 164.8 L221.3 175.6 M97.1 182.1 L91.9 187.4 L87.9 182.1 L83.3 183.4 L83.3 199.2 L87.9 200.5 L88.6 204.5 L76.1 207.1 L77.4 212.4 L73.5 221.6 L69.5 233.0 M91.4 163.6 L96.6 160.6" fill="none" stroke="#2a2a2a" stroke-width="0.6"/>
<path d="M40.5 19.8 L42.2 21.0 L45.3 24.1 L48.3 26.7 L50.5 29.3 L53.1 33.7 L55.3 35.0 L58.8 36.3 L61.0 37.6 L64.5 41.1 L68.0 45.1 L71.5 49.0 L75.9 53.4 M46.6 27.6 L48.8 30.2 L50.9 33.3 L51.4 35.9 M41.3 30.2 L43.5 35.4 L45.7 39.8 L48.3 44.2 L49.6 48.6 L51.4 53.0 L54.0 56.5 L56.6 60.0 L58.4 63.5 L61.0 67.0 L63.5 70.0 M41.3 45.9 L43.1 50.3 L44.8 54.7 L46.6 59.1 L48.3 63.5 L50.1 67.0 L51.4 69.4 L54.9 72.1 L58.4 74.7 L61.0 76.4 L63.6 79.9 L65.4 83.4 L66.3 86.9 M69.8 21.0 L70.7 26.7 M70.2 30.6 L73.3 32.4 L76.8 34.6 L80.3 37.2 L83.8 39.8 L87.3 41.6 L89.9 44.2 L92.6 47.7 L94.7 50.3 M68.0 37.2 L71.5 39.8 L76.8 42.5 M68.9 37.0 L70.2 41.2 M75.5 25.4 L79.4 27.6 L83.4 29.7 L87.7 33.3 M84.2 21.0 L87.3 23.6 L90.8 26.2 L94.3 28.9 L97.8 31.9 M94.3 21.0 L96.9 23.2 L98.7 24.9 M95.0 21.4 L98.5 24.1 L102.0 27.6 L105.5 30.2 L109.9 33.7 L114.3 36.3 L116.9 36.8 M100.3 21.4 L102.9 24.1 L106.4 27.6 L110.8 30.2 L115.1 32.8 L117.8 36.3 M109.9 21.0 L112.5 24.1 L115.1 27.6 L117.8 30.2 L120.4 31.9 L123.9 34.6 M116.0 21.4 L118.6 24.9 L121.3 28.4 L123.9 31.9 L125.2 34.6 M123.0 20.5 L125.2 24.9 L125.7 28.4 L124.8 32.8 L124.3 39.0 L125.2 45.1 L127.4 49.5 L130.0 55.6 L131.8 62.6 L133.5 67.8 M126.5 21.4 L127.8 24.1 L128.3 26.7 M131.8 22.3 L132.7 27.6 L132.2 31.1 L134.4 26.7 M124.8 36.3 L128.3 37.6 L131.8 39.8 L135.3 43.3 L137.9 47.7 L139.2 52.1 L139.7 57.3 M126.5 41.6 L130.9 43.3 L134.4 46.0 L137.0 49.5 L138.4 53.8 M117.3 51.2 L120.4 53.8 L123.0 55.6 L125.7 59.1 M100.3 61.7 L112.5 61.3 M184.2 20.0 L184.2 21.0 L182.4 24.1 L180.2 27.1 L181.5 28.4 L182.0 31.9 L181.5 36.3 L181.1 40.7 L180.7 45.1 L180.2 48.6 L179.3 53.8 L178.5 58.2 L177.2 62.6 L176.3 67.0 M180.7 49.5 L181.5 53.8 L182.8 58.2 L183.7 64.3 L184.0 74.3 L186.6 79.6 L187.9 84.8 L189.2 91.4 L190.5 97.0 L192.0 100.5 L195.0 102.0 L199.0 104.5 L202.5 109.5 L205.5 116.0 L209.5 121.3 L214.7 126.6 L221.3 129.2 M189.5 96.0 L192.5 106.9 L193.8 113.5 L195.1 116.1 M189.4 31.9 L192.5 28.4 L192.0 33.7 L191.2 38.1 M199.0 27.1 L198.6 31.9 L199.0 37.2 L200.8 42.5 L203.0 48.6 L204.3 53.8 L205.2 60.0 L206.1 66.0 L207.1 69.1 L211.7 73.1 M206.9 29.3 L206.1 37.2 L207.8 35.4 M173.6 53.8 L172.3 60.0 L171.9 65.2 M176.3 57.3 L175.0 63.5 L173.6 68.8 M187.7 52.1 L188.5 58.2 L189.0 64.3 L189.4 68.8 M167.6 62.5 L166.2 69.0 M172.8 54.6 L171.5 62.5 L173.5 67.7 L172.8 74.3 M186.6 52.6 L188.6 59.8 L190.5 65.1 L188.6 70.4 M146.5 73.6 L148.5 79.6 L150.5 86.1 L152.4 92.0 L154.5 94.0 M222.2 81.0 L219.6 87.5 L219.6 93.0 L221.0 97.5 L224.2 102.0 L229.4 107.5 L235.1 112.1 L238.4 114.8 M243.6 121.3 L249.0 122.0 L254.0 121.3 L258.0 120.8 M221.3 129.2 L229.2 129.2 L237.0 130.5 L244.9 131.6 L252.8 130.5 L259.4 129.2 M225.2 133.2 L233.1 133.8 L241.0 133.8 L250.2 133.6 L258.1 133.2 M208.1 139.1 L213.4 140.4 L221.3 139.7 L229.2 138.4 L237.0 135.1 L242.3 133.8 M186.0 143.7 L193.8 143.7 L200.4 146.3 L205.5 147.0 L210.8 146.6 L216.0 147.0 L221.3 146.6 L226.5 146.3 M210.8 108.2 L214.7 113.5 L218.6 118.0 L221.3 122.6 M195.0 129.2 L199.0 128.0 M160.3 131.2 L166.2 133.2 L172.8 131.6 L178.1 133.2 M180.7 141.0 L186.0 138.4 L191.2 134.5 L195.1 130.5 L199.1 127.9 M130.8 113.5 L132.1 118.7 L137.3 122.6 L141.3 125.3 L145.9 128.6 M137.3 104.3 L139.3 109.5 L137.3 112.8 M121.6 126.6 L122.2 131.6 L122.9 139.7 L124.2 148.9 L124.9 154.2 M108.3 109.2 L111.6 115.0 L114.5 120.8 L115.7 126.6 L114.9 134.9 L116.1 141.5 L117.8 148.1 L119.0 154.7 L120.7 159.7 M109.9 110.1 L114.1 115.9 L116.5 122.5 L117.4 129.1 L116.5 136.5 L119.0 143.2 L121.5 148.1 L124.0 153.1 M126.5 106.8 L124.8 114.2 L123.2 122.5 L121.5 129.1 L119.9 134.9 M110.8 112.5 L116.5 118.3 L117.4 120.8 M130.6 106.8 L131.4 114.2 L134.7 120.0 M115.0 136.0 L118.5 140.0 L119.5 146.0 M117.7 154.4 L120.3 158.8 L125.5 160.1 L132.6 161.9 L141.3 165.1 L154.4 167.7 L167.6 169.7 L180.7 171.6 L193.8 173.0 L205.0 174.9 L219.3 176.6 M49.2 74.2 L53.1 75.6 L56.6 76.4 L58.8 78.2 M40.5 77.8 L41.8 78.2 L45.3 79.9 L50.5 81.3 L55.8 83.4 L61.0 85.6 L66.3 87.4 L71.5 89.1 L76.8 90.5 L82.0 92.2 L87.3 92.6 L92.6 91.8 L96.1 93.1 L100.0 94.8 M45.3 86.9 L49.6 89.1 L54.9 91.3 L60.1 93.1 L65.4 94.4 L70.7 94.8 L76.8 95.3 L82.0 95.7 L85.5 97.0 L89.0 100.1 L93.4 103.6 L96.9 106.2 M53.1 97.0 L57.5 99.2 L61.9 101.4 M44.4 113.7 L59.3 111.9 M40.5 125.5 L50.0 126.0 L61.0 127.5 L73.0 128.5 L80.0 128.0 M40.5 134.3 L50.0 134.3 L61.0 133.1 L72.0 133.7" fill="none" stroke="#e23a35" stroke-width="1.1" stroke-linejoin="round"/>
<path d="M42.7 49.2L46.1 50.0L44.1 52.8ZM46.7 59.4L50.1 60.2L48.1 63.0ZM51.4 69.4L54.7 68.3L54.4 71.7ZM60.5 75.7L63.9 75.5L62.7 78.7ZM43.7 79.5L46.3 77.2L47.4 80.5ZM54.2 82.7L57.1 80.8L57.7 84.2ZM64.4 86.8L67.2 84.6L68.0 88.0ZM74.9 90.0L77.5 87.7L78.6 91.0ZM85.6 92.9L87.0 89.7L89.4 92.3ZM96.3 93.2L99.2 91.3L99.8 94.7ZM48.9 88.8L51.8 86.9L52.4 90.3ZM60.1 93.1L62.7 90.7L63.8 94.0ZM72.0 94.9L74.1 92.2L75.7 95.2ZM84.1 95.8L87.5 94.9L87.0 98.3ZM93.3 103.5L96.6 102.3L96.4 105.8ZM224.4 129.2L226.3 126.3L228.2 129.2ZM234.3 130.1L236.7 127.5L238.1 130.7ZM244.2 131.7L245.7 128.6L248.0 131.2ZM254.1 130.2L255.4 127.0L257.8 129.5ZM228.8 133.5L230.9 130.7L232.6 133.8ZM239.8 133.8L241.6 130.9L243.6 133.7ZM250.8 133.6L252.5 130.6L254.6 133.4ZM211.6 140.6L213.2 137.5L215.3 140.2ZM222.5 139.5L223.9 136.3L226.2 138.9ZM233.1 136.8L233.7 133.4L236.6 135.3ZM246.2 121.6L248.4 119.0L249.9 122.1ZM255.1 121.2L256.6 118.0L258.9 120.7ZM189.6 143.7L191.5 140.8L193.4 143.7ZM200.1 146.3L202.4 143.6L203.9 146.8ZM211.0 146.6L213.2 143.9L214.8 146.9ZM222.0 146.6L223.7 143.6L225.8 146.3ZM162.3 131.9L165.0 129.7L165.9 133.1ZM170.0 132.3L171.1 129.0L173.7 131.4ZM97.2 22.8L96.5 26.2L99.9 25.5ZM103.8 28.9L103.6 32.4L106.8 31.2ZM111.0 34.3L111.1 37.8L114.2 36.3ZM102.4 23.6L101.7 27.0L105.1 26.3ZM110.2 29.8L110.3 33.3L113.4 31.8ZM111.9 23.3L110.7 26.6L114.2 26.4ZM118.6 30.7L118.6 34.2L121.8 32.8ZM76.9 26.2L80.0 24.6L80.2 28.1ZM83.1 29.4L86.4 28.4L86.0 31.9ZM85.8 22.3L85.4 25.8L88.7 24.8ZM92.1 27.2L91.9 30.7L95.2 29.6ZM50.2 74.6L53.0 72.5L53.8 75.9ZM56.1 76.0L59.4 75.0L59.1 78.4ZM54.1 97.5L57.1 95.7L57.5 99.2ZM59.5 100.2L62.4 98.4L62.8 101.9ZM44.6 134.3L46.5 131.4L48.4 134.3ZM56.6 133.6L58.1 130.5L60.3 133.2ZM68.5 133.5L70.6 130.7L72.3 133.7ZM181.3 53.1L184.6 54.1L182.4 56.7ZM183.7 63.8L186.6 65.6L183.8 67.6ZM184.2 74.7L187.6 75.1L185.9 78.1ZM187.9 85.0L191.2 86.3L188.7 88.7ZM190.0 95.8L193.4 96.4L191.5 99.3ZM197.2 103.4L200.3 101.9L200.4 105.4ZM203.7 112.0L207.1 112.5L205.2 115.4ZM209.5 121.3L212.9 120.6L212.1 124.0ZM218.0 127.9L220.8 125.9L221.5 129.3Z" fill="none" stroke="#e23a35" stroke-width="0.8" stroke-linejoin="round"/>
<path d="M159.2 48.1L160.1 50.1L162.3 50.4L160.7 51.9L161.1 54.1L159.2 53.0L157.3 54.1L157.7 51.9L156.1 50.4L158.3 50.1ZM179.3 45.6L180.2 47.6L182.4 47.9L180.8 49.4L181.2 51.6L179.3 50.5L177.4 51.6L177.8 49.4L176.2 47.9L178.4 47.6ZM85.0 69.3L85.9 71.3L88.1 71.6L86.5 73.1L86.9 75.3L85.0 74.2L83.1 75.3L83.5 73.1L81.9 71.6L84.1 71.3ZM234.1 83.4L235.0 85.4L237.2 85.7L235.6 87.2L236.0 89.4L234.1 88.3L232.2 89.4L232.6 87.2L231.0 85.7L233.2 85.4ZM235.9 95.8L236.8 97.8L239.0 98.1L237.4 99.6L237.8 101.8L235.9 100.7L234.0 101.8L234.4 99.6L232.8 98.1L235.0 97.8ZM250.0 99.3L250.9 101.3L253.1 101.6L251.5 103.1L251.9 105.3L250.0 104.2L248.1 105.3L248.5 103.1L246.9 101.6L249.1 101.3ZM274.0 105.7L274.9 107.7L277.1 108.0L275.5 109.5L275.9 111.7L274.0 110.6L272.1 111.7L272.5 109.5L270.9 108.0L273.1 107.7ZM212.9 100.0L213.8 102.0L216.0 102.3L214.4 103.8L214.8 106.0L212.9 104.9L211.0 106.0L211.4 103.8L209.8 102.3L212.0 102.0ZM193.5 107.1L194.4 109.1L196.6 109.4L195.0 110.9L195.4 113.1L193.5 112.0L191.6 113.1L192.0 110.9L190.4 109.4L192.6 109.1ZM200.5 109.9L201.4 111.9L203.6 112.2L202.0 113.7L202.4 115.9L200.5 114.8L198.6 115.9L199.0 113.7L197.4 112.2L199.6 111.9ZM170.5 130.4L171.4 132.4L173.6 132.7L172.0 134.2L172.4 136.4L170.5 135.3L168.6 136.4L169.0 134.2L167.4 132.7L169.6 132.4ZM179.3 127.6L180.2 129.6L182.4 129.9L180.8 131.4L181.2 133.6L179.3 132.5L177.4 133.6L177.8 131.4L176.2 129.9L178.4 129.6ZM186.4 129.3L187.3 131.3L189.5 131.6L187.9 133.1L188.3 135.3L186.4 134.2L184.5 135.3L184.9 133.1L183.3 131.6L185.5 131.3ZM191.7 126.9L192.6 128.9L194.8 129.2L193.2 130.7L193.6 132.9L191.7 131.8L189.8 132.9L190.2 130.7L188.6 129.2L190.8 128.9ZM172.3 137.5L173.2 139.5L175.4 139.8L173.8 141.3L174.2 143.5L172.3 142.4L170.4 143.5L170.8 141.3L169.2 139.8L171.4 139.5ZM209.4 142.4L210.3 144.4L212.5 144.7L210.9 146.2L211.3 148.4L209.4 147.3L207.5 148.4L207.9 146.2L206.3 144.7L208.5 144.4ZM223.5 142.4L224.4 144.4L226.6 144.7L225.0 146.2L225.4 148.4L223.5 147.3L221.6 148.4L222.0 146.2L220.4 144.7L222.6 144.4ZM243.0 131.1L243.9 133.1L246.1 133.4L244.5 134.9L244.9 137.1L243.0 136.0L241.1 137.1L241.5 134.9L239.9 133.4L242.1 133.1ZM264.1 162.9L265.0 164.9L267.2 165.2L265.6 166.7L266.0 168.9L264.1 167.8L262.2 168.9L262.6 166.7L261.0 165.2L263.2 164.9ZM259.9 171.7L260.8 173.7L263.0 174.0L261.4 175.5L261.8 177.7L259.9 176.6L258.0 177.7L258.4 175.5L256.8 174.0L259.0 173.7ZM250.0 175.3L250.9 177.3L253.1 177.6L251.5 179.1L251.9 181.3L250.0 180.2L248.1 181.3L248.5 179.1L246.9 177.6L249.1 177.3ZM251.8 175.3L252.7 177.3L254.9 177.6L253.3 179.1L253.7 181.3L251.8 180.2L249.9 181.3L250.3 179.1L248.7 177.6L250.9 177.3ZM267.7 178.8L268.6 180.8L270.8 181.1L269.2 182.6L269.6 184.8L267.7 183.7L265.8 184.8L266.2 182.6L264.6 181.1L266.8 180.8ZM227.8 186.6L228.7 188.6L230.9 188.9L229.3 190.4L229.7 192.6L227.8 191.5L225.9 192.6L226.3 190.4L224.7 188.9L226.9 188.6ZM244.0 187.6L244.9 189.6L247.1 189.9L245.5 191.4L245.9 193.6L244.0 192.5L242.1 193.6L242.5 191.4L240.9 189.9L243.1 189.6ZM212.6 202.5L213.5 204.5L215.7 204.8L214.1 206.3L214.5 208.5L212.6 207.4L210.7 208.5L211.1 206.3L209.5 204.8L211.7 204.5ZM173.3 153.4L174.2 155.4L176.4 155.7L174.8 157.2L175.2 159.4L173.3 158.3L171.4 159.4L171.8 157.2L170.2 155.7L172.4 155.4ZM112.2 159.4L113.1 161.4L115.3 161.7L113.7 163.2L114.1 165.4L112.2 164.3L110.3 165.4L110.7 163.2L109.1 161.7L111.3 161.4ZM112.2 166.4L113.1 168.4L115.3 168.7L113.7 170.2L114.1 172.4L112.2 171.3L110.3 172.4L110.7 170.2L109.1 168.7L111.3 168.4ZM132.7 147.0L133.6 149.0L135.8 149.3L134.2 150.8L134.6 153.0L132.7 151.9L130.8 153.0L131.2 150.8L129.6 149.3L131.8 149.0ZM118.6 148.8L119.5 150.8L121.7 151.1L120.1 152.6L120.5 154.8L118.6 153.7L116.7 154.8L117.1 152.6L115.5 151.1L117.7 150.8ZM101.6 137.5L102.5 139.5L104.7 139.8L103.1 141.3L103.5 143.5L101.6 142.4L99.7 143.5L100.1 141.3L98.5 139.8L100.7 139.5ZM83.9 136.4L84.8 138.4L87.0 138.7L85.4 140.2L85.8 142.4L83.9 141.3L82.0 142.4L82.4 140.2L80.8 138.7L83.0 138.4ZM63.8 134.6L64.7 136.6L66.9 136.9L65.3 138.4L65.7 140.6L63.8 139.5L61.9 140.6L62.3 138.4L60.7 136.9L62.9 136.6ZM48.6 129.3L49.5 131.3L51.7 131.6L50.1 133.1L50.5 135.3L48.6 134.2L46.7 135.3L47.1 133.1L45.5 131.6L47.7 131.3ZM184.6 71.0L185.5 73.0L187.7 73.3L186.1 74.8L186.5 77.0L184.6 75.9L182.7 77.0L183.1 74.8L181.5 73.3L183.7 73.0ZM186.4 69.3L187.3 71.3L189.5 71.6L187.9 73.1L188.3 75.3L186.4 74.2L184.5 75.3L184.9 73.1L183.3 71.6L185.5 71.3ZM132.3 47.0L133.2 49.0L135.4 49.3L133.8 50.8L134.2 53.0L132.3 51.9L130.4 53.0L130.8 50.8L129.2 49.3L131.4 49.0ZM130.6 44.5L131.5 46.5L133.7 46.8L132.1 48.3L132.5 50.5L130.6 49.4L128.7 50.5L129.1 48.3L127.5 46.8L129.7 46.5ZM162.4 108.1L163.3 110.1L165.5 110.4L163.9 111.9L164.3 114.1L162.4 113.0L160.5 114.1L160.9 111.9L159.3 110.4L161.5 110.1ZM158.1 111.7L159.0 113.7L161.2 114.0L159.6 115.5L160.0 117.7L158.1 116.6L156.2 117.7L156.6 115.5L155.0 114.0L157.2 113.7ZM151.1 90.5L152.0 92.5L154.2 92.8L152.6 94.3L153.0 96.5L151.1 95.4L149.2 96.5L149.6 94.3L148.0 92.8L150.2 92.5ZM152.8 79.9L153.7 81.9L155.9 82.2L154.3 83.7L154.7 85.9L152.8 84.8L150.9 85.9L151.3 83.7L149.7 82.2L151.9 81.9ZM144.0 71.0L144.9 73.0L147.1 73.3L145.5 74.8L145.9 77.0L144.0 75.9L142.1 77.0L142.5 74.8L140.9 73.3L143.1 73.0ZM233.4 82.9L234.3 84.9L236.5 85.2L234.9 86.7L235.3 88.9L233.4 87.8L231.5 88.9L231.9 86.7L230.3 85.2L232.5 84.9ZM233.4 85.5L234.3 87.5L236.5 87.8L234.9 89.3L235.3 91.5L233.4 90.4L231.5 91.5L231.9 89.3L230.3 87.8L232.5 87.5ZM236.6 94.7L237.5 96.7L239.7 97.0L238.1 98.5L238.5 100.7L236.6 99.6L234.7 100.7L235.1 98.5L233.5 97.0L235.7 96.7ZM236.6 97.4L237.5 99.4L239.7 99.7L238.1 101.2L238.5 103.4L236.6 102.3L234.7 103.4L235.1 101.2L233.5 99.7L235.7 99.4ZM250.4 98.7L251.3 100.7L253.5 101.0L251.9 102.5L252.3 104.7L250.4 103.6L248.5 104.7L248.9 102.5L247.3 101.0L249.5 100.7ZM213.4 100.3L214.3 102.3L216.5 102.6L214.9 104.1L215.3 106.3L213.4 105.2L211.5 106.3L211.9 104.1L210.3 102.6L212.5 102.3ZM105.0 53.7L105.9 55.7L108.1 56.0L106.5 57.5L106.9 59.7L105.0 58.6L103.1 59.7L103.5 57.5L101.9 56.0L104.1 55.7ZM108.0 59.7L108.9 61.7L111.1 62.0L109.5 63.5L109.9 65.7L108.0 64.6L106.1 65.7L106.5 63.5L104.9 62.0L107.1 61.7ZM120.0 56.7L120.9 58.7L123.1 59.0L121.5 60.5L121.9 62.7L120.0 61.6L118.1 62.7L118.5 60.5L116.9 59.0L119.1 58.7ZM70.0 76.7L70.9 78.7L73.1 79.0L71.5 80.5L71.9 82.7L70.0 81.6L68.1 82.7L68.5 80.5L66.9 79.0L69.1 78.7ZM113.5 93.7L114.4 95.7L116.6 96.0L115.0 97.5L115.4 99.7L113.5 98.6L111.5 99.7L112.0 97.5L110.3 96.0L112.5 95.7ZM108.3 92.7L109.3 94.7L111.5 94.9L109.8 96.5L110.3 98.6L108.3 97.6L106.4 98.6L106.8 96.5L105.2 94.9L107.4 94.7ZM111.7 87.7L112.6 89.7L114.8 89.9L113.2 91.4L113.6 93.6L111.7 92.5L109.8 93.6L110.2 91.4L108.6 89.9L110.8 89.7ZM122.5 89.3L123.4 91.3L125.6 91.6L124.0 93.1L124.4 95.3L122.5 94.2L120.6 95.3L121.0 93.1L119.4 91.6L121.6 91.3ZM112.8 91.6L113.7 93.6L115.9 93.9L114.3 95.4L114.7 97.6L112.8 96.5L110.8 97.6L111.3 95.4L109.6 93.9L111.9 93.6ZM118.6 88.6L119.6 90.6L121.8 90.9L120.1 92.4L120.6 94.5L118.6 93.5L116.7 94.5L117.1 92.4L115.5 90.9L117.7 90.6ZM115.9 84.8L116.9 86.8L119.1 87.1L117.4 88.6L117.9 90.8L115.9 89.7L114.0 90.8L114.4 88.6L112.8 87.1L115.0 86.8ZM111.2 86.9L112.1 89.0L114.3 89.2L112.7 90.7L113.1 92.9L111.2 91.8L109.2 92.9L109.7 90.7L108.0 89.2L110.2 89.0ZM106.3 82.7L107.3 84.7L109.5 84.9L107.8 86.5L108.3 88.6L106.3 87.5L104.4 88.6L104.8 86.5L103.2 84.9L105.4 84.7ZM104.9 87.7L105.8 89.8L108.0 90.0L106.4 91.5L106.8 93.7L104.9 92.6L102.9 93.7L103.4 91.5L101.7 90.0L103.9 89.8ZM112.1 87.4L113.1 89.4L115.3 89.7L113.6 91.2L114.1 93.4L112.1 92.3L110.2 93.4L110.6 91.2L109.0 89.7L111.2 89.4ZM113.3 83.4L114.3 85.4L116.5 85.6L114.9 87.1L115.3 89.3L113.3 88.2L111.4 89.3L111.8 87.1L110.2 85.6L112.4 85.4ZM112.6 89.7L113.5 91.7L115.7 91.9L114.1 93.4L114.5 95.6L112.6 94.5L110.7 95.6L111.1 93.4L109.5 91.9L111.7 91.7ZM116.8 85.3L117.7 87.3L119.9 87.6L118.3 89.1L118.7 91.3L116.8 90.2L114.8 91.3L115.2 89.1L113.6 87.6L115.8 87.3ZM111.0 80.6L111.9 82.7L114.1 82.9L112.5 84.4L112.9 86.6L111.0 85.5L109.1 86.6L109.5 84.4L107.9 82.9L110.1 82.7ZM110.5 79.9L111.4 81.9L113.6 82.2L112.0 83.7L112.4 85.9L110.5 84.8L108.5 85.9L109.0 83.7L107.3 82.2L109.6 81.9ZM105.9 93.1L106.8 95.1L109.0 95.4L107.4 96.9L107.8 99.1L105.9 98.0L104.0 99.1L104.4 96.9L102.8 95.4L105.0 95.1ZM102.0 91.9L102.9 93.9L105.1 94.2L103.5 95.7L103.9 97.9L102.0 96.8L100.1 97.9L100.5 95.7L98.9 94.2L101.1 93.9ZM114.6 87.5L115.6 89.5L117.8 89.7L116.1 91.2L116.6 93.4L114.6 92.3L112.7 93.4L113.1 91.2L111.5 89.7L113.7 89.5ZM115.3 90.8L116.2 92.8L118.4 93.1L116.8 94.6L117.2 96.8L115.3 95.7L113.4 96.8L113.8 94.6L112.2 93.1L114.4 92.8ZM118.2 87.8L119.2 89.8L121.4 90.1L119.7 91.6L120.2 93.7L118.2 92.7L116.3 93.7L116.7 91.6L115.1 90.1L117.3 89.8ZM110.0 86.3L111.0 88.3L113.2 88.6L111.5 90.1L112.0 92.3L110.0 91.2L108.1 92.3L108.5 90.1L106.9 88.6L109.1 88.3ZM108.1 88.5L109.0 90.5L111.2 90.8L109.6 92.3L110.0 94.5L108.1 93.4L106.1 94.5L106.6 92.3L104.9 90.8L107.1 90.5ZM109.1 93.0L110.0 95.0L112.2 95.3L110.6 96.8L111.0 98.9L109.1 97.9L107.1 98.9L107.6 96.8L105.9 95.3L108.1 95.0ZM103.7 84.3L104.6 86.3L106.8 86.6L105.2 88.1L105.6 90.3L103.7 89.2L101.7 90.3L102.1 88.1L100.5 86.6L102.7 86.3ZM108.2 80.3L109.2 82.3L111.4 82.6L109.7 84.1L110.2 86.3L108.2 85.2L106.3 86.3L106.7 84.1L105.1 82.6L107.3 82.3ZM122.5 79.1L123.4 81.1L125.6 81.3L124.0 82.9L124.5 85.0L122.5 84.0L120.6 85.0L121.0 82.9L119.4 81.3L121.6 81.1ZM111.6 86.6L112.5 88.6L114.7 88.9L113.1 90.4L113.5 92.6L111.6 91.5L109.6 92.6L110.1 90.4L108.4 88.9L110.7 88.6ZM121.3 80.8L122.2 82.8L124.4 83.0L122.8 84.5L123.2 86.7L121.3 85.6L119.3 86.7L119.8 84.5L118.1 83.0L120.3 82.8ZM118.4 85.8L119.3 87.8L121.5 88.1L119.9 89.6L120.3 91.7L118.4 90.7L116.4 91.7L116.9 89.6L115.2 88.1L117.4 87.8ZM112.2 86.0L113.2 88.0L115.4 88.3L113.7 89.8L114.2 92.0L112.2 90.9L110.3 92.0L110.7 89.8L109.1 88.3L111.3 88.0ZM116.2 84.1L117.1 86.2L119.3 86.4L117.7 87.9L118.1 90.1L116.2 89.0L114.3 90.1L114.7 87.9L113.1 86.4L115.3 86.2ZM112.6 90.1L113.5 92.1L115.7 92.4L114.1 93.9L114.5 96.1L112.6 95.0L110.7 96.1L111.1 93.9L109.5 92.4L111.7 92.1ZM122.2 79.1L123.1 81.1L125.3 81.4L123.7 82.9L124.1 85.0L122.2 84.0L120.3 85.0L120.7 82.9L119.1 81.4L121.3 81.1ZM120.6 92.5L121.6 94.5L123.8 94.8L122.1 96.3L122.6 98.5L120.6 97.4L118.7 98.5L119.1 96.3L117.5 94.8L119.7 94.5ZM110.6 89.9L111.5 91.9L113.7 92.2L112.1 93.7L112.5 95.9L110.6 94.8L108.6 95.9L109.1 93.7L107.4 92.2L109.7 91.9ZM60.8 128.4L61.7 130.4L63.9 130.6L62.3 132.2L62.7 134.3L60.8 133.2L58.9 134.3L59.3 132.2L57.7 130.6L59.9 130.4ZM97.9 83.4L98.8 85.5L101.0 85.7L99.4 87.2L99.8 89.4L97.9 88.3L95.9 89.4L96.4 87.2L94.7 85.7L96.9 85.5ZM81.3 83.5L82.3 85.5L84.5 85.8L82.8 87.3L83.3 89.5L81.3 88.4L79.4 89.5L79.8 87.3L78.2 85.8L80.4 85.5ZM88.0 101.2L88.9 103.2L91.1 103.5L89.5 105.0L89.9 107.2L88.0 106.1L86.0 107.2L86.5 105.0L84.8 103.5L87.0 103.2ZM98.4 141.5L99.3 143.5L101.5 143.8L99.9 145.3L100.3 147.5L98.4 146.4L96.4 147.5L96.9 145.3L95.2 143.8L97.4 143.5ZM74.3 142.6L75.3 144.6L77.5 144.9L75.9 146.4L76.3 148.6L74.3 147.5L72.4 148.6L72.8 146.4L71.2 144.9L73.4 144.6ZM61.8 85.5L62.7 87.5L65.0 87.8L63.3 89.3L63.8 91.4L61.8 90.4L59.9 91.4L60.3 89.3L58.7 87.8L60.9 87.5ZM80.4 82.6L81.3 84.7L83.5 84.9L81.9 86.4L82.3 88.6L80.4 87.5L78.4 88.6L78.9 86.4L77.2 84.9L79.5 84.7ZM54.6 106.0L55.6 108.0L57.8 108.3L56.1 109.8L56.6 112.0L54.6 110.9L52.7 112.0L53.1 109.8L51.5 108.3L53.7 108.0ZM81.1 90.4L82.0 92.4L84.2 92.7L82.6 94.2L83.0 96.4L81.1 95.3L79.1 96.4L79.6 94.2L77.9 92.7L80.1 92.4ZM44.7 134.5L45.6 136.5L47.9 136.8L46.2 138.3L46.7 140.5L44.7 139.4L42.8 140.5L43.2 138.3L41.6 136.8L43.8 136.5ZM62.1 140.1L63.0 142.2L65.2 142.4L63.6 143.9L64.0 146.1L62.1 145.0L60.1 146.1L60.6 143.9L58.9 142.4L61.2 142.2ZM99.4 104.1L100.3 106.1L102.5 106.4L100.9 107.9L101.3 110.1L99.4 109.0L97.4 110.1L97.9 107.9L96.2 106.4L98.5 106.1ZM71.5 112.9L72.4 115.0L74.6 115.2L73.0 116.7L73.4 118.9L71.5 117.8L69.5 118.9L70.0 116.7L68.3 115.2L70.5 115.0ZM83.2 117.6L84.1 119.6L86.3 119.9L84.7 121.4L85.1 123.6L83.2 122.5L81.3 123.6L81.7 121.4L80.1 119.9L82.3 119.6ZM77.8 119.1L78.7 121.2L80.9 121.4L79.3 122.9L79.7 125.1L77.8 124.0L75.9 125.1L76.3 122.9L74.7 121.4L76.9 121.2ZM102.2 112.1L103.1 114.2L105.3 114.4L103.7 115.9L104.1 118.1L102.2 117.0L100.3 118.1L100.7 115.9L99.1 114.4L101.3 114.2ZM69.6 125.4L70.5 127.4L72.7 127.6L71.1 129.1L71.5 131.3L69.6 130.2L67.7 131.3L68.1 129.1L66.5 127.6L68.7 127.4ZM57.2 99.4L58.1 101.4L60.3 101.6L58.7 103.2L59.1 105.3L57.2 104.3L55.3 105.3L55.7 103.2L54.1 101.6L56.3 101.4ZM104.6 113.0L105.5 115.0L107.7 115.3L106.1 116.8L106.5 119.0L104.6 117.9L102.6 119.0L103.1 116.8L101.4 115.3L103.6 115.0ZM77.1 81.4L78.0 83.4L80.2 83.7L78.6 85.2L79.0 87.4L77.1 86.3L75.2 87.4L75.6 85.2L74.0 83.7L76.2 83.4ZM68.6 116.7L69.5 118.7L71.7 118.9L70.1 120.4L70.5 122.6L68.6 121.5L66.6 122.6L67.1 120.4L65.4 118.9L67.6 118.7ZM43.3 118.9L44.2 120.9L46.4 121.2L44.8 122.7L45.2 124.8L43.3 123.8L41.3 124.8L41.8 122.7L40.1 121.2L42.4 120.9ZM82.5 84.4L83.4 86.4L85.6 86.7L84.0 88.2L84.4 90.4L82.5 89.3L80.5 90.4L81.0 88.2L79.3 86.7L81.5 86.4ZM82.1 109.6L83.1 111.6L85.3 111.9L83.7 113.4L84.1 115.6L82.1 114.5L80.2 115.6L80.6 113.4L79.0 111.9L81.2 111.6ZM85.5 102.6L86.4 104.6L88.6 104.8L87.0 106.3L87.4 108.5L85.5 107.4L83.5 108.5L84.0 106.3L82.3 104.8L84.5 104.6ZM87.2 126.5L88.2 128.5L90.4 128.7L88.8 130.2L89.2 132.4L87.2 131.3L85.3 132.4L85.7 130.2L84.1 128.7L86.3 128.5ZM43.4 84.5L44.4 86.5L46.6 86.7L44.9 88.2L45.4 90.4L43.4 89.3L41.5 90.4L41.9 88.2L40.3 86.7L42.5 86.5ZM85.3 140.4L86.2 142.4L88.4 142.7L86.8 144.2L87.2 146.4L85.3 145.3L83.3 146.4L83.8 144.2L82.1 142.7L84.3 142.4ZM58.1 109.0L59.0 111.0L61.2 111.3L59.6 112.8L60.0 115.0L58.1 113.9L56.1 115.0L56.6 112.8L54.9 111.3L57.1 111.0ZM79.9 100.5L80.9 102.6L83.1 102.8L81.4 104.3L81.9 106.5L79.9 105.4L78.0 106.5L78.4 104.3L76.8 102.8L79.0 102.6ZM65.3 100.1L66.2 102.1L68.4 102.4L66.8 103.9L67.2 106.1L65.3 105.0L63.4 106.1L63.8 103.9L62.2 102.4L64.4 102.1ZM65.6 117.6L66.6 119.6L68.8 119.9L67.1 121.4L67.6 123.6L65.6 122.5L63.7 123.6L64.1 121.4L62.5 119.9L64.7 119.6ZM61.2 104.1L62.2 106.1L64.4 106.4L62.7 107.9L63.2 110.1L61.2 109.0L59.3 110.1L59.7 107.9L58.1 106.4L60.3 106.1ZM91.4 82.4L92.4 84.4L94.6 84.6L92.9 86.2L93.4 88.3L91.4 87.3L89.5 88.3L89.9 86.2L88.3 84.6L90.5 84.4ZM78.4 126.3L79.4 128.3L81.6 128.6L79.9 130.1L80.4 132.3L78.4 131.2L76.5 132.3L76.9 130.1L75.3 128.6L77.5 128.3ZM61.8 94.5L62.8 96.5L65.0 96.8L63.3 98.3L63.8 100.5L61.8 99.4L59.9 100.5L60.3 98.3L58.7 96.8L60.9 96.5ZM93.4 95.5L94.4 97.5L96.6 97.8L95.0 99.3L95.4 101.5L93.4 100.4L91.5 101.5L91.9 99.3L90.3 97.8L92.5 97.5ZM54.0 107.7L54.9 109.7L57.1 110.0L55.5 111.5L55.9 113.7L54.0 112.6L52.1 113.7L52.5 111.5L50.9 110.0L53.1 109.7ZM86.7 87.0L87.6 89.0L89.8 89.3L88.2 90.8L88.6 93.0L86.7 91.9L84.7 93.0L85.2 90.8L83.5 89.3L85.7 89.0ZM62.6 101.4L63.5 103.4L65.7 103.7L64.1 105.2L64.5 107.4L62.6 106.3L60.7 107.4L61.1 105.2L59.5 103.7L61.7 103.4ZM95.3 107.9L96.3 109.9L98.5 110.2L96.9 111.7L97.3 113.9L95.3 112.8L93.4 113.9L93.8 111.7L92.2 110.2L94.4 109.9ZM96.8 91.2L97.7 93.2L99.9 93.5L98.3 95.0L98.7 97.2L96.8 96.1L94.8 97.2L95.2 95.0L93.6 93.5L95.8 93.2ZM63.5 121.0L64.5 123.0L66.7 123.3L65.1 124.8L65.5 127.0L63.5 125.9L61.6 127.0L62.0 124.8L60.4 123.3L62.6 123.0ZM98.6 108.7L99.6 110.7L101.8 110.9L100.1 112.5L100.6 114.6L98.6 113.6L96.7 114.6L97.1 112.5L95.5 110.9L97.7 110.7ZM56.4 88.2L57.3 90.2L59.5 90.5L57.9 92.0L58.3 94.2L56.4 93.1L54.5 94.2L54.9 92.0L53.3 90.5L55.5 90.2ZM75.9 92.5L76.8 94.5L79.0 94.8L77.4 96.3L77.8 98.5L75.9 97.4L74.0 98.5L74.4 96.3L72.8 94.8L75.0 94.5ZM93.6 132.7L94.6 134.7L96.8 135.0L95.1 136.5L95.6 138.7L93.6 137.6L91.7 138.7L92.1 136.5L90.5 135.0L92.7 134.7ZM53.7 98.0L54.7 100.0L56.9 100.3L55.3 101.8L55.7 103.9L53.7 102.9L51.8 103.9L52.2 101.8L50.6 100.3L52.8 100.0ZM93.7 120.5L94.6 122.5L96.8 122.8L95.2 124.3L95.6 126.5L93.7 125.4L91.7 126.5L92.2 124.3L90.5 122.8L92.7 122.5ZM93.6 102.1L94.5 104.1L96.7 104.4L95.1 105.9L95.5 108.1L93.6 107.0L91.7 108.1L92.1 105.9L90.5 104.4L92.7 104.1ZM50.3 98.8L51.2 100.8L53.4 101.1L51.8 102.6L52.2 104.8L50.3 103.7L48.4 104.8L48.8 102.6L47.2 101.1L49.4 100.8ZM92.8 97.5L93.7 99.5L95.9 99.8L94.3 101.3L94.7 103.5L92.8 102.4L90.9 103.5L91.3 101.3L89.7 99.8L91.9 99.5ZM64.2 106.5L65.1 108.6L67.3 108.8L65.7 110.3L66.1 112.5L64.2 111.4L62.2 112.5L62.7 110.3L61.0 108.8L63.2 108.6ZM68.9 106.1L69.8 108.1L72.0 108.4L70.4 109.9L70.8 112.1L68.9 111.0L66.9 112.1L67.4 109.9L65.7 108.4L67.9 108.1ZM100.9 90.4L101.9 92.4L104.1 92.7L102.4 94.2L102.9 96.3L100.9 95.3L99.0 96.3L99.4 94.2L97.8 92.7L100.0 92.4ZM42.3 139.2L43.2 141.2L45.4 141.5L43.8 143.0L44.2 145.2L42.3 144.1L40.4 145.2L40.8 143.0L39.2 141.5L41.4 141.2ZM98.3 141.9L99.2 143.9L101.5 144.2L99.8 145.7L100.3 147.9L98.3 146.8L96.4 147.9L96.8 145.7L95.2 144.2L97.4 143.9ZM69.8 139.6L70.7 141.6L72.9 141.9L71.3 143.4L71.7 145.6L69.8 144.5L67.9 145.6L68.3 143.4L66.7 141.9L68.9 141.6ZM101.4 94.5L102.3 96.5L104.5 96.7L102.9 98.3L103.3 100.4L101.4 99.4L99.4 100.4L99.8 98.3L98.2 96.7L100.4 96.5ZM89.7 132.6L90.6 134.6L92.9 134.9L91.2 136.4L91.7 138.5L89.7 137.5L87.8 138.5L88.2 136.4L86.6 134.9L88.8 134.6ZM84.4 112.9L85.4 114.9L87.6 115.2L85.9 116.7L86.4 118.8L84.4 117.8L82.5 118.8L82.9 116.7L81.3 115.2L83.5 114.9ZM60.5 101.8L61.4 103.9L63.6 104.1L62.0 105.6L62.4 107.8L60.5 106.7L58.6 107.8L59.0 105.6L57.4 104.1L59.6 103.9ZM56.6 84.9L57.5 86.9L59.7 87.2L58.1 88.7L58.5 90.9L56.6 89.8L54.6 90.9L55.1 88.7L53.4 87.2L55.6 86.9ZM79.7 98.5L80.6 100.5L82.8 100.8L81.2 102.3L81.6 104.5L79.7 103.4L77.7 104.5L78.2 102.3L76.5 100.8L78.7 100.5ZM93.9 83.5L94.8 85.5L97.0 85.8L95.4 87.3L95.8 89.5L93.9 88.4L91.9 89.5L92.3 87.3L90.7 85.8L92.9 85.5ZM99.8 123.7L100.8 125.7L103.0 126.0L101.3 127.5L101.8 129.7L99.8 128.6L97.9 129.7L98.3 127.5L96.7 126.0L98.9 125.7ZM101.1 136.3L102.1 138.3L104.3 138.6L102.6 140.1L103.1 142.3L101.1 141.2L99.2 142.3L99.6 140.1L98.0 138.6L100.2 138.3ZM99.6 116.5L100.5 118.5L102.7 118.8L101.1 120.3L101.5 122.4L99.6 121.4L97.6 122.4L98.1 120.3L96.4 118.8L98.6 118.5ZM42.8 126.9L43.8 128.9L46.0 129.2L44.3 130.7L44.8 132.9L42.8 131.8L40.9 132.9L41.3 130.7L39.7 129.2L41.9 128.9ZM53.0 99.3L53.9 101.3L56.1 101.6L54.5 103.1L54.9 105.3L53.0 104.2L51.1 105.3L51.5 103.1L49.9 101.6L52.1 101.3ZM84.4 113.2L85.4 115.3L87.6 115.5L85.9 117.0L86.4 119.2L84.4 118.1L82.5 119.2L82.9 117.0L81.3 115.5L83.5 115.3ZM68.5 138.9L69.4 140.9L71.6 141.2L70.0 142.7L70.4 144.9L68.5 143.8L66.5 144.9L67.0 142.7L65.3 141.2L67.5 140.9ZM81.2 101.9L82.1 103.9L84.3 104.1L82.7 105.7L83.1 107.8L81.2 106.7L79.2 107.8L79.7 105.7L78.0 104.1L80.2 103.9ZM58.2 134.1L59.1 136.1L61.3 136.4L59.7 137.9L60.1 140.1L58.2 139.0L56.2 140.1L56.7 137.9L55.0 136.4L57.2 136.1ZM72.5 129.2L73.5 131.2L75.7 131.5L74.0 133.0L74.5 135.2L72.5 134.1L70.6 135.2L71.0 133.0L69.4 131.5L71.6 131.2ZM64.5 92.9L65.4 95.0L67.7 95.2L66.0 96.7L66.5 98.9L64.5 97.8L62.6 98.9L63.0 96.7L61.4 95.2L63.6 95.0ZM76.2 131.3L77.1 133.4L79.4 133.6L77.7 135.1L78.2 137.3L76.2 136.2L74.3 137.3L74.7 135.1L73.1 133.6L75.3 133.4ZM53.0 129.8L53.9 131.8L56.1 132.1L54.5 133.6L54.9 135.8L53.0 134.7L51.0 135.8L51.5 133.6L49.8 132.1L52.0 131.8ZM101.0 130.7L101.9 132.7L104.1 133.0L102.5 134.5L102.9 136.6L101.0 135.6L99.1 136.6L99.5 134.5L97.9 133.0L100.1 132.7ZM94.7 81.2L95.6 83.2L97.8 83.4L96.2 85.0L96.6 87.1L94.7 86.0L92.8 87.1L93.2 85.0L91.6 83.4L93.8 83.2ZM82.2 134.2L83.2 136.2L85.4 136.5L83.7 138.0L84.2 140.1L82.2 139.1L80.3 140.1L80.7 138.0L79.1 136.5L81.3 136.2ZM45.2 97.5L46.1 99.5L48.3 99.8L46.7 101.3L47.1 103.5L45.2 102.4L43.3 103.5L43.7 101.3L42.1 99.8L44.3 99.5ZM59.2 113.4L60.1 115.4L62.3 115.7L60.7 117.2L61.1 119.4L59.2 118.3L57.2 119.4L57.7 117.2L56.1 115.7L58.3 115.4ZM69.1 110.0L70.0 112.0L72.2 112.3L70.6 113.8L71.0 116.0L69.1 114.9L67.1 116.0L67.6 113.8L65.9 112.3L68.1 112.0ZM84.1 122.3L85.0 124.3L87.2 124.6L85.6 126.1L86.0 128.3L84.1 127.2L82.1 128.3L82.6 126.1L80.9 124.6L83.1 124.3ZM87.9 123.9L88.9 126.0L91.1 126.2L89.4 127.7L89.9 129.9L87.9 128.8L86.0 129.9L86.4 127.7L84.8 126.2L87.0 126.0ZM86.1 124.6L87.1 126.6L89.3 126.8L87.6 128.3L88.1 130.5L86.1 129.4L84.2 130.5L84.6 128.3L83.0 126.8L85.2 126.6ZM99.5 120.5L100.4 122.5L102.6 122.8L101.0 124.3L101.4 126.5L99.5 125.4L97.6 126.5L98.0 124.3L96.4 122.8L98.6 122.5ZM92.1 127.0L93.0 129.0L95.2 129.2L93.6 130.7L94.0 132.9L92.1 131.8L90.2 132.9L90.6 130.7L89.0 129.2L91.2 129.0ZM81.2 128.3L82.1 130.3L84.3 130.6L82.7 132.1L83.1 134.2L81.2 133.2L79.3 134.2L79.7 132.1L78.1 130.6L80.3 130.3ZM77.1 130.8L78.1 132.8L80.3 133.1L78.6 134.6L79.1 136.8L77.1 135.7L75.2 136.8L75.6 134.6L74.0 133.1L76.2 132.8ZM77.5 119.3L78.5 121.3L80.7 121.6L79.0 123.1L79.5 125.2L77.5 124.2L75.6 125.2L76.0 123.1L74.4 121.6L76.6 121.3ZM86.6 128.5L87.5 130.5L89.7 130.8L88.1 132.3L88.5 134.5L86.6 133.4L84.6 134.5L85.1 132.3L83.4 130.8L85.7 130.5ZM91.3 129.0L92.2 131.0L94.4 131.2L92.8 132.7L93.2 134.9L91.3 133.8L89.3 134.9L89.8 132.7L88.1 131.2L90.3 131.0ZM82.3 116.0L83.3 118.0L85.5 118.3L83.8 119.8L84.3 122.0L82.3 120.9L80.4 122.0L80.8 119.8L79.2 118.3L81.4 118.0ZM88.4 124.8L89.3 126.8L91.5 127.1L89.9 128.6L90.3 130.8L88.4 129.7L86.5 130.8L86.9 128.6L85.3 127.1L87.5 126.8ZM76.4 129.5L77.3 131.5L79.5 131.8L77.9 133.3L78.3 135.5L76.4 134.4L74.4 135.5L74.9 133.3L73.2 131.8L75.4 131.5ZM85.6 116.0L86.5 118.0L88.7 118.3L87.1 119.8L87.5 122.0L85.6 120.9L83.7 122.0L84.1 119.8L82.5 118.3L84.7 118.0ZM87.5 113.4L88.5 115.4L90.7 115.7L89.0 117.2L89.5 119.4L87.5 118.3L85.6 119.4L86.0 117.2L84.4 115.7L86.6 115.4ZM122.6 134.1L123.5 136.1L125.8 136.4L124.1 137.9L124.6 140.1L122.6 139.0L120.7 140.1L121.1 137.9L119.5 136.4L121.7 136.1ZM119.2 132.8L120.1 134.9L122.4 135.1L120.7 136.6L121.2 138.8L119.2 137.7L117.3 138.8L117.7 136.6L116.1 135.1L118.3 134.9ZM120.2 135.3L121.2 137.3L123.4 137.6L121.8 139.1L122.2 141.2L120.2 140.2L118.3 141.2L118.7 139.1L117.1 137.6L119.3 137.3ZM123.4 133.3L124.3 135.4L126.5 135.6L124.9 137.1L125.3 139.3L123.4 138.2L121.4 139.3L121.9 137.1L120.2 135.6L122.4 135.4ZM119.5 131.5L120.4 133.5L122.6 133.8L121.0 135.3L121.4 137.5L119.5 136.4L117.5 137.5L118.0 135.3L116.3 133.8L118.6 133.5ZM131.7 134.3L132.7 136.3L134.9 136.6L133.2 138.1L133.7 140.3L131.7 139.2L129.8 140.3L130.2 138.1L128.6 136.6L130.8 136.3ZM117.8 135.9L118.7 138.0L120.9 138.2L119.3 139.7L119.7 141.9L117.8 140.8L115.9 141.9L116.3 139.7L114.7 138.2L116.9 138.0ZM131.5 131.4L132.4 133.4L134.6 133.7L133.0 135.2L133.4 137.4L131.5 136.3L129.5 137.4L130.0 135.2L128.3 133.7L130.5 133.4ZM134.1 129.0L135.0 131.0L137.2 131.3L135.6 132.8L136.0 135.0L134.1 133.9L132.1 135.0L132.6 132.8L130.9 131.3L133.2 131.0ZM126.6 136.6L127.5 138.6L129.7 138.9L128.1 140.4L128.5 142.6L126.6 141.5L124.6 142.6L125.1 140.4L123.4 138.9L125.6 138.6ZM133.6 137.2L134.5 139.2L136.7 139.5L135.1 141.0L135.5 143.2L133.6 142.1L131.6 143.2L132.0 141.0L130.4 139.5L132.6 139.2ZM121.5 126.5L122.5 128.5L124.7 128.7L123.0 130.3L123.5 132.4L121.5 131.4L119.6 132.4L120.0 130.3L118.4 128.7L120.6 128.5ZM129.0 127.7L129.9 129.7L132.1 130.0L130.5 131.5L130.9 133.7L129.0 132.6L127.0 133.7L127.5 131.5L125.8 130.0L128.0 129.7ZM126.3 128.2L127.3 130.2L129.5 130.5L127.8 132.0L128.3 134.2L126.3 133.1L124.4 134.2L124.8 132.0L123.2 130.5L125.4 130.2ZM132.3 135.5L133.2 137.5L135.4 137.8L133.8 139.3L134.2 141.5L132.3 140.4L130.4 141.5L130.8 139.3L129.2 137.8L131.4 137.5ZM129.8 132.8L130.7 134.8L132.9 135.0L131.3 136.5L131.7 138.7L129.8 137.6L127.8 138.7L128.3 136.5L126.6 135.0L128.9 134.8ZM127.2 131.7L128.2 133.7L130.4 133.9L128.7 135.4L129.2 137.6L127.2 136.5L125.3 137.6L125.7 135.4L124.1 133.9L126.3 133.7ZM128.9 133.6L129.8 135.6L132.1 135.9L130.4 137.4L130.9 139.5L128.9 138.5L127.0 139.5L127.4 137.4L125.8 135.9L128.0 135.6ZM129.3 131.2L130.2 133.2L132.4 133.5L130.8 135.0L131.2 137.2L129.3 136.1L127.4 137.2L127.8 135.0L126.2 133.5L128.4 133.2ZM136.5 133.7L137.4 135.7L139.6 136.0L138.0 137.5L138.4 139.7L136.5 138.6L134.6 139.7L135.0 137.5L133.4 136.0L135.6 135.7ZM134.0 137.4L134.9 139.4L137.1 139.6L135.5 141.1L135.9 143.3L134.0 142.2L132.0 143.3L132.5 141.1L130.8 139.6L133.0 139.4ZM122.6 126.8L123.5 128.8L125.7 129.1L124.1 130.6L124.5 132.8L122.6 131.7L120.7 132.8L121.1 130.6L119.5 129.1L121.7 128.8ZM165.4 88.5L166.3 90.6L168.5 90.8L166.9 92.3L167.3 94.5L165.4 93.4L163.5 94.5L163.9 92.3L162.3 90.8L164.5 90.6ZM161.3 88.9L162.2 90.9L164.4 91.2L162.8 92.7L163.2 94.9L161.3 93.8L159.3 94.9L159.8 92.7L158.1 91.2L160.4 90.9ZM161.5 86.1L162.4 88.1L164.6 88.4L163.0 89.9L163.4 92.1L161.5 91.0L159.5 92.1L160.0 89.9L158.3 88.4L160.5 88.1ZM160.6 88.3L161.6 90.3L163.8 90.6L162.1 92.1L162.6 94.3L160.6 93.2L158.7 94.3L159.1 92.1L157.5 90.6L159.7 90.3ZM160.9 82.7L161.9 84.7L164.1 85.0L162.5 86.5L162.9 88.7L160.9 87.6L159.0 88.7L159.4 86.5L157.8 85.0L160.0 84.7ZM163.9 90.7L164.8 92.7L167.0 93.0L165.4 94.5L165.8 96.7L163.9 95.6L161.9 96.7L162.4 94.5L160.7 93.0L162.9 92.7ZM155.0 87.5L155.9 89.5L158.1 89.8L156.5 91.3L156.9 93.5L155.0 92.4L153.0 93.5L153.4 91.3L151.8 89.8L154.0 89.5ZM161.1 91.6L162.0 93.6L164.2 93.9L162.6 95.4L163.0 97.6L161.1 96.5L159.2 97.6L159.6 95.4L158.0 93.9L160.2 93.6ZM161.0 93.9L161.9 95.9L164.1 96.1L162.5 97.6L162.9 99.8L161.0 98.7L159.1 99.8L159.5 97.6L157.9 96.1L160.1 95.9ZM161.1 86.7L162.0 88.7L164.2 89.0L162.6 90.5L163.0 92.7L161.1 91.6L159.1 92.7L159.6 90.5L157.9 89.0L160.1 88.7ZM158.6 91.9L159.6 93.9L161.8 94.2L160.1 95.7L160.6 97.9L158.6 96.8L156.7 97.9L157.1 95.7L155.5 94.2L157.7 93.9ZM158.9 92.2L159.8 94.2L162.0 94.5L160.4 96.0L160.8 98.2L158.9 97.1L156.9 98.2L157.3 96.0L155.7 94.5L157.9 94.2ZM164.6 91.5L165.5 93.5L167.7 93.7L166.1 95.3L166.5 97.4L164.6 96.3L162.6 97.4L163.1 95.3L161.4 93.7L163.6 93.5ZM164.6 89.2L165.5 91.2L167.7 91.5L166.1 93.0L166.5 95.1L164.6 94.1L162.6 95.1L163.1 93.0L161.4 91.5L163.6 91.2ZM161.0 87.9L161.9 89.9L164.1 90.2L162.5 91.7L162.9 93.9L161.0 92.8L159.0 93.9L159.5 91.7L157.8 90.2L160.0 89.9ZM158.9 85.0L159.8 87.0L162.0 87.3L160.4 88.8L160.8 91.0L158.9 89.9L156.9 91.0L157.4 88.8L155.7 87.3L157.9 87.0ZM121.7 94.3L122.6 96.3L124.8 96.6L123.2 98.1L123.6 100.2L121.7 99.2L119.7 100.2L120.2 98.1L118.5 96.6L120.7 96.3ZM116.4 101.6L117.4 103.6L119.6 103.9L117.9 105.4L118.4 107.5L116.4 106.5L114.5 107.5L114.9 105.4L113.3 103.9L115.5 103.6ZM127.7 98.6L128.7 100.7L130.9 100.9L129.2 102.4L129.7 104.6L127.7 103.5L125.8 104.6L126.2 102.4L124.6 100.9L126.8 100.7ZM133.2 106.3L134.1 108.4L136.3 108.6L134.7 110.1L135.2 112.3L133.2 111.2L131.3 112.3L131.7 110.1L130.1 108.6L132.3 108.4ZM131.3 97.1L132.2 99.1L134.4 99.4L132.8 100.9L133.2 103.0L131.3 102.0L129.3 103.0L129.8 100.9L128.1 99.4L130.3 99.1ZM116.0 104.0L117.0 106.1L119.2 106.3L117.6 107.8L118.0 110.0L116.0 108.9L114.1 110.0L114.5 107.8L112.9 106.3L115.1 106.1ZM126.8 105.1L127.8 107.1L130.0 107.3L128.4 108.8L128.8 111.0L126.8 109.9L124.9 111.0L125.3 108.8L123.7 107.3L125.9 107.1ZM127.5 108.3L128.4 110.3L130.6 110.5L129.0 112.1L129.4 114.2L127.5 113.1L125.6 114.2L126.0 112.1L124.4 110.5L126.6 110.3ZM123.3 104.7L124.2 106.7L126.4 107.0L124.8 108.5L125.2 110.7L123.3 109.6L121.3 110.7L121.8 108.5L120.1 107.0L122.3 106.7ZM131.7 60.5L132.7 62.6L134.9 62.8L133.2 64.3L133.7 66.5L131.7 65.4L129.8 66.5L130.2 64.3L128.6 62.8L130.8 62.6ZM134.9 87.2L135.8 89.2L138.0 89.5L136.4 91.0L136.8 93.2L134.9 92.1L133.0 93.2L133.4 91.0L131.8 89.5L134.0 89.2ZM126.3 83.8L127.2 85.8L129.4 86.1L127.8 87.6L128.2 89.8L126.3 88.7L124.3 89.8L124.8 87.6L123.1 86.1L125.3 85.8ZM133.2 73.9L134.2 75.9L136.4 76.2L134.7 77.7L135.2 79.9L133.2 78.8L131.3 79.9L131.7 77.7L130.1 76.2L132.3 75.9ZM138.3 78.2L139.2 80.2L141.4 80.5L139.8 82.0L140.2 84.2L138.3 83.1L136.4 84.2L136.8 82.0L135.2 80.5L137.4 80.2ZM131.2 77.6L132.1 79.6L134.3 79.9L132.7 81.4L133.1 83.6L131.2 82.5L129.2 83.6L129.7 81.4L128.0 79.9L130.2 79.6ZM141.1 82.5L142.0 84.6L144.2 84.8L142.6 86.3L143.0 88.5L141.1 87.4L139.2 88.5L139.6 86.3L138.0 84.8L140.2 84.6ZM132.7 87.6L133.6 89.6L135.9 89.8L134.2 91.3L134.7 93.5L132.7 92.4L130.8 93.5L131.2 91.3L129.6 89.8L131.8 89.6ZM151.4 93.6L152.3 95.6L154.5 95.9L152.9 97.4L153.3 99.6L151.4 98.5L149.4 99.6L149.8 97.4L148.2 95.9L150.4 95.6ZM102.6 55.6L103.6 57.6L105.8 57.8L104.2 59.4L104.6 61.5L102.6 60.4L100.7 61.5L101.1 59.4L99.5 57.8L101.7 57.6ZM101.4 56.6L102.3 58.6L104.5 58.9L102.9 60.4L103.3 62.6L101.4 61.5L99.4 62.6L99.8 60.4L98.2 58.9L100.4 58.6ZM107.4 49.0L108.3 51.0L110.5 51.2L108.9 52.7L109.3 54.9L107.4 53.8L105.4 54.9L105.9 52.7L104.2 51.2L106.5 51.0ZM102.0 55.6L103.0 57.7L105.2 57.9L103.5 59.4L104.0 61.6L102.0 60.5L100.1 61.6L100.5 59.4L98.9 57.9L101.1 57.7ZM107.6 50.7L108.5 52.8L110.7 53.0L109.1 54.5L109.5 56.7L107.6 55.6L105.6 56.7L106.1 54.5L104.4 53.0L106.6 52.8ZM105.3 42.1L106.3 44.1L108.5 44.3L106.9 45.9L107.3 48.0L105.3 47.0L103.4 48.0L103.8 45.9L102.2 44.3L104.4 44.1ZM104.2 55.4L105.2 57.5L107.4 57.7L105.7 59.2L106.2 61.4L104.2 60.3L102.3 61.4L102.7 59.2L101.1 57.7L103.3 57.5ZM106.4 62.6L107.3 64.6L109.5 64.9L107.9 66.4L108.3 68.6L106.4 67.5L104.4 68.6L104.9 66.4L103.2 64.9L105.4 64.6Z" fill="#161616"/>
<path d="M99.6 31.7L104.2 40.0L94.9 40.0ZM106.0 42.9L110.7 51.2L101.3 51.2ZM105.5 52.0L110.2 60.3L100.8 60.3ZM124.8 45.7L129.4 54.0L120.1 54.0ZM146.3 65.7L151.0 74.0L141.7 74.0ZM128.1 97.5L132.8 105.8L123.4 105.8ZM49.4 105.0L54.0 113.3L44.8 113.3ZM92.1 112.0L96.8 120.3L87.4 120.3ZM101.1 110.8L105.8 119.1L96.4 119.1ZM239.7 112.3L244.3 120.6L235.0 120.6ZM130.1 158.6L134.8 166.9L125.4 166.9ZM209.8 165.7L214.5 174.0L205.2 174.0Z" fill="#3d40cf"/>
</g></g>
<rect x="40.65" y="523.70" width="23.70" height="4.80" fill="#1c1c1c"/>
<rect x="40.65" y="740.60" width="23.70" height="4.90" fill="#1c1c1c"/>
<rect x="88.04" y="523.70" width="23.70" height="4.80" fill="#1c1c1c"/>
<rect x="88.04" y="740.60" width="23.70" height="4.90" fill="#1c1c1c"/>
<rect x="135.43" y="523.70" width="23.69" height="4.80" fill="#1c1c1c"/>
<rect x="135.43" y="740.60" width="23.69" height="4.90" fill="#1c1c1c"/>
<rect x="182.82" y="523.70" width="23.69" height="4.80" fill="#1c1c1c"/>
<rect x="182.82" y="740.60" width="23.69" height="4.90" fill="#1c1c1c"/>
<rect x="230.21" y="523.70" width="23.70" height="4.80" fill="#1c1c1c"/>
<rect x="230.21" y="740.60" width="23.70" height="4.90" fill="#1c1c1c"/>
<rect x="35.50" y="528.50" width="5.15" height="27.38" fill="#1c1c1c"/>
<rect x="277.60" y="528.50" width="4.85" height="27.38" fill="#1c1c1c"/>
<rect x="35.50" y="582.99" width="5.15" height="26.85" fill="#1c1c1c"/>
<rect x="277.60" y="582.99" width="4.85" height="26.85" fill="#1c1c1c"/>
<rect x="35.50" y="636.44" width="5.15" height="26.36" fill="#1c1c1c"/>
<rect x="277.60" y="636.44" width="4.85" height="26.36" fill="#1c1c1c"/>
<rect x="35.50" y="688.94" width="5.15" height="25.93" fill="#1c1c1c"/>
<rect x="277.60" y="688.94" width="4.85" height="25.93" fill="#1c1c1c"/>
<rect x="35.50" y="523.70" width="246.95" height="221.80" fill="none" stroke="#1c1c1c" stroke-width="0.75"/>
<path d="M35.50 528.50H282.45M35.50 740.60H282.45M40.65 523.70V745.50M277.60 523.70V745.50" fill="none" stroke="#1c1c1c" stroke-width="0.75"/>
<path d="M40.65 523.70V521.70M40.65 745.50V747.50M111.74 523.70V521.70M111.74 745.50V747.50M182.82 523.70V521.70M182.82 745.50V747.50M253.91 523.70V521.70M253.91 745.50V747.50M35.50 714.87H33.50M282.45 714.87H284.45M35.50 636.44H33.50M282.45 636.44H284.45M35.50 555.88H33.50M282.45 555.88H284.45" stroke="#1c1c1c" stroke-width="0.8" fill="none"/>
<text x="27" y="720.27" text-anchor="end" class="t14">24&#176;</text>
<text x="27" y="641.84" text-anchor="end" class="t14">27&#176;</text>
<text x="27" y="561.28" text-anchor="end" class="t14">30&#176;</text>
<g fill="#c9c9c9" stroke="#9a9a9a" stroke-width="0.8"><rect x="311.50" y="730.00" width="6.10" height="10.55"/><rect x="317.60" y="676.40" width="12.20" height="64.15"/><rect x="329.81" y="683.30" width="12.20" height="57.25"/><rect x="342.01" y="614.10" width="12.20" height="126.45"/><rect x="354.21" y="579.10" width="12.20" height="161.45"/><rect x="366.42" y="594.60" width="12.20" height="145.95"/><rect x="378.62" y="603.30" width="12.20" height="137.25"/><rect x="390.83" y="598.20" width="12.20" height="142.35"/><rect x="403.03" y="577.30" width="12.20" height="163.25"/><rect x="415.23" y="535.70" width="12.20" height="204.85"/><rect x="427.44" y="542.80" width="12.20" height="197.75"/><rect x="439.64" y="627.60" width="12.20" height="112.95"/><rect x="451.85" y="622.20" width="12.20" height="118.35"/><rect x="464.05" y="662.00" width="12.20" height="78.55"/><rect x="476.25" y="636.30" width="12.20" height="104.25"/><rect x="488.46" y="671.00" width="12.20" height="69.55"/><rect x="500.66" y="678.20" width="12.20" height="62.35"/><rect x="512.87" y="672.50" width="12.20" height="68.05"/><rect x="525.07" y="702.10" width="12.20" height="38.45"/><rect x="537.27" y="711.10" width="12.20" height="29.45"/><rect x="549.48" y="725.20" width="12.20" height="15.35"/><rect x="561.68" y="723.10" width="12.20" height="17.45"/><rect x="573.89" y="725.20" width="12.20" height="15.35"/><rect x="586.09" y="721.00" width="12.20" height="19.55"/><rect x="598.29" y="714.10" width="12.20" height="26.45"/><rect x="610.50" y="730.00" width="6.10" height="10.55"/></g>
<path d="M311.50 740.55H304.10M616.60 740.55H624.00M311.50 734.05H307.50M616.60 734.05H620.60M311.50 727.54H307.50M616.60 727.54H620.60M311.50 721.04H307.50M616.60 721.04H620.60M311.50 714.53H307.50M616.60 714.53H620.60M311.50 708.03H307.50M616.60 708.03H620.60M311.50 701.53H307.50M616.60 701.53H620.60M311.50 695.02H307.50M616.60 695.02H620.60M311.50 688.52H304.10M616.60 688.52H624.00M311.50 682.01H307.50M616.60 682.01H620.60M311.50 675.51H307.50M616.60 675.51H620.60M311.50 669.01H307.50M616.60 669.01H620.60M311.50 662.50H307.50M616.60 662.50H620.60M311.50 656.00H307.50M616.60 656.00H620.60M311.50 649.49H307.50M616.60 649.49H620.60M311.50 642.99H307.50M616.60 642.99H620.60M311.50 636.49H304.10M616.60 636.49H624.00M311.50 629.98H307.50M616.60 629.98H620.60M311.50 623.48H307.50M616.60 623.48H620.60M311.50 616.97H307.50M616.60 616.97H620.60M311.50 610.47H307.50M616.60 610.47H620.60M311.50 603.97H307.50M616.60 603.97H620.60M311.50 597.46H307.50M616.60 597.46H620.60M311.50 590.96H307.50M616.60 590.96H620.60M311.50 584.45H304.10M616.60 584.45H624.00M311.50 577.95H307.50M616.60 577.95H620.60M311.50 571.45H307.50M616.60 571.45H620.60M311.50 564.94H307.50M616.60 564.94H620.60M311.50 558.44H307.50M616.60 558.44H620.60M311.50 551.93H307.50M616.60 551.93H620.60M311.50 545.43H307.50M616.60 545.43H620.60M311.50 538.93H307.50M616.60 538.93H620.60M311.50 532.42H304.10M616.60 532.42H624.00M311.50 525.92H307.50M616.60 525.92H620.60M342.01 523.75V520.05M342.01 740.55V744.25M372.52 523.75V516.85M372.52 740.55V747.45M403.03 523.75V520.05M403.03 740.55V744.25M433.54 523.75V516.85M433.54 740.55V747.45M464.05 523.75V520.05M464.05 740.55V744.25M494.56 523.75V516.85M494.56 740.55V747.45M525.07 523.75V520.05M525.07 740.55V744.25M555.58 523.75V516.85M555.58 740.55V747.45M586.09 523.75V520.05M586.09 740.55V744.25" stroke="#1c1c1c" stroke-width="0.9" fill="none"/>
<rect x="311.50" y="523.75" width="305.10" height="216.80" fill="none" stroke="#161616" stroke-width="2.9"/>
<text x="651.5" y="745.75" text-anchor="end" class="t14">0</text>
<text x="651.5" y="693.72" text-anchor="end" class="t14">30</text>
<text x="651.5" y="641.69" text-anchor="end" class="t14">60</text>
<text x="651.5" y="589.65" text-anchor="end" class="t14">90</text>
<text x="651.5" y="537.62" text-anchor="end" class="t14">120</text>
<text x="-0.6" y="9.6" class="t14">a)</text>
<text x="294.2" y="9.9" class="t14">b)</text>
<text x="0.3" y="267.8" class="t14">c)</text>
<text x="294.0" y="267.8" class="t14">d)</text>
<text x="0.1" y="521.6" class="t14">e)</text>
<text x="294.0" y="521.8" class="t14">f)</text>
<text x="40.85" y="764.3" text-anchor="middle" class="t14">54&#176;</text>
<text x="111.94" y="764.3" text-anchor="middle" class="t14">57&#176;</text>
<text x="183.02" y="764.3" text-anchor="middle" class="t14">60&#176;</text>
<text x="254.11" y="764.3" text-anchor="middle" class="t14">63&#176;</text>
<text x="372.52" y="764.2" text-anchor="middle" class="t14">100</text>
<text x="433.54" y="764.2" text-anchor="middle" class="t14">200</text>
<text x="494.56" y="764.2" text-anchor="middle" class="t14">300</text>
<text x="555.58" y="764.2" text-anchor="middle" class="t14">400</text>
<text x="464" y="782.8" text-anchor="middle" class="t12">inter&#8722;event distance (km)</text>
<text transform="translate(685.1,124.4) rotate(-90)" text-anchor="middle" class="ty">number of inter&#8722;event</text>
<text transform="translate(670.4,377.8) rotate(-90)" text-anchor="middle" class="ty">number of inter&#8722;event</text>
<text transform="translate(670.4,631.8) rotate(-90)" text-anchor="middle" class="ty">number of inter&#8722;event</text>
<text x="567.8" y="292.0" text-anchor="end" class="t12">station</text>
<text x="567.8" y="304.1" text-anchor="end" class="t12">alignment</text>
<text x="570.6" y="297.7" class="t12">&lt; 1</text>
<text x="585.6" y="288.6" class="t7">o</text>
<text x="589.5" y="550.2" text-anchor="end" class="t12">SNR &gt; 4</text>
</svg></body></html>
